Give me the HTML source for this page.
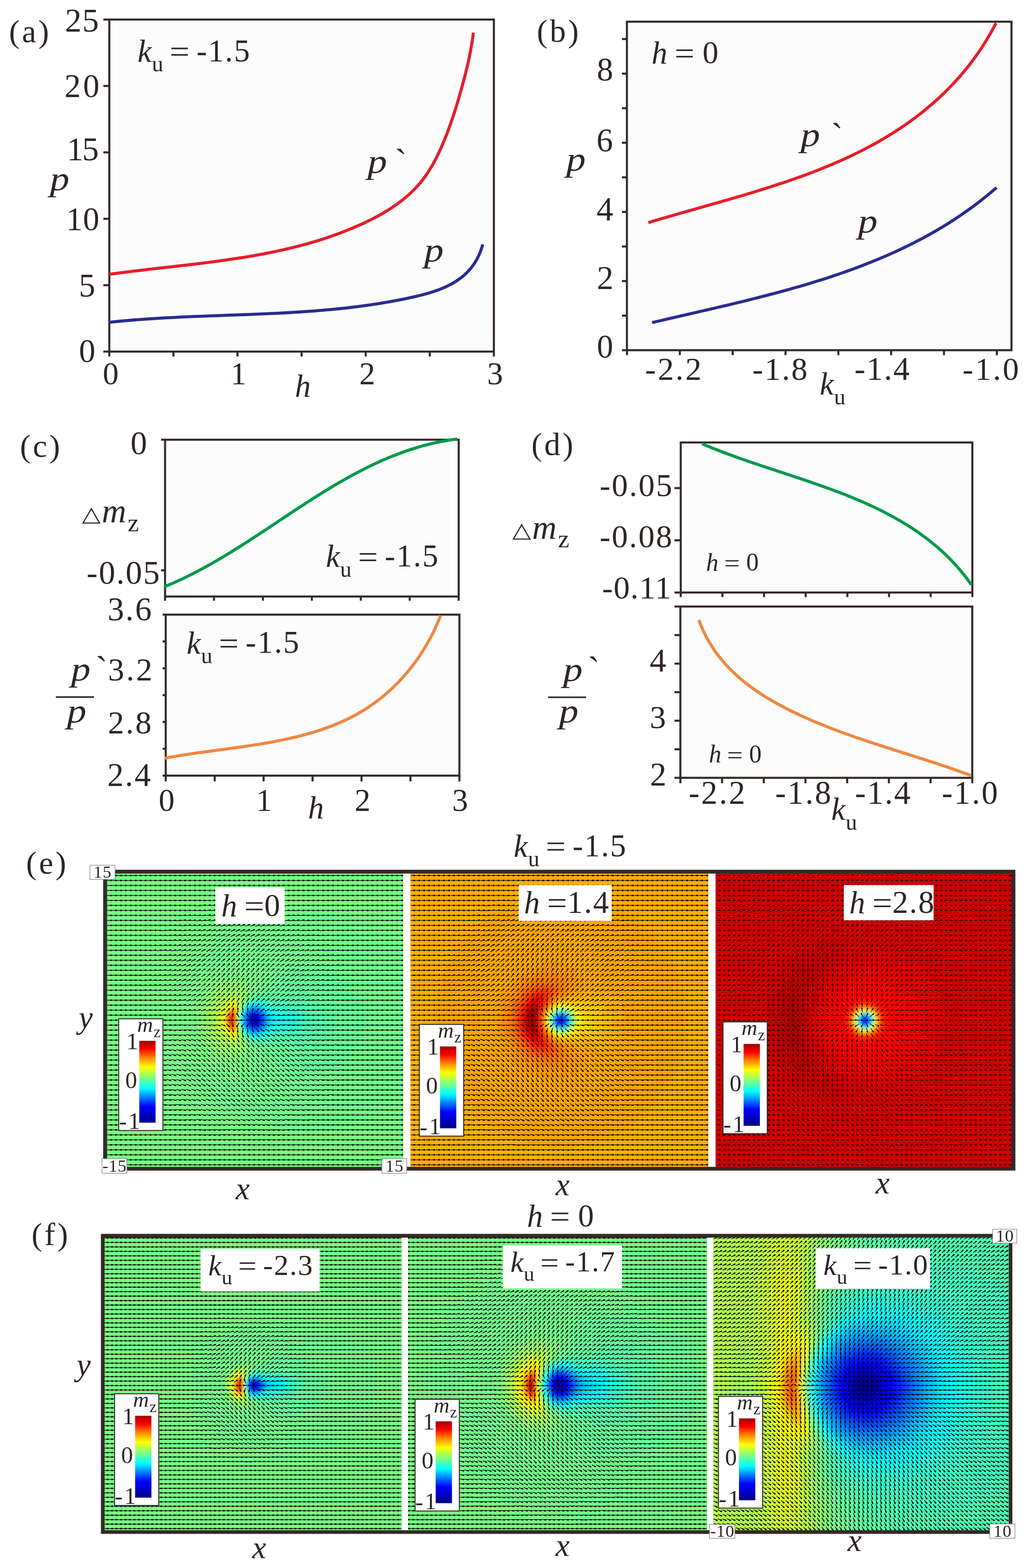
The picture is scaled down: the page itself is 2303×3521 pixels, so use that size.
<!DOCTYPE html>
<html><head><meta charset="utf-8"><title>figure</title>
<style>html,body{margin:0;padding:0;background:#fff;}svg{display:block;}
text{font-family:"Liberation Serif","Times New Roman",serif;fill:#2e2624;}</style></head>
<body><svg xmlns="http://www.w3.org/2000/svg" width="2303" height="3521" viewBox="0 0 2303 3521">
<rect width="2303" height="3521" fill="#fff"/>
<rect x="245.4" y="43.9" width="863.2" height="745.6" fill="#fcfcfc" stroke="#342a28" stroke-width="4.6"/>
<path d="M232 789.5L245.4 789.5" stroke="#342a28" stroke-width="4.6"/>
<path d="M232 640.4L245.4 640.4" stroke="#342a28" stroke-width="4.6"/>
<path d="M232 491.3L245.4 491.3" stroke="#342a28" stroke-width="4.6"/>
<path d="M232 342.1L245.4 342.1" stroke="#342a28" stroke-width="4.6"/>
<path d="M232 193L245.4 193" stroke="#342a28" stroke-width="4.6"/>
<path d="M232 43.9L245.4 43.9" stroke="#342a28" stroke-width="4.6"/>
<path d="M245.4 789.5L245.4 800.5" stroke="#342a28" stroke-width="4.6"/>
<path d="M389.3 789.5L389.3 800.5" stroke="#342a28" stroke-width="4.6"/>
<path d="M533.1 789.5L533.1 800.5" stroke="#342a28" stroke-width="4.6"/>
<path d="M677 789.5L677 800.5" stroke="#342a28" stroke-width="4.6"/>
<path d="M820.9 789.5L820.9 800.5" stroke="#342a28" stroke-width="4.6"/>
<path d="M964.7 789.5L964.7 800.5" stroke="#342a28" stroke-width="4.6"/>
<path d="M1108.6 789.5L1108.6 800.5" stroke="#342a28" stroke-width="4.6"/>
<text x="145.9" y="71.1" font-size="74" letter-spacing="1.9">25</text>
<text x="144.8" y="218.2" font-size="73.1" letter-spacing="5.1">20</text>
<text x="150.1" y="360.2" font-size="74.6" letter-spacing="-3">15</text>
<text x="148.5" y="516.9" font-size="73.5" letter-spacing="1">10</text>
<text x="177.1" y="665.7" font-size="73.6">5</text>
<text x="177.2" y="812.7" font-size="73.5">0</text>
<text x="230.7" y="863.2" font-size="71">0</text>
<text x="517.4" y="862.9" font-size="71">1</text>
<text x="806.5" y="863" font-size="71">2</text>
<text x="1093.5" y="863" font-size="71">3</text>
<path d="M244.8 616.0L258.5 614.2L272.2 612.4L285.9 610.6L299.6 608.9L313.4 607.3L327.2 605.7L341.1 604.0L355.0 602.5L368.9 600.9L382.8 599.3L396.7 597.7L410.6 596.1L424.6 594.5L438.6 592.8L452.5 591.1L466.5 589.4L480.4 587.6L494.4 585.7L508.3 583.7L522.2 581.7L536.1 579.6L550.0 577.4L563.9 575.1L577.7 572.6L591.5 570.1L605.3 567.4L619.0 564.5L632.7 561.6L646.4 558.4L660.0 555.2L673.5 551.7L687.1 548.1L700.5 544.2L713.9 540.2L727.3 536.0L740.5 531.6L753.7 526.9L766.9 522.0L779.9 516.9L792.9 511.5L805.8 505.9L818.7 500.1L831.4 493.9L843.9 487.4L856.2 480.7L868.2 473.5L880.0 466.0L891.4 458.1L902.5 449.8L913.1 441.1L923.3 431.9L933.0 422.2L942.1 412.1L950.6 401.4L958.6 390.2L966.0 378.6L973.0 366.6L979.5 354.3L985.6 341.7L991.4 328.9L996.9 316.0L1002.2 302.9L1007.2 289.7L1011.9 276.4L1016.5 263.0L1020.9 249.6L1025.1 236.2L1029.1 222.7L1033.0 209.2L1036.8 195.7L1040.5 182.3L1044.0 168.8L1047.3 155.3L1050.5 141.8L1053.4 128.3L1056.1 114.7L1058.5 101.0L1060.7 87.3L1062.6 73.4" stroke="#e61e2a" stroke-width="6.8" fill="none"/>
<path d="M244.7 723.8L255.9 722.6L267.1 721.5L278.4 720.4L289.6 719.5L300.9 718.5L312.1 717.6L323.4 716.8L334.6 716.0L345.9 715.3L357.1 714.6L368.4 713.9L379.7 713.3L391.0 712.8L402.3 712.2L413.5 711.7L424.8 711.2L436.1 710.7L447.4 710.3L458.7 709.8L470.0 709.4L481.3 709.0L492.6 708.6L503.9 708.2L515.2 707.7L526.6 707.3L537.9 706.9L549.2 706.5L560.5 706.1L571.8 705.6L583.1 705.2L594.4 704.7L605.7 704.2L617.0 703.6L628.3 703.1L639.6 702.5L650.9 701.9L662.2 701.2L673.5 700.5L684.8 699.7L696.1 698.9L707.4 698.1L718.7 697.2L730.0 696.2L741.3 695.2L752.5 694.1L763.8 693.0L775.1 691.8L786.3 690.5L797.6 689.1L808.8 687.7L820.1 686.2L831.3 684.6L842.6 682.9L853.8 681.1L865.0 679.2L876.2 677.3L887.4 675.2L898.6 673.1L909.8 670.8L921.0 668.4L932.2 665.9L943.3 663.3L954.3 660.4L965.2 657.3L975.9 653.8L986.4 650.1L996.6 645.9L1006.5 641.3L1016.0 636.2L1025.2 630.6L1034.0 624.4L1042.2 617.6L1050.0 610.1L1057.2 602.0L1063.9 593.0L1069.9 583.3L1075.2 572.7L1079.8 561.2L1083.7 548.8" stroke="#2a2c8e" stroke-width="6.8" fill="none"/>
<text x="20.2" y="95" font-size="72" letter-spacing="5">(a)</text>
<text x="662.1" y="891.3" font-size="71" font-style="italic">h</text>
<text transform="translate(112.1 427.2) scale(1.150 1)" font-size="76" font-style="italic">p</text>
<text x="308.7" y="138.9" font-size="71" font-style="italic">k</text>
<text x="340.9" y="160.2" font-size="51">u</text>
<text transform="translate(380.7 140.2) scale(1.120 1)" font-size="71">=</text>
<text x="440.9" y="137.7" font-size="71" letter-spacing="2.5">-1.5</text>
<text transform="translate(825.1 387.8) scale(1.150 1)" font-size="76" font-style="italic">p</text>
<text x="886.4" y="389.6" font-size="80">`</text>
<text transform="translate(952.1 586.8) scale(1.150 1)" font-size="76" font-style="italic">p</text>
<rect x="1407.2" y="48.7" width="863.2" height="737.7" fill="#fcfcfc" stroke="#342a28" stroke-width="4.6"/>
<path d="M1396 786.4L1407.2 786.4" stroke="#342a28" stroke-width="4.6"/>
<path d="M1396 708.8L1407.2 708.8" stroke="#342a28" stroke-width="4.6"/>
<path d="M1396 631.1L1407.2 631.1" stroke="#342a28" stroke-width="4.6"/>
<path d="M1396 553.5L1407.2 553.5" stroke="#342a28" stroke-width="4.6"/>
<path d="M1396 475.9L1407.2 475.9" stroke="#342a28" stroke-width="4.6"/>
<path d="M1396 398.2L1407.2 398.2" stroke="#342a28" stroke-width="4.6"/>
<path d="M1396 320.6L1407.2 320.6" stroke="#342a28" stroke-width="4.6"/>
<path d="M1396 243L1407.2 243" stroke="#342a28" stroke-width="4.6"/>
<path d="M1396 165.4L1407.2 165.4" stroke="#342a28" stroke-width="4.6"/>
<path d="M1396 87.7L1407.2 87.7" stroke="#342a28" stroke-width="4.6"/>
<path d="M1407.4 786.4L1407.4 797.5" stroke="#342a28" stroke-width="4.6"/>
<path d="M1526 786.4L1526 797.5" stroke="#342a28" stroke-width="4.6"/>
<path d="M1644.6 786.4L1644.6 797.5" stroke="#342a28" stroke-width="4.6"/>
<path d="M1763.2 786.4L1763.2 797.5" stroke="#342a28" stroke-width="4.6"/>
<path d="M1881.8 786.4L1881.8 797.5" stroke="#342a28" stroke-width="4.6"/>
<path d="M2000.3 786.4L2000.3 797.5" stroke="#342a28" stroke-width="4.6"/>
<path d="M2118.9 786.4L2118.9 797.5" stroke="#342a28" stroke-width="4.6"/>
<path d="M2237.5 786.4L2237.5 797.5" stroke="#342a28" stroke-width="4.6"/>
<text x="1339.7" y="803" font-size="73.2">0</text>
<text x="1339.8" y="649.3" font-size="74.6">2</text>
<text x="1339.1" y="494.6" font-size="75.1">4</text>
<text x="1339.1" y="340" font-size="73.5">6</text>
<text x="1339.7" y="181.3" font-size="73.2">8</text>
<text x="1448.1" y="853" font-size="72.8" letter-spacing="3.8">-2.2</text>
<text x="1688.8" y="853" font-size="72.4" letter-spacing="3">-1.8</text>
<text x="1917.9" y="853" font-size="73" letter-spacing="2.8">-1.4</text>
<text x="2160.6" y="853" font-size="72.4" letter-spacing="3.9">-1.0</text>
<path d="M1455.3 499.9L1466.2 496.6L1477.2 493.3L1488.2 490.1L1499.3 486.9L1510.4 483.7L1521.5 480.5L1532.7 477.3L1543.9 474.1L1555.1 470.9L1566.4 467.7L1577.7 464.5L1589.0 461.3L1600.3 458.1L1611.6 454.9L1623.0 451.6L1634.3 448.4L1645.7 445.1L1657.1 441.7L1668.5 438.4L1679.8 435.0L1691.2 431.6L1702.5 428.1L1713.9 424.5L1725.2 421.0L1736.5 417.3L1747.8 413.6L1759.1 409.9L1770.3 406.1L1781.5 402.2L1792.7 398.2L1803.8 394.2L1814.9 390.1L1826.0 385.9L1837.0 381.6L1847.9 377.2L1858.8 372.8L1869.7 368.2L1880.5 363.5L1891.2 358.8L1901.9 353.9L1912.5 348.9L1923.0 343.8L1933.5 338.6L1943.9 333.2L1954.2 327.8L1964.4 322.2L1974.6 316.5L1984.6 310.6L1994.6 304.6L2004.5 298.5L2014.3 292.2L2023.9 285.8L2033.5 279.2L2043.0 272.5L2052.3 265.7L2061.6 258.6L2070.7 251.5L2079.7 244.2L2088.6 236.7L2097.3 229.1L2106.0 221.3L2114.5 213.4L2122.8 205.3L2131.1 197.0L2139.1 188.5L2147.1 179.9L2154.9 171.2L2162.5 162.2L2170.0 153.1L2177.3 143.8L2184.5 134.3L2191.5 124.6L2198.4 114.8L2205.0 104.8L2211.5 94.5L2217.8 84.1L2224.0 73.5L2229.9 62.8L2235.7 51.8" stroke="#e61e2a" stroke-width="6.8" fill="none"/>
<path d="M1463.8 724.4L1474.0 722.0L1484.2 719.7L1494.4 717.3L1504.6 714.9L1514.9 712.5L1525.2 710.1L1535.5 707.8L1545.8 705.4L1556.1 703.0L1566.4 700.6L1576.8 698.3L1587.1 695.9L1597.5 693.5L1607.8 691.0L1618.2 688.6L1628.5 686.2L1638.9 683.7L1649.3 681.2L1659.7 678.7L1670.0 676.2L1680.4 673.6L1690.7 671.0L1701.1 668.4L1711.4 665.8L1721.8 663.1L1732.1 660.4L1742.4 657.7L1752.8 654.9L1763.1 652.1L1773.3 649.2L1783.6 646.3L1793.9 643.4L1804.1 640.4L1814.3 637.4L1824.5 634.3L1834.7 631.1L1844.9 627.9L1855.0 624.7L1865.1 621.4L1875.2 618.0L1885.3 614.6L1895.3 611.1L1905.3 607.5L1915.3 603.9L1925.3 600.2L1935.2 596.5L1945.1 592.6L1954.9 588.7L1964.7 584.7L1974.5 580.7L1984.2 576.5L1993.9 572.3L2003.6 568.0L2013.2 563.6L2022.8 559.2L2032.3 554.6L2041.8 550.0L2051.2 545.2L2060.6 540.4L2070.0 535.4L2079.3 530.4L2088.5 525.3L2097.7 520.1L2106.9 514.7L2115.9 509.3L2125.0 503.8L2133.9 498.1L2142.9 492.4L2151.7 486.5L2160.5 480.5L2169.2 474.4L2177.9 468.2L2186.5 461.9L2195.1 455.4L2203.5 448.8L2211.9 442.1L2220.3 435.3L2228.5 428.4L2236.7 421.3" stroke="#2a2c8e" stroke-width="6.8" fill="none"/>
<text x="1205.1" y="94.2" font-size="72" letter-spacing="5">(b)</text>
<text x="1462.4" y="143" font-size="71" font-style="italic">h</text>
<text transform="translate(1514 144.4) scale(1.120 1)" font-size="71">=</text>
<text x="1577" y="141.9" font-size="71" letter-spacing="2.5">0</text>
<text transform="translate(1797.1 327.8) scale(1.150 1)" font-size="76" font-style="italic">p</text>
<text x="1865.4" y="331.6" font-size="80">`</text>
<text transform="translate(1926.1 521.8) scale(1.150 1)" font-size="76" font-style="italic">p</text>
<text transform="translate(1271.1 382.8) scale(1.150 1)" font-size="76" font-style="italic">p</text>
<text x="1840" y="886.3" font-size="71" font-style="italic">k</text>
<text x="1872.2" y="907.6" font-size="51">u</text>
<rect x="370.5" y="987.4" width="659.1" height="352.1" fill="#fcfcfc" stroke="#342a28" stroke-width="4.6"/>
<path d="M361.5 987.4L370.5 987.4" stroke="#342a28" stroke-width="4.6"/>
<path d="M361.5 1280.7L370.5 1280.7" stroke="#342a28" stroke-width="4.6"/>
<path d="M370.5 1339.5L370.5 1348.9" stroke="#342a28" stroke-width="4.6"/>
<path d="M480.3 1339.5L480.3 1348.9" stroke="#342a28" stroke-width="4.6"/>
<path d="M590.2 1339.5L590.2 1348.9" stroke="#342a28" stroke-width="4.6"/>
<path d="M700 1339.5L700 1348.9" stroke="#342a28" stroke-width="4.6"/>
<path d="M809.9 1339.5L809.9 1348.9" stroke="#342a28" stroke-width="4.6"/>
<path d="M919.7 1339.5L919.7 1348.9" stroke="#342a28" stroke-width="4.6"/>
<path d="M1029.6 1339.5L1029.6 1348.9" stroke="#342a28" stroke-width="4.6"/>
<path d="M369.0 1317.6L377.6 1314.0L386.2 1310.4L394.7 1306.6L403.2 1302.7L411.6 1298.7L420.0 1294.7L428.4 1290.5L436.7 1286.3L444.9 1282.0L453.2 1277.6L461.4 1273.1L469.6 1268.6L477.7 1263.9L485.8 1259.3L493.9 1254.5L502.0 1249.7L510.0 1244.9L518.0 1240.0L526.0 1235.0L534.0 1230.0L541.9 1225.0L549.9 1219.9L557.8 1214.8L565.7 1209.7L573.6 1204.5L581.5 1199.4L589.4 1194.2L597.3 1189.0L605.1 1183.7L613.0 1178.5L620.9 1173.3L628.7 1168.0L636.6 1162.8L644.4 1157.6L652.3 1152.3L660.2 1147.1L668.1 1141.9L676.0 1136.8L683.9 1131.6L691.8 1126.5L699.7 1121.4L707.7 1116.4L715.6 1111.3L723.6 1106.4L731.6 1101.4L739.6 1096.5L747.7 1091.7L755.7 1086.9L763.8 1082.2L771.9 1077.6L780.1 1073.0L788.3 1068.5L796.5 1064.0L804.7 1059.7L813.0 1055.4L821.3 1051.2L829.7 1047.0L838.1 1043.0L846.5 1039.1L855.0 1035.2L863.5 1031.5L872.1 1027.9L880.7 1024.4L889.4 1021.0L898.1 1017.7L906.9 1014.5L915.7 1011.4L924.6 1008.5L933.6 1005.7L942.6 1003.0L951.6 1000.5L960.8 998.1L970.0 995.9L979.2 993.8L988.5 991.9L997.9 990.1L1007.4 988.4L1016.9 987.0L1026.5 985.6" stroke="#009b4b" stroke-width="6.8" fill="none"/>
<rect x="372" y="1380.2" width="659.2" height="361.5" fill="#fcfcfc" stroke="#342a28" stroke-width="4.6"/>
<path d="M365 1741.7L372 1741.7" stroke="#342a28" stroke-width="4.6"/>
<path d="M365 1681.5L372 1681.5" stroke="#342a28" stroke-width="4.6"/>
<path d="M365 1621.2L372 1621.2" stroke="#342a28" stroke-width="4.6"/>
<path d="M365 1561L372 1561" stroke="#342a28" stroke-width="4.6"/>
<path d="M365 1500.7L372 1500.7" stroke="#342a28" stroke-width="4.6"/>
<path d="M365 1440.5L372 1440.5" stroke="#342a28" stroke-width="4.6"/>
<path d="M365 1380.2L372 1380.2" stroke="#342a28" stroke-width="4.6"/>
<path d="M372 1741.7L372 1754.6" stroke="#342a28" stroke-width="4.6"/>
<path d="M481.9 1741.7L481.9 1754.6" stroke="#342a28" stroke-width="4.6"/>
<path d="M591.7 1741.7L591.7 1754.6" stroke="#342a28" stroke-width="4.6"/>
<path d="M701.6 1741.7L701.6 1754.6" stroke="#342a28" stroke-width="4.6"/>
<path d="M811.5 1741.7L811.5 1754.6" stroke="#342a28" stroke-width="4.6"/>
<path d="M921.3 1741.7L921.3 1754.6" stroke="#342a28" stroke-width="4.6"/>
<path d="M1031.2 1741.7L1031.2 1754.6" stroke="#342a28" stroke-width="4.6"/>
<path d="M369.7 1702.6L378.4 1700.9L387.3 1699.3L396.2 1697.8L405.1 1696.4L414.2 1694.9L423.3 1693.6L432.4 1692.2L441.6 1690.9L450.8 1689.6L460.1 1688.3L469.4 1687.1L478.7 1685.8L488.1 1684.5L497.5 1683.3L506.9 1682.0L516.4 1680.7L525.8 1679.4L535.3 1678.1L544.8 1676.8L554.2 1675.4L563.7 1674.0L573.2 1672.5L582.6 1671.0L592.1 1669.4L601.5 1667.8L611.0 1666.1L620.3 1664.3L629.7 1662.4L639.1 1660.5L648.4 1658.5L657.6 1656.4L666.8 1654.2L676.0 1651.9L685.2 1649.4L694.2 1646.9L703.3 1644.2L712.2 1641.5L721.1 1638.6L729.9 1635.5L738.7 1632.3L747.4 1629.0L756.0 1625.5L764.5 1621.9L772.9 1618.1L781.3 1614.1L789.5 1610.0L797.7 1605.7L805.7 1601.2L813.7 1596.5L821.5 1591.6L829.2 1586.5L836.8 1581.2L844.3 1575.8L851.7 1570.2L858.9 1564.3L866.1 1558.4L873.0 1552.2L879.9 1545.9L886.6 1539.4L893.2 1532.8L899.7 1526.0L906.0 1519.0L912.2 1511.9L918.2 1504.7L924.1 1497.3L929.8 1489.8L935.3 1482.2L940.8 1474.4L946.0 1466.5L951.1 1458.5L956.0 1450.4L960.8 1442.2L965.3 1433.8L969.8 1425.4L974.0 1416.9L978.0 1408.2L981.9 1399.5L985.6 1390.7L989.1 1381.8" stroke="#f08741" stroke-width="6.8" fill="none"/>
<text x="44.8" y="1026" font-size="72" letter-spacing="5">(c)</text>
<text x="293" y="1020.2" font-size="74.1">0</text>
<text x="194.6" y="1310.8" font-size="73.8" letter-spacing="2.5">-0.05</text>
<text x="241.4" y="1393" font-size="74.1" letter-spacing="3.1">3.6</text>
<text x="242.6" y="1527.5" font-size="72.9" letter-spacing="4.1">3.2</text>
<text x="242.3" y="1647.4" font-size="72.7" letter-spacing="3.5">2.8</text>
<text x="241" y="1765.2" font-size="73.2" letter-spacing="3">2.4</text>
<text x="356.2" y="1821.2" font-size="71">0</text>
<text x="575" y="1820.9" font-size="71">1</text>
<text x="796.1" y="1821" font-size="71">2</text>
<text x="1015.1" y="1821" font-size="71">3</text>
<text x="691.4" y="1838.3" font-size="71" font-style="italic">h</text>
<text x="731.4" y="1273.2" font-size="71" font-style="italic">k</text>
<text x="763.6" y="1294.5" font-size="51">u</text>
<text transform="translate(803.4 1274.5) scale(1.120 1)" font-size="71">=</text>
<text x="863.6" y="1272" font-size="71" letter-spacing="2.5">-1.5</text>
<text x="419.1" y="1467.6" font-size="71" font-style="italic">k</text>
<text x="451.3" y="1488.9" font-size="51">u</text>
<text transform="translate(491.1 1468.9) scale(1.120 1)" font-size="71">=</text>
<text x="551.3" y="1466.4" font-size="71" letter-spacing="2.5">-1.5</text>
<rect x="1528" y="993.6" width="654.6" height="336.9" fill="#fcfcfc" stroke="#342a28" stroke-width="4.6"/>
<path d="M1514 1096L1528 1096" stroke="#342a28" stroke-width="4.6"/>
<path d="M1514 1213.3L1528 1213.3" stroke="#342a28" stroke-width="4.6"/>
<path d="M1514 1330.5L1528 1330.5" stroke="#342a28" stroke-width="4.6"/>
<path d="M1528 1330.5L1528 1340.7" stroke="#342a28" stroke-width="4.6"/>
<path d="M1621.5 1330.5L1621.5 1340.7" stroke="#342a28" stroke-width="4.6"/>
<path d="M1715 1330.5L1715 1340.7" stroke="#342a28" stroke-width="4.6"/>
<path d="M1808.5 1330.5L1808.5 1340.7" stroke="#342a28" stroke-width="4.6"/>
<path d="M1902.1 1330.5L1902.1 1340.7" stroke="#342a28" stroke-width="4.6"/>
<path d="M1995.6 1330.5L1995.6 1340.7" stroke="#342a28" stroke-width="4.6"/>
<path d="M2089.1 1330.5L2089.1 1340.7" stroke="#342a28" stroke-width="4.6"/>
<path d="M2182.6 1330.5L2182.6 1340.7" stroke="#342a28" stroke-width="4.6"/>
<path d="M1576.1 996.5L1583.9 999.8L1591.8 1003.1L1599.7 1006.3L1607.7 1009.5L1615.7 1012.6L1623.8 1015.7L1631.9 1018.8L1640.1 1021.8L1648.2 1024.8L1656.4 1027.7L1664.7 1030.6L1673.0 1033.5L1681.3 1036.4L1689.6 1039.2L1697.9 1042.0L1706.3 1044.9L1714.7 1047.7L1723.1 1050.5L1731.5 1053.2L1739.9 1056.0L1748.3 1058.8L1756.7 1061.6L1765.2 1064.4L1773.6 1067.1L1782.1 1069.9L1790.5 1072.8L1799.0 1075.6L1807.4 1078.4L1815.8 1081.3L1824.2 1084.2L1832.6 1087.1L1841.0 1090.1L1849.4 1093.0L1857.8 1096.1L1866.1 1099.1L1874.4 1102.2L1882.7 1105.3L1891.0 1108.5L1899.2 1111.7L1907.4 1115.0L1915.6 1118.4L1923.7 1121.8L1931.8 1125.2L1939.9 1128.7L1947.9 1132.3L1955.8 1136.0L1963.8 1139.7L1971.6 1143.5L1979.5 1147.4L1987.2 1151.3L1995.0 1155.4L2002.6 1159.5L2010.2 1163.7L2017.8 1168.0L2025.3 1172.4L2032.7 1176.9L2040.0 1181.5L2047.3 1186.1L2054.5 1190.9L2061.7 1195.8L2068.7 1200.9L2075.7 1206.0L2082.6 1211.2L2089.4 1216.6L2096.2 1222.1L2102.8 1227.7L2109.4 1233.4L2115.8 1239.3L2122.2 1245.3L2128.5 1251.4L2134.7 1257.7L2140.8 1264.1L2146.8 1270.6L2152.6 1277.3L2158.4 1284.2L2164.1 1291.2L2169.7 1298.4L2175.1 1305.7L2180.5 1313.2" stroke="#009b4b" stroke-width="6.8" fill="none"/>
<rect x="1527.2" y="1362" width="655.2" height="384.6" fill="#fcfcfc" stroke="#342a28" stroke-width="4.6"/>
<path d="M1514 1746.6L1527.2 1746.6" stroke="#342a28" stroke-width="4.6"/>
<path d="M1514 1682.5L1527.2 1682.5" stroke="#342a28" stroke-width="4.6"/>
<path d="M1514 1618.4L1527.2 1618.4" stroke="#342a28" stroke-width="4.6"/>
<path d="M1514 1554.3L1527.2 1554.3" stroke="#342a28" stroke-width="4.6"/>
<path d="M1514 1490.2L1527.2 1490.2" stroke="#342a28" stroke-width="4.6"/>
<path d="M1514 1426.1L1527.2 1426.1" stroke="#342a28" stroke-width="4.6"/>
<path d="M1514 1362L1527.2 1362" stroke="#342a28" stroke-width="4.6"/>
<path d="M1527.2 1746.6L1527.2 1758.8" stroke="#342a28" stroke-width="4.6"/>
<path d="M1620.8 1746.6L1620.8 1758.8" stroke="#342a28" stroke-width="4.6"/>
<path d="M1714.4 1746.6L1714.4 1758.8" stroke="#342a28" stroke-width="4.6"/>
<path d="M1808 1746.6L1808 1758.8" stroke="#342a28" stroke-width="4.6"/>
<path d="M1901.6 1746.6L1901.6 1758.8" stroke="#342a28" stroke-width="4.6"/>
<path d="M1995.2 1746.6L1995.2 1758.8" stroke="#342a28" stroke-width="4.6"/>
<path d="M2088.8 1746.6L2088.8 1758.8" stroke="#342a28" stroke-width="4.6"/>
<path d="M2182.4 1746.6L2182.4 1758.8" stroke="#342a28" stroke-width="4.6"/>
<path d="M1568.5 1392.2L1572.1 1401.4L1575.8 1410.4L1579.9 1419.2L1584.1 1427.7L1588.6 1436.0L1593.3 1444.1L1598.2 1452.0L1603.3 1459.7L1608.6 1467.2L1614.2 1474.4L1619.9 1481.5L1625.7 1488.4L1631.8 1495.2L1638.0 1501.7L1644.4 1508.1L1651.0 1514.3L1657.7 1520.3L1664.5 1526.2L1671.5 1531.9L1678.6 1537.5L1685.8 1542.9L1693.2 1548.2L1700.7 1553.4L1708.2 1558.4L1715.9 1563.3L1723.7 1568.1L1731.6 1572.8L1739.5 1577.3L1747.5 1581.8L1755.6 1586.1L1763.8 1590.4L1772.0 1594.6L1780.3 1598.6L1788.6 1602.6L1796.9 1606.5L1805.4 1610.4L1813.8 1614.1L1822.3 1617.8L1830.8 1621.5L1839.4 1625.0L1848.0 1628.5L1856.6 1631.9L1865.2 1635.3L1873.9 1638.6L1882.6 1641.9L1891.3 1645.1L1900.1 1648.3L1908.9 1651.4L1917.6 1654.5L1926.4 1657.5L1935.3 1660.5L1944.1 1663.5L1952.9 1666.5L1961.8 1669.4L1970.6 1672.3L1979.5 1675.2L1988.3 1678.0L1997.2 1680.8L2006.0 1683.7L2014.9 1686.5L2023.7 1689.3L2032.5 1692.1L2041.3 1694.9L2050.1 1697.7L2058.9 1700.5L2067.7 1703.3L2076.5 1706.1L2085.2 1708.9L2093.9 1711.7L2102.6 1714.6L2111.2 1717.5L2119.9 1720.3L2128.5 1723.3L2137.0 1726.2L2145.6 1729.2L2154.0 1732.2L2162.5 1735.2L2170.9 1738.3L2179.3 1741.4" stroke="#f08741" stroke-width="6.8" fill="none"/>
<text x="1192.8" y="1022" font-size="72" letter-spacing="5">(d)</text>
<text x="1345.9" y="1114.2" font-size="72.7" letter-spacing="2.9">-0.05</text>
<text x="1345.9" y="1228.9" font-size="72.7" letter-spacing="2.8">-0.08</text>
<text x="1351.4" y="1343.6" font-size="72.9" letter-spacing="1.5">-0.11</text>
<text x="1458.3" y="1507.6" font-size="74.1">4</text>
<text x="1458.5" y="1635.1" font-size="72.6">3</text>
<text x="1459" y="1764" font-size="73.7">2</text>
<text x="1545.8" y="1805" font-size="73.3" letter-spacing="3.6">-2.2</text>
<text x="1740" y="1805" font-size="73" letter-spacing="3.3">-1.8</text>
<text x="1919.1" y="1805" font-size="73.6" letter-spacing="2.7">-1.4</text>
<text x="2113.9" y="1805" font-size="73" letter-spacing="3.4">-1.0</text>
<text x="1866" y="1841.3" font-size="71" font-style="italic">k</text>
<text x="1898.2" y="1862.6" font-size="51">u</text>
<text x="1584.7" y="1282.1" font-size="56" font-style="italic">h</text>
<text transform="translate(1625.4 1283.2) scale(1.120 1)" font-size="56">=</text>
<text x="1675" y="1281.2" font-size="56" letter-spacing="2">0</text>
<text x="1591.2" y="1712.4" font-size="56" font-style="italic">h</text>
<text transform="translate(1631.9 1713.5) scale(1.120 1)" font-size="56">=</text>
<text x="1681.5" y="1711.5" font-size="56" letter-spacing="2">0</text>
<text transform="translate(183.8 1169.9) scale(1.160 1)" font-size="47" font-family="DejaVu Sans">△</text>
<text x="228.4" y="1173.3" font-size="76" font-style="italic">m</text>
<text x="286.4" y="1192.6" font-size="57">z</text>
<text transform="translate(1149.8 1206.4) scale(1.160 1)" font-size="47" font-family="DejaVu Sans">△</text>
<text x="1194.4" y="1209.8" font-size="76" font-style="italic">m</text>
<text x="1252.4" y="1229.1" font-size="57">z</text>
<text transform="translate(159.4 1528.4) scale(1.150 1)" font-size="76" font-style="italic">p</text>
<text x="214.8" y="1529" font-size="80">`</text>
<path d="M125.4 1565.2L211.1 1565.2" stroke="#2e2624" stroke-width="3.4"/>
<text transform="translate(150.2 1621.9) scale(1.150 1)" font-size="76" font-style="italic">p</text>
<text transform="translate(1264 1528.9) scale(1.150 1)" font-size="76" font-style="italic">p</text>
<text x="1319.4" y="1529.5" font-size="80">`</text>
<path d="M1230 1565.7L1315.7 1565.7" stroke="#2e2624" stroke-width="3.4"/>
<text transform="translate(1254.8 1622.4) scale(1.150 1)" font-size="76" font-style="italic">p</text>
<defs><path id="ar0" transform="scale(.5)" d="M1079 4021l-22 2m44-2l-22 2m44-2l-22 2m-133 20l-22 2m44-2l-22 2m44-2l-22 2m45-2l-22 2m44-2l-22 2m44-2l-22 2m44-2l-22 2m44-2l-22 2m44-2l-22 2m44-2l-22 2m44-2l-22 2m45-2l-22 2m44-2l-22 2m-310 21l-22 2m44-3l-22 2m44-2l-22 2m44-2l-22 2m44-2l-22 2m44-2l-22 3m44-3l-22 3m45-3l-22 3m44-3l-22 3m44-3l-22 3m44-3l-22 3m44-3l-22 3m44-3l-22 3m44-3l-22 3m45-3l-22 2m44-2l-22 2m44-2l-22 2m44-2l-22 2m44-1l-22 2m-421 20l-22 2m45-2l-22 2m44-2l-22 2m44-2l-22 2m44-3l-22 3m44-3l-22 3m44-3l-22 3m44-3l-22 3m44-3l-22 4m45-4l-22 4m44-4l-22 4m44-4l-22 4m44-4l-22 4m44-4l-22 4m44-4l-22 4m44-4l-22 3m45-3l-22 3m44-3l-22 3m44-3l-22 3m44-2l-22 2m44-2l-22 2m44-2l-22 2m44-2l-22 2m-487 20l-22 2m44-2l-22 2m45-2l-22 2m44-2l-22 3m44-3l-22 3m44-4l-22 3m44-3l-22 4m44-4l-22 4m44-4l-22 4m44-4l-22 5m44-5l-21 5m44-5l-21 5m43-5l-21 5m43-5l-21 5m43-5l-21 5m43-5l-22 5m44-5l-22 4m44-4l-22 4m45-4l-22 4m44-4l-22 3m44-2l-22 3m44-3l-22 3m44-3l-22 2m44-2l-22 2m45-2l-22 2m-554 21l-22 2m44-2l-22 2m44-3l-22 2m44-2l-22 3m44-3l-22 3m45-3l-22 4m44-4l-22 4m44-5l-22 4m44-4l-21 5m43-5l-21 5m43-5l-21 5m43-5l-21 6m43-6l-21 6m43-6l-21 6m44-6l-21 6m43-6l-21 6m43-6l-21 6m43-6l-21 6m43-6l-21 5m43-5l-21 5m44-5l-21 5m43-5l-22 4m44-3l-22 4m44-4l-22 4m44-4l-22 3m44-3l-22 3m45-3l-22 2m44-1l-22 2m44-2l-22 2m-620 20l-22 2m44-2l-22 2m44-2l-22 2m44-2l-22 3m44-4l-22 3m44-3l-22 4m44-4l-22 4m45-4l-21 5m43-6l-21 5m43-5l-21 6m43-6l-21 6m43-6l-21 7m43-7l-21 7m43-8l-21 7m43-7l-21 7m43-7l-21 7m43-7l-21 7m44-7l-21 7m43-6l-21 7m43-7l-21 7m43-7l-21 6m43-6l-21 6m44-6l-21 5m43-4l-21 5m43-5l-22 4m44-4l-22 4m44-4l-22 3m45-2l-22 3m44-3l-22 2m44-2l-22 2m44-2l-22 2m-664 21l-22 2m44-3l-22 2m44-2l-22 2m44-2l-22 3m44-3l-22 4m44-5l-22 4m44-4l-21 5m43-5l-21 5m43-6l-21 6m44-6l-21 7m43-7l-21 7m43-7l-21 8m43-9l-21 8m43-8l-20 8m42-8l-20 9m42-9l-20 9m42-9l-20 9m42-9l-20 9m42-9l-20 9m43-9l-20 8m42-8l-21 8m43-7l-21 8m43-8l-21 7m43-7l-21 7m44-7l-21 6m43-5l-21 5m43-5l-21 5m43-5l-22 4m45-3l-22 4m44-4l-22 3m44-3l-22 3m44-3l-22 2m44-1l-22 2m-708 20l-22 2m44-2l-22 2m44-2l-22 2m44-3l-22 3m44-3l-22 4m44-4l-22 4m44-5l-21 5m43-5l-21 6m43-6l-21 6m43-7l-21 7m43-7l-21 8m43-8l-20 8m42-9l-20 9m42-9l-20 9m42-9l-20 10m43-10l-20 10m42-10l-20 10m42-10l-20 10m42-10l-20 10m42-10l-20 10m42-10l-20 10m43-10l-20 9m42-9l-20 9m42-8l-20 8m42-8l-21 8m44-8l-21 7m43-6l-21 6m43-6l-21 6m43-6l-21 5m43-4l-22 4m45-4l-22 4m44-4l-22 3m44-2l-22 2m44-2l-22 2m44-2l-22 2m-730 20l-22 2m44-2l-22 2m44-2l-22 3m44-4l-22 4m44-4l-22 4m44-4l-21 5m43-6l-21 6m43-6l-21 7m43-7l-21 7m43-8l-20 8m42-8l-20 9m42-10l-20 9m42-9l-20 10m42-10l-19 11m41-11l-19 11m41-11l-19 11m41-12l-19 11m41-11l-19 11m42-11l-19 11m41-10l-19 11m41-11l-19 11m41-11l-19 11m41-11l-20 10m43-10l-20 9m42-8l-20 9m42-9l-20 8m43-7l-21 7m43-7l-21 7m43-7l-21 6m43-5l-21 5m44-5l-22 4m44-4l-22 4m44-3l-22 3m44-3l-22 2m44-2l-22 2m-753 21l-22 2m45-2l-22 2m44-3l-22 3m44-3l-22 3m44-3l-22 4m44-5l-21 5m43-5l-21 6m43-7l-21 7m43-7l-21 7m43-8l-20 8m42-8l-20 9m42-9l-20 10m42-11l-19 11m41-11l-19 11m41-11l-19 12m41-12l-18 12m40-13l-18 12m40-12l-18 13m40-13l-18 13m40-13l-18 13m40-13l-18 12m41-11l-18 12m40-12l-19 12m41-12l-19 11m41-11l-19 11m42-10l-20 10m42-10l-20 9m42-9l-20 8m43-7l-21 7m43-7l-21 7m43-6l-21 6m44-6l-21 5m43-4l-22 4m44-4l-22 3m44-3l-22 3m44-3l-22 2m44-1l-22 2m-775 20l-22 2m45-2l-22 3m44-4l-22 3m44-3l-22 4m44-4l-22 5m44-6l-21 5m43-5l-21 6m43-7l-21 7m43-7l-20 8m42-9l-20 9m42-9l-20 10m42-10l-19 11m40-12l-19 12m41-12l-18 12m40-12l-18 13m40-14l-18 13m40-13l-17 14m39-14l-17 14m40-14l-17 14m39-14l-17 14m39-14l-17 14m39-14l-18 13m40-12l-18 13m41-13l-18 12m40-12l-19 12m42-11l-19 11m41-11l-20 10m42-10l-20 9m43-8l-20 8m42-8l-21 7m43-6l-21 6m43-6l-21 6m44-5l-21 5m43-5l-22 4m44-4l-22 3m44-2l-22 3m44-3l-22 2m45-2l-22 2m-820 21l-22 2m44-3l-22 2m45-2l-22 3m44-3l-22 3m44-4l-22 4m44-4l-21 5m43-6l-21 6m43-6l-21 7m43-8l-20 8m42-8l-20 9m42-10l-20 10m41-10l-19 11m41-11l-19 12m41-13l-18 12m40-12l-18 13m40-13l-17 14m39-15l-17 14m39-14l-17 14m39-14l-16 15m38-15l-16 15m38-15l-16 15m39-15l-17 14m39-14l-17 14m39-13l-17 14m39-14l-18 13m41-13l-18 13m40-12l-19 12m42-12l-19 11m41-11l-20 10m42-9l-20 9m43-9l-20 8m42-7l-21 7m43-7l-21 6m44-5l-21 5m43-5l-22 4m44-3l-22 4m44-4l-22 3m44-3l-22 2m45-1l-22 2m-820 20l-22 2m44-2l-22 2m44-3l-22 3m45-3l-22 4m44-5l-22 5m44-5l-21 6m43-6l-21 7m43-8l-21 8m43-8l-20 9m41-10l-20 10m42-10l-19 11m41-12l-19 12m41-12l-18 12m40-13l-18 13m40-13l-17 14m39-14l-17 14m39-15l-16 15m38-15l-16 15m38-15l-16 16m38-16l-15 16m37-16l-16 16m38-16l-16 15m38-15l-16 15m39-14l-17 14m39-14l-17 14m40-14l-18 13m40-12l-18 12m40-12l-19 12m42-12l-19 11m41-10l-20 10m43-9l-20 9m42-9l-21 8m43-7l-21 7m44-7l-21 6m43-6l-21 5m43-4l-22 4m44-4l-22 3m44-2l-22 2m45-2l-22 2m-842 20l-22 2m44-2l-22 2m44-2l-22 3m44-3l-22 3m45-4l-22 4m44-4l-21 5m43-6l-21 6m43-6l-21 7m43-8l-21 8m42-8l-20 9m42-10l-20 10m42-10l-19 11m41-12l-18 12m40-12l-18 13m40-14l-17 14m39-14l-16 15m37-15l-16 15m38-16l-15 16m37-16l-15 16m37-16l-14 17m36-17l-14 17m36-17l-14 17m37-17l-15 16m37-16l-15 16m37-15l-16 15m39-15l-16 15m38-15l-17 14m40-13l-18 13m40-13l-18 12m41-11l-19 11m41-11l-20 10m43-9l-20 9m42-9l-21 8m43-7l-21 7m44-7l-21 6m43-5l-21 5m43-5l-22 4m44-3l-22 3m44-3l-22 3m45-3l-22 2m44-2l-22 2m-864 21l-22 2m44-2l-22 2m44-3l-22 3m44-3l-22 3m45-4l-22 4m44-4l-21 5m43-5l-21 6m43-7l-21 7m43-7l-20 8m41-9l-20 9m42-10l-19 10m41-10l-19 11m41-12l-18 12m40-12l-17 13m38-14l-17 14m39-14l-16 15m38-15l-15 16m37-17l-14 17m35-17l-14 17m36-17l-13 18m36-18l-13 18m35-18l-13 18m35-18l-14 17m36-17l-14 17m37-16l-15 16m38-16l-16 15m38-15l-17 14m40-13l-17 13m39-13l-18 12m41-11l-19 11m41-11l-19 10m41-9l-20 9m43-8l-20 8m42-8l-21 7m44-6l-21 6m43-6l-21 5m43-5l-22 4m44-3l-22 3m44-3l-22 3m45-2l-22 2m44-2l-22 2m-864 20l-22 2m44-2l-22 2m44-2l-22 3m44-4l-22 4m45-4l-22 4m44-5l-21 5m43-5l-21 6m43-7l-21 7m43-7l-20 8m41-9l-20 9m42-9l-19 10m41-11l-19 11m41-11l-18 13m40-14l-17 14m38-14l-16 15m38-16l-15 16m37-16l-14 17m35-18l-13 17m35-17l-13 18m35-18l-13 18m35-18l-13 18m35-18l-13 18m36-18l-13 18m35-18l-13 17m36-16l-14 17m36-17l-15 16m38-15l-16 15m39-15l-17 14m39-13l-18 13m41-13l-19 11m41-10l-19 10m41-10l-20 9m43-8l-20 8m42-8l-21 7m43-6l-21 6m44-6l-21 5m43-4l-22 4m44-4l-22 4m44-3l-22 3m45-3l-22 2m44-2l-22 2m-864 21l-22 2m44-3l-22 2m44-2l-22 3m44-3l-22 3m45-4l-22 4m44-4l-21 5m43-6l-21 6m43-6l-21 7m43-8l-20 8m41-8l-20 9m42-10l-20 10m42-10l-19 11m41-12l-18 13m39-14l-17 14m39-14l-16 15m38-16l-15 16m36-16l-14 17m36-17l-13 17m35-18l-13 18m35-18l-13 18m35-18l-13 18m35-18l-13 18m36-18l-13 18m35-17l-13 17m36-17l-14 17m36-17l-15 16m38-15l-16 15m38-15l-17 14m40-13l-18 13m41-12l-19 11m41-11l-19 10m42-9l-20 9m42-9l-20 8m42-7l-21 7m44-7l-21 6m43-5l-21 5m43-5l-22 4m44-3l-22 3m44-3l-22 3m45-3l-22 2m44-1l-22 2m-864 20l-22 2m44-2l-22 2m44-3l-22 3m44-3l-22 3m45-3l-22 4m44-5l-21 5m43-5l-21 6m43-7l-21 7m43-7l-21 8m43-9l-20 9m41-9l-20 10m42-11l-19 11m41-12l-18 13m39-13l-17 14m39-15l-16 15m38-15l-15 16m37-17l-14 17m35-17l-14 17m36-17l-13 18m35-18l-13 18m35-18l-13 18m36-18l-13 18m35-18l-13 18m35-18l-14 17m37-17l-14 17m36-16l-15 16m38-16l-16 15m38-14l-17 14m40-14l-18 13m41-12l-19 11m41-10l-20 10m43-10l-20 9m42-8l-21 8m43-8l-21 7m44-6l-21 6m43-6l-21 5m43-4l-22 4m44-4l-22 3m44-3l-22 3m45-2l-22 2m44-2l-22 2m-864 20l-22 2m44-2l-22 2m44-2l-22 3m44-3l-22 3m45-4l-22 4m44-4l-22 5m44-5l-21 5m43-6l-21 6m43-6l-21 7m43-8l-20 8m42-8l-20 9m41-10l-19 11m41-12l-18 12m40-13l-17 13m38-13l-17 14m39-14l-16 15m38-16l-15 16m37-16l-14 17m36-17l-14 17m36-18l-13 17m35-17l-13 18m35-18l-13 17m35-16l-14 17m37-17l-14 17m36-17l-15 16m38-15l-16 15m38-15l-17 14m40-14l-17 13m39-12l-18 12m41-11l-19 11m41-10l-20 9m43-9l-20 8m42-7l-21 7m43-7l-21 6m44-6l-21 5m43-4l-21 5m43-5l-22 4m44-3l-22 3m44-3l-22 3m45-3l-22 2m44-2l-22 2m-842 21l-22 2m44-3l-22 2m45-2l-22 3m44-3l-22 3m44-3l-22 4m44-5l-21 5m43-5l-21 6m43-7l-21 6m43-6l-21 7m43-8l-20 9m42-9l-20 10m41-11l-19 11m41-12l-18 12m40-12l-17 13m39-14l-17 14m38-14l-16 15m38-15l-15 16m37-17l-14 17m36-17l-13 17m35-17l-13 18m35-18l-13 17m35-17l-14 17m37-16l-15 16m37-16l-16 15m39-15l-17 14m40-13l-17 13m39-13l-18 12m41-11l-19 11m41-10l-20 10m42-10l-20 9m43-8l-21 7m43-7l-21 6m43-5l-21 6m44-6l-21 5m43-4l-22 4m44-4l-22 3m44-3l-22 3m44-3l-22 2m45-1l-22 2m-798 20l-22 2m45-2l-22 2m44-2l-22 3m44-4l-22 3m44-3l-22 4m44-4l-21 5m43-6l-21 5m43-5l-21 6m43-7l-21 7m43-7l-20 9m42-10l-20 10m42-10l-19 11m40-12l-18 12m40-13l-18 13m40-13l-17 14m38-15l-15 16m36-17l-14 17m36-17l-12 18m34-18l-12 19m34-19l-12 18m35-18l-14 17m37-16l-15 16m38-15l-17 14m39-14l-18 13m41-12l-18 12m40-11l-19 11m42-11l-20 10m42-9l-20 9m43-9l-21 8m43-7l-21 6m43-6l-21 5m44-4l-21 5m43-5l-22 4m44-4l-22 3m44-2l-22 3m44-3l-22 2m44-2l-22 2m-752 20l-22 2m44-2l-22 2m44-2l-22 3m44-3l-22 3m44-3l-22 4m44-5l-22 4m44-4l-21 5m43-6l-21 6m43-6l-21 7m43-8l-21 8m43-8l-20 9m42-10l-20 10m42-10l-19 11m40-12l-17 13m38-14l-15 16m35-18l-11 18m32-19l-8 20m29-20l-7 21m30-21l-8 20m32-19l-11 18m35-16l-15 16m38-15l-17 13m40-12l-19 11m42-11l-19 10m41-9l-20 9m42-9l-20 8m43-7l-21 7m43-7l-21 6m43-5l-21 5m43-5l-22 4m45-3l-22 4m44-4l-22 3m44-3l-22 3m44-3l-22 2m44-2l-22 2m-708 21l-22 2m44-2l-22 2m44-2l-22 2m44-2l-22 3m44-4l-22 3m44-3l-22 4m44-4l-22 4m44-5l-21 5m43-5l-21 6m44-6l-21 6m42-7l-21 7m43-8l-20 9m42-10l-19 11m39-13l-15 16m33-18l-7 19m26-20l0 22m21-22l2 22m21-21l0 21m25-20l-6 18m32-16l-13 14m37-13l-18 11m41-10l-20 9m43-8l-20 7m42-6l-21 6m44-6l-21 6m43-6l-21 5m43-4l-21 4m43-4l-22 4m45-4l-22 3m44-2l-22 3m44-3l-22 2m44-2l-22 2m44-2l-22 2m-576 20l-22 2m45-2l-22 2m44-2l-22 3m44-3l-22 3m44-3l-22 3m44-4l-22 4m44-4l-21 5m43-7l-20 7m39-9l-16 13m31-15l-1 16m17-17l12 18m9-17l14 16m10-15l10 15m17-15l0 14m28-12l-12 10m38-8l-18 7m41-6l-20 5m42-5l-21 4m44-3l-21 3m43-3l-22 3m44-3l-22 2m44-2l-22 2m44-2l-22 2m-289 22l-19 0m25 0l13-1m5 1l22 0m0 0l21 0m4 0l17 0m10 0l7-1m25 1l-13 0m38 0l-18 0m-335 23l-22-2m44 2l-22-2m45 2l-22-2m44 2l-22-3m44 3l-22-3m44 4l-22-3m44 3l-22-4m44 5l-21-5m43 6l-20-8m39 11l-15-13m30 14l-1-17m17 18l11-19m10 18l14-16m10 16l10-16m17 15l0-14m28 12l-12-11m38 9l-18-7m41 7l-20-5m42 4l-21-4m44 4l-21-3m43 2l-22-3m44 3l-22-3m44 3l-22-2m44 2l-22-2m45 2l-22-2m-598 24l-22-2m44 2l-22-2m44 3l-22-2m44 2l-22-3m44 3l-22-3m44 3l-22-4m44 5l-22-4m44 4l-21-5m43 5l-21-6m44 7l-21-6m42 6l-21-7m43 8l-20-9m42 10l-19-12m39 14l-15-16m33 18l-7-19m26 20l-1-22m22 22l2-22m21 22l-1-21m27 20l-7-18m32 16l-13-15m37 13l-18-11m41 10l-20-9m43 8l-20-7m42 7l-21-6m44 5l-21-6m43 6l-21-5m43 5l-21-4m43 3l-22-4m45 4l-22-3m44 3l-22-3m44 3l-22-2m44 1l-22-2m44 2l-22-2m-708 25l-22-2m44 2l-22-2m44 2l-22-3m44 3l-22-3m44 4l-22-4m44 4l-22-4m44 4l-21-5m43 6l-21-6m43 6l-21-7m43 8l-20-8m42 8l-20-9m42 10l-20-10m42 11l-19-11m40 11l-17-13m38 15l-15-16m35 17l-12-18m33 19l-8-20m29 20l-7-21m30 21l-8-20m32 19l-11-18m35 17l-15-16m38 14l-17-13m40 12l-19-11m42 11l-19-10m41 9l-20-9m42 9l-20-8m43 7l-21-7m43 7l-21-6m43 5l-21-5m43 5l-22-4m45 4l-22-4m44 3l-22-3m44 3l-22-3m44 3l-22-2m44 2l-22-2m-753 24l-22-2m45 2l-22-2m44 3l-22-3m44 3l-22-3m44 3l-22-4m44 5l-21-5m43 5l-21-5m43 5l-21-6m43 7l-21-8m43 9l-20-9m42 9l-20-10m42 11l-19-11m40 11l-18-12m40 13l-18-13m40 13l-17-14m38 15l-15-16m37 17l-14-17m35 17l-12-18m34 19l-12-19m34 18l-12-18m35 18l-14-17m37 16l-15-16m38 15l-17-14m39 14l-18-13m41 12l-18-12m40 12l-19-11m42 10l-20-10m42 10l-20-9m43 8l-21-8m43 7l-21-6m43 6l-21-6m44 6l-21-5m43 4l-22-4m44 4l-22-3m44 3l-22-3m44 2l-22-2m44 2l-22-2m-797 24l-22-2m44 3l-22-2m45 2l-22-3m44 3l-22-3m44 4l-22-4m44 4l-21-5m43 5l-21-6m43 7l-21-6m43 6l-21-7m43 8l-20-9m42 10l-20-10m41 10l-19-11m41 12l-18-12m40 12l-17-13m39 14l-17-14m38 14l-16-15m38 16l-15-16m37 16l-14-17m36 17l-13-17m35 17l-13-18m35 18l-13-17m35 17l-14-17m37 17l-15-16m37 15l-16-15m39 15l-17-14m39 13l-17-13m40 13l-18-12m41 11l-19-11m41 11l-20-10m42 9l-20-9m43 8l-21-7m43 7l-21-6m43 5l-21-6m44 6l-21-5m43 5l-22-4m44 3l-22-3m44 3l-22-3m44 3l-22-2m45 1l-22-2m-842 25l-22-2m44 2l-22-2m44 2l-22-3m44 4l-22-3m45 3l-22-4m44 4l-22-5m44 6l-21-5m43 5l-21-6m43 7l-21-7m43 7l-20-8m42 9l-20-9m41 9l-19-11m41 12l-18-12m40 13l-17-13m38 13l-17-14m39 15l-16-15m38 15l-15-16m37 16l-14-17m36 18l-14-17m36 17l-13-17m35 17l-13-18m35 18l-13-17m35 17l-14-17m37 16l-14-17m36 17l-15-16m38 16l-16-15m38 14l-17-14m40 14l-17-13m39 12l-18-12m41 11l-19-11m41 11l-20-9m43 8l-20-8m42 8l-21-7m43 6l-21-6m44 6l-21-5m43 4l-21-5m43 5l-22-4m44 4l-22-3m44 2l-22-3m45 3l-22-2m44 2l-22-2m-864 24l-22-2m44 2l-22-2m44 3l-22-3m44 3l-22-3m45 3l-22-4m44 5l-21-5m43 5l-21-6m43 7l-21-7m43 7l-21-8m43 9l-20-9m41 9l-20-10m42 11l-19-11m41 12l-18-13m39 13l-17-14m39 15l-16-15m38 15l-15-16m37 17l-14-17m35 17l-14-17m36 17l-13-18m35 18l-13-18m35 18l-13-18m36 18l-13-18m35 18l-13-18m35 18l-14-17m37 17l-14-17m36 16l-15-16m38 16l-16-15m38 14l-17-14m40 14l-18-13m41 12l-19-11m41 10l-20-10m43 10l-20-9m42 8l-21-8m43 8l-21-7m44 6l-21-6m43 6l-21-5m43 4l-22-4m44 4l-22-3m44 3l-22-3m45 2l-22-2m44 2l-22-2m-864 25l-22-2m44 2l-22-2m44 2l-22-3m44 4l-22-3m45 3l-22-4m44 4l-21-5m43 6l-21-6m43 6l-21-7m43 8l-20-8m41 8l-20-9m42 10l-20-10m42 10l-19-11m41 12l-18-13m39 14l-17-14m39 14l-16-15m38 16l-15-16m36 16l-14-17m36 18l-13-17m35 17l-13-18m35 18l-13-18m35 18l-13-18m35 18l-13-18m36 18l-13-18m35 18l-13-17m36 16l-14-17m36 17l-15-16m38 15l-16-15m38 15l-17-14m40 13l-18-13m41 12l-19-11m41 11l-19-10m42 9l-20-9m42 9l-20-8m42 7l-21-7m44 7l-21-6m43 5l-21-5m43 5l-22-4m44 4l-22-4m44 3l-22-3m45 3l-22-2m44 2l-22-2m-864 24l-22-2m44 2l-22-2m44 3l-22-3m44 3l-22-4m45 4l-22-4m44 5l-21-5m43 5l-21-6m43 7l-21-7m43 7l-20-8m41 9l-20-9m42 9l-19-10m41 11l-19-11m41 11l-18-13m40 14l-17-14m38 15l-16-15m38 15l-15-16m37 17l-14-17m35 17l-14-17m36 17l-13-18m35 18l-13-18m35 18l-13-18m35 18l-13-18m36 18l-13-18m35 18l-13-17m36 17l-14-17m36 16l-15-16m38 16l-16-15m39 14l-17-14m39 13l-18-13m41 13l-19-11m41 10l-19-10m41 10l-20-9m43 8l-20-8m42 8l-21-7m43 6l-21-6m44 6l-21-5m43 4l-22-4m44 4l-22-4m44 4l-22-3m45 2l-22-2m44 2l-22-2m-864 24l-22-2m44 3l-22-2m44 2l-22-3m44 3l-22-3m45 4l-22-4m44 4l-21-5m43 6l-21-6m43 6l-21-7m43 8l-20-8m41 8l-20-9m42 10l-19-10m41 10l-19-11m41 12l-18-12m40 12l-18-13m39 14l-17-14m39 14l-16-15m38 16l-15-16m37 16l-14-17m36 17l-14-17m35 17l-13-18m36 18l-13-18m35 18l-13-18m35 18l-14-17m36 17l-14-17m37 17l-15-16m38 15l-16-15m38 15l-17-14m40 13l-17-13m39 13l-18-12m41 11l-19-11m41 11l-19-10m41 9l-20-9m43 9l-20-8m42 7l-21-7m44 7l-21-6m43 5l-21-5m43 5l-22-4m44 3l-22-3m44 3l-22-3m45 3l-22-2m44 1l-22-2m-864 25l-22-2m44 2l-22-2m44 2l-22-3m44 4l-22-3m45 3l-22-4m44 4l-21-5m43 6l-21-6m43 6l-21-7m43 8l-21-8m42 8l-20-9m42 10l-20-10m42 11l-19-11m41 11l-18-12m40 12l-18-13m40 14l-17-14m39 14l-17-15m38 16l-16-15m38 15l-15-16m37 16l-15-16m37 16l-14-17m36 17l-14-17m36 17l-14-17m37 17l-15-16m37 16l-15-16m37 16l-16-15m39 14l-16-15m38 15l-17-14m40 13l-18-13m40 13l-18-12m41 12l-19-11m41 10l-20-10m43 10l-20-9m42 8l-21-8m43 7l-21-7m44 7l-21-6m43 5l-21-5m43 5l-22-4m44 4l-22-3m44 2l-22-3m45 3l-22-2m44 2l-22-2m-842 24l-22-2m44 3l-22-2m44 2l-22-3m45 3l-22-4m44 5l-22-5m44 5l-21-6m43 7l-21-6m43 6l-21-8m43 9l-20-9m41 9l-20-10m42 11l-19-11m41 11l-19-12m41 13l-18-12m40 12l-18-13m40 13l-17-14m39 15l-17-14m39 14l-16-15m38 15l-16-15m38 15l-16-16m38 16l-15-16m37 16l-16-16m38 16l-16-15m38 15l-16-15m39 15l-17-14m39 13l-17-14m40 14l-18-13m40 13l-18-12m40 11l-19-12m42 12l-19-11m41 10l-20-10m43 10l-20-9m42 8l-21-8m43 8l-21-7m44 6l-21-6m43 6l-21-5m43 4l-22-4m44 4l-22-3m44 3l-22-2m45 1l-22-2m-820 25l-22-2m44 2l-22-2m45 2l-22-3m44 4l-22-3m44 3l-22-4m44 4l-21-5m43 6l-21-6m43 6l-21-7m43 8l-21-8m43 8l-20-9m42 10l-20-10m41 10l-19-11m41 12l-19-12m41 12l-18-12m40 12l-18-13m40 14l-17-14m39 14l-17-14m39 14l-17-14m39 14l-16-15m38 15l-16-15m38 15l-16-15m39 15l-17-14m39 14l-17-14m39 14l-17-14m39 13l-18-13m41 13l-18-12m40 12l-19-12m42 11l-19-11m41 11l-20-10m42 9l-20-9m43 9l-20-8m42 7l-21-7m43 7l-21-6m44 5l-21-5m43 5l-22-4m44 4l-22-4m44 3l-22-3m44 3l-22-2m45 2l-22-2m-798 24l-22-2m45 2l-22-3m44 4l-22-3m44 3l-22-4m44 5l-22-5m44 5l-21-5m43 5l-21-6m43 7l-21-7m43 7l-20-8m42 9l-20-9m42 9l-20-10m42 11l-19-11m40 11l-19-12m41 12l-18-12m40 13l-18-13m40 13l-18-13m40 13l-17-14m39 14l-17-14m40 14l-17-14m39 14l-17-14m39 14l-17-14m39 14l-18-13m40 13l-18-13m41 12l-18-12m40 12l-19-12m42 12l-19-11m41 10l-20-10m42 10l-20-9m43 8l-20-8m42 8l-21-7m43 6l-21-6m43 6l-21-5m44 5l-22-5m44 4l-22-4m44 4l-22-3m44 2l-22-3m44 3l-22-2m-775 24l-22-2m45 3l-22-2m44 2l-22-3m44 3l-22-3m44 4l-22-4m44 4l-21-5m43 5l-21-6m43 7l-21-7m43 7l-21-7m43 8l-20-8m42 8l-20-9m42 10l-20-10m42 10l-19-11m41 11l-19-11m41 11l-19-12m41 13l-18-12m40 12l-18-12m40 12l-18-13m40 13l-18-13m40 13l-18-13m40 13l-18-12m41 12l-18-12m40 11l-19-12m41 12l-19-11m41 11l-19-11m42 11l-20-10m42 9l-20-9m42 9l-20-8m43 7l-21-7m43 7l-21-7m43 6l-21-6m44 6l-21-5m43 5l-22-4m44 3l-22-3m44 3l-22-3m44 3l-22-2m44 1l-22-2m-752 25l-22-2m44 2l-22-2m44 2l-22-3m44 4l-22-4m44 4l-22-4m44 4l-21-5m43 6l-21-6m43 6l-21-6m43 7l-21-7m43 7l-20-8m42 8l-20-9m42 10l-20-9m42 9l-20-10m42 10l-19-11m41 11l-19-11m41 12l-19-11m41 11l-19-11m41 11l-19-11m42 11l-19-11m41 11l-19-11m41 10l-19-11m41 11l-19-11m41 11l-20-10m43 10l-20-9m42 8l-20-9m42 9l-20-8m43 8l-21-7m43 6l-21-7m43 7l-21-6m43 5l-21-5m44 5l-22-4m44 4l-22-4m44 3l-22-3m44 3l-22-2m44 2l-22-2m-730 24l-22-2m44 2l-22-2m44 3l-22-2m44 2l-22-3m44 3l-22-4m44 5l-22-4m44 4l-21-5m43 5l-21-6m43 7l-21-6m43 6l-21-7m43 7l-21-8m43 9l-20-8m42 8l-20-9m42 9l-20-9m42 9l-20-10m43 10l-20-10m42 10l-20-10m42 10l-20-10m42 10l-20-10m42 10l-20-10m42 10l-20-10m43 10l-20-9m42 9l-20-9m42 9l-20-8m42 7l-21-8m44 8l-21-7m43 7l-21-6m43 5l-21-6m43 6l-21-5m43 5l-22-4m45 3l-22-4m44 4l-22-3m44 3l-22-2m44 1l-22-2m44 2l-22-2m-708 25l-22-2m44 2l-22-2m44 2l-22-2m44 2l-22-3m44 4l-22-4m44 4l-22-4m44 4l-21-5m43 5l-21-5m43 6l-21-6m44 6l-21-6m43 6l-21-7m43 8l-21-7m43 7l-21-8m43 8l-20-8m42 8l-20-8m42 8l-20-9m42 9l-20-9m42 9l-20-9m42 9l-20-8m43 8l-20-8m42 8l-21-8m43 8l-21-8m43 7l-21-7m43 7l-21-6m44 6l-21-6m43 5l-21-5m43 5l-21-5m43 5l-22-4m45 4l-22-4m44 3l-22-3m44 3l-22-2m44 2l-22-2m44 2l-22-2m-664 24l-22-2m44 2l-22-2m44 2l-22-2m44 3l-22-3m44 3l-22-3m44 3l-22-4m45 4l-22-4m44 5l-21-5m43 5l-21-5m43 5l-21-6m43 6l-21-6m43 7l-21-7m43 7l-21-7m43 7l-21-7m43 7l-21-7m43 7l-21-7m44 7l-21-7m43 7l-21-7m43 7l-21-7m43 7l-21-7m43 6l-21-6m43 6l-21-6m44 6l-21-5m43 5l-21-5m43 4l-22-4m44 4l-22-4m44 4l-22-3m45 3l-22-3m44 2l-22-2m44 2l-22-2m44 2l-22-2m-620 24l-22-2m44 3l-22-2m44 2l-22-2m44 2l-22-3m44 3l-22-3m45 3l-22-4m44 5l-22-4m44 4l-22-4m44 4l-21-5m43 5l-21-5m43 5l-21-5m43 5l-21-6m43 7l-21-6m43 6l-21-6m44 6l-21-6m43 6l-21-6m43 6l-21-6m43 5l-21-6m43 6l-21-5m43 5l-21-5m44 5l-21-5m43 5l-22-4m44 4l-22-4m44 3l-22-4m44 4l-22-3m44 3l-22-3m45 3l-22-2m44 2l-22-2m44 1l-22-2m-554 25l-22-2m44 2l-22-2m45 2l-22-2m44 2l-22-3m44 4l-22-3m44 3l-22-3m44 3l-22-4m44 4l-22-4m44 4l-22-4m44 4l-22-5m44 5l-21-5m44 5l-21-5m43 5l-21-5m43 5l-21-5m43 5l-21-5m43 5l-22-5m44 5l-22-4m44 4l-22-4m45 4l-22-4m44 4l-22-3m44 3l-22-3m44 2l-22-3m44 3l-22-2m44 2l-22-2m45 2l-22-2m-488 24l-22-2m45 2l-22-2m44 2l-22-2m44 3l-22-2m44 2l-22-3m44 3l-22-3m44 3l-22-3m44 3l-22-3m44 3l-22-4m45 4l-22-4m44 4l-22-4m44 4l-22-4m44 4l-22-4m44 4l-22-4m44 4l-22-4m44 4l-22-3m45 3l-22-3m44 3l-22-3m44 3l-22-3m44 3l-22-2m44 1l-22-2m44 2l-22-2m44 2l-22-2m-420 25l-22-2m44 2l-22-2m44 2l-22-2m44 2l-22-2m44 2l-22-2m44 2l-22-3m44 3l-22-3m45 3l-22-3m44 3l-22-3m44 3l-22-3m44 3l-22-3m44 3l-22-3m44 3l-22-3m44 3l-22-3m45 3l-22-2m44 2l-22-2m44 2l-22-2m44 2l-22-2m44 2l-22-2m-310 24l-22-2m44 2l-22-2m44 2l-22-2m45 2l-22-2m44 2l-22-2m44 2l-22-2m44 2l-22-2m44 2l-22-2m44 2l-22-2m44 2l-22-2m44 2l-22-2m45 2l-22-2m44 2l-22-2m-111 24l-22-2"/>
<clipPath id="cp0"><rect x="240.5" y="1961.6" width="664.2" height="658.6"/></clipPath>
<filter id="bl0" filterUnits="userSpaceOnUse" x="200.5" y="1921.6" width="744.2" height="738.6"><feGaussianBlur stdDeviation="4"/></filter>
<pattern id="pt0" patternUnits="userSpaceOnUse" x="240.6" y="1960.4" width="11.070" height="11.200"><path stroke="#000" stroke-width="1.5" d="M0.04 5.60h11.00"/><path stroke="#000" stroke-width="3.1" stroke-linecap="round" d="M7.73 5.60h2.00"/></pattern>
<path id="ar1" transform="scale(.5)" d="M2377 3998l-21 2m44-2l-21 2m43-2l-21 2m43-2l-21 2m44-2l-21 2m43-2l-21 2m43-2l-21 2m43-2l-21 2m44-2l-21 1m-247 22l-21 2m44-2l-21 2m43-2l-21 2m43-2l-21 2m43-2l-21 2m44-3l-21 2m43-2l-21 2m43-2l-21 2m43-2l-21 2m44-2l-21 2m43-2l-21 2m43-2l-21 2m44-1l-21 2m43-2l-21 2m43-2l-21 2m43-2l-21 2m-357 20l-21 2m43-2l-21 2m43-2l-21 2m44-2l-21 2m43-2l-21 3m43-3l-21 3m43-4l-21 3m44-3l-21 3m43-3l-21 3m43-3l-21 3m43-3l-21 3m44-3l-21 3m43-3l-21 3m43-3l-21 3m44-2l-21 3m43-3l-21 3m43-3l-21 3m43-3l-21 2m44-2l-21 2m43-2l-21 2m43-2l-21 2m-469 21l-21 2m43-3l-21 2m44-2l-21 2m43-2l-21 3m43-3l-21 3m43-3l-21 3m44-3l-20 4m42-5l-20 4m42-4l-20 4m42-4l-20 4m43-4l-20 4m42-4l-20 4m42-4l-20 4m43-4l-20 4m42-4l-20 4m42-4l-20 4m42-4l-20 4m43-3l-20 4m42-4l-21 3m43-3l-21 3m44-3l-21 3m43-3l-21 2m43-2l-21 2m44-1l-21 2m43-2l-21 1m-558 21l-21 1m43-1l-21 2m43-2l-21 2m43-3l-21 3m44-3l-21 3m43-3l-21 3m43-3l-20 4m42-4l-20 4m43-5l-20 5m42-5l-20 5m42-5l-20 5m42-5l-20 6m43-6l-20 6m42-6l-20 6m42-6l-20 6m42-6l-20 6m43-6l-20 6m42-6l-20 5m42-5l-20 5m43-5l-20 5m42-4l-20 5m42-5l-20 4m43-4l-20 4m42-4l-21 3m43-3l-21 3m44-2l-21 2m43-2l-21 2m43-2l-21 2m-603 20l-21 2m44-2l-21 2m43-2l-21 2m43-2l-21 3m43-4l-21 3m44-3l-20 4m42-4l-20 4m42-4l-20 5m42-6l-20 6m42-6l-20 6m43-6l-20 6m42-6l-20 7m42-7l-20 7m42-7l-19 7m42-7l-19 7m41-8l-19 7m41-6l-19 7m41-7l-19 7m42-7l-20 7m42-7l-20 7m42-7l-20 6m43-6l-20 6m42-5l-20 5m43-5l-20 5m42-5l-20 4m42-4l-20 4m43-3l-21 3m43-3l-21 3m43-3l-21 2m43-2l-21 2m-647 21l-21 2m43-2l-21 2m44-3l-21 3m43-3l-21 3m43-3l-20 4m42-5l-20 4m42-4l-20 5m43-5l-20 6m42-7l-20 6m42-6l-20 7m42-7l-19 7m41-7l-19 8m42-9l-19 8m41-8l-19 9m41-9l-19 9m41-9l-19 9m42-9l-19 9m41-9l-19 9m41-9l-19 9m41-9l-19 9m42-8l-19 8m41-8l-19 8m42-8l-19 7m41-7l-20 7m42-6l-20 6m43-6l-20 5m42-5l-20 5m42-4l-20 4m43-4l-20 3m42-3l-21 3m43-3l-21 2m44-1l-21 2m43-2l-21 1m-714 21l-21 2m43-2l-21 2m43-2l-21 3m44-4l-21 3m43-3l-20 4m42-4l-20 5m42-6l-20 5m42-5l-20 6m42-6l-20 7m43-8l-19 8m41-8l-19 8m41-8l-19 9m41-10l-18 10m40-10l-18 10m40-10l-18 10m41-10l-18 11m40-11l-18 11m40-11l-18 11m40-11l-18 11m41-11l-18 10m40-10l-18 10m40-10l-18 10m41-10l-19 9m41-8l-19 9m42-9l-19 8m41-8l-19 7m42-6l-20 7m42-7l-20 6m42-6l-20 5m43-4l-20 4m42-4l-20 4m42-3l-21 3m44-3l-21 2m43-2l-21 2m43-2l-21 1m-759 22l-21 2m44-3l-21 2m43-2l-21 3m43-3l-21 3m43-4l-20 4m43-4l-20 5m42-5l-20 6m42-7l-20 7m42-7l-19 7m41-8l-19 8m41-8l-19 9m41-9l-18 10m40-11l-18 10m41-10l-18 11m40-11l-17 12m39-13l-17 12m39-12l-17 12m39-12l-17 12m40-12l-17 12m39-12l-17 12m39-12l-17 12m40-11l-17 12m39-12l-17 11m39-11l-18 11m41-11l-18 10m40-9l-18 9m41-9l-19 9m41-9l-19 8m42-7l-20 7m42-7l-20 6m43-5l-20 5m42-5l-20 4m42-3l-20 4m43-4l-21 3m43-3l-21 2m43-2l-21 2m-781 21l-21 2m43-2l-21 2m44-2l-21 3m43-4l-21 3m43-3l-20 4m42-5l-20 5m43-5l-20 6m42-7l-20 7m42-7l-19 8m41-9l-19 9m41-9l-18 10m40-10l-18 10m40-11l-18 11m40-11l-17 12m39-12l-17 12m39-13l-16 13m38-13l-16 13m38-13l-16 14m39-14l-16 14m38-14l-16 14m38-14l-16 14m39-14l-16 13m38-13l-16 13m38-13l-16 13m39-12l-17 12m39-12l-17 12m40-12l-18 11m40-10l-18 10m41-10l-19 9m41-8l-19 8m42-8l-19 7m41-6l-20 6m43-6l-20 5m42-4l-20 4m43-4l-20 4m42-4l-21 3m43-2l-21 2m44-2l-21 2m-804 20l-21 2m43-2l-21 2m44-2l-21 3m43-4l-20 4m42-4l-20 5m42-6l-20 6m42-6l-20 7m42-8l-19 8m42-8l-19 9m41-10l-18 10m40-10l-18 11m40-12l-17 12m39-12l-17 12m39-12l-16 13m38-14l-16 14m38-14l-15 14m37-14l-15 14m37-14l-15 15m37-15l-15 15m37-15l-14 15m37-15l-15 15m37-15l-15 15m37-15l-15 14m38-14l-15 14m37-14l-16 13m39-12l-16 13m39-13l-17 12m39-11l-17 11m40-11l-18 10m40-9l-19 9m42-9l-19 8m41-7l-19 7m42-7l-20 6m42-5l-20 5m43-5l-20 4m42-4l-20 3m42-2l-21 3m44-3l-21 2m43-2l-21 2m-848 21l-21 2m43-2l-21 2m43-3l-21 3m44-3l-20 4m42-5l-20 4m42-4l-20 5m42-6l-20 6m42-6l-19 8m41-9l-19 9m41-9l-18 10m40-11l-18 11m40-11l-17 12m39-13l-16 13m38-13l-16 13m38-13l-15 14m37-15l-15 15m37-15l-14 15m36-15l-14 15m36-15l-14 16m37-16l-14 16m36-16l-14 16m36-16l-14 16m37-16l-14 15m36-15l-14 15m37-15l-14 15m36-15l-15 14m38-13l-15 14m37-14l-16 13m39-13l-17 12m39-11l-17 11m40-11l-18 10m41-9l-19 9m41-8l-19 8m42-8l-20 7m42-6l-20 6m42-6l-20 5m43-4l-20 4m42-4l-21 3m44-3l-21 3m43-2l-21 2m-848 20l-21 2m43-2l-21 2m43-3l-21 3m44-3l-20 4m42-5l-20 5m42-5l-20 6m42-7l-19 7m41-7l-19 8m41-9l-18 9m40-9l-18 11m40-12l-17 12m39-12l-16 13m38-14l-16 13m38-13l-15 14m37-14l-15 15m37-16l-14 15m36-15l-14 16m36-16l-13 16m35-16l-13 16m35-16l-13 16m35-16l-13 16m36-16l-13 16m35-16l-13 16m36-16l-13 16m35-16l-14 16m37-16l-14 15m36-14l-15 15m38-15l-15 14m37-14l-16 13m39-12l-17 12m40-12l-17 11m39-10l-18 10m41-10l-19 9m41-8l-19 8m42-7l-20 7m42-7l-20 6m43-5l-20 5m42-5l-20 4m42-3l-21 3m44-3l-21 2m43-2l-21 2m-892 21l-21 2m43-3l-21 2m43-2l-21 3m43-3l-20 4m43-5l-20 5m42-5l-20 6m42-7l-20 7m42-8l-19 8m41-8l-19 9m41-10l-18 10m40-10l-17 11m39-12l-17 12m39-12l-16 13m38-14l-15 14m37-14l-15 15m36-15l-14 15m36-16l-13 16m35-16l-13 16m35-16l-12 17m34-17l-12 17m35-17l-12 17m34-17l-11 17m33-17l-12 17m35-17l-12 17m34-17l-12 17m35-17l-13 16m35-15l-13 16m36-16l-14 15m37-15l-15 14m37-13l-16 14m39-14l-16 13m38-13l-17 12m40-11l-18 11m41-10l-18 10m40-10l-19 9m42-8l-19 7m41-7l-20 6m43-5l-20 5m42-5l-20 4m42-3l-21 3m44-3l-21 3m43-3l-21 2m-892 21l-21 2m43-2l-21 2m43-3l-21 3m43-3l-20 4m43-5l-20 5m42-5l-20 6m42-7l-20 7m42-7l-19 8m41-9l-18 9m40-10l-18 11m40-11l-17 12m39-13l-16 13m37-13l-16 14m38-14l-15 14m37-15l-14 15m36-15l-13 16m35-16l-12 17m34-18l-12 17m34-17l-11 17m33-17l-11 18m33-18l-11 18m33-18l-11 18m34-18l-11 18m33-18l-11 18m34-18l-11 17m33-17l-12 17m35-16l-13 16m36-16l-14 16m36-16l-14 15m37-14l-15 14m38-14l-16 13m38-12l-17 12m40-12l-17 11m40-10l-18 10m40-10l-19 9m42-8l-19 8m41-8l-20 7m43-6l-20 6m42-5l-20 5m42-5l-20 4m43-4l-21 3m43-2l-21 2m43-2l-21 2m-914 20l-21 2m43-2l-21 3m43-3l-21 3m43-4l-20 4m42-4l-20 5m43-6l-20 6m42-7l-19 7m41-7l-19 9m41-10l-18 10m40-10l-18 11m40-12l-17 12m38-12l-16 13m38-14l-15 14m37-14l-15 15m37-16l-14 16m36-16l-13 16m35-16l-12 17m34-17l-11 17m33-18l-11 18m33-18l-11 18m33-18l-10 18m32-18l-10 18m33-18l-10 18m32-18l-11 18m33-18l-11 17m34-16l-11 17m34-17l-12 17m34-17l-13 16m36-15l-14 15m37-15l-15 14m38-14l-16 14m38-13l-16 13m39-13l-17 12m39-11l-18 11m41-11l-18 9m41-8l-19 8m41-7l-20 7m43-7l-20 6m42-5l-20 5m42-5l-20 4m43-3l-21 3m43-3l-21 2m43-2l-21 2m-937 21l-21 1m44-1l-21 2m43-3l-21 3m43-3l-21 3m43-4l-20 4m42-4l-20 5m43-6l-20 6m42-6l-19 8m41-9l-19 9m41-9l-18 10m40-11l-18 11m40-11l-17 12m38-13l-16 13m38-13l-15 14m37-15l-14 15m36-15l-13 16m35-17l-13 16m35-16l-12 17m34-17l-11 17m33-17l-11 18m33-18l-10 18m32-18l-10 18m32-18l-10 18m33-18l-10 18m32-18l-11 18m33-18l-11 17m34-17l-11 17m34-17l-12 17m34-17l-13 16m36-15l-14 16m37-16l-15 15m37-14l-16 14m39-14l-16 13m39-12l-17 12m39-12l-18 11m41-10l-18 10m41-10l-19 8m41-7l-19 7m42-6l-20 6m42-6l-20 5m42-4l-20 4m43-4l-21 3m43-3l-21 2m43-1l-21 2m-937 20l-21 2m44-2l-21 2m43-2l-21 3m43-4l-20 4m42-4l-20 4m42-5l-20 5m43-5l-20 6m42-7l-19 8m41-8l-19 9m41-10l-18 10m40-10l-18 11m40-12l-17 12m38-13l-16 13m38-13l-15 14m37-14l-14 15m36-16l-13 16m35-16l-13 16m35-16l-12 17m34-18l-11 17m33-17l-11 17m33-17l-11 17m33-17l-11 17m33-17l-10 17m33-17l-11 17m33-17l-11 17m34-17l-11 17m33-16l-12 17m35-17l-12 17m34-17l-13 16m36-16l-14 15m37-14l-15 15m37-15l-15 14m38-13l-16 13m39-13l-17 12m39-11l-18 11m41-11l-18 9m41-8l-19 8m41-8l-19 7m42-6l-20 6m42-6l-20 5m42-4l-20 4m43-4l-21 3m43-2l-21 2m43-2l-21 2m-937 21l-21 2m44-3l-21 2m43-2l-21 3m43-3l-20 3m42-4l-20 4m42-4l-20 5m43-6l-20 6m42-6l-19 7m41-8l-19 8m41-8l-19 9m41-10l-18 10m40-10l-17 12m39-13l-16 13m37-13l-16 14m38-15l-15 15m37-15l-14 15m36-16l-13 16m35-16l-12 16m34-16l-12 17m34-17l-11 17m33-17l-11 17m33-17l-11 17m34-17l-11 17m33-17l-11 17m33-17l-11 17m34-17l-11 17m33-17l-12 17m35-17l-13 16m35-15l-13 16m36-16l-14 15m37-15l-15 14m38-13l-16 14m38-14l-17 12m40-11l-17 11m40-11l-18 10m40-9l-19 9m42-9l-19 8m41-7l-19 7m42-7l-20 6m42-5l-20 5m42-5l-20 4m43-3l-21 3m43-3l-21 3m43-3l-21 2m-937 21l-21 1m44-1l-21 2m43-3l-21 3m43-3l-21 3m43-3l-20 4m42-5l-20 5m43-5l-20 6m42-7l-20 7m42-7l-19 8m41-9l-19 9m41-9l-18 10m40-11l-18 11m40-11l-17 12m39-13l-16 13m38-13l-15 14m36-15l-14 15m36-15l-14 15m36-15l-13 16m35-16l-12 16m34-16l-12 16m34-16l-11 16m33-16l-11 16m34-16l-11 16m33-16l-11 16m33-16l-11 16m34-16l-12 16m35-16l-13 16m35-16l-13 16m36-16l-14 15m36-14l-15 15m38-15l-15 14m38-14l-16 13m38-12l-17 12m40-12l-18 11m41-10l-18 10m40-10l-19 9m42-8l-19 8m41-8l-20 7m43-6l-20 6m42-6l-20 5m42-4l-20 4m43-4l-21 3m43-2l-21 2m43-2l-21 2m-914 20l-21 2m43-2l-21 2m43-2l-21 3m43-4l-20 4m43-4l-20 5m42-6l-20 5m42-5l-20 6m42-6l-19 7m41-8l-19 8m41-8l-19 9m41-10l-18 10m40-10l-17 11m39-12l-17 12m39-12l-16 13m38-14l-15 14m37-14l-14 14m35-14l-13 15m35-15l-13 15m35-16l-12 16m34-16l-11 16m33-16l-10 16m32-16l-10 16m33-16l-11 16m33-16l-11 16m34-16l-12 16m35-16l-13 16m36-15l-14 15m36-15l-15 14m38-14l-15 14m37-13l-16 13m39-13l-17 12m40-11l-18 11m40-11l-18 10m41-9l-19 9m41-9l-19 8m42-7l-19 7m41-7l-20 6m43-5l-20 5m42-5l-20 5m42-5l-20 4m43-3l-21 3m43-3l-21 2m43-2l-21 2m-914 21l-21 2m43-2l-21 2m43-3l-21 3m43-3l-21 3m44-3l-20 4m42-5l-20 5m42-5l-20 6m42-7l-20 6m42-6l-19 7m41-8l-19 8m41-8l-19 9m41-9l-18 10m40-11l-18 11m40-11l-17 12m39-13l-16 13m38-13l-15 13m37-13l-14 14m35-15l-12 15m34-15l-11 15m32-15l-9 15m31-15l-9 16m32-17l-9 16m31-16l-10 17m33-17l-11 17m34-16l-12 16m35-16l-14 15m37-15l-15 14m38-13l-16 14m38-14l-16 13m39-12l-17 12m40-12l-18 11m40-10l-18 10m41-10l-19 9m41-9l-19 8m42-7l-20 7m42-7l-20 6m42-5l-20 6m43-6l-20 5m42-4l-20 4m42-4l-20 3m43-3l-21 3m43-2l-21 2m43-2l-21 2m-892 20l-21 2m43-2l-21 2m43-2l-21 3m44-4l-20 3m42-3l-20 4m42-4l-20 5m42-6l-20 5m42-5l-20 6m43-6l-20 7m42-8l-19 8m41-8l-19 9m41-10l-18 9m40-9l-18 10m40-11l-17 11m38-11l-16 12m38-13l-14 13m35-13l-12 14m33-14l-9 14m30-14l-6 15m28-16l-5 16m27-17l-6 18m29-18l-7 19m30-19l-9 18m33-17l-12 17m35-17l-14 15m37-14l-16 14m39-13l-17 12m40-12l-18 11m40-10l-18 10m41-10l-19 10m41-9l-19 9m42-9l-19 8m41-8l-20 7m43-6l-20 6m42-6l-20 5m42-4l-20 5m43-5l-20 4m42-4l-20 3m42-2l-21 3m44-3l-21 2m43-2l-21 2m-848 21l-21 2m43-3l-21 2m44-2l-21 3m43-3l-21 3m43-3l-20 4m42-5l-20 4m43-4l-20 5m42-5l-20 5m42-6l-20 6m42-6l-20 7m42-7l-19 7m41-8l-19 8m41-8l-18 9m40-10l-17 11m38-12l-14 12m34-12l-11 13m31-13l-6 13m27-14l-3 15m24-16l-1 18m23-19l0 20m24-21l-2 21m26-21l-6 20m31-19l-11 18m35-16l-15 15m38-14l-17 13m40-12l-18 11m41-10l-19 10m41-10l-19 9m41-8l-20 8m43-8l-20 7m42-7l-20 6m43-5l-20 6m42-6l-20 5m42-5l-20 4m43-3l-20 4m42-4l-21 3m43-3l-21 3m44-3l-21 2m43-2l-21 2m-781 21l-21 2m43-2l-21 2m43-2l-21 2m44-3l-21 3m43-3l-20 3m42-3l-20 4m42-4l-20 4m42-5l-20 5m43-5l-20 5m42-5l-20 6m42-7l-19 7m40-7l-18 8m39-9l-15 10m35-11l-9 12m28-12l-2 11m21-13l2 15m19-16l6 18m15-19l7 19m17-20l5 21m20-21l-1 22m28-21l-9 20m34-18l-16 15m40-13l-19 11m42-9l-20 9m42-9l-20 7m43-6l-20 6m42-6l-20 6m42-6l-20 5m43-4l-21 5m43-5l-21 4m43-4l-21 4m43-4l-21 3m44-3l-21 3m43-2l-21 2m43-2l-21 2m44-2l-21 2m-670 20l-21 1m43-1l-21 2m43-2l-21 2m44-2l-21 2m43-2l-20 3m42-3l-20 3m42-4l-20 4m42-4l-19 5m40-6l-16 7m35-8l-9 9m26-9l1 8m17-10l10 12m9-12l15 12m7-12l17 13m6-15l16 16m10-17l8 18m22-17l-8 17m35-14l-18 11m42-9l-21 7m43-6l-21 5m44-5l-21 4m43-4l-21 3m43-2l-21 3m43-3l-21 3m44-3l-21 3m43-3l-21 2m43-2l-21 2m43-2l-21 2m44-2l-21 1m-427 23l-17 0m37 0l-12 0m25 0l6 0m12 0l16 0m4 0l20 0m1-1l22 0m1 0l22 1m3-1l15 1m19-1l-9 2m-386 22l-21-2m44 2l-21-2m43 2l-21-2m43 2l-21-2m43 2l-21-3m44 3l-20-3m42 4l-20-3m42 3l-20-3m42 3l-20-4m42 5l-19-5m40 6l-16-7m35 8l-9-9m26 8l1-8m17 10l10-12m9 12l15-12m7 12l17-13m5 14l16-15m10 17l9-17m22 16l-8-16m35 13l-18-10m42 8l-21-6m43 5l-21-4m44 4l-21-3m43 2l-21-3m43 3l-21-2m43 2l-21-2m44 2l-21-2m43 2l-21-2m-670 24l-21-1m43 1l-21-2m44 2l-21-2m43 3l-21-2m43 2l-21-3m43 3l-20-3m43 3l-20-4m42 4l-20-4m42 5l-20-5m42 5l-20-5m43 5l-20-6m42 7l-19-6m41 6l-19-7m40 8l-17-9m38 10l-15-11m34 11l-9-12m28 12l-2-11m22 13l2-15m19 16l7-18m14 19l8-19m15 20l6-21m20 21l0-22m27 21l-10-20m36 18l-17-14m40 12l-19-10m42 8l-20-8m42 8l-20-6m43 5l-20-6m42 6l-21-5m43 5l-21-4m44 3l-21-4m43 4l-21-3m43 3l-21-3m43 3l-21-2m44 1l-21-2m43 2l-21-2m43 2l-21-2m-803 25l-21-2m43 2l-21-2m43 2l-21-3m44 3l-21-3m43 4l-20-3m42 3l-20-4m42 4l-20-5m43 5l-20-5m42 6l-20-6m42 6l-20-7m42 7l-19-7m41 8l-19-8m41 8l-18-9m40 10l-18-10m40 10l-16-11m37 12l-14-12m34 13l-10-13m30 12l-5-13m26 14l-2-14m23 16l-1-18m23 19l0-20m23 20l-2-21m27 21l-6-21m31 20l-11-18m35 16l-15-15m38 14l-17-12m40 11l-19-10m42 9l-19-9m41 9l-20-8m43 7l-20-7m42 7l-20-6m42 6l-20-6m43 5l-20-5m42 5l-20-4m42 4l-20-4m43 3l-21-3m43 3l-21-3m43 3l-21-2m44 2l-21-2m43 2l-21-2m-870 24l-21-2m43 2l-21-2m43 2l-21-3m43 4l-21-3m44 3l-20-4m42 4l-20-4m42 5l-20-5m42 5l-20-6m42 6l-20-7m42 8l-19-7m42 7l-19-8m41 9l-19-9m41 9l-18-10m40 11l-18-11m40 11l-17-11m38 11l-16-12m38 13l-14-13m35 13l-11-14m32 14l-8-14m29 14l-6-15m27 16l-5-16m28 17l-5-18m28 19l-7-19m30 18l-9-18m33 18l-12-17m36 16l-14-15m37 14l-16-13m38 12l-17-12m40 12l-18-11m41 10l-19-10m41 10l-19-9m42 8l-19-8m41 8l-20-7m42 6l-20-6m43 6l-20-6m42 6l-20-5m43 4l-20-4m42 4l-20-4m42 4l-21-3m44 2l-21-2m43 2l-21-2m43 2l-21-2m-892 25l-21-2m43 2l-21-2m43 2l-21-3m43 3l-20-4m43 5l-20-4m42 4l-20-5m42 6l-20-6m42 6l-20-7m42 7l-19-8m41 9l-19-9m41 9l-18-10m40 11l-18-11m40 11l-17-11m39 12l-17-12m39 12l-16-13m38 13l-15-14m37 15l-14-14m35 14l-12-15m34 15l-11-15m32 15l-9-15m31 15l-8-16m30 17l-9-16m32 16l-10-17m33 17l-11-17m34 17l-13-16m36 15l-14-15m37 15l-15-14m38 13l-16-13m39 13l-17-12m39 11l-17-11m40 11l-18-11m40 10l-19-10m42 10l-19-9m41 8l-19-8m42 8l-20-7m42 7l-20-6m42 5l-20-5m43 5l-20-4m42 3l-20-4m42 4l-21-3m44 3l-21-2m43 2l-21-2m-915 24l-21-2m44 2l-21-2m43 2l-21-3m43 4l-21-3m43 3l-20-4m42 4l-20-5m43 6l-20-6m42 6l-20-7m42 8l-19-8m41 8l-19-9m41 10l-18-10m40 10l-18-11m40 12l-17-12m39 12l-16-13m38 14l-16-13m38 13l-15-14m37 14l-14-15m35 16l-13-15m35 15l-12-15m34 15l-11-16m33 16l-11-16m33 16l-10-16m32 16l-10-16m33 16l-11-16m33 16l-11-16m34 16l-12-16m35 16l-13-15m36 14l-14-15m36 15l-15-14m38 14l-16-13m39 12l-17-13m39 13l-17-12m40 11l-18-11m40 11l-18-10m41 9l-19-9m41 9l-19-8m42 7l-20-7m42 7l-20-6m43 5l-20-5m42 5l-20-4m42 4l-20-3m43 2l-21-3m43 3l-21-2m43 2l-21-2m-937 24l-21-2m44 2l-21-2m43 3l-21-3m43 3l-20-4m42 5l-20-4m42 4l-20-5m43 6l-20-6m42 6l-19-7m41 8l-19-8m41 8l-19-9m41 10l-18-10m40 10l-17-11m39 12l-17-13m39 13l-16-13m37 13l-15-14m37 15l-14-15m36 15l-14-15m36 15l-13-16m35 16l-12-16m34 17l-12-16m34 16l-11-16m33 16l-11-16m34 16l-11-16m33 16l-11-16m33 16l-11-16m34 15l-12-16m35 16l-13-16m35 16l-13-15m36 15l-14-15m37 15l-15-14m37 13l-16-13m39 13l-16-13m39 12l-17-12m39 12l-18-10m41 9l-19-9m41 9l-19-8m42 7l-19-7m41 7l-20-6m43 5l-20-5m42 5l-20-5m42 4l-20-4m43 4l-21-3m43 3l-21-2m43 1l-21-2m-937 25l-21-2m44 2l-21-2m43 2l-21-3m43 4l-20-4m42 4l-20-5m42 6l-20-6m43 6l-20-7m42 8l-19-8m41 8l-19-9m41 10l-18-10m40 10l-18-11m40 12l-17-12m38 12l-16-13m38 14l-15-14m37 14l-14-15m36 16l-14-15m36 15l-13-16m35 16l-12-16m34 16l-12-17m34 17l-11-17m33 17l-11-17m33 17l-11-17m34 17l-11-17m33 17l-11-17m33 17l-11-17m34 17l-12-17m34 17l-12-16m35 16l-13-16m36 16l-14-15m36 14l-14-15m37 15l-15-14m38 13l-16-13m38 13l-17-12m40 11l-18-11m41 11l-18-10m40 9l-19-9m42 9l-19-8m41 7l-20-7m43 7l-20-6m42 5l-20-5m42 5l-20-4m43 3l-21-3m43 3l-21-2m43 2l-21-2m-937 24l-21-2m44 2l-21-2m43 3l-21-3m43 3l-20-4m42 5l-20-5m42 5l-20-6m43 7l-20-7m42 7l-19-8m41 9l-19-9m41 9l-18-10m40 11l-18-11m39 11l-17-12m39 13l-16-13m38 13l-15-14m37 15l-14-15m36 15l-13-16m35 16l-13-16m35 17l-12-17m34 17l-11-17m33 17l-11-17m33 17l-11-17m33 17l-10-17m32 17l-10-17m33 17l-11-17m33 17l-11-17m34 17l-11-17m33 17l-12-17m35 16l-12-16m34 16l-13-16m36 16l-14-15m37 14l-15-14m38 14l-16-13m38 12l-17-12m40 12l-17-11m40 10l-18-10m40 10l-19-9m42 8l-19-8m41 8l-20-7m43 6l-20-6m42 6l-20-5m42 4l-20-4m43 4l-21-3m43 2l-21-2m43 2l-21-2m-937 24l-21-2m44 3l-21-2m43 2l-21-3m43 3l-20-4m42 5l-20-5m42 5l-20-6m43 7l-20-7m42 8l-19-8m41 8l-19-9m41 10l-18-10m40 10l-17-11m38 12l-17-12m39 12l-16-13m38 14l-15-14m37 14l-14-15m36 16l-13-16m35 16l-12-17m34 17l-12-17m34 17l-11-17m33 17l-11-18m33 18l-10-18m32 18l-10-18m32 18l-10-18m33 18l-10-18m32 18l-11-18m34 18l-11-17m33 17l-12-17m35 17l-12-17m34 17l-13-16m36 15l-14-15m37 15l-15-15m38 14l-16-13m38 13l-17-12m40 11l-17-11m40 11l-18-10m40 9l-19-9m42 9l-19-8m41 7l-20-7m43 7l-20-6m42 5l-20-5m42 5l-20-4m43 3l-21-3m43 3l-21-2m43 1l-21-2m-937 25l-21-1m44 1l-21-2m43 2l-21-3m43 4l-21-3m43 3l-20-4m42 5l-20-5m43 5l-20-7m42 8l-19-8m41 8l-19-9m41 10l-18-10m40 11l-17-11m38 11l-17-12m39 13l-16-13m38 13l-15-14m37 15l-14-15m36 15l-13-16m35 16l-13-17m35 18l-12-17m34 17l-11-17m33 17l-11-18m33 18l-10-18m32 18l-10-18m32 18l-10-18m33 18l-10-18m32 18l-11-18m34 18l-11-17m33 17l-12-17m35 16l-12-17m34 17l-13-16m36 16l-14-15m37 14l-15-14m38 14l-16-13m38 12l-17-12m40 12l-17-11m40 10l-18-10m40 10l-19-9m42 8l-19-8m41 7l-20-7m43 7l-20-6m42 5l-20-5m42 5l-20-4m43 3l-21-3m43 3l-21-2m43 2l-21-2m-914 24l-21-2m43 3l-21-2m43 2l-21-3m43 3l-20-4m42 5l-20-5m43 5l-20-6m42 7l-19-7m41 8l-19-9m41 9l-18-10m40 11l-18-11m40 11l-17-12m38 13l-16-13m38 13l-16-14m38 15l-15-15m37 15l-14-15m36 15l-13-16m35 17l-12-17m34 17l-12-17m34 17l-11-17m33 17l-11-18m33 18l-11-18m33 18l-11-18m34 18l-11-18m33 18l-11-17m34 17l-11-17m33 17l-12-17m35 17l-13-16m36 15l-14-16m36 16l-15-15m38 14l-15-14m38 14l-16-13m38 12l-17-12m40 12l-17-11m40 10l-18-10m40 10l-19-9m42 8l-19-8m41 8l-20-6m43 5l-20-5m42 5l-20-4m42 3l-20-3m43 3l-21-3m43 2l-21-2m43 2l-21-1m-914 24l-21-2m43 2l-21-2m43 2l-21-3m43 4l-20-4m43 4l-20-5m42 6l-20-6m42 6l-20-7m42 8l-19-8m41 8l-19-9m41 10l-18-10m40 11l-17-12m39 12l-17-13m39 14l-16-13m37 13l-15-14m37 14l-14-15m36 16l-14-16m36 16l-13-16m35 16l-12-17m34 17l-12-17m34 17l-12-17m35 17l-11-17m33 17l-11-17m33 17l-12-17m35 17l-12-17m34 17l-12-17m35 17l-13-16m35 16l-14-16m37 15l-14-15m37 15l-15-14m37 14l-16-14m39 13l-16-13m39 13l-17-12m39 11l-18-11m41 11l-18-10m40 9l-19-8m42 7l-19-7m41 7l-20-6m43 5l-20-5m42 5l-20-4m42 3l-21-3m44 3l-21-2m43 2l-21-2m-892 24l-21-1m43 1l-21-2m43 2l-21-3m43 4l-21-3m44 3l-20-4m42 5l-20-5m42 5l-20-6m42 7l-19-7m41 7l-19-9m41 10l-18-10m40 11l-18-11m40 11l-17-12m39 13l-16-13m38 13l-16-14m38 14l-15-14m37 15l-14-15m36 15l-14-15m36 15l-13-16m35 16l-13-16m35 16l-13-16m35 16l-13-16m35 16l-13-17m36 17l-13-16m35 16l-13-16m36 16l-13-16m35 16l-14-16m37 16l-14-15m36 14l-15-14m38 14l-15-14m37 14l-16-13m39 12l-17-12m40 12l-18-11m40 10l-18-10m41 10l-19-9m41 8l-19-8m42 7l-20-7m42 7l-20-6m43 5l-20-4m42 4l-20-4m42 4l-21-3m44 2l-21-2m43 2l-21-2m-870 24l-21-2m43 3l-21-2m43 2l-21-3m44 3l-20-4m42 5l-20-5m42 5l-20-6m42 7l-20-7m42 7l-19-8m41 9l-19-9m41 10l-18-10m40 10l-18-11m40 12l-17-12m39 12l-16-13m38 13l-16-14m38 15l-15-14m37 14l-15-15m37 15l-14-15m36 15l-14-15m36 15l-14-16m37 16l-14-16m36 16l-13-16m35 16l-14-16m37 16l-14-15m36 15l-14-15m37 15l-14-15m36 15l-15-14m38 13l-16-14m38 14l-16-13m39 13l-17-12m39 11l-17-11m40 11l-18-10m41 9l-19-9m41 9l-19-8m42 7l-20-7m42 7l-20-6m42 5l-20-5m43 5l-20-4m42 3l-21-3m44 3l-21-2m43 2l-21-2m-826 24l-21-2m43 2l-21-2m44 3l-21-3m43 3l-20-4m42 4l-20-5m42 6l-20-6m42 6l-20-7m42 8l-19-8m41 8l-19-9m41 10l-18-10m40 10l-18-11m40 12l-17-12m39 12l-17-13m39 14l-16-13m39 13l-16-14m38 14l-15-14m37 14l-15-15m37 15l-15-15m37 15l-14-15m36 15l-14-15m37 15l-15-15m37 15l-15-15m38 15l-15-14m37 14l-15-14m37 14l-16-13m39 12l-16-13m39 13l-17-12m39 12l-17-11m40 10l-18-10m40 10l-19-9m42 8l-19-8m41 8l-19-7m42 6l-20-6m42 6l-20-5m43 4l-20-4m42 4l-20-3m42 2l-21-3m44 3l-21-2m43 2l-21-2m-826 24l-21-2m43 2l-21-2m44 3l-21-3m43 3l-21-3m43 3l-20-4m42 5l-20-5m42 5l-20-6m43 7l-20-7m42 7l-19-8m41 9l-19-9m41 9l-18-10m40 11l-18-11m40 11l-17-11m39 11l-17-12m39 13l-17-13m39 13l-16-13m38 13l-16-13m38 13l-16-14m39 14l-16-14m38 14l-16-14m38 14l-16-14m39 14l-16-13m38 13l-16-13m38 13l-16-13m39 12l-17-12m39 12l-17-12m40 12l-18-11m41 10l-18-10m40 10l-19-9m42 8l-19-8m41 8l-19-7m41 6l-20-6m43 6l-20-5m42 5l-20-4m43 3l-20-4m42 4l-21-3m43 3l-21-2m44 1l-21-2m-782 25l-21-2m44 2l-21-2m43 2l-21-3m43 4l-21-3m43 3l-20-4m43 4l-20-5m42 6l-20-6m42 6l-20-7m42 8l-19-8m41 8l-19-8m41 8l-19-9m41 10l-18-10m40 10l-18-11m41 11l-18-11m40 12l-17-12m39 12l-17-12m39 12l-17-12m39 12l-17-12m39 12l-17-12m40 12l-17-12m39 12l-17-12m40 12l-17-12m39 11l-17-11m39 11l-18-11m41 11l-18-10m40 10l-18-9m41 8l-19-9m41 9l-19-8m42 7l-20-7m42 7l-20-6m43 5l-20-5m42 5l-20-4m42 4l-20-4m43 3l-21-3m43 3l-21-2m43 2l-21-2m-736 24l-21-2m43 2l-21-2m43 3l-21-3m44 3l-21-3m43 3l-20-4m42 5l-20-5m42 5l-20-6m42 6l-20-6m42 7l-20-7m43 7l-19-8m41 8l-19-8m41 9l-19-9m41 9l-18-10m40 10l-18-10m40 10l-18-10m41 11l-18-11m40 11l-18-11m40 11l-18-11m40 11l-18-11m41 10l-18-10m40 10l-18-10m40 10l-18-10m41 10l-19-9m41 9l-19-9m42 8l-19-8m41 8l-19-7m42 6l-20-7m42 7l-20-6m42 6l-20-5m43 4l-20-4m42 4l-20-4m42 4l-21-3m44 2l-21-2m43 2l-21-2m43 2l-21-1m-714 23l-21-2m43 3l-21-2m44 2l-21-3m43 3l-21-3m43 4l-20-4m42 4l-20-4m42 4l-20-5m43 5l-20-6m42 7l-20-6m42 6l-20-7m42 7l-19-8m41 9l-19-8m42 8l-19-8m41 8l-19-9m41 9l-19-9m41 9l-19-9m41 9l-19-9m42 9l-19-9m41 9l-19-9m41 9l-19-9m42 9l-19-8m41 7l-19-8m42 8l-19-7m41 7l-20-7m42 7l-20-6m43 5l-20-5m42 5l-20-5m42 5l-20-4m43 3l-21-3m43 3l-21-3m43 3l-21-2m44 2l-21-2m43 1l-21-1m-670 24l-21-2m44 2l-21-2m43 2l-21-2m43 2l-21-3m43 4l-21-3m44 3l-20-4m42 4l-20-5m42 6l-20-5m42 5l-20-6m42 6l-20-6m43 6l-20-7m42 7l-20-7m42 8l-20-7m42 7l-19-7m42 7l-19-7m41 7l-19-7m41 7l-19-7m41 7l-19-7m42 6l-20-7m42 7l-20-7m42 7l-20-6m43 6l-20-6m42 6l-20-5m43 4l-20-5m42 5l-20-4m42 4l-20-4m43 4l-21-3m43 2l-21-3m43 3l-21-2m43 2l-21-2m-602 24l-21-2m43 2l-21-2m43 3l-21-2m43 2l-21-3m44 3l-21-3m43 3l-20-4m42 4l-20-4m42 5l-20-4m43 4l-20-5m42 5l-20-5m42 5l-20-5m42 5l-20-6m43 6l-20-6m42 6l-20-6m42 6l-20-6m42 6l-20-6m43 6l-20-6m42 6l-20-6m42 6l-20-5m43 5l-20-5m42 5l-20-5m42 4l-20-4m43 4l-20-4m42 4l-21-3m43 3l-21-3m44 3l-21-2m43 1l-21-2m43 2l-21-2m-536 25l-21-2m43 2l-21-2m44 2l-21-2m43 2l-21-3m43 3l-21-3m43 3l-21-3m44 4l-20-4m42 4l-20-4m42 4l-20-4m42 4l-20-4m43 4l-20-4m42 4l-20-5m42 5l-20-5m43 5l-20-4m42 4l-20-4m42 4l-20-4m42 4l-20-4m43 4l-20-4m42 4l-21-3m43 2l-21-3m44 3l-21-3m43 3l-21-2m43 2l-21-2m44 2l-21-2m43 2l-21-1m-469 23l-21-2m43 2l-21-2m43 2l-21-2m44 2l-21-2m43 3l-21-3m43 3l-21-3m43 3l-21-3m44 3l-21-3m43 3l-21-3m43 3l-21-3m43 3l-21-3m44 3l-21-3m43 3l-21-3m43 3l-21-3m44 3l-21-3m43 3l-21-3m43 2l-21-3m43 3l-21-2m44 2l-21-2m43 2l-21-2m43 2l-21-2m-380 24l-21-2m44 2l-21-2m43 3l-21-2m43 2l-21-2m43 2l-21-2m44 2l-21-2m43 2l-21-2m43 2l-21-2m43 2l-21-2m44 2l-21-2m43 2l-21-2m43 2l-21-2m44 2l-21-2m43 2l-21-2m43 2l-21-2m43 1l-21-2m-224 25l-21-2m44 2l-21-2m43 2l-21-2m43 2l-21-2m44 2l-21-2m43 2l-21-2m43 2l-21-2m43 2l-21-2m44 2l-21-1"/>
<clipPath id="cp1"><rect x="921.7" y="1961.6" width="668.2" height="658.6"/></clipPath>
<filter id="bl1" filterUnits="userSpaceOnUse" x="881.7" y="1921.6" width="748.2" height="738.6"><feGaussianBlur stdDeviation="4"/></filter>
<pattern id="pt1" patternUnits="userSpaceOnUse" x="921.7" y="1960.4" width="11.140" height="11.200"><path stroke="#000" stroke-width="1.5" d="M0.54 5.60h10.06"/><path stroke="#000" stroke-width="3.1" stroke-linecap="round" d="M7.30 5.60h2.00"/></pattern>
<path id="ar2" transform="scale(.5)" d="M3411 3932l-12 1m34-1l-12 1m35-2l-12 1m34-1l-12 1m34-1l-12 1m34-1l-12 1m34-1l-11 1m33-1l-11 2m33-2l-11 2m34-2l-11 2m33-2l-11 2m33-2l-11 2m33-2l-11 2m33-2l-11 2m33-2l-11 2m33-2l-11 2m33-2l-11 2m34-2l-11 2m33-2l-11 2m33-2l-11 2m33-2l-11 2m33-2l-11 2m33-2l-11 2m33-2l-11 2m34-2l-12 1m34-1l-12 1m34-1l-12 1m34-1l-12 1m34 0l-12 1m34-1l-12 1m-652 21l-12 1m34-1l-12 1m34-1l-12 1m35-1l-12 1m34-1l-12 1m34-1l-11 2m33-2l-11 2m33-3l-11 2m33-2l-11 2m33-2l-11 2m33-2l-11 2m34-2l-11 2m33-2l-11 2m33-2l-11 2m33-2l-11 2m33-2l-11 2m33-2l-11 2m33-2l-11 2m34-2l-11 2m33-2l-11 2m33-2l-11 2m33-2l-11 2m33-2l-11 2m33-2l-11 2m33-2l-11 2m34-1l-11 2m33-2l-11 2m33-2l-11 1m33-1l-12 1m34-1l-12 1m34-1l-12 1m34-1l-12 1m35-1l-12 1m-741 21l-12 1m34-1l-12 1m34-1l-12 1m34-1l-12 1m34-1l-12 1m35-1l-11 2m33-2l-11 2m33-2l-11 2m33-2l-11 2m33-2l-11 2m33-2l-11 2m33-2l-11 2m33-3l-11 3m34-3l-11 3m33-3l-11 3m33-3l-11 3m33-3l-11 3m33-3l-11 3m33-3l-11 3m33-3l-11 3m34-3l-11 3m33-3l-11 3m33-3l-11 3m33-3l-11 3m33-2l-11 3m33-3l-11 2m33-2l-11 2m34-2l-11 2m33-2l-11 2m33-2l-11 2m33-2l-11 2m33-2l-11 1m33-1l-12 1m34-1l-12 1m35-1l-12 1m34-1l-12 1m-785 22l-12 1m34-1l-12 1m34-1l-12 1m34-1l-12 1m34-2l-11 2m33-2l-11 2m34-2l-11 2m33-2l-11 2m33-2l-11 2m33-2l-11 2m33-2l-11 3m33-3l-11 3m33-3l-11 3m33-3l-11 3m33-3l-11 3m34-3l-11 3m33-4l-11 3m33-3l-11 4m33-4l-11 4m33-4l-11 4m33-4l-11 4m33-4l-11 3m34-3l-11 3m33-2l-11 3m33-3l-11 3m33-3l-11 3m33-3l-11 3m33-3l-11 3m34-3l-11 3m33-3l-11 2m33-2l-11 2m33-2l-11 2m33-2l-11 2m33-2l-11 2m33-2l-12 1m35 0l-12 1m34-1l-12 1m34-1l-12 1m-829 21l-12 1m34-1l-12 1m34-1l-12 1m34-1l-12 1m34-1l-11 2m33-2l-11 2m33-2l-11 2m33-3l-11 2m34-2l-11 2m33-2l-11 3m33-3l-11 3m33-3l-11 3m33-3l-11 3m33-3l-11 4m33-4l-11 4m33-4l-11 4m34-4l-11 4m33-4l-11 4m33-4l-11 4m33-4l-11 4m33-4l-11 4m33-4l-11 4m33-4l-11 4m33-4l-11 4m34-4l-11 4m33-4l-11 4m33-4l-11 4m33-4l-11 3m33-3l-11 3m33-3l-11 3m34-3l-11 3m33-3l-11 3m33-3l-11 2m33-1l-11 2m33-2l-11 2m33-2l-11 2m34-2l-11 1m33-1l-12 1m34-1l-12 1m34-1l-12 1m34-1l-12 1m-896 22l-12 1m35-2l-12 1m34-1l-12 1m34-1l-12 1m34-1l-11 2m33-2l-11 2m33-2l-11 2m33-2l-11 2m33-2l-11 3m34-3l-11 3m33-4l-11 3m33-3l-11 3m33-3l-11 4m33-4l-11 4m33-4l-11 4m33-4l-11 4m33-4l-11 5m33-5l-11 5m33-5l-11 5m34-5l-11 5m33-5l-11 5m33-5l-11 5m33-5l-11 5m33-5l-11 5m33-5l-11 5m34-5l-11 5m33-5l-11 4m33-4l-11 4m33-4l-11 4m33-4l-11 4m33-4l-11 4m34-4l-11 3m33-3l-11 3m33-2l-11 3m33-3l-11 2m33-2l-11 2m33-2l-11 2m34-2l-11 2m33-2l-11 2m33-2l-12 1m34-1l-12 1m34 0l-12 1m34-1l-12 1m-940 21l-12 1m34-1l-12 1m35-1l-12 1m34-1l-11 1m33-1l-11 2m33-3l-11 2m33-2l-11 2m33-2l-11 2m33-2l-11 3m33-3l-11 3m33-3l-11 3m34-3l-11 4m33-5l-11 4m33-4l-11 4m33-4l-11 5m33-5l-11 5m33-5l-10 5m32-5l-10 5m32-5l-10 5m32-5l-10 5m32-5l-10 6m33-6l-10 6m32-6l-10 6m32-6l-10 6m32-6l-10 6m32-6l-10 5m32-5l-10 5m33-5l-10 5m32-5l-11 5m33-5l-11 5m33-5l-11 4m33-4l-11 4m33-4l-11 4m34-3l-11 4m33-4l-11 3m33-3l-11 3m33-3l-11 3m33-3l-11 2m34-2l-11 2m33-1l-11 2m33-2l-11 2m33-2l-12 1m34-1l-12 1m34-1l-12 1m-962 21l-12 1m34-1l-12 1m34-1l-12 1m35-1l-12 1m34-1l-11 2m33-2l-11 2m33-2l-11 2m33-2l-11 3m33-4l-11 3m33-3l-11 3m33-3l-11 4m33-4l-11 4m33-4l-11 4m34-4l-11 5m33-6l-11 5m33-5l-10 5m32-5l-10 5m32-5l-10 6m32-6l-10 6m32-6l-10 6m32-6l-10 6m32-6l-10 6m32-6l-10 6m32-6l-10 6m33-6l-10 6m32-6l-10 6m32-6l-10 6m32-6l-10 6m32-6l-10 6m33-6l-10 6m32-6l-10 5m32-5l-10 5m32-5l-11 5m33-4l-11 4m34-4l-11 4m33-4l-11 4m33-4l-11 3m33-3l-11 3m33-3l-11 3m34-2l-11 2m33-2l-11 2m33-2l-11 2m33-2l-11 2m33-2l-12 1m34-1l-12 1m34-1l-12 1m-984 22l-12 1m34-1l-12 1m34-1l-12 1m35-2l-11 2m33-2l-11 2m33-2l-11 2m33-2l-11 3m33-3l-11 3m33-3l-11 3m33-4l-11 4m33-4l-11 4m33-4l-11 4m33-4l-11 5m33-5l-10 5m32-6l-10 6m32-6l-10 6m33-6l-10 6m32-6l-10 6m32-6l-9 7m31-7l-9 7m31-7l-9 7m31-7l-9 7m31-7l-9 7m31-7l-9 7m31-7l-9 7m31-7l-9 7m32-7l-9 7m31-7l-9 7m31-7l-10 7m32-7l-10 6m33-6l-10 6m32-6l-10 6m32-5l-10 5m32-5l-10 5m32-5l-11 5m34-5l-11 4m33-4l-11 4m33-4l-11 3m33-2l-11 3m34-3l-11 3m33-3l-11 2m33-2l-11 2m33-2l-11 2m33-2l-11 2m33-1l-12 1m34-1l-12 1m35-1l-12 1m-1007 21l-12 1m34-1l-12 1m34-1l-11 2m34-2l-11 2m33-2l-11 2m33-3l-11 3m33-3l-11 3m33-3l-11 3m33-3l-11 4m33-4l-11 4m33-5l-11 5m33-5l-10 5m32-5l-10 5m32-5l-10 6m32-7l-10 6m32-6l-10 7m32-7l-9 7m31-7l-9 7m31-7l-9 7m31-7l-9 8m31-8l-9 8m32-8l-8 8m30-8l-8 8m30-8l-8 8m30-8l-8 8m30-8l-8 8m30-8l-9 8m32-8l-9 8m31-8l-9 7m31-7l-9 7m31-7l-9 7m32-7l-10 6m32-5l-10 6m32-6l-10 6m32-6l-10 5m33-5l-11 5m33-5l-11 4m33-3l-11 4m33-4l-11 3m33-3l-11 3m34-3l-11 3m33-3l-11 2m33-1l-11 2m33-2l-11 2m33-2l-12 1m34-1l-12 1m35-1l-12 1m34-1l-12 1m-1029 21l-12 1m34-1l-11 1m33-1l-11 2m34-2l-11 2m33-2l-11 2m33-2l-11 3m33-4l-11 3m33-3l-11 4m33-4l-11 4m33-4l-11 5m33-6l-10 5m32-5l-10 6m32-6l-10 6m32-6l-10 6m32-6l-9 7m31-8l-9 7m31-7l-9 8m31-8l-8 8m30-8l-8 8m30-8l-8 8m30-8l-8 9m30-9l-8 9m30-9l-8 9m30-9l-8 9m31-9l-8 9m30-9l-8 9m30-9l-8 8m30-8l-8 8m30-8l-8 8m31-8l-9 8m31-8l-9 7m31-7l-9 7m32-6l-9 7m31-7l-10 6m32-6l-10 6m32-6l-10 5m33-4l-11 5m33-5l-11 4m33-4l-11 4m33-4l-11 3m34-3l-11 3m33-2l-11 3m33-3l-11 2m33-2l-11 2m33-2l-11 2m33-2l-12 1m35-1l-12 1m34 0l-12 1m-1029 21l-12 1m34-1l-11 2m33-3l-11 2m33-2l-11 2m34-2l-11 3m33-3l-11 3m33-3l-11 4m33-5l-11 4m33-4l-11 5m33-5l-10 5m32-5l-10 6m32-7l-10 6m32-6l-10 7m32-7l-9 7m31-7l-9 8m31-9l-8 8m30-8l-8 8m30-8l-8 9m30-9l-7 9m29-9l-7 9m29-9l-7 9m29-9l-7 9m29-9l-7 9m29-9l-7 9m29-9l-7 9m29-9l-7 9m30-9l-7 9m29-9l-7 9m29-9l-8 9m30-9l-8 8m31-8l-8 8m30-7l-9 8m31-8l-9 7m32-7l-9 7m31-7l-10 6m32-6l-10 6m33-5l-10 5m32-5l-11 5m33-5l-11 4m33-4l-11 4m34-3l-11 3m33-3l-11 3m33-3l-11 3m33-3l-11 2m33-2l-11 2m33-1l-12 2m35-2l-12 1m34-1l-12 1m34-1l-12 1m-1051 21l-11 2m33-2l-11 2m33-2l-11 2m33-2l-11 3m34-4l-11 3m33-3l-11 3m33-3l-11 4m33-4l-11 4m33-5l-10 5m32-5l-10 6m32-6l-10 6m32-7l-9 7m31-7l-9 7m31-7l-9 8m30-8l-8 8m30-8l-8 9m30-10l-7 9m29-9l-7 9m29-9l-7 9m29-9l-6 10m28-10l-6 10m28-10l-6 10m28-10l-6 10m28-10l-6 10m29-10l-6 10m28-10l-6 10m28-10l-6 10m28-10l-6 9m29-9l-7 9m29-9l-7 9m29-9l-8 9m31-8l-8 8m30-8l-8 8m30-8l-9 7m32-7l-9 7m31-6l-10 6m32-6l-10 6m33-6l-10 5m32-5l-11 5m33-4l-11 4m34-4l-11 4m33-4l-11 3m33-3l-11 3m33-2l-11 2m33-2l-11 2m33-2l-11 2m34-2l-12 1m34-1l-12 1m34-1l-12 1m-1051 21l-11 2m33-2l-11 2m33-2l-11 2m33-2l-11 3m34-3l-11 3m33-4l-11 4m33-4l-11 4m33-4l-11 5m33-5l-10 5m32-6l-10 6m32-6l-10 7m31-7l-9 7m31-8l-9 8m31-8l-8 8m30-8l-8 9m30-9l-7 9m29-10l-7 9m29-9l-6 10m28-10l-6 10m28-10l-5 10m27-10l-5 10m27-10l-5 10m27-10l-5 10m27-10l-5 10m27-10l-5 10m27-10l-5 10m28-10l-5 10m27-10l-5 10m27-10l-6 10m29-10l-6 10m28-9l-7 9m29-9l-7 9m30-9l-8 9m30-9l-8 8m31-8l-9 8m31-7l-9 7m31-7l-10 6m33-6l-10 6m32-5l-11 5m33-5l-11 5m33-5l-11 4m34-4l-11 3m33-2l-11 3m33-3l-11 3m33-3l-11 2m33-2l-11 2m34-2l-12 1m34 0l-12 1m34-1l-12 1m34-1l-12 1m-1073 21l-11 2m33-2l-11 2m33-3l-11 3m33-3l-11 3m33-3l-11 3m34-3l-11 4m33-5l-11 5m33-5l-10 5m32-5l-10 6m31-7l-10 6m32-6l-9 7m31-7l-9 8m31-9l-8 8m30-8l-8 9m30-9l-7 9m29-9l-6 10m27-10l-6 10m28-10l-5 10m27-10l-5 10m27-11l-4 10m26-10l-4 10m26-10l-4 10m26-10l-4 10m26-10l-3 10m26-10l-4 10m26-10l-4 10m26-10l-4 10m26-10l-4 10m27-10l-5 10m27-9l-6 10m29-10l-6 10m28-10l-7 10m30-10l-7 9m29-9l-8 9m30-8l-9 8m32-8l-9 7m31-7l-10 7m33-6l-10 6m32-6l-10 6m32-6l-11 5m33-5l-11 4m34-3l-11 4m33-4l-11 3m33-3l-11 3m33-3l-11 2m33-1l-11 2m34-2l-12 2m34-2l-12 1m34-1l-12 1m34-1l-12 1m-1073 21l-11 2m33-2l-11 2m33-2l-11 3m33-4l-11 3m33-3l-11 4m33-4l-11 4m34-4l-11 5m32-6l-10 5m32-5l-10 6m32-6l-9 7m31-8l-9 7m31-7l-8 8m30-8l-8 9m30-10l-7 9m28-9l-6 10m28-10l-6 10m28-10l-5 10m27-10l-4 10m26-10l-4 10m26-10l-3 10m25-10l-3 10m25-10l-3 10m25-10l-2 11m24-11l-2 11m24-11l-3 11m25-11l-3 11m26-11l-3 11m25-11l-4 11m26-11l-4 11m27-11l-5 11m27-11l-5 10m28-10l-6 10m28-10l-7 10m30-10l-8 9m30-8l-8 9m31-9l-9 8m31-8l-9 7m32-6l-10 7m32-7l-10 6m32-6l-11 5m33-4l-11 5m34-5l-11 4m33-4l-11 3m33-2l-11 3m33-3l-11 2m33-2l-11 2m34-2l-12 2m34-2l-12 1m34-1l-12 1m34 0l-12 1m-1073 20l-11 2m33-2l-11 2m33-2l-11 3m33-3l-11 3m33-4l-11 4m33-4l-11 4m33-4l-10 5m32-5l-10 6m32-7l-10 6m32-6l-9 7m31-7l-9 8m31-9l-8 8m30-8l-7 9m28-9l-6 10m28-11l-6 10m28-10l-5 10m27-10l-4 10m25-10l-3 10m25-10l-3 10m25-10l-2 10m24-10l-2 10m24-10l-2 10m24-10l-2 11m24-11l-2 11m25-11l-2 11m24-11l-2 11m24-11l-2 11m25-11l-3 11m25-11l-3 11m25-11l-4 11m27-11l-5 11m28-11l-6 11m28-11l-6 10m29-9l-7 10m29-10l-8 9m31-9l-9 8m31-7l-9 8m31-8l-10 7m33-7l-10 6m32-5l-11 6m33-6l-11 5m34-5l-11 4m33-3l-11 4m33-4l-11 3m33-3l-11 3m33-3l-11 2m34-1l-12 2m34-2l-12 1m34-1l-12 1m34-1l-12 1m-1073 21l-11 2m33-2l-11 2m33-3l-11 3m33-3l-11 3m33-3l-11 4m33-4l-11 5m33-6l-10 5m32-5l-10 6m32-7l-9 7m31-7l-9 7m31-7l-8 8m30-9l-8 9m29-9l-7 9m29-9l-6 10m28-10l-5 10m27-10l-4 10m25-10l-3 10m25-10l-2 10m24-10l-2 10m24-10l-1 10m23-10l-1 10m23-10l-1 10m23-11l-1 11m23-11l-1 11m23-11l-1 11m23-11l-1 11m24-11l-1 12m23-12l-2 12m25-12l-2 12m24-12l-3 12m26-12l-4 12m26-12l-5 11m28-11l-6 11m28-10l-7 10m30-10l-8 10m31-10l-8 9m30-8l-9 8m31-8l-10 7m33-6l-10 7m32-7l-11 6m33-6l-11 5m34-4l-11 4m33-4l-11 4m33-4l-11 3m33-3l-11 3m33-2l-11 2m34-2l-12 2m34-2l-12 2m34-2l-12 1m34-1l-12 1m-1073 21l-11 2m33-2l-11 2m33-2l-11 3m33-4l-11 3m33-3l-11 4m33-4l-11 5m33-5l-10 5m32-6l-10 6m32-6l-9 7m31-8l-9 8m31-8l-8 8m30-8l-7 9m28-10l-6 9m28-9l-5 10m27-10l-4 10m25-10l-3 10m25-10l-2 10m24-10l-2 10m24-10l-1 10m23-10l-1 10m23-10l-1 10m23-10l0 11m22-11l0 11m22-11l0 11m22-12l0 12m22-12l-1 12m23-12l-1 12m24-12l-1 12m23-12l-2 12m25-12l-3 12m25-12l-3 12m26-12l-4 12m27-11l-5 11m27-11l-7 11m30-11l-7 10m29-9l-8 9m31-9l-9 8m31-8l-10 8m33-7l-10 7m32-7l-11 6m33-5l-11 5m34-5l-11 4m33-4l-11 4m33-3l-11 3m33-3l-11 3m33-3l-12 2m35-2l-12 2m34-2l-12 2m34-1l-12 1m34-1l-12 1m-1073 21l-11 2m33-3l-11 2m33-2l-11 3m33-3l-11 3m33-3l-11 4m33-5l-11 5m33-5l-10 5m32-5l-10 6m32-7l-9 7m31-7l-9 8m31-9l-8 8m29-8l-7 9m29-9l-6 10m28-10l-5 10m26-10l-4 10m26-10l-3 10m25-10l-2 10m23-10l-1 10m23-10l-1 10m23-10l-1 10m23-11l0 10m22-10l0 11m23-11l0 11m22-11l0 12m22-12l0 12m22-13l0 12m22-12l-1 12m24-12l-1 13m23-13l-1 13m24-13l-2 13m24-13l-3 13m26-13l-4 12m26-11l-5 12m28-12l-6 11m29-11l-7 11m29-10l-8 10m31-10l-9 9m31-8l-10 8m33-8l-10 7m32-6l-11 6m33-6l-11 5m34-5l-11 5m33-4l-11 4m33-4l-11 3m33-3l-12 3m34-3l-12 2m35-1l-12 2m34-2l-12 2m34-2l-12 1m34-1l-12 1m-1073 21l-11 2m33-2l-11 2m33-2l-11 3m33-4l-11 3m33-3l-11 4m33-4l-11 5m33-6l-10 5m32-5l-10 6m32-6l-9 7m31-8l-9 8m31-8l-8 8m29-9l-7 9m29-9l-6 10m27-10l-5 10m27-10l-3 10m25-10l-2 10m23-10l-2 10m24-10l-1 10m23-10l-1 10m23-10l0 10m22-10l0 11m22-12l0 11m23-11l0 12m22-12l0 12m22-12l0 12m22-12l0 13m22-13l0 13m23-14l-1 13m23-13l-1 13m23-13l-2 13m25-13l-3 13m26-12l-4 13m26-13l-5 12m28-12l-6 12m29-11l-7 11m29-11l-8 10m31-9l-9 9m32-9l-10 8m32-8l-10 7m32-6l-11 6m34-6l-11 5m33-4l-11 5m33-5l-11 4m33-4l-12 3m34-2l-12 3m34-3l-12 2m35-2l-12 2m34-2l-12 2m34-2l-12 1m34 0l-12 1m-1073 20l-11 2m33-2l-11 2m33-2l-11 3m33-3l-11 3m33-4l-11 4m33-4l-11 5m33-5l-10 5m32-6l-10 6m32-6l-9 7m31-7l-9 8m31-9l-8 8m29-8l-7 9m29-9l-6 9m27-9l-4 10m26-10l-3 10m25-10l-2 9m23-9l-2 9m24-9l-1 9m23-9l-1 10m23-11l0 10m22-10l0 11m22-11l0 11m22-12l0 12m23-12l0 12m22-12l0 13m22-13l0 13m22-13l0 13m22-13l-1 13m24-13l-1 13m23-13l-2 13m25-13l-3 13m26-13l-4 13m26-13l-5 13m28-13l-6 12m29-11l-7 11m30-11l-9 10m31-9l-9 9m32-9l-10 8m32-7l-11 7m33-7l-11 6m34-5l-11 5m33-5l-11 4m33-3l-12 4m34-4l-12 3m34-3l-12 3m35-3l-12 2m34-1l-12 2m34-2l-12 1m34-1l-12 1m34-1l-12 1m-1073 21l-11 2m33-2l-11 2m33-3l-11 3m33-3l-11 3m33-3l-11 4m33-4l-11 4m33-5l-10 5m32-5l-10 6m32-6l-10 7m32-8l-9 7m31-7l-8 8m29-9l-7 9m29-9l-6 9m27-9l-4 9m26-9l-3 9m25-9l-2 9m23-9l-1 9m23-9l-1 9m23-9l0 10m22-10l0 11m22-12l0 11m22-11l0 12m22-12l1 12m21-13l1 13m21-13l1 13m22-13l0 13m22-13l0 14m22-14l0 14m23-14l-1 14m23-14l-2 14m25-14l-3 14m26-14l-4 13m26-13l-5 13m28-12l-7 12m30-12l-8 11m31-10l-9 10m31-10l-10 9m33-8l-11 8m33-8l-11 7m34-6l-11 6m33-6l-12 5m34-4l-12 4m34-4l-12 4m34-4l-12 3m34-2l-12 2m35-2l-12 2m34-2l-12 2m34-2l-12 1m34-1l-12 1m34-1l-12 1m-1073 21l-11 2m33-2l-11 2m33-2l-11 2m33-2l-11 3m34-3l-11 3m33-4l-11 4m33-4l-11 5m33-5l-10 5m31-6l-10 6m32-6l-9 7m31-8l-8 8m29-8l-7 8m29-8l-6 9m27-9l-5 9m27-9l-3 9m25-9l-2 9m23-9l-1 9m23-10l-1 9m23-9l0 10m22-10l0 11m22-12l1 11m21-11l1 12m21-12l2 13m20-13l2 13m20-13l2 13m20-14l1 14m22-14l1 14m21-14l0 14m23-14l-1 14m23-14l-2 14m25-14l-3 14m26-14l-4 14m27-13l-6 13m29-13l-7 12m29-11l-8 11m31-11l-10 10m33-9l-10 9m32-9l-11 8m33-7l-11 7m34-7l-12 6m34-5l-12 5m34-5l-12 4m34-3l-12 3m34-3l-12 3m34-3l-12 2m35-2l-12 2m34-2l-12 2m34-1l-12 1m34-1l-12 1m-1051 21l-11 1m33-1l-11 2m33-2l-11 2m33-3l-11 3m34-3l-11 3m33-3l-11 4m33-4l-11 4m33-5l-11 5m33-5l-10 6m31-7l-9 6m31-6l-9 7m31-7l-8 8m29-9l-6 8m28-8l-5 9m26-9l-4 9m26-9l-2 9m23-9l-1 9m23-9l0 10m22-11l1 10m20-10l1 11m21-11l2 12m20-12l3 12m19-13l4 12m18-12l4 13m18-13l4 13m18-13l3 14m20-14l2 14m21-15l1 14m21-14l0 14m23-14l-1 14m24-14l-3 14m26-13l-5 14m28-14l-6 13m29-12l-8 12m31-12l-9 11m31-10l-10 10m33-10l-11 8m33-7l-12 7m35-6l-12 6m34-6l-12 5m34-5l-12 4m34-3l-12 4m34-4l-12 3m34-3l-12 2m35-1l-12 2m34-2l-12 2m34-2l-12 1m34-1l-12 1m34-1l-12 1m-1051 21l-12 1m34-1l-11 1m33-1l-11 2m34-2l-11 2m33-2l-11 3m33-3l-11 3m33-4l-11 4m33-4l-11 4m33-4l-10 5m32-6l-10 6m31-6l-9 6m31-7l-8 7m30-7l-7 8m28-8l-5 8m26-8l-4 8m26-8l-2 9m23-10l-1 9m23-9l0 10m21-10l2 10m20-10l3 11m18-12l4 11m18-11l5 11m16-11l6 12m16-12l6 12m17-12l6 12m16-12l6 13m17-14l5 14m18-14l3 14m20-14l1 15m22-16l-1 15m24-14l-3 15m26-15l-5 14m29-13l-8 13m31-13l-9 11m31-10l-10 10m33-9l-11 9m33-9l-12 7m35-6l-12 6m34-6l-12 5m34-4l-12 4m34-4l-12 4m34-4l-12 3m34-2l-12 2m34-2l-12 2m35-2l-12 2m34-2l-12 1m34-1l-12 1m34 0l-12 1m-1029 21l-12 1m34-1l-12 1m34-1l-12 1m35-1l-11 2m33-3l-11 2m33-2l-11 2m33-2l-11 3m33-3l-11 3m33-4l-11 4m33-4l-10 5m32-5l-10 5m31-6l-9 6m31-6l-8 6m29-6l-6 7m28-7l-5 8m26-9l-3 8m24-8l-1 9m22-9l1 10m20-11l4 10m17-10l6 10m16-10l7 10m14-10l8 10m14-10l9 10m13-10l9 10m13-10l9 11m14-11l9 11m13-12l8 12m15-13l6 14m17-14l4 16m20-17l1 17m23-17l-4 17m28-16l-7 15m31-14l-9 12m31-11l-11 10m34-9l-12 9m35-8l-12 7m34-7l-13 6m35-5l-13 5m35-5l-13 4m35-3l-13 4m35-4l-13 3m35-3l-13 2m35-2l-12 2m35-1l-12 2m34-2l-12 1m34-1l-12 1m34-1l-12 1m-963 21l-12 1m35-1l-12 1m34-1l-12 1m34-1l-11 2m33-2l-11 2m33-2l-11 2m33-3l-11 3m33-3l-11 3m33-3l-10 4m32-4l-10 4m31-5l-9 5m31-5l-7 6m28-7l-6 7m27-7l-4 8m25-9l0 9m20-9l3 9m18-9l6 9m15-8l8 8m13-8l10 8m12-8l10 8m12-8l11 8m11-8l11 8m11-8l12 8m10-9l11 9m11-9l11 10m12-12l11 13m12-15l9 17m16-19l3 21m23-21l-5 21m30-18l-11 16m34-14l-13 12m35-10l-13 8m36-8l-13 7m35-6l-13 5m35-4l-14 4m36-4l-14 4m36-4l-13 3m35-2l-13 2m35-2l-13 2m36-2l-13 2m35-2l-13 1m35-1l-12 1m34-1l-12 1m-852 22l-12 1m34-1l-12 1m34-1l-11 1m33-2l-11 1m33-1l-11 2m33-2l-11 2m33-2l-10 2m32-2l-9 3m30-4l-9 3m31-3l-7 5m28-6l-5 7m24-8l1 9m18-9l7 8m14-7l9 6m13-5l11 5m10-5l12 5m10-5l12 4m10-4l13 4m9-4l13 4m9-4l13 5m9-5l14 5m8-6l14 6m7-7l16 9m6-12l17 14m9-16l9 18m21-18l-7 18m34-16l-17 14m40-11l-17 8m38-6l-15 5m36-5l-14 4m36-3l-14 3m37-3l-14 2m36-2l-14 2m36-2l-14 2m36-1l-13 1m35-1l-13 1m-587 21l-9 0m31 0l-9 0m31 0l-9 1m23-3l8 5m13-3l10 1m11-1l11 0m11 0l12 0m10 0l12 0m10 0l13 0m9 0l13 0m9 0l14 0m8 0l14 0m8 0l15 0m6 0l16 0m4 0l19 1m2-1l22 1m5-1l12 1m21-1l-8 2m36-2l-21 1m43-1l-20 1m40-1l-17 0m39 0l-15 0m37 0l-15 0m37 1l-14 0m36 0l-14 0m36 0l-14 0m-696 22l-12-1m34 2l-11-1m33 1l-11-1m33 1l-11-2m33 2l-11-2m33 2l-10-2m32 2l-10-2m32 2l-9-3m30 4l-8-4m29 5l-6-6m25 8l1-9m18 7l7-7m14 7l10-5m12 4l11-4m10 4l12-4m10 4l12-4m10 4l13-4m9 4l13-4m9 4l14-4m8 4l14-4m8 5l15-5m6 6l17-8m4 10l18-12m9 14l10-16m20 16l-7-17m35 15l-18-12m40 10l-18-7m39 5l-16-4m37 4l-15-3m38 2l-14-3m36 3l-14-2m36 2l-14-2m36 2l-14-1m36 1l-13-1m35 0l-13-1m-830 24l-12-1m35 1l-12-1m34 1l-12-1m34 1l-11-2m33 2l-11-2m33 2l-11-2m33 3l-11-3m33 3l-11-3m33 3l-10-4m32 4l-10-4m31 5l-9-5m31 5l-8-5m29 6l-6-6m27 6l-4-8m25 9l0-9m20 9l4-9m17 9l7-9m14 8l9-8m12 8l10-7m12 7l11-7m11 7l11-7m11 7l12-7m10 7l12-8m10 9l12-8m10 8l12-10m10 12l12-12m11 14l10-17m15 19l4-21m23 21l-5-21m31 19l-12-17m35 14l-13-11m35 9l-13-8m35 8l-13-6m35 5l-14-5m36 4l-14-4m36 4l-14-3m36 3l-13-3m35 3l-13-2m36 1l-13-2m35 2l-13-2m35 2l-13-1m35 1l-12-1m34 1l-12-1m-963 23l-12-1m34 1l-12-1m34 1l-12-1m35 2l-11-2m33 2l-11-2m33 2l-11-2m33 2l-11-3m33 3l-11-3m33 4l-11-4m33 4l-10-4m32 4l-10-5m31 6l-9-6m31 6l-8-6m29 6l-6-7m28 8l-5-7m26 7l-3-8m24 8l-1-9m22 10l2-10m19 10l4-10m17 10l6-10m15 10l7-10m15 10l8-10m14 10l9-10m13 10l9-10m13 10l9-10m13 10l9-11m14 12l8-12m15 13l7-14m16 15l4-16m20 17l1-18m23 18l-4-17m29 15l-8-15m31 14l-10-12m33 11l-11-10m33 9l-12-8m35 7l-13-7m35 7l-13-6m35 5l-13-5m35 5l-13-4m35 3l-13-3m35 3l-13-3m35 3l-13-2m36 2l-12-2m34 2l-12-2m34 1l-12-1m34 1l-12-1m34 1l-12-1m-1007 24l-12-1m34 1l-12-1m34 1l-11-2m34 2l-11-2m33 2l-11-2m33 3l-11-3m33 3l-11-3m33 3l-11-4m33 5l-10-5m32 5l-10-5m31 5l-9-6m31 7l-8-7m30 7l-7-7m28 7l-6-8m27 8l-4-8m26 8l-3-8m24 9l-1-9m23 9l0-10m21 10l2-10m19 11l3-11m19 11l5-11m16 11l6-11m16 11l6-11m16 11l7-12m15 12l7-12m16 13l6-13m16 13l5-13m18 13l4-14m19 15l2-15m22 15l-1-15m24 15l-3-15m27 14l-6-14m29 14l-8-13m31 12l-9-11m31 10l-11-10m34 9l-11-8m33 8l-12-7m35 6l-12-6m34 6l-13-5m35 4l-13-4m35 4l-12-4m34 4l-12-3m34 2l-12-2m34 2l-12-2m35 2l-12-2m34 2l-12-1m34 1l-12-1m34 1l-12-1m-1029 23l-12-1m34 1l-11-2m33 3l-11-2m33 2l-11-2m34 2l-11-3m33 3l-11-3m33 4l-11-4m33 4l-11-5m33 5l-10-5m31 6l-10-6m32 6l-9-7m31 7l-8-8m29 9l-6-8m28 8l-5-8m26 8l-4-9m26 9l-2-9m23 9l-1-9m23 9l0-10m22 11l1-10m20 10l2-11m20 11l3-12m19 13l3-12m19 12l4-12m18 12l4-13m18 13l4-13m18 13l3-13m20 14l3-14m19 14l1-14m22 14l0-14m23 14l-1-15m24 15l-3-14m26 13l-5-14m28 14l-7-13m30 13l-8-12m31 11l-9-11m32 10l-10-9m32 9l-11-8m33 7l-12-7m35 7l-12-6m34 5l-12-5m34 5l-12-4m34 3l-12-3m34 3l-12-3m34 3l-12-2m35 2l-12-2m34 1l-12-2m34 2l-12-1m34 1l-12-1m34 1l-12-1m-1051 24l-11-2m33 2l-11-2m33 2l-11-2m33 2l-11-3m34 4l-11-3m33 3l-11-4m33 4l-11-5m33 6l-10-5m31 5l-10-6m32 6l-9-7m31 8l-8-8m30 8l-7-8m28 8l-6-9m27 9l-5-9m27 9l-3-9m25 9l-2-9m23 10l-1-9m23 9l-1-9m23 9l0-10m22 10l1-11m21 12l1-11m21 11l1-12m21 12l2-13m20 13l2-13m20 14l2-13m20 13l1-14m22 14l1-14m21 14l0-14m23 14l-1-14m23 14l-2-14m25 14l-3-14m26 14l-4-14m27 14l-6-13m29 12l-7-12m29 12l-9-11m32 10l-10-10m33 9l-11-9m33 9l-11-7m33 6l-12-6m35 6l-12-5m34 4l-12-5m34 5l-12-4m34 4l-12-3m34 2l-12-3m34 3l-12-2m35 2l-12-2m34 2l-12-1m34 1l-12-1m34 0l-12-1m-1051 24l-11-2m33 2l-11-2m33 3l-11-3m33 3l-11-3m33 3l-11-4m33 5l-11-4m33 4l-10-5m32 5l-10-6m32 7l-10-6m32 6l-9-7m31 7l-8-8m29 9l-7-9m29 9l-6-9m27 9l-4-9m26 9l-3-9m25 9l-2-9m23 9l-1-9m23 9l-1-9m23 9l0-10m22 11l0-11m22 11l0-11m22 11l0-12m22 13l1-12m21 12l1-13m21 13l1-13m22 13l0-13m22 13l0-14m22 14l0-14m23 14l-1-14m23 14l-2-14m25 14l-3-14m26 14l-4-13m26 13l-5-13m28 12l-7-12m30 12l-8-11m31 10l-9-10m31 10l-10-9m33 8l-11-8m33 8l-11-7m34 6l-11-6m33 6l-12-5m34 4l-12-4m34 4l-12-4m34 4l-12-3m34 3l-12-2m35 1l-12-2m34 2l-12-2m34 2l-12-1m34 1l-12-1m34 1l-12-1m-1073 24l-11-2m33 2l-11-2m33 2l-11-3m33 3l-11-3m33 4l-11-4m33 4l-11-4m33 4l-10-5m32 6l-10-6m32 6l-9-7m31 8l-9-8m31 8l-8-8m29 8l-7-9m29 10l-6-9m27 9l-4-10m26 10l-3-10m25 10l-2-9m23 8l-2-9m24 10l-1-9m23 9l-1-10m23 10l0-10m22 10l0-11m22 12l0-11m22 11l0-12m23 12l0-12m22 12l0-13m22 13l0-13m22 13l0-13m22 14l-1-13m24 13l-1-13m23 13l-2-14m25 13l-3-13m26 13l-4-13m26 13l-5-13m28 13l-6-12m29 11l-8-11m31 11l-9-10m31 9l-10-9m33 9l-10-8m32 7l-11-7m33 7l-11-6m34 5l-11-5m33 5l-11-4m33 4l-12-4m34 3l-12-3m34 3l-12-3m35 3l-12-2m34 2l-12-2m34 2l-12-1m34 0l-12-1m34 1l-12-1m-1073 24l-11-2m33 2l-11-2m33 3l-11-3m33 3l-11-3m33 3l-11-4m33 5l-11-5m33 5l-10-5m32 5l-10-6m32 7l-9-7m31 7l-9-8m31 8l-8-8m29 9l-7-9m29 9l-6-10m27 10l-4-10m26 10l-3-10m25 10l-2-10m23 10l-2-10m24 10l-1-10m23 10l-1-10m23 10l0-10m22 10l0-11m22 12l0-11m22 11l0-12m23 12l0-12m22 12l0-12m22 13l0-13m22 13l0-13m23 13l-1-13m23 13l-1-13m23 13l-2-13m25 13l-3-13m26 13l-4-13m26 12l-5-12m28 12l-6-12m29 12l-7-11m29 10l-8-10m31 10l-9-9m32 8l-10-8m32 8l-10-7m32 6l-11-6m34 6l-11-5m33 4l-11-4m33 4l-11-4m33 4l-12-3m34 3l-12-3m34 2l-12-2m35 2l-12-2m34 2l-12-1m34 1l-12-1m34 1l-12-1m-1073 24l-11-2m33 2l-11-2m33 2l-11-3m33 3l-11-3m33 4l-11-4m33 4l-11-5m33 5l-10-5m32 6l-10-6m32 6l-9-7m31 7l-9-8m31 9l-8-8m29 8l-7-9m29 9l-6-10m28 11l-5-10m26 10l-4-10m26 10l-3-10m25 10l-2-10m23 9l-1-10m23 11l-1-10m23 10l-1-10m23 10l0-10m22 10l0-11m23 11l0-11m22 11l0-12m22 13l0-12m22 12l0-12m22 12l-1-13m24 13l-1-13m23 13l-1-13m24 13l-2-13m24 13l-3-13m26 13l-4-12m26 12l-5-12m28 11l-6-11m29 11l-7-11m29 10l-8-10m31 10l-9-9m31 9l-10-8m33 7l-10-7m32 7l-11-6m33 5l-11-5m34 5l-11-5m33 5l-11-4m33 3l-11-3m33 3l-12-3m34 3l-12-2m35 2l-12-2m34 1l-12-2m34 2l-12-1m34 1l-12-1m-1073 24l-11-2m33 2l-11-2m33 2l-11-3m33 4l-11-3m33 3l-11-4m33 4l-11-5m33 6l-10-5m32 5l-10-6m32 6l-9-7m31 8l-9-8m31 8l-8-8m30 8l-7-9m28 10l-6-10m28 10l-5-10m26 10l-4-10m26 10l-3-10m25 10l-2-10m24 10l-2-10m24 10l-1-10m22 10l-1-10m23 10l-1-10m24 10l0-11m22 11l0-11m22 12l0-11m22 11l0-12m22 12l-1-12m23 12l-1-12m24 12l-1-12m23 12l-2-12m25 12l-2-12m24 12l-3-12m26 12l-4-12m27 12l-5-11m27 10l-6-11m29 11l-7-10m29 10l-8-9m31 8l-9-9m31 9l-10-8m33 7l-10-7m32 7l-11-6m33 6l-11-5m34 4l-11-4m33 4l-11-4m33 4l-11-3m33 2l-11-3m33 3l-12-2m35 2l-12-2m34 2l-12-2m34 2l-12-1m34 1l-12-1m-1073 23l-11-2m33 3l-11-2m33 2l-11-3m33 3l-11-3m33 3l-11-4m33 5l-11-5m33 5l-10-5m32 5l-10-6m32 7l-9-7m31 7l-9-7m31 7l-8-8m30 9l-7-9m28 9l-7-9m29 9l-6-10m28 10l-5-10m26 11l-4-10m26 10l-3-10m25 10l-2-10m24 9l-2-10m24 10l-1-10m23 11l-1-10m23 10l-1-10m23 10l-1-11m23 11l-1-11m23 11l-1-11m23 11l-1-12m24 12l-1-12m23 12l-2-12m24 12l-2-12m25 12l-3-12m26 12l-4-12m26 12l-5-11m28 11l-6-11m28 11l-7-10m30 9l-8-10m30 10l-8-9m31 8l-9-8m31 8l-10-7m33 7l-10-7m32 6l-11-6m33 6l-11-5m34 5l-11-4m33 3l-11-4m33 4l-11-3m33 3l-11-3m33 3l-11-2m34 1l-12-2m34 2l-12-2m34 2l-12-1m34 1l-12-1m-1073 24l-11-2m33 2l-11-2m33 2l-11-3m33 3l-11-3m33 4l-11-4m33 4l-11-4m33 4l-10-5m32 6l-10-6m32 6l-10-6m32 6l-9-7m31 8l-9-8m31 8l-8-8m30 8l-7-9m28 10l-6-10m28 10l-5-10m27 10l-5-10m27 10l-4-10m25 10l-3-10m25 10l-3-10m25 10l-2-10m24 10l-2-10m24 10l-1-10m23 10l-1-11m23 11l-1-11m24 11l-1-11m23 11l-2-11m24 11l-2-11m24 12l-3-11m26 11l-3-11m25 10l-4-11m27 11l-5-11m27 11l-5-11m28 11l-6-10m29 10l-7-10m29 9l-8-9m31 9l-9-9m31 9l-9-8m31 7l-10-7m33 7l-10-6m32 6l-11-6m33 5l-11-5m34 5l-11-4m33 4l-11-4m33 3l-11-3m33 3l-11-3m33 3l-11-2m34 2l-12-2m34 2l-12-1m34 0l-12-1m34 1l-12-1m-1073 24l-11-2m33 2l-11-2m33 3l-11-3m33 3l-11-3m33 3l-11-4m33 4l-11-4m34 5l-11-5m32 5l-10-6m32 6l-10-6m32 7l-9-7m31 7l-9-8m31 8l-8-8m30 9l-8-9m30 9l-7-9m28 9l-6-10m28 10l-5-10m27 10l-5-10m27 10l-4-10m26 10l-3-10m25 10l-3-10m25 10l-3-10m25 10l-2-10m24 10l-2-11m24 12l-2-11m24 11l-2-11m24 11l-3-11m26 11l-3-11m25 11l-3-11m25 11l-4-11m27 11l-5-11m27 10l-5-11m28 11l-6-10m28 10l-7-10m30 10l-7-9m29 9l-8-9m31 8l-9-8m31 8l-9-7m31 7l-10-7m33 6l-10-6m32 6l-11-5m33 5l-11-5m34 4l-11-4m33 4l-11-3m33 3l-11-3m33 2l-11-2m33 2l-11-2m34 2l-12-2m34 2l-12-1m34 1l-12-1m34 1l-12-1m-1073 23l-11-2m33 3l-11-2m33 2l-11-3m33 3l-11-3m33 3l-11-3m34 4l-11-4m33 4l-11-5m33 5l-10-5m32 6l-10-6m31 6l-10-6m32 6l-9-7m31 7l-9-8m31 9l-8-8m30 8l-7-9m29 9l-7-9m29 9l-6-10m27 11l-6-10m28 10l-5-10m27 10l-4-10m26 10l-4-10m26 10l-4-10m26 10l-3-10m25 10l-3-10m25 10l-3-10m25 10l-3-10m26 10l-4-11m26 11l-4-11m26 11l-4-10m27 10l-5-10m27 10l-5-10m28 10l-6-10m28 9l-7-10m30 10l-7-9m29 9l-8-9m30 9l-9-8m32 7l-9-8m31 8l-10-7m33 7l-10-6m32 5l-10-6m32 6l-11-5m33 5l-11-4m34 3l-11-4m33 4l-11-3m33 3l-11-3m33 3l-11-2m33 2l-11-2m34 1l-12-2m34 2l-12-1m34 1l-12-1m34 1l-12-1m-1073 24l-11-2m33 2l-11-2m33 2l-11-2m33 2l-11-3m34 4l-11-3m33 3l-11-4m33 4l-11-4m33 4l-11-5m33 6l-10-5m32 5l-10-6m32 6l-9-7m30 8l-9-7m31 7l-9-8m31 8l-8-8m30 8l-7-9m29 10l-7-9m29 9l-6-10m28 10l-6-10m28 10l-5-10m27 10l-5-10m27 10l-5-10m27 10l-5-10m27 10l-4-10m26 10l-4-10m26 10l-4-10m26 10l-5-10m27 10l-5-10m28 10l-5-10m27 10l-6-10m29 10l-6-10m28 10l-7-9m29 9l-7-9m30 8l-8-9m30 9l-8-8m31 8l-9-8m31 8l-9-7m31 6l-10-6m33 6l-10-6m32 6l-10-5m32 4l-11-5m33 5l-11-4m34 4l-11-4m33 4l-11-3m33 2l-11-3m33 3l-11-2m33 2l-11-2m34 2l-12-2m34 2l-12-1m34 1l-12-1m34 0l-12-1m-1073 24l-11-2m33 2l-11-2m33 2l-11-2m33 3l-11-3m34 3l-11-3m33 3l-11-3m33 3l-11-4m33 5l-11-4m33 4l-10-5m32 5l-10-6m32 6l-10-6m32 7l-9-7m31 7l-9-7m31 7l-9-8m30 9l-8-8m30 8l-8-9m30 9l-7-9m29 9l-7-9m29 9l-6-10m28 10l-6-10m28 10l-6-10m28 10l-6-10m28 10l-5-10m27 10l-5-10m28 10l-6-10m28 10l-6-10m28 10l-6-10m28 10l-6-10m29 10l-7-9m29 9l-7-9m29 9l-7-9m30 9l-8-8m30 7l-8-8m30 8l-9-8m32 8l-9-7m31 7l-10-6m32 5l-10-6m33 6l-10-5m32 5l-11-5m33 5l-11-4m34 3l-11-4m33 4l-11-3m33 3l-11-3m33 3l-11-2m33 1l-11-2m33 2l-11-2m34 2l-12-1m34 1l-12-1m34 1l-12-1m-1051 24l-12-1m34 1l-11-2m33 2l-11-2m33 2l-11-2m34 2l-11-3m33 3l-11-3m33 4l-11-4m33 4l-11-4m33 4l-11-5m33 5l-10-5m32 6l-10-6m32 6l-10-6m32 6l-9-7m31 7l-9-7m31 8l-9-8m31 8l-8-8m30 8l-8-8m30 8l-8-9m30 9l-7-9m29 9l-7-9m29 9l-7-9m29 9l-7-9m29 9l-7-9m29 9l-6-9m28 9l-7-9m29 9l-7-9m29 9l-7-9m30 9l-7-9m29 9l-7-9m29 9l-8-9m31 9l-8-8m30 8l-9-8m31 8l-9-7m32 6l-9-7m31 7l-10-6m32 6l-10-6m33 6l-10-5m32 4l-11-5m33 5l-11-4m33 4l-11-4m34 3l-11-3m33 3l-11-3m33 3l-11-3m33 3l-11-2m33 2l-11-2m33 2l-12-2m35 1l-12-1m34 1l-12-1m34 1l-12-1m-1051 24l-12-1m34 1l-11-2m33 2l-11-2m34 2l-11-2m33 2l-11-2m33 3l-11-3m33 3l-11-3m33 3l-11-4m33 4l-11-4m33 5l-11-5m33 5l-10-5m32 5l-10-6m32 6l-10-6m32 6l-10-7m32 8l-9-7m31 7l-9-7m31 7l-9-8m31 8l-8-8m30 8l-8-8m30 8l-8-8m30 9l-8-9m30 9l-8-9m30 9l-7-9m29 9l-7-9m29 9l-7-9m30 9l-8-9m30 8l-8-9m30 9l-8-8m30 8l-8-8m31 8l-8-8m30 8l-9-8m31 8l-9-7m32 7l-9-7m31 6l-10-6m32 6l-10-6m32 6l-10-5m33 5l-11-5m33 4l-11-4m33 4l-11-4m33 4l-11-4m34 4l-11-3m33 3l-11-3m33 2l-11-2m33 2l-11-2m33 2l-11-2m33 2l-12-1m35 1l-12-1m34 1l-12-1m-1029 23l-12-1m34 1l-12-1m34 1l-11-2m34 3l-11-2m33 2l-11-2m33 2l-11-3m33 3l-11-3m33 3l-11-3m33 3l-11-4m33 5l-11-4m33 4l-11-5m33 5l-10-5m32 5l-10-6m32 7l-10-6m32 6l-10-6m32 6l-9-7m31 7l-9-7m31 7l-9-7m31 7l-9-8m31 8l-9-8m31 9l-8-8m31 8l-8-8m30 8l-8-8m30 8l-8-8m30 8l-8-8m30 8l-8-8m30 8l-8-8m31 7l-9-8m31 8l-9-7m31 7l-9-7m31 7l-9-7m32 7l-10-7m32 7l-10-6m32 5l-10-6m32 6l-10-5m33 5l-11-5m33 5l-11-4m33 4l-11-4m33 3l-11-4m33 4l-11-3m34 3l-11-3m33 3l-11-2m33 2l-11-2m33 1l-11-2m33 2l-12-1m34 1l-12-1m35 1l-12-1m34 1l-12-1m-1029 24l-12-1m34 1l-12-1m34 1l-12-1m35 1l-11-2m33 2l-11-2m33 2l-11-2m33 2l-11-3m33 3l-11-3m33 4l-11-3m33 3l-11-4m33 4l-11-4m33 4l-11-5m33 5l-11-5m33 6l-10-5m32 5l-10-6m32 6l-10-6m33 6l-10-6m32 6l-10-7m32 7l-9-7m31 8l-9-7m31 7l-9-7m31 7l-9-7m31 7l-9-7m31 7l-9-7m31 7l-9-7m31 7l-9-7m32 7l-9-7m31 6l-9-7m31 7l-9-7m31 7l-10-6m33 6l-10-6m32 6l-10-6m32 6l-10-5m32 5l-10-5m32 4l-11-5m34 5l-11-4m33 4l-11-4m33 4l-11-4m33 4l-11-3m33 2l-11-3m34 3l-11-2m33 2l-11-2m33 2l-11-2m33 2l-11-2m33 2l-12-1m34 1l-12-1m35 0l-12-1m-1007 24l-12-1m34 1l-12-1m34 1l-12-1m35 1l-11-1m33 1l-11-2m33 2l-11-2m33 3l-11-2m33 2l-11-3m33 3l-11-3m33 3l-11-3m33 3l-11-4m33 4l-11-4m33 5l-11-4m34 4l-11-5m33 5l-10-5m32 5l-10-5m32 5l-10-6m32 6l-10-6m32 6l-10-6m32 7l-10-6m32 6l-10-6m32 6l-10-6m32 6l-10-7m32 7l-10-7m33 7l-10-7m32 7l-10-6m32 6l-10-6m32 5l-10-6m32 6l-10-6m33 6l-10-6m32 6l-10-5m32 5l-10-5m32 5l-11-5m33 5l-11-4m34 3l-11-4m33 4l-11-4m33 4l-11-3m33 3l-11-3m33 3l-11-3m34 3l-11-2m33 1l-11-2m33 2l-11-2m33 2l-11-2m33 2l-12-1m34 1l-12-1m34 1l-12-1m-962 23l-12-1m34 1l-12-1m35 1l-12-1m34 2l-11-1m33 1l-11-2m33 2l-11-2m33 2l-11-2m33 2l-11-3m33 3l-11-3m33 3l-11-3m33 4l-11-3m34 3l-11-4m33 4l-11-4m33 4l-11-4m33 4l-11-5m33 5l-11-5m33 5l-10-5m32 5l-10-5m32 6l-10-5m32 5l-10-6m32 6l-10-6m33 6l-10-6m32 6l-10-6m32 6l-10-6m32 6l-10-6m32 6l-10-6m32 6l-10-5m32 4l-10-5m33 5l-10-5m32 5l-11-5m33 5l-11-4m33 4l-11-4m33 4l-11-4m34 4l-11-4m33 3l-11-3m33 3l-11-3m33 3l-11-3m33 3l-11-2m34 2l-11-2m33 2l-11-2m33 2l-11-2m33 1l-12-1m34 1l-12-1m34 1l-12-1m34 1l-12-1m-940 24l-12-1m35 1l-12-1m34 1l-12-1m34 1l-11-1m33 1l-11-2m33 2l-11-2m33 2l-11-2m33 2l-11-2m33 3l-11-3m34 3l-11-3m33 3l-11-3m33 3l-11-4m33 4l-11-4m33 4l-11-4m33 4l-11-4m33 4l-11-4m33 5l-11-5m33 5l-11-5m33 5l-11-5m34 5l-10-5m32 5l-10-5m32 5l-10-5m32 5l-10-5m32 5l-11-5m33 5l-11-5m33 5l-11-5m34 4l-11-5m33 5l-11-4m33 4l-11-4m33 4l-11-4m33 4l-11-4m34 4l-11-3m33 3l-11-3m33 3l-11-3m33 2l-11-3m33 3l-11-2m33 2l-11-2m34 2l-11-2m33 2l-11-2m33 2l-12-1m34 1l-12-1m34 1l-12-1m34 1l-12-1m-895 23l-12-1m34 1l-12-1m34 1l-12-1m34 1l-12-1m34 1l-11-2m33 3l-11-2m33 2l-11-2m33 2l-11-2m34 2l-11-3m33 3l-11-3m33 3l-11-3m33 3l-11-3m33 3l-11-3m33 3l-11-4m33 4l-11-4m33 5l-11-4m33 4l-11-4m34 4l-11-4m33 4l-11-4m33 4l-11-4m33 4l-11-4m33 4l-11-4m33 4l-11-4m33 4l-11-4m34 4l-11-4m33 4l-11-4m33 3l-11-4m33 4l-11-4m33 4l-11-3m33 3l-11-3m34 3l-11-3m33 3l-11-3m33 3l-11-2m33 2l-11-2m33 2l-11-2m33 1l-11-2m34 2l-11-2m33 2l-12-1m34 1l-12-1m34 1l-12-1m34 1l-12-1m-851 23l-12-1m34 2l-12-1m34 1l-12-1m34 1l-12-1m34 1l-11-2m33 2l-11-2m34 2l-11-2m33 2l-11-2m33 2l-11-2m33 2l-11-3m33 3l-11-3m33 3l-11-3m33 4l-11-3m33 3l-11-3m33 3l-11-3m34 3l-11-3m33 3l-11-4m33 4l-11-4m33 4l-11-4m33 4l-11-4m33 4l-11-4m33 4l-11-4m34 4l-11-4m33 4l-11-3m33 3l-11-3m33 3l-11-3m33 2l-11-3m33 3l-11-3m34 3l-11-3m33 3l-11-2m33 2l-11-2m33 2l-11-2m33 2l-11-2m33 2l-11-2m33 2l-11-1m34 1l-12-1m34 1l-12-1m34 0l-12-1m34 1l-12-1m-807 24l-12-1m34 1l-12-1m34 1l-12-1m34 1l-12-1m34 1l-11-1m34 1l-11-2m33 2l-11-2m33 2l-11-2m33 2l-11-2m33 3l-11-2m33 2l-11-2m33 2l-11-3m33 3l-11-3m34 3l-11-3m33 3l-11-3m33 3l-11-3m33 3l-11-3m33 3l-11-3m33 3l-11-3m33 3l-11-3m33 3l-11-3m34 3l-11-3m33 3l-11-3m33 3l-11-3m33 3l-11-3m33 3l-11-2m33 2l-11-2m34 1l-11-2m33 2l-11-2m33 2l-11-2m33 2l-11-2m33 2l-11-2m33 2l-12-1m34 1l-12-1m35 1l-12-1m34 1l-12-1m-741 23l-12-1m34 1l-12-1m34 1l-12-1m34 1l-12-1m35 1l-12-1m34 2l-11-1m33 1l-11-2m33 2l-11-2m33 2l-11-2m33 2l-11-2m33 2l-11-2m33 2l-11-2m34 2l-11-2m33 2l-11-2m33 2l-11-2m33 2l-11-3m33 3l-11-3m33 3l-11-3m33 3l-11-3m34 3l-11-2m33 2l-11-2m33 2l-11-2m33 2l-11-2m33 2l-11-2m33 2l-11-2m33 2l-11-2m34 2l-11-2m33 2l-11-2m33 2l-11-2m33 1l-12-1m34 1l-12-1m34 1l-12-1m34 1l-12-1m35 1l-12-1m-675 24l-12-1m34 1l-12-1m35 1l-12-1m34 1l-12-1m34 1l-12-1m34 1l-12-1m34 1l-11-2m33 2l-11-2m33 2l-11-2m34 2l-11-2m33 2l-11-2m33 2l-11-2m33 2l-11-2m33 2l-11-2m33 2l-11-2m33 2l-11-2m33 2l-11-2m34 2l-11-2m33 2l-11-2m33 2l-11-2m33 2l-11-2m33 2l-11-2m33 2l-11-2m33 2l-11-2m34 2l-11-1m33 1l-12-1m34 1l-12-1m34 1l-12-1m34 1l-12-1m34 1l-12-1m35 1l-12-1"/>
<clipPath id="cp2"><rect x="1606.4" y="1961.6" width="664" height="658.6"/></clipPath>
<filter id="bl2" filterUnits="userSpaceOnUse" x="1566.4" y="1921.6" width="744" height="738.6"><feGaussianBlur stdDeviation="4"/></filter>
<pattern id="pt2" patternUnits="userSpaceOnUse" x="1608.7" y="1960.4" width="11.070" height="11.200"><path stroke="#000" stroke-width="1.3" d="M2.64 5.60h5.79"/><path stroke="#000" stroke-width="2.7" stroke-linecap="round" d="M5.56 5.60h1.74"/></pattern>
<path id="ar3" transform="scale(.5)" d="M1110 5880l-20 1m40-1l-20 1m-101 19l-20 1m40-1l-20 2m40-2l-20 2m40-2l-20 2m41-2l-20 2m40-2l-20 2m40-2l-20 2m40-2l-20 2m40-2l-20 2m40-2l-20 2m40-2l-20 2m-221 19l-20 1m40-2l-20 2m40-2l-20 2m40-2l-20 2m40-2l-20 3m40-3l-20 3m41-3l-20 3m40-3l-20 3m40-3l-20 3m40-3l-20 3m40-3l-20 3m40-3l-20 3m40-3l-20 2m40-2l-20 2m40-2l-20 2m-281 19l-20 2m40-3l-20 2m40-2l-20 2m40-2l-20 3m40-3l-20 3m40-4l-20 4m40-4l-20 4m40-4l-20 4m40-4l-20 4m41-4l-20 4m40-4l-20 4m40-4l-20 4m40-3l-20 4m40-4l-20 3m40-3l-20 3m40-3l-20 2m40-2l-20 2m40-1l-20 2m-341 18l-20 2m40-3l-20 2m40-2l-20 3m40-3l-20 3m40-4l-20 4m40-4l-19 4m39-4l-19 5m39-5l-19 5m39-5l-19 6m39-6l-19 6m39-6l-19 6m39-6l-19 6m40-6l-19 5m39-5l-19 5m39-5l-20 4m40-3l-20 4m40-4l-20 3m40-3l-20 3m40-3l-20 2m40-1l-20 2m-381 18l-20 2m40-3l-20 2m40-2l-20 3m40-3l-20 4m40-5l-20 4m40-4l-19 5m39-5l-19 6m39-7l-19 6m39-6l-19 7m39-7l-19 7m39-7l-19 7m39-7l-19 7m39-7l-19 7m39-7l-19 7m39-7l-19 6m40-5l-19 6m39-6l-19 5m39-5l-20 4m40-3l-20 3m40-3l-20 3m40-3l-20 2m40-1l-20 2m-421 18l-20 2m40-3l-20 2m40-2l-20 3m40-3l-20 4m40-5l-19 5m39-5l-19 5m39-6l-19 6m39-6l-19 7m39-7l-18 8m38-9l-18 9m38-9l-18 9m38-9l-18 9m38-9l-18 9m38-9l-18 9m38-9l-18 9m38-8l-18 8m38-8l-19 7m40-7l-19 6m39-5l-19 5m39-5l-20 4m40-3l-20 3m40-3l-20 3m40-2l-20 2m41-2l-20 1m-462 19l-20 1m40-1l-20 2m40-3l-20 3m40-3l-20 4m40-5l-19 4m39-4l-19 6m39-7l-19 7m39-7l-18 8m37-9l-18 9m38-9l-17 10m37-11l-17 10m37-10l-17 11m37-11l-17 11m37-11l-17 11m37-11l-17 11m38-10l-17 10m37-10l-18 9m38-9l-18 9m38-8l-19 7m40-7l-19 6m39-5l-19 5m39-4l-20 4m40-4l-20 3m40-3l-20 2m41-1l-20 2m-462 18l-20 2m40-2l-20 2m40-3l-20 3m40-3l-20 4m40-5l-19 5m39-6l-19 6m38-6l-18 8m38-9l-18 9m38-9l-17 10m37-11l-17 11m37-11l-16 12m35-13l-16 13m36-13l-15 13m35-13l-15 13m36-13l-16 12m36-11l-16 12m36-12l-17 11m38-10l-17 10m37-10l-18 9m39-8l-19 7m39-6l-19 6m39-6l-19 5m39-4l-20 4m40-4l-20 3m41-2l-20 2m40-2l-20 2m-482 18l-20 2m40-3l-20 3m40-3l-20 4m40-5l-19 5m39-5l-19 6m38-7l-19 7m39-8l-18 9m38-9l-17 10m37-11l-16 11m35-11l-16 13m36-14l-15 13m35-13l-14 14m34-14l-14 14m34-14l-14 14m34-14l-14 14m34-14l-15 13m36-12l-16 12m36-12l-17 11m38-10l-17 10m37-9l-18 8m39-8l-19 7m39-6l-19 6m39-5l-20 4m40-4l-20 3m41-2l-20 2m40-2l-20 2m-502 18l-20 1m40-1l-20 2m40-3l-20 3m40-3l-20 4m40-5l-19 5m39-5l-19 6m38-7l-18 8m38-9l-18 9m38-10l-17 11m36-11l-16 12m36-13l-15 14m34-14l-14 15m34-16l-13 15m33-15l-12 16m32-16l-12 16m32-16l-13 15m34-14l-14 14m34-14l-15 13m36-12l-16 12m37-11l-17 10m37-10l-18 9m39-8l-19 7m39-6l-19 6m39-5l-19 5m39-5l-20 4m40-3l-20 3m41-3l-20 2m-502 18l-20 1m40-1l-20 2m40-2l-20 3m40-4l-20 4m40-5l-19 5m39-5l-19 7m38-8l-18 8m38-9l-17 10m37-11l-16 11m35-12l-15 13m34-13l-14 15m34-16l-12 16m31-16l-11 16m31-16l-11 17m31-17l-11 17m32-17l-12 16m32-16l-13 16m34-15l-14 14m35-13l-16 13m37-13l-17 11m37-10l-18 9m39-8l-18 8m38-7l-19 6m39-5l-19 5m39-5l-20 4m40-3l-20 3m41-3l-20 2m-502 18l-20 1m40-1l-20 2m40-2l-20 3m40-4l-20 4m40-4l-19 5m39-6l-19 6m38-7l-18 8m38-9l-18 10m38-11l-16 11m35-12l-15 13m34-13l-13 15m33-16l-12 16m31-16l-12 16m32-16l-11 17m31-17l-11 17m32-17l-12 16m32-16l-12 16m33-15l-14 15m35-14l-15 13m35-12l-17 11m38-11l-18 9m39-8l-19 8m39-7l-19 6m39-5l-19 5m39-5l-20 4m40-3l-20 3m41-3l-20 2m-482 18l-20 2m40-2l-20 3m40-4l-20 3m40-3l-19 5m39-6l-19 6m38-7l-19 7m39-7l-18 9m38-10l-17 11m36-12l-15 13m35-14l-14 14m33-14l-13 15m33-16l-12 16m32-16l-12 16m32-16l-12 16m32-16l-13 16m34-15l-13 15m33-15l-14 14m35-13l-16 12m37-11l-17 11m37-10l-18 9m39-8l-19 7m39-7l-19 5m39-4l-20 4m40-3l-20 3m41-3l-20 2m40-2l-20 2m-482 18l-20 2m40-2l-20 2m40-2l-20 3m40-4l-20 4m40-4l-19 5m39-6l-19 6m38-7l-18 8m38-9l-17 10m37-10l-16 11m35-12l-15 13m35-14l-14 14m33-14l-13 15m33-16l-12 16m32-16l-12 16m32-15l-13 15m34-15l-15 14m36-13l-16 12m36-11l-17 11m38-10l-18 9m38-8l-19 7m40-7l-19 6m39-5l-19 5m39-5l-20 4m40-3l-20 3m41-3l-20 2m-442 19l-20 2m40-3l-20 2m40-2l-20 3m40-4l-20 4m40-4l-19 5m39-6l-19 6m39-6l-19 7m38-8l-18 9m38-10l-17 10m36-11l-15 13m33-15l-10 16m28-17l-6 19m26-19l-7 18m30-16l-12 15m34-14l-15 12m36-11l-17 10m37-9l-18 8m38-7l-19 7m40-6l-19 6m39-6l-19 4m39-3l-20 3m40-3l-20 3m40-3l-20 2m41-1l-20 1m-402 19l-20 1m40-2l-20 2m40-2l-20 2m40-2l-20 3m40-4l-20 4m40-4l-19 5m39-6l-19 6m37-8l-16 11m30-14l-4 16m19-17l7 19m15-18l4 17m21-16l-7 14m32-11l-15 8m36-6l-18 6m38-6l-19 4m40-3l-19 4m39-4l-19 3m39-3l-20 2m40-2l-20 2m-197 19l12 1m5-1l20 0m2 0l15 0m16 0l-6 0m30 0l-15 0m-223 21l-20-1m40 1l-20-2m40 3l-20-2m40 2l-20-3m40 3l-20-4m40 5l-19-5m39 6l-19-6m37 8l-16-11m30 13l-4-16m19 18l7-19m14 18l5-17m21 15l-7-14m32 11l-15-8m36 7l-18-5m39 5l-19-4m39 3l-19-4m39 4l-19-3m39 3l-20-2m40 1l-20-2m-381 22l-20-2m40 3l-20-2m40 2l-20-3m40 3l-20-4m40 5l-19-5m39 6l-19-6m39 6l-19-7m38 8l-18-9m38 10l-17-10m36 11l-15-13m33 15l-10-16m28 17l-6-19m26 19l-7-18m30 16l-12-15m34 14l-15-12m36 10l-17-10m37 10l-18-8m38 7l-19-7m40 6l-19-5m39 5l-19-4m39 3l-20-3m40 3l-20-3m40 3l-20-2m-441 21l-20-2m40 3l-20-2m40 2l-20-3m40 4l-20-4m40 4l-19-5m39 6l-19-6m38 7l-18-8m38 9l-17-10m37 10l-17-11m36 12l-15-13m35 14l-14-14m33 14l-13-15m33 16l-12-16m32 16l-12-16m32 15l-13-15m34 14l-15-14m36 14l-16-12m36 11l-17-11m38 10l-18-9m38 8l-19-7m40 7l-19-6m39 5l-19-5m39 4l-20-4m40 4l-20-3m41 3l-20-2m-462 22l-20-2m40 2l-20-3m40 3l-20-3m40 4l-19-5m39 6l-19-6m38 6l-19-7m39 8l-18-9m38 10l-17-11m36 12l-15-13m35 14l-14-14m33 14l-13-15m33 16l-12-16m32 16l-12-16m32 16l-12-16m32 16l-13-16m34 15l-13-15m33 15l-14-14m35 13l-16-12m37 11l-17-11m37 10l-18-9m39 8l-19-7m39 6l-19-5m39 5l-20-4m40 3l-20-3m41 3l-20-2m40 2l-20-2m-502 22l-20-1m40 1l-20-2m40 2l-20-3m40 4l-20-4m40 4l-19-5m39 6l-19-6m38 7l-18-8m38 9l-18-10m38 11l-16-11m35 12l-15-13m34 13l-13-15m33 16l-12-16m31 16l-12-16m32 16l-11-17m31 17l-11-17m32 17l-12-16m32 16l-12-16m33 15l-14-15m35 14l-15-13m35 12l-17-11m38 10l-18-9m39 9l-19-7m39 6l-19-6m39 5l-19-5m39 5l-20-4m40 3l-20-3m41 3l-20-2m-502 22l-20-1m40 1l-20-2m40 2l-20-3m40 4l-20-4m40 4l-19-5m39 6l-19-7m38 8l-18-8m38 9l-17-10m37 11l-16-11m35 11l-15-13m34 14l-14-15m34 16l-12-16m31 16l-11-16m31 16l-11-17m31 17l-11-17m32 17l-12-16m32 16l-13-16m34 15l-14-14m35 13l-16-13m37 12l-17-11m37 11l-18-9m39 8l-18-8m38 7l-19-6m39 5l-19-5m39 5l-20-4m40 3l-20-3m41 3l-20-2m-502 22l-20-1m40 1l-20-2m40 2l-20-3m40 4l-20-4m40 4l-19-5m39 6l-19-6m38 7l-18-8m38 9l-18-9m38 9l-17-11m36 12l-16-12m36 13l-15-14m34 14l-14-15m34 16l-13-15m33 15l-12-16m32 16l-12-16m32 16l-13-15m34 14l-14-14m34 14l-15-13m36 12l-16-12m37 11l-17-11m37 10l-18-9m39 9l-19-7m39 6l-19-6m39 5l-19-5m39 5l-20-4m40 3l-20-3m41 3l-20-2m-482 22l-20-2m40 2l-20-3m40 4l-20-4m40 4l-19-5m39 6l-19-6m38 7l-19-7m39 7l-18-9m38 10l-17-10m37 11l-16-11m35 11l-16-13m36 14l-15-13m35 13l-14-14m34 14l-14-14m34 14l-14-14m34 14l-14-14m34 14l-15-13m36 12l-16-12m36 12l-17-11m38 10l-17-10m37 9l-18-8m39 8l-19-7m39 6l-19-6m39 5l-20-4m40 4l-20-3m41 2l-20-2m40 2l-20-2m-482 22l-20-2m40 2l-20-2m40 3l-20-3m40 3l-20-4m40 5l-19-5m39 5l-19-6m38 7l-18-8m38 9l-18-9m38 9l-17-10m37 11l-17-11m37 11l-16-12m35 12l-16-13m36 14l-15-13m35 13l-15-13m36 12l-16-12m36 12l-16-12m36 12l-17-11m38 10l-17-10m37 9l-18-9m39 9l-19-7m39 6l-19-6m39 6l-19-5m39 4l-20-4m40 4l-20-3m41 2l-20-2m40 2l-20-2m-482 22l-20-1m40 1l-20-2m40 3l-20-3m40 3l-20-4m40 4l-19-4m39 5l-19-6m39 7l-19-7m39 7l-18-8m37 9l-18-9m38 9l-17-10m37 10l-17-10m37 11l-17-11m37 11l-17-11m37 11l-17-11m37 11l-17-11m38 10l-17-10m37 10l-18-9m38 9l-18-9m38 8l-19-7m40 6l-19-6m39 6l-19-5m39 4l-20-4m40 4l-20-3m40 2l-20-2m41 2l-20-2m-442 22l-20-2m40 2l-20-2m40 3l-20-3m40 3l-20-4m40 5l-19-5m39 5l-19-6m39 7l-19-6m39 6l-19-7m39 7l-18-8m38 9l-18-9m38 9l-18-9m38 9l-18-9m38 9l-18-9m38 9l-18-9m38 9l-18-9m38 8l-18-8m38 8l-19-7m40 6l-19-6m39 6l-19-5m39 4l-20-4m40 4l-20-3m40 3l-20-3m40 2l-20-2m41 2l-20-1m-422 21l-20-2m40 3l-20-2m40 2l-20-3m40 3l-20-4m40 5l-20-4m40 4l-19-5m39 5l-19-6m39 7l-19-6m39 6l-19-7m39 7l-19-7m39 7l-19-8m39 8l-19-7m39 7l-19-7m39 7l-19-7m39 7l-19-6m40 5l-19-6m39 6l-19-5m39 4l-20-4m40 4l-20-3m40 3l-20-3m40 2l-20-2m40 2l-20-2m-381 22l-20-2m40 3l-20-2m40 2l-20-3m40 3l-20-3m40 3l-20-4m40 5l-19-5m39 5l-19-5m39 5l-19-5m39 5l-19-6m39 6l-19-6m39 6l-19-6m39 6l-19-6m40 6l-19-5m39 5l-19-5m39 5l-20-4m40 3l-20-4m40 4l-20-3m40 3l-20-3m40 3l-20-2m40 1l-20-2m-341 22l-20-2m40 3l-20-2m40 2l-20-2m40 2l-20-3m40 3l-20-3m40 3l-20-4m40 5l-20-4m40 4l-20-4m40 4l-20-4m41 4l-20-4m40 4l-20-4m40 4l-20-4m40 3l-20-4m40 4l-20-3m40 3l-20-3m40 3l-20-2m40 2l-20-2m40 1l-20-2m-301 22l-20-1m40 2l-20-2m40 2l-20-2m40 2l-20-2m40 2l-20-3m40 3l-20-3m41 3l-20-3m40 3l-20-3m40 3l-20-3m40 3l-20-3m40 3l-20-3m40 3l-20-3m40 3l-20-2m40 2l-20-2m40 1l-20-2m-221 22l-20-1m40 2l-20-2m40 2l-20-2m40 2l-20-2m41 2l-20-2m40 2l-20-2m40 2l-20-2m40 2l-20-2m40 2l-20-2m40 2l-20-2m40 2l-20-2m-80 22l-20-1m40 1l-20-1"/>
<clipPath id="cp3"><rect x="234.9" y="2779.1" width="666.3" height="657"/></clipPath>
<filter id="bl3" filterUnits="userSpaceOnUse" x="194.9" y="2739.1" width="746.3" height="737"><feGaussianBlur stdDeviation="3.6"/></filter>
<pattern id="pt3" patternUnits="userSpaceOnUse" x="233.7" y="2774.9" width="10.037" height="10.040"><path stroke="#000" stroke-width="1.5" d="M0.02 5.02h10.00"/><path stroke="#000" stroke-width="3.1" stroke-linecap="round" d="M6.72 5.02h2.00"/></pattern>
<path id="ar4" transform="scale(.5)" d="M2350 5599l-20 1m40-1l-20 2m40-2l-20 2m41-2l-20 2m40-2l-20 2m41-2l-20 2m40-2l-20 2m40-2l-20 2m41-2l-20 2m40-2l-20 2m41-2l-20 2m40-2l-20 1m-286 19l-20 1m40-1l-20 2m41-2l-20 2m40-2l-20 2m41-2l-20 2m40-2l-20 2m40-2l-20 2m41-2l-20 2m40-2l-20 2m41-2l-20 2m40-2l-20 2m40-2l-20 2m41-2l-20 2m40-2l-20 2m41-2l-20 2m40-2l-20 2m40-2l-20 2m41-2l-20 2m40-2l-20 1m-388 19l-20 2m41-2l-20 2m40-2l-20 2m40-2l-20 2m41-2l-20 2m40-2l-20 2m41-2l-20 2m40-2l-20 3m40-3l-20 3m41-3l-20 3m40-3l-20 3m41-3l-20 3m40-3l-20 3m40-3l-20 3m41-3l-20 3m40-3l-20 3m41-3l-20 2m40-2l-20 2m40-2l-20 2m41-2l-20 2m40-2l-20 2m41-2l-20 2m40-2l-20 2m40-2l-20 1m-490 19l-20 2m41-2l-20 2m40-2l-20 2m41-2l-20 2m40-2l-20 2m40-2l-20 3m41-3l-20 3m40-3l-20 3m40-3l-20 3m41-3l-20 3m40-3l-20 3m41-4l-20 3m40-3l-20 3m40-3l-20 3m41-3l-20 3m40-3l-20 3m41-2l-20 3m40-3l-20 3m40-3l-20 3m41-3l-20 3m40-3l-20 3m41-3l-20 3m40-3l-20 2m41-2l-20 2m40-2l-20 2m40-2l-20 2m41-2l-20 2m-551 19l-20 1m40-2l-20 2m40-2l-20 2m41-2l-20 2m40-2l-20 2m41-2l-20 3m40-3l-20 3m40-3l-20 3m41-3l-20 3m40-4l-20 4m40-4l-20 4m41-4l-20 4m40-4l-20 4m41-4l-20 4m40-4l-20 4m40-4l-20 4m41-4l-20 4m40-4l-20 4m41-4l-20 4m40-4l-20 4m40-4l-20 4m41-4l-20 4m40-3l-20 3m41-3l-20 3m40-3l-20 3m41-3l-20 3m40-3l-20 2m40-2l-20 2m41-2l-20 2m40-2l-20 2m41-1l-20 2m-613 18l-20 2m41-3l-20 2m40-2l-20 2m40-2l-20 2m41-2l-20 3m40-3l-20 3m40-3l-20 3m41-3l-20 4m40-5l-20 4m41-4l-20 4m40-4l-20 4m40-4l-19 5m40-5l-19 5m39-5l-19 5m39-5l-19 5m40-5l-19 5m39-5l-19 5m40-5l-19 5m39-5l-19 5m39-5l-19 5m40-5l-19 5m39-5l-19 5m40-5l-19 4m39-4l-20 4m41-4l-20 4m40-3l-20 4m40-4l-20 3m41-3l-20 3m40-3l-20 3m41-3l-20 2m40-2l-20 2m41-2l-20 2m40-1l-20 2m-653 18l-20 2m40-2l-20 2m41-3l-20 2m40-2l-20 2m40-2l-20 3m41-3l-20 3m40-3l-20 4m40-5l-20 4m41-4l-20 4m40-4l-19 5m39-5l-19 5m40-5l-19 5m39-5l-19 6m40-6l-19 6m39-7l-19 6m39-6l-19 6m40-6l-19 6m39-6l-19 6m40-6l-19 6m39-6l-19 6m39-6l-19 6m40-5l-19 6m39-6l-19 6m40-6l-19 5m39-5l-19 5m40-5l-19 5m39-5l-20 4m40-4l-20 4m41-3l-20 4m40-4l-20 3m41-3l-20 3m40-3l-20 3m41-3l-20 2m40-2l-20 2m40-1l-20 2m41-2l-20 1m-715 19l-20 2m41-2l-20 2m40-3l-20 2m41-2l-20 3m40-3l-20 3m40-3l-20 3m41-3l-20 4m40-5l-20 4m40-4l-19 5m40-5l-19 5m39-5l-19 5m39-5l-19 6m40-7l-19 6m39-6l-19 7m39-7l-19 7m40-7l-19 7m39-7l-19 7m40-7l-19 7m39-7l-19 7m39-7l-19 7m40-7l-19 7m39-7l-19 7m40-7l-19 7m39-7l-19 7m39-7l-19 6m40-5l-19 6m39-6l-19 6m40-6l-19 5m39-5l-19 5m40-5l-20 4m40-3l-20 4m41-4l-20 4m40-4l-20 3m41-3l-20 3m40-3l-20 2m40-2l-20 2m41-1l-20 2m40-2l-20 1m-755 19l-20 2m40-2l-20 2m41-3l-20 2m40-2l-20 3m40-3l-20 3m41-3l-20 4m40-4l-20 4m41-5l-19 4m39-4l-19 5m39-5l-19 5m40-5l-19 6m39-7l-19 6m39-6l-19 7m40-7l-19 7m39-7l-19 8m39-8l-18 8m39-8l-18 8m38-9l-18 8m38-8l-18 8m39-8l-18 8m38-8l-18 8m39-8l-18 8m38-7l-18 8m38-8l-18 8m39-8l-18 8m38-8l-19 7m40-7l-19 7m39-7l-19 7m40-6l-19 6m39-6l-19 6m40-6l-19 5m39-5l-19 5m40-5l-20 4m40-3l-20 4m40-4l-20 3m41-3l-20 3m40-3l-20 2m41-1l-20 2m40-2l-20 2m41-2l-20 1m-796 19l-20 2m40-2l-20 2m40-2l-20 2m41-3l-20 3m40-3l-20 3m40-3l-20 4m41-4l-20 4m40-5l-19 5m39-5l-19 5m40-5l-19 6m39-6l-19 6m39-7l-19 7m40-7l-19 7m39-7l-18 8m38-8l-18 8m39-9l-18 9m38-9l-18 9m38-9l-18 9m39-9l-18 9m38-9l-18 9m38-9l-18 10m39-10l-18 9m38-9l-18 9m39-9l-18 9m38-9l-18 9m39-9l-18 9m38-9l-18 8m39-7l-18 8m38-8l-19 8m40-8l-19 7m39-7l-19 7m40-6l-19 6m39-6l-19 5m39-5l-19 5m40-4l-20 4m40-4l-20 4m41-4l-20 3m40-3l-20 3m41-3l-20 2m40-1l-20 2m41-2l-20 2m-817 18l-20 2m41-2l-20 2m40-2l-20 2m40-3l-20 3m41-3l-20 3m40-3l-20 4m40-4l-20 4m41-5l-19 5m39-5l-19 5m39-5l-19 6m40-7l-19 7m39-7l-19 7m39-7l-18 8m39-8l-18 8m38-9l-18 9m38-9l-18 9m38-9l-18 10m39-10l-17 10m37-10l-17 10m37-10l-17 10m38-11l-17 11m37-11l-17 11m37-11l-17 11m38-10l-17 10m37-10l-17 10m38-10l-17 10m37-10l-17 10m38-10l-18 9m38-9l-18 9m39-8l-18 8m38-8l-18 8m39-8l-19 7m39-7l-19 7m40-6l-19 6m39-6l-19 6m40-6l-19 5m39-4l-20 4m41-4l-20 4m40-4l-20 3m41-3l-20 3m40-2l-20 2m41-2l-20 2m40-2l-20 2m-857 18l-20 1m40-1l-20 2m41-2l-20 2m40-2l-20 3m40-4l-20 3m41-3l-20 4m40-4l-20 4m40-5l-19 5m40-5l-19 5m39-5l-19 6m39-7l-19 7m39-7l-19 7m40-7l-18 8m38-8l-18 9m38-10l-18 9m39-9l-17 10m37-10l-17 10m37-10l-17 11m37-12l-17 11m38-11l-17 11m37-11l-16 11m36-11l-16 12m37-12l-16 12m36-12l-16 12m37-12l-16 12m36-12l-16 11m37-11l-17 11m37-11l-17 11m38-10l-17 10m37-10l-17 10m38-10l-18 9m38-9l-18 9m39-8l-18 8m38-8l-18 8m39-8l-19 7m39-6l-19 6m40-6l-19 6m39-6l-19 5m40-4l-20 4m40-4l-20 4m41-4l-20 3m40-3l-20 3m41-2l-20 2m40-2l-20 2m40-2l-20 2m-877 18l-20 2m40-2l-20 2m41-2l-20 2m40-3l-20 3m40-3l-20 3m41-3l-20 4m40-4l-19 5m39-6l-19 5m40-5l-19 6m39-6l-19 7m39-8l-19 7m39-7l-18 8m39-9l-18 9m38-9l-18 9m38-9l-17 10m37-10l-17 11m37-12l-17 11m38-11l-16 12m36-12l-16 12m36-12l-16 12m37-12l-16 12m36-12l-16 13m36-13l-16 13m37-13l-16 13m36-13l-16 13m37-13l-16 12m36-12l-16 12m37-12l-16 12m36-12l-16 11m37-11l-17 11m37-10l-17 10m38-10l-17 10m38-10l-18 9m38-8l-18 8m39-8l-18 8m38-8l-19 7m40-6l-19 6m39-6l-19 6m40-6l-19 5m39-4l-20 4m41-4l-20 4m40-4l-20 3m41-2l-20 3m40-3l-20 2m40-2l-20 2m41-2l-20 1m-919 19l-20 1m41-1l-20 2m40-2l-20 2m41-2l-20 3m40-4l-20 3m40-3l-20 4m41-4l-19 4m39-5l-19 5m39-5l-19 6m39-6l-19 7m40-8l-19 7m39-7l-18 8m38-8l-18 9m38-10l-18 10m39-10l-17 10m37-10l-17 11m37-12l-16 11m36-11l-16 12m36-12l-16 12m37-12l-15 13m35-14l-15 13m35-13l-15 13m36-13l-15 13m35-13l-15 13m35-13l-15 13m36-13l-15 13m35-13l-15 13m36-12l-15 13m35-13l-16 13m37-13l-16 12m37-12l-16 12m36-12l-17 11m38-10l-17 11m37-11l-17 10m38-10l-18 9m38-8l-18 8m39-8l-18 8m39-7l-19 7m39-7l-19 6m40-6l-19 5m39-4l-19 5m40-5l-20 4m40-4l-20 3m40-2l-20 3m41-3l-20 2m40-2l-20 2m41-2l-20 2m-919 18l-20 2m41-2l-20 2m40-2l-20 2m40-2l-20 3m41-4l-20 4m40-4l-20 4m40-4l-19 5m40-6l-19 6m39-6l-19 6m39-7l-19 7m40-7l-18 8m38-8l-18 9m38-10l-18 10m38-10l-17 10m37-10l-17 11m38-12l-16 12m36-12l-16 12m36-12l-15 13m35-14l-15 13m35-13l-15 14m36-14l-14 14m34-14l-14 14m34-14l-14 14m35-14l-14 14m34-14l-14 14m35-14l-14 14m34-14l-14 14m35-14l-15 14m35-14l-15 13m36-12l-15 13m35-13l-16 12m37-12l-16 12m36-12l-17 11m38-10l-17 11m38-11l-17 10m37-9l-18 9m39-9l-18 8m38-8l-19 7m40-6l-19 7m40-7l-19 6m39-5l-19 5m40-5l-19 4m39-4l-20 4m40-4l-20 3m41-2l-20 3m40-3l-20 2m41-2l-20 2m40-2l-20 1m-959 19l-20 1m40-1l-20 2m41-2l-20 2m40-2l-20 3m40-3l-20 3m41-4l-20 4m40-4l-19 5m39-5l-19 5m40-6l-19 6m39-6l-19 7m39-8l-18 8m38-8l-18 9m39-10l-18 9m38-9l-17 10m37-10l-17 11m37-12l-16 12m36-12l-16 12m36-12l-15 13m36-14l-15 13m35-13l-15 14m35-14l-14 14m34-14l-14 14m35-14l-14 15m34-15l-13 15m33-15l-13 15m34-15l-13 15m33-15l-14 15m35-15l-14 15m34-15l-14 14m35-14l-14 14m34-14l-15 14m36-13l-15 13m36-13l-16 12m36-12l-16 12m37-11l-17 11m38-11l-17 10m37-10l-18 10m39-9l-18 9m38-9l-18 8m39-7l-19 7m39-7l-19 6m40-6l-19 6m40-5l-19 5m39-5l-20 4m40-4l-20 3m41-2l-20 3m40-3l-20 2m41-2l-20 2m40-2l-20 2m-959 18l-20 2m40-2l-20 2m41-2l-20 2m40-2l-20 3m40-3l-20 3m41-4l-20 4m40-4l-19 5m39-6l-19 6m40-6l-19 6m39-6l-19 7m39-8l-18 8m38-8l-18 9m39-10l-17 10m37-10l-17 11m37-11l-16 11m36-12l-16 12m36-12l-15 13m35-13l-15 13m35-14l-14 14m35-14l-14 14m34-14l-14 15m34-15l-13 15m33-15l-13 15m34-16l-13 15m33-15l-13 16m33-16l-13 16m34-15l-13 15m33-15l-13 15m34-15l-13 15m33-15l-14 14m35-14l-14 14m35-14l-15 14m35-13l-15 13m36-13l-16 12m37-12l-16 12m36-11l-17 11m38-11l-17 10m38-9l-18 9m38-9l-18 8m39-8l-18 8m38-7l-19 7m40-7l-19 6m39-5l-19 5m40-5l-20 4m40-4l-20 4m41-3l-20 3m40-3l-20 3m41-3l-20 2m40-2l-20 2m-959 19l-20 2m40-3l-20 2m41-2l-20 3m40-3l-20 3m40-4l-20 4m41-4l-20 4m40-4l-19 5m39-6l-19 6m40-6l-19 7m39-7l-19 8m39-9l-18 8m38-8l-18 9m38-10l-17 10m38-10l-17 11m37-12l-16 12m36-12l-16 12m36-12l-15 13m35-14l-15 14m35-14l-14 14m34-14l-13 15m33-15l-13 15m34-16l-12 16m32-16l-12 16m32-16l-12 16m32-16l-12 16m33-16l-12 16m32-16l-12 16m33-16l-12 16m33-15l-13 16m33-16l-13 15m34-15l-14 15m35-15l-14 14m34-13l-15 13m36-13l-15 13m36-13l-16 12m36-11l-17 11m38-11l-17 10m38-9l-18 10m38-10l-18 9m39-9l-18 8m38-7l-19 7m40-7l-19 6m39-5l-19 5m40-5l-19 5m39-5l-20 4m41-3l-20 3m40-3l-20 3m41-3l-20 2m40-2l-20 2m41-1l-20 1m-980 19l-20 2m40-3l-20 2m41-2l-20 3m40-3l-20 3m40-4l-20 4m41-4l-19 5m39-5l-19 5m39-6l-19 6m40-6l-19 7m39-7l-18 8m38-9l-18 9m38-9l-18 10m38-11l-17 10m37-10l-17 11m38-12l-16 12m36-12l-15 13m35-13l-15 13m35-14l-14 14m34-14l-13 15m33-15l-13 15m33-15l-12 16m32-17l-12 16m33-16l-12 16m32-16l-11 16m31-16l-11 16m32-16l-11 16m31-16l-12 16m33-16l-12 16m32-16l-12 16m33-15l-13 16m34-16l-13 15m33-15l-14 14m35-13l-14 14m35-14l-15 13m35-13l-16 12m37-11l-16 11m37-11l-17 11m37-11l-17 10m38-9l-18 9m39-9l-18 8m38-7l-19 7m40-7l-19 6m39-5l-19 6m40-6l-19 5m39-5l-20 4m41-3l-20 3m40-3l-20 3m41-3l-20 2m40-2l-20 2m41-1l-20 1m-1000 19l-20 1m40-1l-20 2m40-3l-20 2m41-2l-20 3m40-3l-20 3m40-3l-20 4m41-5l-19 5m39-5l-19 5m39-6l-19 6m40-6l-19 7m39-7l-18 8m38-9l-18 9m38-9l-18 10m38-11l-17 10m37-10l-16 11m37-12l-16 12m36-12l-15 13m35-13l-14 14m34-15l-14 15m34-15l-13 15m33-15l-13 16m33-16l-12 16m32-17l-12 16m33-16l-11 16m31-16l-11 17m31-17l-11 17m32-17l-11 17m31-17l-11 16m32-16l-12 16m32-16l-12 16m33-15l-12 16m32-16l-13 15m34-15l-13 15m34-15l-14 14m35-13l-15 13m35-13l-16 12m37-11l-16 12m37-12l-17 11m37-11l-17 10m38-9l-18 9m39-9l-18 8m38-7l-19 7m40-7l-19 7m39-6l-19 6m40-6l-19 5m39-5l-20 4m41-3l-20 4m40-4l-20 3m41-3l-20 2m40-1l-20 2m41-2l-20 2m-1000 18l-20 1m40-1l-20 2m40-3l-20 2m41-2l-20 3m40-3l-20 3m40-3l-20 4m41-5l-19 5m39-5l-19 5m39-6l-19 6m40-6l-19 7m39-7l-18 8m38-9l-18 9m38-9l-18 10m38-11l-17 10m37-10l-16 11m36-12l-16 12m37-12l-15 13m35-13l-14 14m34-15l-14 15m34-15l-13 15m33-15l-13 16m33-16l-12 16m32-17l-12 16m33-16l-11 16m31-16l-11 16m31-16l-11 17m32-17l-11 17m31-17l-11 16m32-16l-12 16m32-15l-12 16m33-16l-12 16m32-16l-13 15m34-15l-13 15m34-15l-14 14m35-13l-15 13m35-13l-15 13m36-12l-16 12m37-12l-17 11m37-10l-17 10m38-10l-18 9m39-9l-18 8m38-7l-19 7m40-7l-19 7m39-6l-19 6m40-6l-19 5m39-5l-20 4m41-3l-20 4m40-4l-20 3m41-3l-20 2m40-1l-20 2m41-2l-20 2m-1000 18l-20 1m40-1l-20 2m40-2l-20 2m41-3l-20 3m40-3l-20 3m40-3l-20 4m41-5l-19 5m39-5l-19 5m39-5l-19 6m40-7l-19 7m39-7l-18 8m38-9l-18 9m38-9l-18 9m38-10l-17 10m37-10l-17 11m37-11l-16 12m37-13l-15 13m35-13l-14 14m34-15l-14 14m34-14l-13 15m33-15l-13 15m33-15l-12 16m32-16l-12 16m33-16l-12 16m32-17l-12 16m32-16l-11 16m32-16l-12 16m32-15l-12 16m33-16l-12 16m32-16l-12 16m33-16l-13 16m34-16l-13 15m33-15l-14 15m35-14l-14 14m35-14l-15 13m35-13l-16 13m37-12l-16 12m37-12l-17 11m38-10l-17 10m37-10l-18 9m39-8l-18 8m38-8l-19 7m40-7l-19 6m39-5l-19 6m40-6l-19 5m39-4l-20 4m41-4l-20 4m40-4l-20 3m41-3l-20 2m40-1l-20 2m41-2l-20 2m-1000 18l-20 1m40-1l-20 2m40-2l-20 2m41-3l-20 3m40-3l-20 3m40-3l-20 4m41-5l-19 4m39-4l-19 5m39-5l-19 6m40-7l-19 7m39-7l-19 8m39-8l-18 8m38-9l-18 9m38-9l-17 10m38-11l-17 11m37-11l-16 12m36-13l-15 13m35-13l-15 14m35-14l-14 14m34-15l-14 15m34-15l-13 15m33-15l-13 15m34-15l-12 16m32-16l-12 16m32-16l-12 16m32-16l-12 16m33-16l-12 16m32-16l-12 16m33-16l-12 16m32-16l-13 16m34-16l-13 15m34-15l-13 15m33-14l-14 14m35-14l-14 14m35-14l-15 13m35-12l-16 12m37-12l-16 11m37-11l-17 11m38-10l-18 10m38-10l-18 9m39-8l-18 8m38-8l-19 7m40-6l-19 6m39-6l-19 5m40-5l-19 5m39-4l-20 4m41-4l-20 3m40-3l-20 3m41-2l-20 2m40-2l-20 2m41-2l-20 2m-980 18l-20 2m40-2l-20 2m41-2l-20 3m40-4l-20 3m40-3l-20 4m41-4l-20 4m40-5l-19 5m39-5l-19 6m40-6l-19 6m39-7l-19 7m39-7l-18 8m38-9l-18 9m39-9l-17 10m37-11l-17 11m37-11l-16 12m36-12l-16 12m36-13l-15 13m35-13l-15 14m35-14l-14 14m34-15l-14 15m35-15l-13 15m33-15l-13 15m33-15l-12 16m32-16l-12 16m33-16l-12 16m32-16l-12 16m33-16l-12 16m32-16l-13 16m34-16l-13 15m33-15l-13 15m34-14l-14 14m35-14l-14 14m34-14l-15 13m36-12l-16 13m37-13l-16 12m36-12l-17 11m38-10l-17 10m38-10l-18 9m38-8l-18 8m39-8l-19 7m39-7l-19 7m40-6l-19 6m39-6l-19 5m40-4l-19 5m39-5l-20 4m41-4l-20 3m40-3l-20 3m41-2l-20 2m40-2l-20 2m41-2l-20 1m-980 19l-20 2m40-2l-20 2m41-2l-20 2m40-3l-20 3m40-3l-20 3m41-3l-20 4m40-4l-19 5m39-6l-19 5m40-5l-19 6m39-6l-19 7m39-8l-19 7m40-7l-18 8m38-9l-18 9m38-9l-17 10m37-11l-17 11m37-11l-16 12m36-12l-16 12m36-13l-15 13m36-13l-15 14m35-14l-14 14m34-14l-13 15m33-16l-13 15m33-15l-12 16m32-16l-12 16m33-16l-12 16m32-16l-12 16m33-16l-12 16m32-16l-13 15m34-15l-13 15m34-14l-14 14m34-14l-14 14m35-14l-15 13m36-12l-16 13m36-13l-16 12m37-12l-17 11m38-10l-17 10m37-10l-18 10m39-9l-18 9m38-9l-18 8m39-8l-19 7m39-6l-19 6m40-6l-19 5m39-5l-19 5m40-4l-20 4m40-4l-20 4m41-4l-20 3m40-2l-20 3m41-3l-20 2m40-2l-20 2m-959 18l-20 1m40-1l-20 2m41-2l-20 2m40-2l-20 3m40-4l-20 3m41-3l-20 4m40-4l-20 4m41-4l-19 5m39-6l-19 5m39-5l-19 6m39-6l-19 7m40-8l-19 8m39-8l-18 8m38-9l-18 9m38-9l-17 10m37-10l-17 11m38-12l-16 11m36-11l-16 12m36-12l-15 13m35-14l-15 14m35-14l-14 14m34-15l-13 15m33-15l-12 16m32-16l-11 16m31-16l-11 17m32-17l-11 17m31-17l-12 16m33-16l-13 16m34-15l-13 15m34-15l-14 14m35-14l-15 13m35-12l-16 12m37-12l-16 12m37-12l-17 11m37-10l-17 10m38-10l-18 9m38-8l-18 9m39-9l-18 8m39-8l-19 7m39-6l-19 6m40-6l-19 6m39-6l-19 5m40-4l-19 4m39-4l-20 4m40-4l-20 3m41-2l-20 3m40-3l-20 2m41-2l-20 2m40-2l-20 2m-939 18l-20 2m41-2l-20 2m40-2l-20 2m41-2l-20 3m40-4l-20 3m40-3l-20 4m41-4l-20 4m40-4l-19 5m39-6l-19 5m40-5l-19 6m39-6l-19 7m39-8l-19 7m39-7l-18 8m39-8l-18 9m38-10l-18 10m38-10l-17 10m37-10l-17 11m37-12l-16 12m36-12l-15 13m35-14l-14 14m34-15l-12 15m31-15l-11 17m31-18l-9 17m29-17l-9 18m30-18l-9 18m30-17l-10 17m31-17l-12 16m33-15l-13 15m34-15l-15 13m36-12l-16 12m37-12l-16 11m36-10l-17 11m38-11l-17 10m37-9l-18 9m39-9l-18 8m39-8l-18 8m38-7l-19 7m40-7l-19 6m39-6l-19 5m40-4l-19 5m39-5l-19 4m40-4l-20 4m40-4l-20 3m40-2l-20 3m41-3l-20 2m40-2l-20 2m41-2l-20 2m-898 18l-20 2m40-2l-20 2m41-2l-20 2m40-2l-20 3m40-3l-20 3m41-4l-20 3m40-3l-20 4m40-4l-20 4m41-4l-19 5m39-6l-19 6m39-6l-19 6m40-6l-19 7m39-8l-19 7m39-7l-18 8m38-8l-18 9m39-10l-17 10m37-10l-17 11m36-12l-15 12m35-13l-14 14m33-15l-11 16m30-17l-8 18m27-18l-6 19m26-20l-5 19m26-18l-5 19m26-19l-7 18m29-17l-10 17m31-16l-12 15m34-14l-15 13m36-13l-16 11m37-10l-17 10m38-9l-18 9m38-9l-18 8m39-8l-18 8m38-7l-19 7m40-7l-19 6m39-6l-19 6m40-5l-19 5m39-5l-19 5m40-5l-20 4m40-4l-20 4m41-3l-20 3m40-3l-20 3m41-3l-20 2m40-2l-20 2m40-2l-20 2m-857 18l-20 1m41-1l-20 2m40-2l-20 2m40-2l-20 2m41-2l-20 3m40-3l-20 3m40-3l-20 3m41-4l-20 4m40-4l-20 4m41-4l-19 5m39-5l-19 5m39-6l-19 6m39-6l-19 6m40-6l-19 7m39-8l-18 8m38-9l-18 9m38-9l-16 11m35-13l-13 14m31-15l-9 17m27-18l-4 18m23-19l-1 20m20-20l1 20m20-20l0 20m22-19l-3 19m25-18l-7 17m30-16l-11 14m33-13l-14 12m35-11l-16 10m37-9l-17 8m38-7l-18 7m38-7l-19 7m40-7l-19 6m39-6l-19 5m40-4l-19 5m39-5l-19 4m40-4l-19 4m39-4l-20 4m41-3l-20 3m40-3l-20 3m41-3l-20 2m40-2l-20 2m41-2l-20 2m40-2l-20 2m-776 19l-20 2m41-3l-20 2m40-2l-20 2m41-2l-20 2m40-2l-20 3m40-3l-20 3m41-3l-20 3m40-4l-20 4m40-4l-20 4m41-4l-19 4m39-4l-19 5m39-6l-19 6m39-6l-18 7m38-8l-17 9m36-11l-14 13m31-15l-6 16m22-17l1 18m17-18l6 19m13-19l8 18m13-18l7 18m16-17l3 17m20-16l-3 15m27-14l-9 12m32-10l-14 9m35-8l-17 7m38-7l-18 6m39-5l-19 5m40-5l-19 5m39-5l-19 4m40-4l-19 4m39-3l-19 3m40-3l-19 3m39-3l-20 3m40-3l-20 2m41-2l-20 2m40-2l-20 2m41-2l-20 2m40-1l-20 1m-633 19l-20 1m41-1l-20 2m40-3l-20 2m41-2l-20 2m40-2l-20 2m40-2l-20 3m41-3l-20 3m40-4l-19 4m39-5l-19 6m38-7l-16 10m30-12l-4 12m18-13l9 15m9-14l15 13m5-12l16 11m5-11l15 11m7-11l10 11m15-11l1 11m25-10l-9 8m32-6l-14 5m35-5l-17 4m38-3l-18 3m39-3l-19 3m40-3l-19 2m39-2l-19 2m40-2l-19 2m39-1l-19 2m40-2l-20 2m-313 19l-8-1m16 1l18-1m1 1l20 0m1 0l20 0m1 0l18 0m4 0l14 0m11 0l6-1m22 1l-9 0m32 0l-14 0m35 0l-17 0m-369 20l-20-2m41 2l-20-2m40 2l-20-2m41 3l-20-2m40 2l-20-2m40 2l-20-3m41 3l-20-3m40 4l-19-4m39 5l-19-6m38 8l-15-10m29 11l-4-12m19 13l8-16m9 15l15-13m5 12l16-12m5 12l14-12m9 12l9-12m16 12l1-11m24 10l-9-8m32 6l-14-6m35 6l-17-4m38 3l-18-3m39 3l-19-3m40 3l-19-2m39 2l-19-2m40 2l-19-2m39 1l-19-2m40 2l-20-2m40 2l-20-1m-633 21l-20-2m41 3l-20-2m40 2l-20-2m41 2l-20-2m40 2l-20-3m40 3l-20-3m41 3l-20-3m40 3l-20-4m40 5l-20-4m41 4l-19-5m39 5l-19-5m39 6l-19-6m39 6l-18-7m38 8l-17-10m36 12l-14-13m31 15l-7-16m24 17l1-18m16 18l6-19m14 19l8-18m13 18l7-18m15 17l3-17m20 16l-3-15m27 14l-10-12m33 10l-14-10m35 9l-17-7m38 7l-18-6m39 5l-19-5m40 5l-19-5m39 5l-19-4m40 4l-19-4m39 3l-19-3m40 3l-19-3m39 3l-20-3m40 3l-20-2m41 2l-20-2m40 2l-20-2m41 1l-20-2m40 2l-20-1m-796 21l-20-1m41 2l-20-2m40 2l-20-2m40 2l-20-2m41 2l-20-3m40 3l-20-3m40 3l-20-3m41 4l-20-4m40 4l-20-4m40 4l-19-5m40 5l-19-5m39 6l-19-6m39 6l-19-7m40 7l-19-7m39 8l-18-8m38 8l-17-10m37 11l-16-11m35 13l-13-14m31 15l-9-17m27 18l-5-18m24 19l-1-20m20 20l0-20m21 19l0-20m22 20l-3-19m25 18l-7-17m30 16l-11-14m33 13l-14-12m35 11l-16-10m37 9l-17-8m38 7l-18-7m38 7l-18-7m39 7l-19-6m39 5l-19-6m40 6l-19-5m39 5l-19-5m40 5l-19-4m39 3l-20-4m41 4l-20-3m40 3l-20-3m41 3l-20-2m40 2l-20-2m41 2l-20-2m40 1l-20-2m-857 23l-20-2m40 2l-20-2m41 2l-20-2m40 2l-20-3m40 3l-20-3m41 3l-20-3m40 4l-20-4m40 4l-20-4m41 4l-19-5m39 6l-19-6m39 6l-19-6m40 6l-19-7m39 8l-19-8m39 8l-18-8m38 8l-18-9m38 10l-17-10m38 10l-17-11m36 12l-15-12m35 13l-14-14m33 15l-11-16m30 17l-8-18m27 18l-6-19m26 19l-5-19m26 19l-6-19m27 19l-7-18m29 17l-10-17m31 16l-13-15m35 14l-15-13m36 12l-16-11m37 11l-17-10m38 9l-18-9m38 9l-18-8m39 8l-18-8m38 7l-19-7m40 7l-19-6m39 6l-19-6m40 5l-19-5m39 5l-19-5m40 5l-20-4m40 4l-20-4m41 3l-20-3m40 3l-20-3m41 3l-20-2m40 2l-20-2m40 2l-20-2m41 1l-20-1m-919 22l-20-2m41 2l-20-2m40 2l-20-2m41 2l-20-3m40 3l-20-3m40 4l-20-4m41 4l-20-4m40 4l-19-5m39 5l-19-5m40 6l-19-6m39 6l-19-7m39 8l-19-7m39 7l-18-8m39 8l-18-9m38 10l-18-10m38 10l-17-10m37 10l-17-11m37 12l-16-12m36 12l-15-13m35 14l-14-14m34 15l-12-15m31 15l-11-16m31 16l-10-17m30 18l-9-18m30 18l-9-18m30 17l-10-17m31 17l-12-16m33 15l-13-15m34 15l-15-13m36 12l-16-12m37 12l-16-11m36 10l-17-11m38 11l-17-10m37 9l-18-9m39 9l-18-8m39 8l-18-8m38 7l-19-7m40 7l-19-6m39 6l-19-6m40 5l-19-5m39 5l-19-4m40 4l-20-4m40 4l-20-3m40 2l-20-3m41 3l-20-2m40 2l-20-2m41 2l-20-2m-939 22l-20-1m40 1l-20-2m41 2l-20-2m40 2l-20-3m40 3l-20-3m41 4l-20-4m40 4l-20-4m41 4l-19-5m39 6l-19-5m39 5l-19-6m39 6l-19-7m40 8l-18-8m38 8l-18-8m38 9l-18-9m38 9l-17-10m37 10l-17-11m38 12l-16-11m36 11l-16-12m36 12l-15-13m35 14l-15-14m35 14l-14-14m34 14l-13-15m33 16l-12-16m32 16l-11-16m31 16l-11-17m32 17l-11-16m31 16l-12-16m33 16l-13-16m34 15l-13-15m34 15l-14-14m34 14l-15-13m36 12l-16-12m37 12l-16-12m37 11l-17-11m37 11l-17-10m38 10l-18-10m38 9l-18-9m39 9l-18-8m39 7l-19-7m39 7l-19-6m40 6l-19-6m39 5l-19-5m40 5l-19-4m39 4l-20-4m40 4l-20-3m41 2l-20-3m40 3l-20-2m41 2l-20-2m40 2l-20-2m-959 22l-20-2m40 2l-20-2m41 2l-20-2m40 2l-20-3m40 4l-20-3m41 3l-20-4m40 4l-19-5m39 6l-19-5m40 5l-19-6m39 6l-19-7m39 8l-19-7m39 7l-18-8m39 9l-18-9m38 9l-17-10m37 10l-17-11m37 12l-16-12m36 12l-16-12m36 13l-15-13m36 13l-15-14m35 14l-14-14m34 14l-13-15m33 16l-13-15m33 15l-12-16m32 16l-12-16m33 16l-12-16m32 16l-12-16m33 16l-12-16m32 16l-13-15m34 14l-13-15m34 15l-14-14m34 14l-14-14m35 14l-15-13m36 12l-15-13m35 13l-16-12m37 12l-17-11m38 10l-17-10m37 10l-18-10m39 9l-18-9m38 9l-18-8m39 7l-19-7m39 7l-19-6m40 6l-19-6m39 5l-19-5m40 5l-20-4m40 4l-20-4m41 4l-20-3m40 2l-20-3m41 3l-20-2m40 2l-20-2m-959 22l-20-2m40 2l-20-2m41 2l-20-3m40 4l-20-3m40 3l-20-4m41 4l-20-4m40 5l-19-5m39 5l-19-6m40 6l-19-6m39 7l-19-7m39 7l-18-8m38 8l-18-9m39 10l-17-10m37 10l-17-11m37 12l-16-12m36 12l-16-12m36 13l-15-13m35 13l-15-14m35 14l-14-14m34 14l-14-15m35 16l-13-15m33 15l-13-15m33 15l-12-16m32 16l-12-16m33 16l-12-16m32 16l-12-16m33 16l-12-16m32 16l-13-16m34 16l-13-15m33 15l-13-15m34 14l-14-14m35 14l-14-14m34 14l-15-13m36 12l-15-13m36 13l-16-12m36 12l-17-11m38 10l-17-10m38 10l-18-9m38 8l-18-8m39 8l-19-7m39 6l-19-7m40 7l-19-6m39 6l-19-5m40 4l-19-5m39 5l-20-4m41 4l-20-3m40 2l-20-3m41 3l-20-2m40 2l-20-2m41 2l-20-1m-1000 21l-20-1m40 1l-20-2m40 2l-20-2m41 2l-20-3m40 4l-20-3m40 3l-20-4m41 4l-19-4m39 5l-19-5m39 5l-19-6m40 7l-19-7m39 7l-19-8m39 8l-18-8m38 9l-18-9m38 9l-17-10m38 11l-17-11m37 11l-16-12m36 13l-15-13m35 13l-15-14m35 14l-14-14m34 15l-14-15m34 15l-13-15m33 15l-13-15m34 15l-12-16m32 16l-12-16m32 16l-12-16m32 16l-12-16m33 16l-12-16m32 16l-12-16m33 16l-12-16m32 16l-13-16m34 16l-13-15m34 15l-13-15m33 14l-14-14m35 14l-14-14m35 14l-15-13m35 12l-16-12m37 12l-16-11m37 10l-17-11m38 11l-18-10m38 9l-18-9m39 9l-18-8m38 8l-19-7m40 6l-19-6m39 6l-19-5m40 5l-19-5m39 4l-20-4m41 4l-20-3m40 3l-20-3m41 2l-20-2m40 2l-20-2m41 2l-20-2m-1000 22l-20-1m40 1l-20-2m40 2l-20-2m41 3l-20-3m40 3l-20-3m40 3l-20-4m41 5l-19-5m39 5l-19-5m39 5l-19-6m40 7l-19-7m39 7l-18-8m38 9l-18-9m38 9l-18-9m38 9l-17-10m37 11l-16-11m36 11l-16-12m37 13l-15-13m35 13l-14-14m34 14l-14-14m34 15l-13-15m33 15l-13-15m33 15l-12-16m32 16l-12-16m33 16l-12-16m32 16l-12-16m32 16l-11-16m32 16l-11-16m31 16l-12-16m33 16l-12-16m32 16l-12-16m33 16l-13-16m34 16l-13-15m33 15l-14-15m35 14l-14-14m35 14l-15-13m35 13l-15-13m36 12l-16-12m37 12l-17-11m38 10l-17-10m37 10l-18-9m39 8l-18-8m38 8l-19-7m40 6l-19-6m39 6l-19-6m40 6l-19-5m39 4l-20-4m41 4l-20-4m40 4l-20-3m41 2l-20-2m40 2l-20-2m41 2l-20-2m-1000 22l-20-1m40 1l-20-2m40 2l-20-2m41 3l-20-3m40 3l-20-3m40 3l-20-4m41 5l-19-5m39 5l-19-5m39 5l-19-6m40 7l-19-7m39 7l-18-8m38 9l-18-9m38 9l-18-10m38 11l-17-10m37 10l-16-11m36 11l-16-12m37 13l-15-13m35 13l-14-14m34 15l-14-15m34 15l-13-15m33 15l-13-16m33 16l-12-16m32 16l-12-16m33 17l-11-16m31 16l-11-16m31 16l-11-17m32 17l-11-17m31 17l-11-16m32 15l-12-16m32 16l-12-16m33 16l-12-16m32 16l-13-15m34 15l-13-15m34 14l-14-14m35 14l-15-13m35 13l-15-13m36 12l-16-12m37 12l-17-11m37 10l-17-10m38 10l-18-9m39 8l-18-8m38 8l-19-7m40 7l-19-7m39 6l-19-6m40 6l-19-5m39 4l-20-4m41 4l-20-4m40 4l-20-3m41 3l-20-2m40 1l-20-2m41 2l-20-2m-1000 22l-20-1m40 1l-20-2m40 3l-20-2m41 2l-20-3m40 3l-20-3m40 3l-20-4m41 5l-19-5m39 5l-19-5m39 5l-19-6m40 7l-19-7m39 7l-18-8m38 9l-18-9m38 9l-18-10m38 11l-17-10m37 10l-17-11m38 11l-16-12m36 13l-15-13m35 13l-14-14m34 15l-14-15m34 15l-13-15m33 15l-13-16m33 16l-12-16m32 17l-12-16m33 16l-11-16m31 16l-11-17m31 17l-11-17m32 17l-11-17m31 17l-11-16m32 16l-12-16m32 15l-12-16m33 16l-12-16m32 16l-13-15m34 15l-13-15m34 14l-14-14m35 14l-15-13m35 13l-16-12m37 11l-16-12m37 12l-17-11m37 10l-17-10m38 10l-18-9m39 9l-18-8m38 7l-19-7m40 7l-19-7m39 6l-19-6m40 6l-19-5m39 4l-20-4m41 4l-20-4m40 4l-20-3m41 3l-20-2m40 1l-20-2m41 2l-20-2m-980 22l-20-2m40 3l-20-2m41 2l-20-3m40 3l-20-3m40 3l-20-4m41 5l-19-5m39 5l-19-5m39 6l-19-6m40 6l-19-7m39 7l-18-8m38 9l-18-9m38 9l-18-10m38 11l-17-10m37 10l-17-11m38 11l-16-12m36 13l-15-13m35 13l-15-13m35 14l-14-14m34 14l-13-15m33 15l-13-15m33 15l-12-16m32 17l-12-16m33 16l-12-16m32 16l-11-16m31 16l-11-16m32 16l-11-16m31 16l-12-16m33 16l-12-16m32 15l-12-16m33 16l-13-16m34 16l-13-15m33 15l-14-14m35 13l-15-14m36 14l-15-13m35 13l-16-12m37 11l-16-11m37 11l-17-11m37 10l-17-10m38 10l-18-9m39 9l-18-8m38 7l-19-7m40 7l-19-6m39 5l-19-6m40 6l-19-5m39 5l-20-4m41 3l-20-3m40 3l-20-3m41 3l-20-2m40 1l-20-2m41 2l-20-1m-980 21l-20-2m40 3l-20-2m41 2l-20-3m40 3l-20-3m40 3l-20-4m41 5l-20-4m40 4l-19-5m39 5l-19-6m40 7l-19-7m39 7l-19-8m39 9l-18-8m38 8l-18-9m38 10l-17-10m38 10l-17-11m37 11l-16-12m36 13l-16-12m36 12l-15-13m35 13l-15-14m35 15l-14-14m34 14l-13-15m33 15l-13-15m34 15l-12-16m32 17l-12-16m32 16l-12-16m33 16l-12-16m32 16l-12-16m32 16l-12-16m33 15l-12-16m33 16l-13-15m33 15l-13-15m34 15l-14-15m35 15l-14-14m34 13l-15-13m36 13l-15-13m36 13l-16-12m36 11l-17-11m38 11l-17-10m38 9l-18-10m38 10l-18-9m39 9l-18-8m38 7l-19-7m40 7l-19-6m39 5l-19-5m40 5l-19-5m39 5l-20-4m41 3l-20-3m40 3l-20-3m41 3l-20-2m40 1l-20-2m41 2l-20-1m-980 21l-20-2m40 3l-20-2m41 2l-20-2m40 2l-20-3m40 3l-20-3m41 4l-20-4m40 4l-19-5m39 5l-19-6m40 7l-19-6m39 6l-19-7m39 8l-18-8m38 8l-18-9m39 10l-17-10m37 10l-17-11m37 11l-16-11m36 12l-16-12m36 12l-15-13m35 13l-15-13m35 14l-14-14m35 14l-14-14m34 14l-14-15m34 15l-13-15m33 15l-13-15m34 15l-13-15m33 15l-13-16m33 16l-13-15m34 15l-13-15m33 15l-13-15m34 15l-13-15m34 15l-14-14m34 14l-14-14m35 13l-15-13m35 13l-15-13m36 13l-16-12m37 11l-16-12m36 12l-17-11m38 11l-17-10m38 9l-18-9m38 9l-18-8m39 7l-19-8m39 8l-19-7m40 7l-19-6m39 5l-19-5m40 5l-20-4m40 3l-20-4m41 4l-20-3m40 3l-20-3m41 3l-20-2m40 1l-20-2m-959 22l-20-1m40 2l-20-2m41 2l-20-2m40 2l-20-3m40 3l-20-3m41 4l-20-4m40 4l-19-5m39 5l-19-5m40 6l-19-6m39 6l-19-7m39 8l-18-8m38 8l-18-8m39 8l-18-9m38 10l-17-10m37 10l-17-11m37 12l-16-12m36 12l-16-12m36 12l-15-13m36 13l-15-13m35 14l-15-14m35 14l-14-14m34 14l-14-14m35 14l-14-15m34 15l-13-15m33 15l-13-15m34 15l-13-15m33 15l-14-15m35 15l-14-14m34 14l-14-14m35 14l-14-14m34 13l-15-13m36 13l-15-13m36 13l-16-12m36 12l-16-12m37 11l-17-11m38 11l-17-10m37 10l-18-10m39 9l-18-9m38 9l-18-8m39 7l-19-7m39 7l-19-6m40 5l-19-6m40 6l-19-5m39 5l-20-4m40 3l-20-3m41 3l-20-3m40 3l-20-2m41 2l-20-2m40 1l-20-2m-939 23l-20-2m41 2l-20-2m40 2l-20-2m40 2l-20-3m41 4l-20-4m40 4l-20-4m41 4l-19-5m39 6l-19-6m39 6l-19-6m39 6l-19-7m40 8l-18-8m38 8l-18-9m38 10l-18-10m38 10l-17-10m37 10l-17-11m38 12l-16-12m36 12l-16-12m36 12l-15-13m35 13l-15-13m35 14l-15-13m36 13l-15-14m35 14l-14-14m34 14l-14-14m35 14l-14-14m34 14l-14-14m35 14l-14-14m34 14l-14-14m35 14l-15-14m35 13l-15-13m36 13l-15-13m35 13l-16-12m37 12l-16-12m36 11l-17-11m38 11l-17-11m38 11l-17-10m37 9l-18-9m39 9l-18-8m38 8l-19-7m40 6l-19-7m40 7l-19-6m39 5l-19-5m40 5l-19-4m39 4l-20-4m40 3l-20-3m41 3l-20-3m40 3l-20-2m41 2l-20-2m40 1l-20-1m-939 22l-20-1m41 1l-20-2m40 2l-20-2m41 2l-20-3m40 3l-20-3m40 4l-20-4m41 4l-20-4m40 4l-19-5m39 6l-19-6m39 6l-19-7m40 8l-19-7m39 7l-18-8m38 8l-18-9m38 10l-18-10m39 10l-17-10m37 10l-17-11m37 12l-16-11m36 11l-16-12m36 12l-16-12m37 12l-15-13m35 13l-15-13m35 14l-15-13m36 13l-15-13m35 13l-15-13m35 13l-15-13m36 13l-15-13m35 12l-15-13m36 13l-15-13m35 13l-16-13m37 13l-16-12m37 12l-16-12m36 11l-17-11m38 11l-17-10m37 10l-17-10m38 9l-18-9m38 9l-18-8m39 8l-18-8m39 7l-19-7m39 7l-19-6m40 6l-19-5m39 4l-19-5m40 5l-20-4m40 4l-20-3m40 2l-20-3m41 3l-20-2m40 2l-20-2m41 2l-20-2m-898 22l-20-2m40 2l-20-2m41 2l-20-2m40 2l-20-3m40 4l-20-3m41 3l-20-4m40 4l-19-5m39 6l-19-5m40 5l-19-6m39 6l-19-7m39 8l-19-7m39 7l-18-8m39 8l-18-9m38 10l-18-9m38 9l-17-10m37 10l-17-11m38 12l-17-11m37 11l-16-12m36 12l-16-12m36 12l-16-12m37 12l-16-12m36 12l-16-13m36 13l-16-13m37 13l-16-13m36 13l-16-12m37 12l-16-12m36 12l-16-12m37 12l-16-12m36 12l-17-11m38 10l-17-11m37 11l-17-10m38 10l-17-10m38 9l-18-9m38 9l-18-8m39 8l-18-8m38 7l-19-7m40 7l-19-6m39 6l-19-6m40 5l-19-5m39 5l-20-4m41 4l-20-4m40 3l-20-3m41 3l-20-3m40 3l-20-2m40 2l-20-2m-857 22l-20-2m41 2l-20-2m40 2l-20-3m40 4l-20-3m41 3l-20-4m40 4l-20-4m40 4l-19-5m40 6l-19-5m39 5l-19-6m39 6l-19-7m40 8l-19-7m39 7l-18-8m38 8l-18-9m38 10l-18-9m39 9l-17-10m37 10l-17-10m37 10l-17-11m37 12l-17-11m38 11l-17-11m37 11l-16-11m36 11l-16-12m37 12l-16-12m36 12l-16-12m37 12l-16-11m36 11l-16-11m37 11l-17-11m37 10l-17-11m38 11l-17-10m37 10l-17-10m38 10l-18-9m38 8l-18-9m39 9l-18-8m38 8l-19-8m40 7l-19-7m39 7l-19-6m40 6l-19-6m39 6l-19-5m40 4l-20-4m40 4l-20-4m41 4l-20-3m40 2l-20-3m41 3l-20-2m40 2l-20-2m40 2l-20-2m-857 22l-20-1m41 1l-20-2m40 2l-20-2m40 2l-20-3m41 4l-20-3m40 3l-20-4m40 4l-20-4m41 4l-19-5m39 6l-19-5m39 5l-19-6m40 6l-19-7m39 8l-19-7m39 7l-18-8m39 8l-18-8m38 8l-18-9m38 10l-18-9m38 9l-18-10m39 10l-17-10m37 10l-17-10m37 10l-17-10m38 10l-17-10m37 10l-17-11m38 11l-17-11m37 11l-17-10m37 10l-17-10m38 10l-17-10m37 10l-17-10m38 10l-18-9m38 9l-18-9m39 8l-18-8m38 8l-18-8m39 8l-19-7m39 6l-19-7m40 7l-19-6m39 6l-19-6m40 6l-19-5m39 4l-20-4m41 4l-20-4m40 4l-20-3m41 3l-20-3m40 2l-20-2m41 2l-20-2m40 2l-20-2m-816 22l-20-2m40 2l-20-2m40 2l-20-2m41 3l-20-3m40 3l-20-3m40 3l-20-4m41 4l-20-4m40 5l-19-5m39 5l-19-5m40 5l-19-6m39 6l-19-6m39 7l-19-7m40 7l-19-7m39 7l-18-8m38 8l-18-8m39 8l-18-9m38 10l-18-9m38 9l-18-9m39 9l-18-9m38 9l-18-9m38 9l-18-9m39 9l-18-9m38 9l-18-9m39 9l-18-9m38 9l-18-9m39 9l-18-9m38 8l-18-8m39 8l-18-8m38 8l-19-7m40 7l-19-7m39 6l-19-6m40 6l-19-6m39 6l-19-5m40 5l-19-5m39 4l-20-4m40 4l-20-4m41 4l-20-3m40 3l-20-3m41 2l-20-2m40 2l-20-2m41 2l-20-2m-776 22l-20-2m40 2l-20-2m41 2l-20-2m40 3l-20-3m40 3l-20-3m41 3l-20-4m40 4l-20-4m41 5l-19-4m39 4l-19-5m39 5l-19-5m40 5l-19-6m39 6l-19-6m39 7l-19-7m40 7l-19-7m39 7l-19-7m39 7l-18-8m39 8l-18-8m38 8l-18-8m38 8l-18-8m39 8l-18-8m38 8l-18-8m39 8l-18-8m38 8l-18-8m38 8l-18-8m39 8l-19-8m39 8l-19-7m40 7l-19-7m39 7l-19-6m40 5l-19-6m39 6l-19-6m40 6l-19-5m39 5l-19-5m40 4l-20-4m40 4l-20-4m40 4l-20-3m41 3l-20-3m40 2l-20-2m41 2l-20-2m40 2l-20-2m41 2l-20-1m-756 21l-20-2m41 2l-20-2m40 2l-20-2m41 3l-20-3m40 3l-20-3m40 3l-20-3m41 3l-20-4m40 4l-20-4m40 5l-19-5m40 5l-19-5m39 5l-19-5m39 5l-19-6m40 6l-19-6m39 7l-19-6m39 6l-19-7m40 7l-19-7m39 7l-19-7m40 7l-19-7m39 7l-19-7m39 7l-19-7m40 7l-19-7m39 7l-19-7m40 7l-19-7m39 7l-19-7m39 6l-19-6m40 6l-19-6m39 6l-19-6m40 6l-19-5m39 5l-19-5m40 5l-20-4m40 3l-20-4m41 4l-20-4m40 4l-20-3m41 3l-20-3m40 3l-20-2m40 1l-20-2m41 2l-20-2m40 2l-20-1m-714 21l-20-2m40 2l-20-2m41 3l-20-2m40 2l-20-2m40 2l-20-3m41 3l-20-3m40 3l-20-4m40 4l-20-4m41 5l-20-4m40 4l-19-5m39 5l-19-5m40 5l-19-5m39 5l-19-5m40 5l-19-6m39 6l-19-6m39 6l-19-6m40 6l-19-6m39 7l-19-6m40 5l-19-6m39 6l-19-6m39 6l-19-6m40 6l-19-6m39 6l-19-6m40 6l-19-5m39 5l-19-5m40 5l-19-5m39 5l-20-4m40 3l-20-4m41 4l-20-4m40 4l-20-3m41 3l-20-3m40 3l-20-3m41 3l-20-2m40 1l-20-2m40 2l-20-2m41 2l-20-1m-674 21l-20-1m41 1l-20-2m40 3l-20-2m40 2l-20-2m41 2l-20-3m40 3l-20-3m40 3l-20-3m41 3l-20-4m40 4l-20-4m41 5l-20-4m40 4l-20-4m40 4l-19-5m40 5l-19-5m39 5l-19-5m39 5l-19-5m40 5l-19-5m39 5l-19-5m40 5l-19-5m39 5l-19-5m39 5l-19-5m40 5l-19-5m39 5l-19-5m40 5l-20-4m40 4l-20-4m41 3l-20-4m40 4l-20-4m40 4l-20-3m41 3l-20-3m40 3l-20-3m41 3l-20-2m40 2l-20-2m41 1l-20-2m40 2l-20-2m-612 22l-20-1m40 1l-20-2m40 3l-20-2m41 2l-20-2m40 2l-20-2m41 2l-20-3m40 3l-20-3m40 3l-20-3m41 3l-20-3m40 3l-20-4m40 4l-20-4m41 5l-20-4m40 4l-20-4m41 4l-20-4m40 4l-20-4m40 4l-20-4m41 4l-20-4m40 4l-20-4m41 4l-20-4m40 4l-20-4m40 4l-20-4m41 3l-20-4m40 4l-20-3m41 3l-20-3m40 3l-20-3m41 3l-20-3m40 3l-20-2m40 2l-20-2m41 2l-20-2m40 1l-20-2m41 2l-20-1m-552 21l-20-1m41 2l-20-2m40 2l-20-2m41 2l-20-2m40 2l-20-2m40 2l-20-2m41 2l-20-3m40 3l-20-3m40 3l-20-3m41 3l-20-3m40 3l-20-3m41 3l-20-3m40 3l-20-3m40 3l-20-3m41 3l-20-3m40 3l-20-3m41 3l-20-3m40 3l-20-3m40 3l-20-3m41 3l-20-3m40 3l-20-3m41 3l-20-3m40 3l-20-2m41 2l-20-2m40 2l-20-2m40 2l-20-2m41 1l-20-2m-470 23l-20-1m41 1l-20-2m40 2l-20-2m40 2l-20-2m41 2l-20-2m40 2l-20-2m41 2l-20-2m40 2l-20-3m40 3l-20-3m41 3l-20-3m40 3l-20-3m41 3l-20-3m40 3l-20-3m40 3l-20-3m41 3l-20-3m40 3l-20-3m41 3l-20-2m40 2l-20-2m40 2l-20-2m41 2l-20-2m40 2l-20-2m41 2l-20-2m40 2l-20-2m-388 22l-20-1m40 1l-20-2m41 2l-20-2m40 2l-20-2m41 2l-20-2m40 2l-20-2m40 2l-20-2m41 2l-20-2m40 2l-20-2m41 2l-20-2m40 2l-20-2m40 2l-20-2m41 2l-20-2m40 2l-20-2m41 2l-20-2m40 2l-20-2m40 2l-20-2m41 2l-20-2m40 2l-20-1m-265 21l-20-1m40 1l-20-2m40 2l-20-2m41 2l-20-2m40 2l-20-2m41 2l-20-2m40 2l-20-2m40 2l-20-2m41 2l-20-2m40 2l-20-2m41 2l-20-1m40 1l-20-1"/>
<clipPath id="cp4"><rect x="916" y="2779.1" width="670.8" height="657"/></clipPath>
<filter id="bl4" filterUnits="userSpaceOnUse" x="876" y="2739.1" width="750.8" height="737"><feGaussianBlur stdDeviation="3.6"/></filter>
<pattern id="pt4" patternUnits="userSpaceOnUse" x="919.9" y="2774.9" width="10.200" height="10.040"><path stroke="#000" stroke-width="1.5" d="M0.10 5.02h10.00"/><path stroke="#000" stroke-width="3.1" stroke-linecap="round" d="M6.80 5.02h2.00"/></pattern>
<path id="ar5" transform="scale(.5)" d="M3221 5556l-18 8m38-8l-18 8m38-8l-18 8m38-8l-18 8m38-8l-18 8m38-9l-18 9m38-9l-18 9m38-9l-18 9m38-9l-18 9m38-9l-18 9m39-9l-17 10m37-10l-17 10m37-10l-17 10m37-10l-17 10m36-11l-17 11m37-11l-16 11m36-11l-16 11m36-11l-16 12m36-12l-16 12m36-13l-15 13m35-13l-15 13m35-13l-14 14m34-14l-14 14m34-15l-13 15m32-15l-13 15m33-15l-12 16m32-16l-12 16m32-16l-12 16m32-17l-11 17m31-17l-11 17m31-17l-10 17m29-17l-10 17m30-17l-10 17m30-17l-10 18m30-18l-9 18m30-18l-9 18m29-18l-9 18m29-18l-10 18m30-18l-10 17m30-17l-10 17m30-17l-10 17m31-17l-11 17m31-17l-11 17m31-16l-11 16m31-16l-12 16m33-16l-12 16m32-16l-13 16m33-16l-13 15m33-15l-13 15m34-15l-14 15m34-14l-14 14m34-14l-14 14m34-14l-14 14m35-14l-15 13m35-13l-15 13m35-13l-15 13m35-12l-16 12m36-12l-16 12m37-12l-16 12m36-12l-16 12m36-12l-16 11m36-11l-17 11m37-11l-17 11m38-10l-17 10m37-10l-17 10m37-10l-17 10m-1288 11l-18 8m38-8l-18 8m38-8l-18 8m38-8l-18 8m38-8l-18 9m38-10l-18 9m38-9l-18 9m38-9l-18 9m38-9l-18 9m38-9l-17 10m37-10l-17 10m37-10l-17 10m37-10l-17 10m37-10l-17 11m37-12l-17 11m37-11l-16 11m36-11l-16 12m36-12l-16 12m36-12l-15 13m35-14l-15 13m35-13l-15 14m35-14l-14 14m34-14l-14 15m33-16l-13 15m33-15l-13 16m33-16l-12 16m32-16l-12 16m32-16l-11 17m31-18l-11 17m30-17l-10 17m30-17l-10 17m30-17l-10 18m30-18l-9 18m29-18l-9 18m29-18l-9 18m29-18l-9 18m29-18l-9 18m30-18l-9 18m29-18l-9 18m29-18l-10 17m30-17l-10 17m30-17l-10 17m31-17l-11 17m31-16l-11 17m31-17l-12 16m33-16l-12 16m32-16l-12 16m32-16l-13 15m33-15l-13 15m34-14l-13 15m33-15l-14 14m34-14l-14 14m34-14l-14 14m35-14l-15 13m35-13l-15 13m35-13l-15 13m35-12l-16 12m36-12l-16 12m37-12l-16 12m36-12l-16 12m36-12l-16 11m36-11l-17 11m37-10l-17 11m38-11l-17 10m37-10l-17 10m37-10l-17 10m-1288 11l-18 8m38-8l-18 8m38-8l-18 8m38-8l-18 8m38-8l-18 9m38-9l-18 9m38-10l-18 9m38-9l-18 9m38-9l-17 10m37-10l-17 10m37-10l-17 10m37-10l-17 10m37-10l-17 11m37-11l-17 11m37-12l-16 11m36-11l-16 12m36-12l-16 12m36-12l-15 12m35-13l-15 13m35-13l-15 13m35-13l-14 14m34-14l-14 15m33-16l-13 15m33-15l-13 15m33-15l-12 16m32-16l-12 16m32-16l-11 17m30-18l-11 17m31-17l-10 17m30-17l-10 18m30-18l-9 18m29-18l-9 18m29-18l-9 18m29-18l-9 18m29-18l-8 18m28-18l-8 18m28-18l-8 18m28-18l-9 18m29-18l-9 18m30-18l-9 18m29-18l-10 18m30-18l-10 17m31-17l-10 17m30-16l-11 17m31-17l-11 16m31-16l-12 16m33-16l-12 16m32-16l-13 16m33-16l-13 15m34-14l-13 15m33-15l-14 15m34-15l-14 14m34-14l-14 14m35-14l-15 14m35-14l-15 13m35-12l-15 13m35-13l-16 13m36-13l-16 12m37-12l-16 12m36-12l-16 12m36-12l-16 11m36-10l-17 11m37-11l-17 11m38-11l-17 10m37-10l-17 10m37-10l-17 10m-1288 11l-18 8m38-8l-18 8m38-8l-18 8m38-8l-18 9m38-9l-18 9m38-9l-18 9m38-10l-18 9m38-9l-18 10m38-10l-17 10m37-10l-17 10m37-10l-17 10m37-10l-17 10m37-10l-17 11m37-11l-17 11m37-12l-16 11m36-11l-16 12m36-12l-16 12m36-12l-15 13m35-14l-15 13m35-13l-14 14m34-14l-14 14m33-14l-13 15m33-16l-13 15m33-15l-12 16m32-16l-12 16m32-16l-11 17m30-17l-11 17m31-18l-10 17m30-17l-10 18m30-18l-9 18m29-18l-9 18m29-18l-8 18m28-18l-8 18m28-18l-8 18m28-18l-8 18m28-18l-8 18m28-18l-8 18m28-18l-8 18m28-18l-8 18m28-18l-9 18m30-18l-9 18m29-18l-10 17m30-17l-10 17m31-16l-11 17m31-17l-11 17m31-17l-11 16m32-16l-12 16m32-16l-12 16m32-16l-13 15m33-14l-13 15m34-15l-14 15m34-15l-14 14m34-14l-14 14m35-14l-15 14m35-14l-15 13m35-12l-15 13m35-13l-16 13m36-13l-16 12m37-12l-16 12m36-12l-16 12m36-12l-16 11m36-10l-17 11m37-11l-17 11m38-11l-17 10m37-10l-17 10m37-10l-17 10m-1288 11l-18 8m38-8l-18 8m38-8l-18 8m38-8l-18 9m38-9l-18 9m38-9l-18 9m38-10l-18 9m38-9l-17 10m37-10l-17 10m37-10l-17 10m37-10l-17 10m37-10l-17 11m37-11l-17 11m37-12l-16 11m36-11l-16 12m36-12l-16 12m36-12l-15 13m35-13l-15 13m35-14l-14 14m34-14l-14 14m33-14l-13 15m33-15l-13 15m33-16l-12 16m32-16l-12 16m32-16l-11 17m30-17l-11 17m31-18l-10 17m30-17l-9 18m29-18l-9 18m29-18l-8 18m27-18l-8 18m28-18l-8 18m28-18l-7 19m27-19l-7 19m27-19l-7 19m27-19l-7 19m28-19l-7 19m27-19l-8 18m28-18l-8 18m28-18l-8 18m29-18l-9 18m29-18l-9 18m29-18l-10 17m31-16l-10 17m30-17l-11 17m31-17l-11 16m32-16l-12 16m32-16l-12 16m32-16l-13 15m33-14l-13 15m34-15l-13 15m33-15l-14 14m34-14l-14 14m35-14l-15 14m35-13l-15 13m35-13l-15 13m35-13l-16 13m36-13l-16 12m37-12l-16 12m36-12l-16 11m36-10l-17 11m37-11l-17 11m37-11l-17 11m38-11l-17 10m37-10l-17 10m37-10l-17 10m-1288 11l-18 8m38-8l-18 8m38-8l-18 8m38-8l-18 9m38-9l-18 9m38-9l-18 9m38-10l-18 10m38-10l-17 10m37-10l-17 10m37-10l-17 10m37-10l-17 11m37-11l-17 11m37-11l-16 11m36-12l-16 12m36-12l-16 12m36-12l-16 12m36-12l-15 13m35-13l-15 13m35-14l-14 14m33-14l-14 14m34-14l-13 15m33-16l-13 15m33-15l-12 16m32-16l-11 16m30-16l-11 17m31-17l-10 17m30-18l-10 18m30-18l-9 18m28-18l-8 18m28-18l-8 18m28-18l-8 19m28-19l-7 19m27-19l-7 19m27-19l-7 19m27-19l-7 19m27-19l-7 19m27-19l-7 19m27-19l-7 19m28-19l-7 19m27-19l-8 18m28-18l-8 18m29-18l-9 18m29-18l-9 18m29-17l-10 17m31-17l-10 17m30-17l-11 17m31-17l-12 16m33-16l-12 16m32-16l-12 16m32-15l-13 15m34-15l-13 15m33-15l-14 14m34-14l-14 14m35-14l-15 14m35-13l-15 13m35-13l-15 13m35-13l-16 13m36-13l-16 12m37-12l-16 12m36-12l-16 11m36-10l-17 11m37-11l-17 11m37-11l-17 10m38-10l-17 10m37-10l-17 10m37-10l-18 10m-1287 11l-18 8m38-8l-18 8m38-8l-18 8m38-8l-18 9m38-9l-18 9m38-9l-18 9m38-10l-17 10m37-10l-17 10m37-10l-17 10m37-10l-17 10m37-10l-17 11m37-11l-17 11m37-11l-16 11m36-12l-16 12m36-12l-16 12m36-12l-15 13m35-13l-15 13m35-14l-14 14m33-14l-14 14m34-14l-13 15m33-15l-13 15m33-16l-12 16m32-16l-12 16m31-16l-11 17m31-17l-10 17m30-17l-10 17m30-18l-9 18m28-18l-9 18m29-18l-8 18m28-18l-8 18m28-18l-7 19m27-19l-7 19m27-19l-6 19m26-19l-6 19m26-19l-6 19m26-19l-6 19m26-19l-6 19m26-19l-6 19m26-19l-7 19m28-19l-7 19m27-19l-8 18m29-18l-8 18m28-18l-9 18m29-17l-10 17m31-17l-10 17m30-17l-11 17m31-17l-11 16m32-16l-12 16m32-16l-12 16m32-15l-13 15m34-15l-13 15m33-15l-14 14m34-14l-14 14m34-14l-15 14m36-13l-15 13m35-13l-15 13m35-13l-16 12m36-12l-16 12m37-12l-16 12m36-11l-16 11m36-11l-17 11m37-11l-17 11m37-11l-17 10m38-10l-17 10m37-10l-17 10m37-9l-18 9m-1287 11l-18 8m38-8l-18 8m38-8l-18 9m38-9l-18 9m38-9l-18 9m38-9l-18 9m38-10l-17 10m37-10l-17 10m37-10l-17 10m37-10l-17 11m37-11l-17 11m37-11l-16 11m36-11l-16 12m36-13l-16 12m36-12l-15 12m35-12l-15 13m35-13l-15 13m34-14l-14 14m34-14l-14 14m34-14l-13 15m33-15l-13 15m33-16l-12 16m31-16l-11 16m31-16l-11 17m31-17l-10 17m30-17l-10 18m30-19l-9 18m28-18l-8 18m28-18l-8 18m28-18l-7 19m27-19l-7 19m27-19l-6 19m26-19l-6 19m26-19l-6 19m26-19l-6 19m26-19l-6 19m26-19l-6 19m26-19l-6 19m26-19l-6 19m27-19l-7 19m27-19l-7 18m27-18l-8 18m29-18l-9 18m29-17l-9 18m30-18l-10 17m30-17l-11 17m31-17l-11 17m32-17l-12 16m32-15l-12 16m32-16l-13 15m34-15l-13 15m33-15l-14 14m34-14l-14 14m34-13l-15 14m36-14l-15 13m35-13l-15 13m35-13l-16 12m36-12l-16 12m37-11l-16 12m36-12l-16 11m36-11l-17 11m37-11l-17 11m37-11l-17 10m38-10l-17 10m37-9l-17 10m37-10l-18 9m-1287 11l-18 8m38-8l-18 8m38-8l-18 9m38-9l-18 9m38-9l-18 9m38-9l-18 10m38-10l-17 10m37-11l-17 10m37-10l-17 11m37-11l-17 11m37-11l-17 11m37-11l-16 11m36-11l-16 12m36-13l-16 12m36-12l-15 13m35-13l-15 13m34-13l-14 14m34-15l-14 14m34-14l-13 15m33-15l-13 15m33-15l-12 16m32-17l-12 16m31-16l-11 16m31-16l-11 17m31-17l-10 17m30-17l-9 18m29-19l-9 18m28-18l-8 18m28-18l-8 18m28-18l-7 19m27-19l-7 19m27-19l-6 19m26-19l-6 19m26-19l-6 19m26-19l-6 19m26-19l-6 19m26-19l-6 19m26-19l-6 19m26-19l-6 19m26-19l-6 19m27-19l-7 19m27-19l-8 18m29-18l-8 18m28-17l-9 18m29-18l-10 17m31-17l-10 17m30-17l-11 17m32-17l-12 16m32-15l-12 16m32-16l-13 15m34-15l-13 15m33-15l-14 14m34-14l-14 14m34-13l-15 14m36-14l-15 13m35-13l-15 13m35-13l-16 12m37-12l-16 12m36-11l-16 12m36-12l-16 11m36-11l-17 11m37-11l-17 11m38-11l-17 10m37-9l-17 10m37-10l-18 10m38-10l-18 9m-1287 12l-18 8m38-9l-18 8m38-8l-18 9m38-9l-18 9m38-9l-18 9m38-9l-17 10m37-10l-17 10m37-11l-17 10m37-10l-17 11m37-11l-17 11m37-11l-16 11m36-11l-16 12m36-12l-16 12m36-13l-16 12m36-12l-15 13m35-13l-15 13m34-13l-14 14m34-15l-14 14m34-14l-13 15m33-15l-13 15m33-15l-12 16m32-17l-12 16m31-16l-11 17m31-17l-11 17m31-17l-10 17m30-17l-9 18m29-18l-9 18m28-19l-8 18m28-18l-8 18m28-18l-7 19m27-19l-7 19m27-19l-6 19m26-19l-6 19m26-19l-6 19m26-19l-6 19m26-19l-6 19m26-19l-6 19m26-19l-6 19m26-19l-6 19m26-19l-6 19m27-19l-7 19m27-19l-7 19m27-19l-8 18m29-17l-9 18m29-18l-9 18m30-18l-10 17m30-17l-11 17m31-17l-11 16m32-15l-12 16m32-16l-13 15m34-15l-13 15m33-15l-14 15m34-15l-14 14m35-13l-15 14m35-14l-15 13m35-13l-15 13m35-13l-16 12m37-11l-16 12m36-12l-16 12m36-12l-17 11m37-11l-17 11m37-11l-17 10m38-9l-17 10m37-10l-17 10m37-10l-18 9m38-9l-18 9m-1287 12l-18 8m38-9l-18 8m38-8l-18 9m38-9l-18 9m38-9l-18 9m38-9l-17 10m37-10l-17 10m37-11l-17 10m37-10l-17 11m37-11l-17 11m37-11l-16 11m36-11l-16 12m36-12l-16 12m36-13l-15 13m35-13l-15 13m34-13l-15 13m35-13l-14 14m34-15l-14 14m34-14l-13 15m33-15l-13 15m33-15l-12 16m32-17l-12 16m31-16l-11 17m31-17l-11 17m31-17l-10 17m30-17l-9 18m29-18l-9 18m28-18l-8 18m28-19l-8 18m28-18l-7 19m27-19l-7 19m27-19l-7 19m27-19l-6 19m26-19l-6 19m26-19l-6 19m26-19l-6 19m26-19l-6 19m26-19l-6 19m26-19l-6 19m26-19l-6 19m27-19l-7 19m27-19l-7 19m27-19l-8 18m29-17l-8 18m28-18l-9 18m30-18l-10 17m30-17l-11 17m31-17l-11 16m32-15l-12 16m32-16l-13 15m34-15l-13 15m33-15l-14 14m34-13l-14 14m35-14l-15 14m35-14l-15 13m35-13l-15 13m35-13l-16 12m37-11l-16 12m36-12l-16 11m36-11l-17 11m37-11l-17 11m37-11l-17 10m38-9l-17 10m37-10l-17 10m37-10l-18 9m38-9l-18 9m-1287 12l-18 8m38-8l-18 8m38-9l-18 9m38-9l-18 9m38-9l-18 9m38-9l-17 10m37-10l-17 10m37-11l-17 11m37-11l-17 11m37-11l-16 11m36-11l-16 12m36-12l-16 12m36-12l-16 12m36-13l-15 13m35-13l-15 13m34-13l-14 13m34-13l-14 14m34-15l-14 14m34-14l-13 15m33-15l-13 15m33-15l-12 16m31-16l-12 16m32-17l-11 17m31-17l-11 17m31-17l-10 17m30-17l-10 18m30-18l-9 18m28-18l-9 18m29-18l-8 18m28-19l-8 18m28-18l-7 19m27-19l-7 19m27-19l-7 19m27-19l-6 19m26-19l-6 19m26-19l-6 19m26-19l-6 19m26-19l-6 19m26-19l-6 19m26-19l-6 19m27-19l-7 19m27-19l-7 19m27-18l-8 18m29-18l-8 18m28-18l-9 18m29-18l-10 17m31-17l-11 17m31-17l-11 16m32-15l-12 16m32-16l-13 15m34-15l-13 15m33-15l-14 14m34-13l-14 14m35-14l-15 13m35-13l-15 13m35-13l-15 13m35-12l-16 12m37-12l-16 12m36-12l-16 11m36-11l-17 11m37-11l-17 10m37-9l-17 10m38-10l-17 10m37-10l-18 9m38-9l-18 9m38-9l-18 9m-1287 12l-18 8m38-8l-18 8m38-9l-18 9m38-9l-18 9m38-9l-18 9m38-9l-17 10m37-10l-17 10m37-11l-17 11m37-11l-17 11m37-11l-16 11m36-11l-16 12m36-12l-16 12m36-12l-16 12m36-13l-15 13m34-13l-15 13m35-13l-14 14m34-14l-14 14m34-14l-13 15m33-16l-13 15m33-15l-12 15m32-15l-12 16m31-16l-12 16m32-17l-11 17m31-17l-11 17m31-17l-10 17m30-17l-10 17m30-17l-9 18m29-18l-9 18m28-18l-8 18m28-18l-8 18m28-18l-8 18m28-18l-7 19m27-20l-7 19m27-19l-7 19m27-19l-6 19m26-19l-6 19m26-19l-6 19m26-19l-6 19m26-19l-6 19m26-19l-7 19m28-19l-7 19m27-18l-7 18m27-18l-8 18m29-18l-8 18m28-18l-9 18m29-18l-10 17m31-17l-10 17m30-16l-11 16m32-16l-12 16m32-16l-13 15m34-15l-13 15m33-14l-14 14m34-14l-14 14m35-14l-15 13m35-13l-15 13m35-12l-16 12m36-12l-16 12m37-12l-16 12m36-12l-17 11m37-11l-17 11m37-10l-17 10m38-10l-17 10m37-10l-17 10m37-10l-18 9m38-9l-18 9m38-9l-18 9m-1287 12l-18 8m38-8l-18 8m38-8l-18 9m38-10l-18 9m38-9l-18 9m38-9l-17 10m37-10l-17 10m37-10l-17 11m37-12l-17 11m37-11l-16 11m36-11l-16 12m36-12l-16 12m36-12l-15 12m35-13l-15 13m34-13l-15 13m35-13l-14 14m34-14l-14 14m34-14l-13 15m33-16l-13 15m33-15l-12 15m32-15l-12 16m31-16l-12 16m32-16l-11 17m31-18l-11 17m31-17l-10 17m30-17l-10 17m30-17l-9 18m29-18l-9 18m29-18l-9 18m29-18l-8 18m27-18l-8 18m28-18l-8 18m28-18l-7 18m27-18l-7 19m27-19l-7 19m27-19l-7 19m27-19l-7 19m27-19l-7 19m27-19l-7 19m28-19l-7 19m27-19l-7 18m27-18l-8 18m28-18l-8 18m29-18l-9 18m29-18l-9 18m29-18l-10 17m31-17l-10 17m30-16l-11 16m32-16l-12 16m32-16l-13 15m34-15l-13 15m33-14l-14 14m34-14l-14 14m35-14l-15 13m35-13l-15 13m35-12l-16 12m36-12l-16 12m37-12l-16 11m36-11l-17 11m37-10l-17 11m37-11l-17 10m38-10l-17 10m37-10l-18 9m38-9l-18 9m38-8l-18 9m38-9l-18 8m-1287 12l-18 8m38-8l-18 8m38-8l-18 9m38-10l-18 9m38-9l-18 9m38-9l-17 10m37-10l-17 10m37-10l-17 11m37-12l-17 11m37-11l-16 11m36-11l-16 12m36-12l-16 12m36-12l-15 13m35-14l-15 13m34-13l-15 13m35-13l-14 14m34-14l-14 14m34-14l-13 15m33-16l-13 15m33-15l-12 16m32-16l-12 16m31-16l-12 16m32-16l-11 17m31-18l-11 17m31-17l-10 17m30-17l-10 17m30-17l-10 17m30-17l-9 18m29-18l-9 18m29-18l-9 18m29-18l-9 18m29-18l-8 18m28-18l-8 18m28-18l-8 18m27-18l-8 18m28-18l-7 18m28-18l-7 18m27-18l-7 18m27-18l-7 18m27-18l-7 18m27-18l-8 18m28-18l-8 18m29-18l-8 18m28-18l-9 18m29-18l-9 17m30-17l-10 17m30-16l-11 17m31-17l-11 16m32-16l-12 16m32-16l-13 15m34-14l-13 15m33-15l-14 14m34-14l-14 14m35-14l-15 13m35-12l-15 13m35-13l-16 12m37-12l-16 12m36-12l-16 11m36-10l-17 11m37-11l-17 10m37-10l-17 10m38-10l-18 10m38-10l-18 9m38-8l-18 9m38-9l-18 8m38-8l-18 8m-1287 12l-18 8m38-8l-18 8m38-8l-18 9m38-9l-18 9m38-10l-18 9m38-9l-17 10m37-10l-17 10m37-10l-17 11m37-12l-17 11m37-11l-16 11m36-11l-16 12m36-12l-16 12m36-12l-15 13m35-13l-15 13m34-14l-15 13m35-13l-14 14m34-14l-14 14m34-14l-13 15m33-16l-13 15m33-15l-12 16m32-16l-12 16m31-16l-12 16m32-16l-11 17m31-17l-11 17m31-18l-10 17m30-17l-10 17m30-17l-10 17m30-17l-10 17m30-17l-9 18m29-18l-9 18m29-18l-9 18m29-18l-9 18m29-18l-9 18m29-18l-8 18m28-18l-8 18m28-18l-8 18m28-18l-8 18m28-18l-8 18m28-18l-8 18m28-18l-8 18m28-18l-8 18m29-18l-8 18m28-18l-9 18m29-18l-9 18m29-18l-10 17m31-16l-10 17m30-17l-11 17m31-17l-11 16m32-16l-12 16m32-16l-13 15m34-14l-13 15m33-15l-14 14m34-14l-15 13m36-12l-15 13m35-13l-16 12m36-12l-16 12m37-12l-16 11m36-10l-17 11m37-11l-17 10m37-10l-17 10m38-10l-17 10m37-10l-18 9m38-8l-18 9m38-9l-18 9m38-9l-18 8m38-8l-18 8m-1287 12l-18 8m38-8l-18 8m38-8l-18 8m38-8l-18 9m38-10l-18 9m38-9l-17 10m37-10l-17 10m37-10l-17 11m37-11l-17 11m37-12l-16 11m36-11l-16 12m36-12l-16 12m36-12l-15 13m34-13l-15 13m35-14l-14 13m34-13l-14 14m34-14l-13 14m33-14l-13 15m33-16l-13 15m33-15l-12 16m32-16l-12 16m31-16l-11 16m31-16l-11 17m31-17l-11 17m31-17l-11 17m31-17l-10 17m30-18l-10 17m30-17l-10 17m30-17l-10 17m30-17l-10 17m30-17l-9 17m29-17l-9 18m29-18l-9 18m29-18l-9 18m29-18l-9 18m29-18l-9 18m29-18l-9 18m29-18l-8 18m28-18l-8 18m28-18l-9 18m30-18l-9 18m29-18l-9 18m29-18l-9 17m29-17l-10 17m31-16l-10 17m30-17l-11 17m31-17l-11 16m32-16l-12 16m32-16l-12 16m32-15l-13 15m34-15l-14 14m34-14l-14 14m35-14l-15 13m35-12l-15 13m35-13l-16 12m36-12l-16 12m37-12l-16 11m36-10l-17 11m37-11l-17 10m37-10l-17 10m38-10l-18 9m38-8l-18 9m38-9l-18 9m38-9l-18 8m38-8l-18 8m38-8l-18 8m-1287 12l-18 8m38-8l-18 8m38-8l-18 8m38-8l-18 9m38-9l-18 9m38-10l-17 10m37-10l-17 10m37-10l-17 10m37-10l-17 11m37-12l-16 11m36-11l-16 12m36-12l-16 12m36-12l-15 13m34-13l-15 13m35-14l-14 14m34-14l-14 14m34-14l-13 14m33-14l-13 15m33-16l-12 15m32-15l-12 16m31-16l-12 16m32-16l-11 16m31-16l-11 17m31-17l-11 17m31-17l-11 17m31-17l-10 17m30-17l-10 17m30-17l-10 17m30-17l-10 17m30-17l-10 17m30-17l-10 17m30-17l-10 17m30-17l-10 17m30-17l-9 17m29-17l-9 17m29-17l-9 17m29-18l-9 17m30-17l-9 17m29-17l-9 17m29-17l-9 17m29-16l-9 17m29-17l-10 17m30-17l-10 17m31-17l-10 17m30-17l-11 17m31-17l-11 16m31-16l-11 16m32-16l-12 16m32-15l-13 15m34-15l-13 15m33-15l-14 14m34-14l-14 14m35-13l-15 13m35-13l-15 12m35-12l-16 12m37-12l-16 11m36-10l-17 11m37-11l-17 10m37-10l-17 10m37-10l-17 10m38-9l-18 9m38-9l-18 9m38-9l-18 8m38-8l-18 8m38-8l-18 8m38-8l-19 7m-1286 14l-19 7m39-8l-18 8m38-8l-18 8m38-8l-18 9m38-9l-18 9m38-9l-18 9m38-10l-17 10m37-10l-17 10m37-10l-17 11m37-11l-16 11m36-12l-16 12m36-12l-16 12m36-12l-15 13m34-13l-15 13m35-14l-14 14m34-14l-14 14m34-14l-13 15m33-15l-13 15m33-16l-12 16m31-16l-12 16m32-16l-11 16m31-16l-11 17m31-17l-11 17m31-17l-11 17m31-17l-10 17m30-17l-10 17m30-17l-10 17m30-17l-10 17m30-17l-10 17m30-17l-10 17m30-17l-10 17m30-17l-10 17m30-17l-10 17m31-17l-10 17m30-17l-10 17m30-17l-10 17m30-17l-10 17m30-17l-10 17m30-17l-10 17m30-17l-10 17m30-17l-10 17m30-17l-10 17m31-17l-11 17m31-17l-11 16m31-16l-11 16m31-16l-12 16m33-16l-12 16m32-15l-12 15m32-15l-13 15m34-15l-13 14m33-14l-14 14m34-13l-15 13m36-13l-15 13m35-13l-16 12m36-12l-16 12m37-11l-17 11m37-11l-17 11m37-11l-17 10m37-10l-17 10m38-9l-18 9m38-9l-18 9m38-9l-18 8m38-8l-18 8m38-8l-18 8m38-7l-19 7m40-7l-19 7m-1287 13l-19 7m39-7l-18 8m38-9l-18 8m38-8l-18 8m38-8l-18 9m38-9l-18 9m38-10l-17 10m37-10l-17 10m37-10l-17 11m37-11l-17 11m37-11l-16 12m36-13l-16 12m36-12l-15 13m34-13l-15 13m35-14l-14 14m34-14l-14 14m34-14l-13 15m33-15l-13 15m32-16l-12 16m32-16l-12 16m32-16l-11 16m31-16l-11 17m31-17l-10 17m30-17l-10 17m30-17l-10 17m30-17l-10 17m30-17l-10 17m30-17l-10 17m30-17l-10 17m30-17l-10 17m30-17l-10 17m30-17l-10 17m31-17l-10 17m30-17l-10 17m30-17l-10 16m30-16l-10 16m30-16l-10 16m30-16l-10 16m30-16l-10 16m30-16l-11 16m32-16l-11 16m31-16l-11 16m31-16l-11 16m31-16l-11 16m31-16l-12 16m33-15l-12 15m32-15l-12 15m32-15l-13 15m34-15l-13 15m33-15l-14 14m34-13l-14 14m35-14l-15 13m35-13l-15 12m35-12l-16 12m36-11l-16 11m37-11l-17 11m37-11l-17 10m37-10l-17 10m37-9l-18 9m39-9l-18 9m38-9l-18 8m38-8l-18 8m38-8l-18 8m38-7l-19 7m39-7l-19 7m40-7l-19 7m-1287 13l-19 7m39-7l-19 7m39-7l-18 8m38-9l-18 8m38-8l-18 9m38-9l-18 9m38-9l-18 9m38-10l-17 10m37-10l-17 10m37-10l-17 11m37-11l-16 12m36-13l-16 12m36-12l-15 13m34-13l-15 13m35-13l-14 14m34-15l-14 14m34-14l-13 15m33-15l-12 15m31-16l-12 16m32-16l-11 16m31-16l-11 17m31-17l-10 17m30-17l-10 17m30-17l-10 18m30-18l-9 18m29-18l-9 18m29-18l-9 18m29-18l-9 17m29-17l-9 17m29-17l-10 17m30-17l-10 17m30-17l-10 17m31-17l-10 16m30-16l-10 16m30-16l-11 16m31-16l-11 16m31-16l-11 16m31-16l-11 16m32-15l-11 16m31-16l-11 16m31-16l-11 16m31-16l-12 16m32-16l-12 15m32-15l-12 15m33-15l-12 15m32-15l-13 15m33-15l-13 15m33-15l-13 14m34-14l-14 14m34-13l-14 14m34-14l-15 13m36-13l-15 13m35-13l-16 12m36-11l-16 11m37-11l-17 11m37-11l-17 10m37-9l-17 10m37-10l-18 9m39-9l-18 9m38-9l-18 8m38-8l-18 8m38-7l-18 8m38-8l-19 7m39-7l-19 7m40-7l-19 7m39-7l-19 6m-1287 14l-19 7m39-7l-19 7m39-7l-19 7m39-7l-18 8m38-9l-18 8m38-8l-18 9m38-9l-18 9m38-9l-17 10m37-11l-17 10m37-10l-17 11m37-11l-16 11m36-11l-16 12m36-13l-15 13m34-13l-15 13m35-13l-14 14m34-15l-13 14m33-14l-13 15m32-15l-12 16m32-17l-11 16m31-16l-11 17m31-17l-10 17m29-17l-10 17m30-17l-9 18m29-19l-9 18m29-18l-8 18m28-18l-8 18m28-17l-8 18m28-18l-8 18m29-18l-9 17m29-17l-9 17m29-17l-9 17m29-17l-10 17m31-17l-10 16m30-15l-10 16m30-16l-11 16m31-16l-11 15m31-15l-11 15m32-15l-11 15m31-15l-12 15m32-15l-12 15m32-15l-12 15m32-15l-12 15m33-15l-12 15m32-15l-13 15m33-15l-13 14m33-14l-13 14m33-14l-14 14m35-13l-14 14m34-14l-14 13m34-13l-15 13m36-13l-15 13m35-13l-16 12m36-11l-16 12m36-12l-17 11m38-11l-17 10m37-9l-17 10m37-10l-18 9m38-9l-18 9m39-9l-18 8m38-8l-18 8m38-7l-18 8m38-8l-19 7m39-7l-19 7m39-7l-19 7m40-7l-19 6m39-6l-19 6m-1287 14l-19 6m39-6l-19 7m39-7l-19 7m39-7l-18 7m38-7l-18 8m38-9l-18 8m38-8l-18 9m38-9l-18 9m38-9l-17 10m37-11l-17 11m37-11l-17 11m37-11l-16 12m36-13l-15 12m34-12l-15 13m35-13l-14 14m34-15l-13 15m33-15l-12 15m31-15l-12 16m32-17l-11 17m31-17l-10 17m29-17l-9 18m29-18l-9 18m29-19l-8 18m28-18l-7 19m26-19l-7 19m27-19l-7 19m27-19l-7 18m28-17l-7 18m27-18l-7 18m27-18l-8 17m29-17l-8 17m28-17l-9 17m29-17l-10 16m31-15l-10 16m30-16l-11 15m31-15l-11 15m32-15l-11 15m31-15l-12 15m32-15l-12 14m32-14l-12 14m32-14l-13 14m34-14l-13 14m33-13l-13 14m33-14l-13 14m33-14l-14 14m35-14l-14 14m34-14l-14 13m34-13l-15 13m35-13l-15 13m36-13l-15 12m35-11l-16 12m36-12l-16 12m36-12l-16 11m37-11l-17 10m37-9l-17 10m37-10l-18 9m38-9l-18 9m39-9l-18 8m38-7l-18 8m38-8l-18 8m38-8l-19 7m39-7l-19 7m39-7l-19 6m40-6l-19 6m39-5l-19 6m39-6l-19 6m-1286 14l-19 6m39-7l-19 6m39-6l-19 7m39-7l-19 7m39-7l-18 8m38-8l-18 8m38-9l-18 8m37-8l-18 9m38-9l-17 10m37-10l-17 10m37-11l-17 11m37-11l-16 12m36-13l-16 12m35-12l-15 13m35-13l-14 14m34-15l-13 15m32-15l-12 15m32-15l-11 16m30-17l-10 17m30-17l-9 17m29-17l-8 18m27-19l-7 19m27-19l-6 19m26-19l-6 19m26-19l-5 19m25-19l-5 19m25-19l-5 19m25-19l-5 18m25-17l-6 18m26-18l-6 18m27-18l-7 17m27-17l-8 17m29-16l-9 16m29-16l-10 16m31-16l-10 15m30-15l-11 15m32-15l-12 14m32-13l-12 14m32-14l-12 14m33-14l-13 14m33-14l-13 13m33-13l-13 13m33-13l-14 13m34-13l-14 13m35-13l-14 13m34-13l-15 13m35-13l-15 13m35-12l-15 12m36-12l-15 12m35-12l-16 12m36-12l-16 11m36-11l-16 11m37-11l-17 10m37-9l-17 10m37-10l-17 9m37-9l-18 9m38-8l-18 8m39-8l-18 8m38-8l-18 7m38-7l-19 7m39-7l-19 7m39-7l-19 6m39-5l-19 6m40-6l-19 6m39-6l-19 5m39-5l-19 5m-1286 15l-19 6m39-6l-19 6m39-6l-19 6m39-7l-19 7m39-7l-19 7m39-7l-18 8m38-8l-18 8m38-9l-18 9m37-9l-18 9m38-9l-17 10m37-11l-17 11m37-11l-16 11m36-11l-16 12m35-13l-15 13m35-13l-14 14m34-15l-13 15m32-15l-12 16m32-17l-11 17m30-17l-9 17m28-17l-8 18m28-19l-7 19m27-19l-6 19m25-19l-5 19m25-19l-4 20m24-20l-4 19m24-19l-3 19m23-19l-3 19m23-19l-4 19m24-18l-4 18m25-18l-5 18m25-18l-5 17m26-17l-7 17m27-16l-8 16m29-16l-9 16m30-16l-10 15m30-14l-11 14m32-14l-12 14m32-14l-12 13m32-13l-13 13m34-13l-13 13m33-13l-14 13m34-13l-14 12m34-11l-14 12m35-12l-15 12m35-12l-15 12m35-12l-15 12m35-12l-15 12m36-12l-16 11m36-11l-16 11m36-11l-16 11m36-11l-17 10m38-9l-17 10m37-10l-17 10m37-10l-18 9m38-9l-18 9m38-8l-18 8m39-8l-18 8m38-8l-18 7m38-7l-19 7m39-7l-19 6m39-5l-19 6m39-6l-19 6m40-6l-19 6m39-6l-19 5m39-5l-19 5m39-5l-19 5m-1286 15l-19 5m39-5l-19 5m39-5l-19 6m39-6l-19 6m39-6l-19 7m39-8l-19 7m39-7l-18 8m38-8l-18 8m38-9l-18 9m38-9l-18 9m37-9l-17 10m37-11l-17 11m37-11l-16 12m36-13l-15 13m34-13l-14 14m34-15l-13 15m32-15l-11 16m30-17l-10 17m30-17l-8 18m27-18l-7 18m26-19l-5 19m25-19l-4 20m23-20l-3 20m23-20l-2 20m22-20l-1 20m21-20l-1 19m21-19l-1 19m21-19l-1 19m21-18l-2 18m23-18l-3 18m23-18l-4 17m25-17l-5 17m26-16l-6 16m27-16l-8 16m28-16l-9 15m30-14l-10 14m31-14l-11 13m31-13l-12 13m33-12l-13 12m33-12l-14 12m34-12l-14 12m34-12l-14 12m35-12l-15 11m35-11l-15 11m35-11l-15 11m35-11l-16 11m37-11l-16 11m36-10l-16 10m36-10l-17 10m37-10l-17 10m38-10l-17 10m37-10l-17 9m37-9l-18 9m38-8l-18 8m38-8l-18 8m39-8l-18 7m38-7l-19 7m39-7l-19 7m39-6l-19 6m39-6l-19 6m39-6l-19 6m39-6l-19 5m40-5l-19 5m39-5l-19 5m39-4l-19 5m39-5l-19 4m-1286 16l-19 5m39-6l-19 5m39-5l-19 5m39-5l-19 6m39-6l-19 6m39-6l-19 6m39-7l-19 7m39-7l-19 7m39-7l-18 8m38-9l-18 9m38-9l-17 10m36-10l-17 11m37-12l-16 12m36-12l-15 13m34-14l-14 14m34-15l-13 15m32-15l-11 16m30-17l-9 17m28-17l-7 18m26-18l-5 19m24-20l-3 19m23-19l-2 20m21-20l0 20m20-20l0 20m19-20l1 19m19-19l1 19m19-18l1 19m20-19l1 18m19-18l0 18m21-18l-1 18m21-18l-2 17m23-16l-3 17m24-17l-5 16m26-16l-7 15m28-14l-8 15m29-15l-10 14m30-13l-11 13m32-13l-12 12m33-12l-13 11m33-11l-14 11m34-10l-14 11m35-11l-15 10m35-10l-15 10m35-10l-16 10m36-10l-16 10m37-10l-16 10m36-10l-17 10m37-10l-17 9m37-9l-17 9m38-9l-17 9m37-8l-18 9m38-9l-18 8m38-8l-18 8m38-8l-18 8m39-8l-18 7m38-6l-19 7m39-7l-19 6m39-6l-19 6m39-6l-19 6m39-6l-19 5m39-5l-19 5m40-4l-19 5m39-5l-19 4m39-4l-19 4m39-4l-19 4m39-4l-20 4m-1285 16l-20 4m40-4l-19 4m39-4l-19 5m39-6l-19 5m39-5l-19 5m39-5l-19 6m39-6l-19 6m39-6l-19 7m39-8l-19 7m39-7l-18 8m38-8l-18 9m38-10l-17 10m36-11l-17 11m37-11l-16 12m35-13l-14 14m34-15l-13 15m32-15l-11 16m29-17l-8 17m27-17l-6 18m25-18l-3 19m22-20l-1 20m20-20l1 20m19-20l2 20m17-20l3 19m17-18l4 19m16-19l4 18m16-18l4 18m16-18l3 18m18-18l3 17m18-17l1 17m19-16l0 17m21-17l-2 16m23-16l-3 16m24-16l-5 15m26-14l-7 14m28-14l-9 13m30-12l-11 12m32-12l-12 11m33-10l-13 11m33-11l-14 10m35-10l-15 10m35-10l-15 9m35-9l-16 9m36-9l-16 9m37-8l-16 9m36-9l-17 9m37-9l-17 9m37-9l-17 8m38-8l-18 8m38-8l-18 8m38-8l-18 8m38-8l-18 7m38-7l-18 7m39-6l-19 7m39-7l-19 6m39-6l-19 6m39-6l-19 6m39-6l-19 5m39-5l-19 5m39-4l-19 5m39-5l-19 4m40-4l-19 4m39-4l-20 4m40-4l-20 4m40-4l-20 4m40-4l-20 3m-1285 17l-20 3m40-3l-20 4m40-4l-20 4m40-4l-19 4m39-4l-19 5m39-5l-19 5m39-6l-19 5m39-5l-19 6m39-6l-19 7m39-8l-19 7m39-7l-18 8m38-8l-18 9m37-10l-17 10m37-11l-16 12m35-13l-15 13m35-13l-13 15m31-16l-10 16m29-17l-7 17m26-17l-4 18m22-19l-1 19m20-19l1 20m18-20l3 20m16-20l5 19m15-18l6 18m14-18l7 18m13-18l7 17m13-16l7 17m13-17l6 17m15-17l5 16m15-16l4 16m17-16l2 16m19-16l0 16m21-16l-2 15m24-14l-4 14m25-14l-7 14m28-13l-9 13m30-13l-11 11m32-10l-12 10m33-10l-13 9m33-8l-14 9m35-9l-15 8m35-8l-16 8m36-8l-16 8m37-8l-16 8m36-8l-17 8m37-8l-17 7m37-7l-17 7m38-7l-18 7m38-6l-18 7m38-7l-18 7m38-7l-18 7m38-7l-19 6m39-6l-19 6m40-6l-19 6m39-6l-19 5m39-5l-19 5m39-4l-19 5m39-5l-19 4m39-4l-19 4m39-4l-19 4m40-4l-20 4m40-4l-20 4m40-4l-20 3m40-3l-20 3m40-2l-20 3m40-3l-20 3m-1285 17l-20 3m40-3l-20 3m40-4l-20 3m40-3l-20 4m40-4l-20 4m40-4l-20 4m40-4l-19 5m39-5l-19 5m39-6l-19 6m39-6l-19 6m39-6l-19 7m39-8l-18 8m38-8l-18 9m37-10l-17 11m37-12l-15 12m34-13l-13 14m31-15l-10 16m29-16l-6 17m24-18l-3 18m21-19l1 19m18-19l4 19m14-18l7 19m13-19l8 18m11-17l9 17m11-17l10 16m10-16l10 16m10-15l9 15m12-15l9 15m11-15l8 15m13-15l6 15m15-15l5 15m16-15l2 14m20-14l0 14m21-14l-3 14m25-13l-6 13m27-13l-8 12m29-11l-10 10m31-9l-12 9m33-9l-13 8m33-8l-14 8m35-7l-15 7m35-7l-16 7m37-7l-16 7m36-7l-17 6m37-6l-17 6m37-6l-18 6m39-6l-18 6m38-6l-18 6m38-6l-18 6m38-6l-18 6m38-6l-19 5m39-4l-19 5m40-5l-19 5m39-5l-19 5m39-5l-19 4m39-4l-19 4m39-4l-19 4m39-4l-19 4m39-4l-20 3m41-3l-20 3m40-2l-20 3m40-3l-20 3m40-3l-20 3m40-3l-20 3m40-3l-20 2m40-2l-20 2m-1285 18l-20 2m40-2l-20 2m40-2l-20 3m40-3l-20 3m40-3l-20 3m40-3l-20 3m40-4l-20 4m40-4l-20 4m40-4l-19 4m39-4l-19 5m39-6l-19 6m39-6l-19 7m39-8l-18 8m38-8l-17 9m36-10l-16 11m35-12l-14 13m32-15l-10 15m28-15l-6 17m24-18l-1 18m19-18l4 19m14-19l8 18m11-17l10 17m9-17l12 16m8-15l13 15m7-15l13 14m7-13l13 13m7-13l12 13m8-13l11 13m10-13l10 12m11-12l9 13m12-13l7 13m14-13l5 13m17-13l2 13m19-13l-2 12m24-12l-5 12m27-11l-8 10m29-9l-10 9m31-9l-12 8m33-7l-14 7m34-7l-15 6m36-6l-15 6m35-6l-16 5m37-4l-17 5m37-5l-17 5m37-5l-18 5m39-5l-18 5m38-5l-18 5m38-5l-18 5m38-5l-19 5m39-5l-19 4m39-4l-19 4m40-4l-19 4m39-4l-19 4m39-4l-19 4m39-4l-19 4m39-3l-19 3m39-3l-20 3m40-3l-20 3m40-3l-20 3m41-3l-20 3m40-3l-20 2m40-2l-20 2m40-2l-20 2m40-2l-20 2m40-2l-20 2m40-2l-20 2m-1285 18l-20 2m40-2l-20 2m40-2l-20 2m40-2l-20 2m40-2l-20 2m40-2l-20 2m40-2l-20 3m40-3l-20 3m40-3l-20 3m41-4l-20 4m40-4l-19 4m39-4l-19 5m38-6l-19 6m39-6l-18 7m38-8l-17 9m36-10l-15 12m33-14l-12 14m29-15l-6 17m23-18l1 18m16-18l8 18m10-17l12 16m7-15l14 14m5-13l15 12m5-11l15 11m5-11l15 11m5-11l15 10m6-10l15 10m5-9l14 10m7-10l13 10m8-11l11 10m10-10l9 10m12-10l7 10m15-10l4 11m18-11l0 11m22-11l-5 10m27-9l-8 8m29-7l-10 7m31-7l-12 6m33-5l-14 5m34-5l-15 5m36-5l-16 4m36-4l-16 4m37-4l-17 4m37-4l-17 4m37-3l-18 4m39-4l-18 3m38-3l-18 3m38-3l-19 3m39-3l-19 3m39-3l-19 3m40-3l-19 3m39-3l-19 3m39-3l-19 3m39-3l-19 3m39-3l-20 2m40-2l-20 2m40-2l-20 2m40-2l-20 2m41-2l-20 2m40-2l-20 2m40-2l-20 2m40-2l-20 2m40-1l-20 2m40-2l-20 1m-1145 19l-20 1m40-1l-20 2m41-2l-20 2m40-3l-20 2m40-2l-20 2m40-2l-20 3m40-3l-20 3m40-3l-20 4m40-5l-19 5m38-6l-19 6m39-7l-17 8m35-9l-14 12m31-15l-7 16m21-16l5 17m11-16l13 14m5-12l17 11m3-10l18 9m2-9l18 8m2-7l18 7m2-7l17 6m4-6l17 6m3-6l16 6m4-6l15 6m6-6l14 6m7-6l13 6m8-6l11 6m10-6l9 7m13-8l6 8m16-8l1 8m22-7l-5 7m27-6l-8 6m29-6l-11 4m32-3l-12 4m33-4l-14 3m35-3l-15 3m35-3l-16 2m36-2l-16 2m37-2l-17 2m37-2l-17 2m37-2l-18 2m39-2l-18 2m38-2l-19 2m39-2l-19 2m39-2l-19 2m39-2l-19 2m40-2l-19 2m39-1l-19 2m39-2l-19 2m39-2l-20 2m40-2l-20 1m-783 19l-19 2m39-3l-19 3m38-4l-18 4m36-7l-13 11m19-11l15 10m3-7l19 5m1-4l20 3m0-3l20 3m0-3l19 2m1-2l19 2m2-1l18 2m2-2l18 2m3-2l17 2m3-2l16 2m5-2l15 2m5-2l14 2m7-2l13 2m8-3l11 2m11-2l8 3m14-4l3 5m22-4l-6 3m27-2l-9 2m30-2l-11 1m32-1l-13 1m34-1l-14 1m35-1l-15 1m35-1l-16 1m37-1l-16 1m36-1l-17 1m37-1l-18 1m-603 20l-20-2m40 3l-20-2m40 2l-19-3m38 4l-19-4m39 5l-17-7m34 11l-10-14m19 14l12-14m5 11l18-8m1 6l19-6m1 6l19-4m1 3l19-4m1 4l19-3m2 3l18-3m2 3l18-3m3 3l17-3m3 3l16-3m5 3l15-3m5 3l14-3m7 3l12-3m9 3l10-3m12 4l8-4m15 4l2-6m21 6l-5-4m27 3l-9-3m30 3l-11-2m32 1l-13-2m34 2l-14-1m35 1l-15-1m35 1l-16-1m37 1l-16-1m36 1l-17-1m37 1l-18-1m-764 21l-20-2m40 2l-20-2m40 3l-20-2m40 2l-20-2m41 2l-20-2m40 2l-20-3m40 3l-20-3m40 3l-20-4m40 5l-19-4m39 4l-19-5m38 6l-18-7m38 8l-17-9m35 11l-13-12m29 14l-6-16m21 17l4-18m13 16l12-15m6 14l15-13m4 12l17-11m3 10l17-9m3 9l17-8m3 7l17-8m4 8l17-7m3 7l16-7m5 7l15-7m5 7l14-7m7 7l13-7m8 7l11-7m10 8l9-8m13 8l5-9m17 9l1-9m22 9l-5-8m27 7l-8-6m29 5l-11-5m32 5l-12-4m33 3l-14-4m35 4l-15-3m35 3l-16-3m36 3l-16-3m37 3l-17-3m37 3l-17-2m37 2l-18-2m39 2l-18-2m38 2l-19-2m39 2l-19-2m39 2l-19-2m39 2l-19-2m40 2l-19-2m39 2l-19-2m39 2l-19-2m39 2l-20-2m40 1l-20-2m40 2l-20-2m40 2l-20-2m40 2l-20-1m-1124 22l-20-2m40 2l-20-2m40 2l-20-2m40 2l-20-2m40 2l-20-2m40 2l-20-3m40 3l-20-3m40 3l-20-3m40 3l-20-4m40 5l-20-4m40 4l-19-5m39 5l-19-5m39 6l-19-6m39 7l-18-8m38 9l-17-10m36 11l-15-12m33 13l-11-15m28 16l-6-17m23 18l1-18m16 18l7-18m11 17l11-17m8 16l13-15m7 14l14-13m5 13l15-12m6 11l15-11m5 11l15-11m5 11l14-10m7 10l13-10m7 10l12-10m9 10l11-10m10 10l9-11m12 11l6-11m16 11l3-11m19 11l-1-11m23 11l-5-10m27 9l-8-9m29 8l-10-8m31 8l-12-6m33 5l-14-6m34 6l-15-5m36 5l-16-5m36 5l-16-4m37 4l-17-4m37 4l-17-4m37 4l-18-4m39 4l-18-4m38 4l-18-4m38 3l-19-4m39 4l-19-4m39 4l-19-3m40 3l-19-3m39 3l-19-3m39 3l-19-3m39 3l-19-3m39 3l-20-3m40 3l-20-3m40 3l-20-2m40 2l-20-2m40 2l-20-2m41 2l-20-2m40 2l-20-2m40 2l-20-2m40 2l-20-2m40 1l-20-2m40 2l-20-1m40 1l-20-1m-1285 22l-20-2m40 2l-20-3m40 3l-20-3m40 3l-20-3m40 3l-20-3m40 4l-20-4m40 4l-20-4m40 4l-19-4m39 4l-19-5m39 5l-19-5m39 6l-19-6m39 6l-19-7m39 8l-18-8m38 9l-17-10m36 11l-16-12m35 13l-14-14m32 15l-10-16m28 16l-6-17m24 18l-1-18m19 18l3-19m15 19l7-19m12 19l9-18m10 17l11-16m9 15l12-15m8 15l12-14m8 14l12-14m8 13l12-13m9 13l11-13m9 13l10-13m11 13l8-13m13 13l6-13m15 13l4-13m18 13l1-13m21 13l-2-13m23 13l-5-12m27 11l-8-11m29 10l-10-9m31 9l-12-8m33 7l-13-7m33 7l-15-7m36 7l-15-6m35 6l-16-6m37 6l-17-6m37 5l-17-5m37 5l-17-5m38 5l-18-5m38 5l-18-5m38 5l-18-5m38 5l-19-5m39 5l-19-5m39 5l-19-5m40 5l-19-4m39 4l-19-4m39 4l-19-4m39 4l-19-4m39 4l-19-4m39 3l-20-3m40 3l-20-3m40 3l-20-3m41 3l-20-3m40 3l-20-3m40 3l-20-2m40 2l-20-2m40 2l-20-2m40 2l-20-2m40 2l-20-2m-1285 22l-20-3m40 3l-20-3m40 4l-20-3m40 3l-20-4m40 4l-20-4m40 4l-19-4m39 4l-19-5m39 5l-19-5m39 6l-19-6m39 6l-19-6m39 6l-19-7m39 8l-18-8m38 9l-17-9m36 9l-16-11m36 12l-15-13m34 14l-13-14m31 15l-10-16m29 16l-7-17m25 18l-3-18m21 18l0-19m19 20l3-20m16 19l6-19m13 19l8-18m12 18l9-17m10 16l9-17m11 17l9-16m12 16l9-16m11 16l8-15m13 14l7-15m13 15l6-15m15 15l4-15m18 15l2-15m19 15l-1-14m22 14l-3-14m25 13l-6-13m27 13l-8-12m29 11l-10-11m31 11l-12-9m33 8l-13-9m33 9l-14-8m35 8l-15-8m35 7l-16-7m37 7l-16-7m36 7l-17-7m37 7l-17-7m37 7l-17-7m38 7l-18-6m38 6l-18-6m38 6l-18-6m38 6l-18-6m38 6l-19-6m39 6l-19-5m40 4l-19-5m39 5l-19-5m39 5l-19-5m39 5l-19-4m39 4l-19-4m39 4l-19-4m39 4l-19-4m39 4l-20-3m41 2l-20-3m40 3l-20-3m40 3l-20-3m40 3l-20-3m40 3l-20-3m40 3l-20-2m-1285 23l-20-4m40 4l-20-4m40 4l-20-4m40 4l-19-4m39 4l-19-5m39 6l-19-5m39 5l-19-6m39 6l-19-6m39 6l-19-7m39 8l-18-7m38 7l-18-8m38 9l-18-9m37 9l-17-10m37 11l-16-12m35 13l-15-13m35 13l-13-15m31 16l-10-16m29 17l-7-17m26 17l-5-18m24 18l-2-19m20 20l1-20m18 20l3-20m17 20l4-19m15 18l5-19m15 19l6-18m14 18l6-18m14 18l6-17m14 16l5-17m16 17l4-17m17 17l3-16m18 16l2-16m19 16l0-16m21 16l-2-15m23 14l-5-15m26 15l-7-14m28 13l-9-13m30 13l-11-12m32 11l-12-11m33 11l-13-10m33 10l-14-9m35 8l-15-9m35 9l-15-8m35 8l-16-8m37 8l-16-8m36 8l-17-8m37 8l-17-8m37 8l-17-8m38 8l-18-7m38 7l-18-7m38 6l-18-7m38 7l-18-7m38 7l-18-7m38 7l-19-6m40 6l-19-6m39 6l-19-6m39 6l-19-5m39 4l-19-5m39 5l-19-5m39 5l-19-4m39 4l-19-4m40 4l-19-4m39 4l-20-4m40 4l-20-3m40 3l-20-3m40 2l-20-3m40 3l-20-3m-1285 24l-20-4m40 4l-19-4m39 4l-19-5m39 6l-19-5m39 5l-19-6m39 6l-19-6m39 6l-19-6m39 6l-19-7m39 8l-18-8m38 8l-18-8m38 9l-18-9m37 9l-17-10m37 11l-16-11m36 11l-15-12m34 13l-14-14m34 14l-13-15m32 16l-11-16m30 17l-8-17m26 17l-6-18m25 18l-4-19m24 20l-2-20m21 20l0-20m19 20l1-20m19 20l2-19m17 19l3-19m17 18l3-19m17 19l3-18m18 18l3-18m17 18l2-18m19 18l1-17m20 16l0-17m21 17l-2-16m22 16l-4-16m26 16l-6-15m27 14l-8-14m29 14l-9-13m29 12l-11-12m32 12l-12-11m33 10l-13-11m33 11l-14-10m34 10l-15-10m36 10l-15-10m35 10l-16-9m36 9l-16-9m37 9l-16-9m36 8l-17-9m37 9l-17-9m37 9l-17-9m38 9l-17-8m37 8l-18-8m38 8l-18-8m38 8l-18-8m38 8l-18-7m38 6l-18-7m39 7l-19-7m39 7l-19-6m39 6l-19-6m39 6l-19-5m39 5l-19-5m39 4l-19-5m39 5l-19-5m40 5l-19-4m39 4l-19-4m39 4l-20-4m40 4l-20-4m40 4l-20-3m-1285 23l-19-5m39 6l-19-5m39 5l-19-5m39 5l-19-6m39 6l-19-6m39 6l-19-7m39 8l-19-7m39 7l-18-8m38 8l-18-8m38 9l-18-9m37 9l-17-10m37 10l-17-11m37 12l-16-12m36 12l-15-13m34 14l-14-14m34 15l-13-15m32 15l-11-16m30 17l-9-17m28 17l-7-18m26 18l-5-19m25 20l-4-19m23 19l-2-20m21 20l-1-20m21 20l0-20m20 20l0-19m20 19l1-19m19 18l1-19m19 19l0-18m20 18l0-18m21 18l-1-18m22 18l-2-17m22 16l-4-17m25 17l-5-16m26 16l-7-15m28 14l-9-15m30 15l-10-14m31 14l-11-13m31 12l-12-12m33 12l-13-12m33 12l-14-11m34 11l-14-11m35 10l-15-11m35 11l-15-11m35 11l-15-10m35 10l-16-10m37 10l-16-10m36 10l-16-10m36 10l-17-10m37 10l-17-9m38 9l-17-9m37 9l-17-9m37 8l-18-9m38 9l-18-8m38 8l-18-8m38 8l-18-7m39 7l-19-7m39 6l-19-6m39 6l-19-6m39 6l-19-6m39 6l-19-5m39 5l-19-5m40 5l-19-5m39 4l-19-5m39 5l-19-4m39 4l-19-4m39 4l-20-4m-1285 25l-19-5m39 5l-19-6m39 6l-19-6m39 6l-19-6m39 7l-19-7m39 7l-19-7m39 7l-18-8m38 8l-18-8m38 9l-18-9m37 9l-18-9m38 9l-17-10m37 11l-17-11m37 11l-16-12m36 13l-15-13m34 13l-14-14m34 15l-13-15m32 15l-11-16m30 17l-10-17m30 17l-8-17m27 17l-7-18m26 19l-6-19m26 19l-4-19m23 19l-3-20m23 20l-2-20m22 20l-2-20m22 20l-2-19m22 19l-2-19m22 18l-2-19m22 19l-3-18m24 18l-3-18m24 18l-4-17m24 17l-5-17m26 16l-7-16m28 16l-8-16m28 16l-9-15m30 14l-11-14m32 14l-11-13m31 13l-12-13m32 12l-13-12m34 12l-13-12m33 12l-14-12m34 12l-14-12m35 12l-15-12m35 12l-15-11m35 11l-15-11m35 11l-16-11m37 11l-16-11m36 11l-16-11m36 10l-16-10m36 10l-17-10m37 10l-17-10m38 10l-17-9m37 9l-18-9m38 8l-18-9m38 9l-18-8m39 8l-18-8m38 8l-18-7m38 7l-19-7m39 6l-19-6m39 6l-19-6m39 6l-19-6m39 6l-19-5m40 5l-19-5m39 5l-19-5m39 4l-19-5m39 5l-19-4m-1286 25l-19-6m39 6l-19-6m39 6l-19-6m39 7l-19-7m39 7l-19-7m39 7l-18-8m38 8l-18-8m38 9l-18-9m37 9l-18-9m38 9l-17-10m37 11l-17-11m37 11l-16-11m36 11l-16-12m35 13l-15-13m35 13l-14-14m34 15l-13-15m32 15l-12-16m32 16l-11-16m30 17l-9-17m29 17l-8-18m27 18l-7-18m27 19l-6-19m25 19l-5-19m25 19l-5-19m25 19l-4-19m24 19l-4-19m24 19l-4-19m24 19l-4-19m24 18l-4-18m25 18l-5-18m25 18l-6-17m27 17l-7-17m28 16l-8-16m28 16l-9-16m30 16l-10-15m30 14l-11-14m32 14l-12-14m32 14l-12-14m32 14l-13-13m34 13l-13-13m33 13l-13-13m33 13l-14-13m34 13l-14-13m35 12l-14-12m34 12l-15-12m35 12l-15-12m35 12l-15-12m36 12l-16-12m36 12l-16-11m36 11l-16-11m36 11l-16-11m36 10l-17-10m38 10l-17-10m37 10l-17-9m37 9l-18-9m38 8l-18-8m39 8l-18-8m38 8l-18-7m38 7l-19-7m39 7l-19-7m39 6l-19-6m39 6l-19-6m40 6l-19-6m39 6l-19-5m39 5l-19-5m39 5l-19-5m-1286 25l-19-6m39 7l-19-6m39 6l-19-7m39 7l-19-7m39 7l-18-8m38 8l-18-8m37 9l-18-9m38 9l-18-9m38 9l-17-10m37 10l-17-10m37 11l-17-11m37 11l-16-12m36 13l-16-12m35 12l-15-13m35 13l-14-14m34 15l-13-15m32 15l-12-15m32 15l-11-16m31 17l-10-17m29 17l-9-17m29 17l-8-18m27 19l-8-18m28 18l-7-19m27 19l-6-19m26 19l-6-19m26 19l-6-19m26 19l-6-19m26 18l-6-18m26 18l-6-18m27 18l-7-18m27 18l-7-17m28 17l-8-17m28 16l-9-16m30 16l-10-16m30 16l-10-15m30 15l-11-15m32 15l-12-14m32 13l-12-14m32 14l-12-14m32 14l-13-14m34 14l-13-14m33 14l-13-14m33 14l-14-13m34 13l-14-13m35 13l-14-13m34 13l-14-13m34 13l-15-13m35 13l-15-12m36 11l-15-12m35 12l-16-12m36 12l-16-11m36 11l-16-11m37 11l-17-11m37 10l-17-10m37 10l-17-9m37 9l-18-9m38 9l-18-8m39 7l-18-8m38 8l-18-8m38 8l-19-7m39 7l-19-7m39 7l-19-6m39 5l-19-6m40 6l-19-6m39 6l-19-6m39 6l-19-5m-1287 26l-19-6m39 6l-19-7m39 7l-19-7m39 7l-18-8m38 8l-18-8m38 9l-18-8m38 8l-18-9m38 9l-18-9m38 9l-17-10m37 11l-17-11m37 11l-16-11m36 11l-16-12m36 13l-15-13m34 13l-15-13m35 13l-14-14m34 15l-13-15m33 15l-13-15m32 15l-12-16m32 17l-11-16m31 16l-10-17m29 17l-9-17m29 17l-9-18m29 18l-8-18m28 19l-8-18m28 18l-7-18m27 18l-7-18m27 18l-7-18m27 17l-7-18m27 18l-8-18m28 18l-8-17m29 17l-9-17m29 17l-9-17m29 16l-10-16m31 16l-10-16m30 16l-11-15m31 15l-11-15m32 15l-11-15m31 15l-12-15m32 15l-12-15m32 15l-12-15m32 15l-12-14m33 14l-13-14m33 14l-13-14m33 13l-13-14m33 14l-13-14m33 14l-14-14m35 14l-14-13m34 13l-14-13m34 13l-15-13m35 13l-15-13m36 12l-16-12m36 12l-16-12m36 12l-16-11m37 11l-17-11m37 10l-17-10m37 10l-17-9m37 9l-18-9m39 9l-18-8m38 7l-18-8m38 8l-18-8m38 8l-19-7m39 7l-19-7m39 7l-19-7m39 7l-19-6m40 5l-19-6m39 6l-19-6m-1287 27l-19-7m39 7l-19-7m39 7l-18-7m38 7l-18-8m38 9l-18-8m38 8l-18-9m38 9l-18-9m38 9l-17-10m37 11l-17-10m37 10l-17-11m37 11l-16-11m36 11l-16-12m36 13l-15-13m34 13l-15-13m35 13l-14-14m34 15l-13-14m33 14l-13-15m32 15l-12-16m32 17l-11-16m31 16l-11-17m31 17l-10-17m30 17l-10-17m29 17l-9-18m29 18l-9-18m29 18l-9-18m29 18l-9-18m29 18l-9-18m29 18l-9-18m30 18l-9-17m29 17l-9-17m29 17l-9-17m29 17l-10-17m31 17l-10-16m30 15l-10-16m30 16l-11-16m31 16l-11-16m31 16l-11-15m32 15l-11-15m31 15l-11-15m31 15l-12-15m32 15l-12-15m32 15l-12-15m33 15l-12-15m32 15l-13-15m33 15l-13-15m33 15l-13-14m33 14l-13-14m34 13l-14-14m34 14l-14-14m34 14l-15-13m36 13l-15-13m35 13l-16-12m36 11l-16-12m36 12l-16-11m37 11l-17-10m37 9l-17-10m37 10l-17-9m37 9l-18-9m39 9l-18-9m38 9l-18-8m38 7l-18-8m38 8l-19-7m39 7l-19-7m39 7l-19-7m40 7l-19-6m39 6l-19-6m-1287 26l-19-7m39 7l-19-7m39 7l-18-8m38 9l-18-8m38 8l-18-9m38 9l-18-9m38 9l-18-10m38 11l-17-10m37 10l-17-11m37 11l-17-11m37 11l-16-12m36 13l-16-12m36 12l-15-13m34 13l-15-13m35 13l-14-14m34 15l-14-14m34 14l-13-15m33 15l-12-15m31 15l-12-16m32 17l-11-16m31 16l-11-17m31 17l-10-17m30 17l-10-17m30 17l-10-17m30 17l-10-18m30 18l-9-18m29 18l-9-17m29 17l-9-17m29 17l-9-17m29 17l-10-17m30 17l-10-17m30 17l-10-17m31 17l-10-16m30 16l-10-16m30 16l-10-16m30 16l-11-16m31 16l-11-16m31 16l-11-16m31 16l-11-16m32 15l-11-16m31 16l-11-16m31 16l-11-16m31 16l-12-16m32 16l-12-15m33 15l-12-15m32 15l-13-15m33 15l-13-15m33 15l-13-14m34 14l-14-14m34 13l-14-14m34 14l-15-13m36 13l-15-13m35 13l-16-12m36 11l-16-12m37 12l-17-11m37 11l-17-10m37 10l-17-10m37 9l-18-9m39 9l-18-9m38 9l-18-9m38 9l-18-8m38 7l-18-8m38 8l-18-7m38 7l-19-7m39 7l-19-7m40 7l-19-6m-1287 26l-19-7m39 7l-18-8m38 9l-18-8m38 8l-18-8m38 8l-18-9m38 9l-18-9m38 10l-17-10m37 10l-17-10m37 10l-17-11m37 11l-17-11m37 11l-16-12m36 13l-16-12m36 12l-15-13m34 13l-15-13m35 13l-14-14m34 15l-14-14m34 14l-13-15m33 15l-13-15m33 15l-12-16m31 17l-12-16m32 16l-11-16m31 16l-11-17m31 17l-11-17m31 17l-10-17m30 17l-10-17m30 17l-10-17m30 17l-10-17m30 17l-10-17m30 17l-10-17m30 17l-10-17m30 17l-10-17m30 17l-10-17m31 17l-10-17m30 17l-10-17m30 17l-10-17m30 17l-10-17m30 17l-10-17m30 17l-10-16m30 16l-10-16m30 16l-10-16m30 16l-11-16m32 16l-11-16m31 16l-11-16m31 16l-11-16m31 16l-12-16m33 15l-12-16m32 16l-12-15m32 15l-13-15m33 15l-13-15m34 15l-14-14m34 13l-14-14m34 14l-15-13m36 13l-15-13m35 13l-16-12m36 11l-16-11m37 11l-17-11m37 11l-17-10m37 10l-17-10m37 9l-18-9m39 9l-18-9m38 9l-18-8m38 8l-18-8m38 8l-18-8m38 7l-18-7m38 7l-19-7m40 7l-19-7m-1287 27l-19-7m39 8l-18-8m38 8l-18-8m38 8l-18-9m38 9l-18-9m38 9l-18-9m38 10l-17-10m37 10l-17-10m37 10l-17-11m37 11l-16-11m36 12l-16-12m36 12l-16-12m36 12l-15-13m34 13l-15-13m35 14l-14-14m34 14l-14-14m34 14l-13-15m33 15l-13-15m33 15l-12-15m31 16l-12-16m32 16l-12-16m32 16l-11-17m31 17l-11-17m31 17l-11-17m31 17l-10-17m30 17l-10-17m30 17l-10-17m30 17l-10-17m30 17l-10-17m30 17l-10-17m30 17l-10-17m30 17l-10-17m30 17l-10-17m31 17l-10-17m30 17l-10-17m30 17l-10-17m30 17l-10-17m30 17l-10-17m30 17l-10-17m30 17l-10-17m30 17l-10-17m30 17l-10-17m31 17l-10-17m30 17l-11-17m31 17l-11-16m31 16l-11-16m32 16l-12-16m32 15l-12-15m32 15l-13-15m34 15l-13-15m33 15l-14-14m34 13l-15-13m36 13l-15-13m35 13l-16-12m36 12l-16-12m37 11l-16-11m36 11l-17-11m37 11l-17-10m37 10l-17-10m38 9l-18-9m38 9l-18-9m38 9l-18-8m38 8l-18-8m38 8l-18-8m38 7l-18-7m39 7l-19-7m-1287 28l-18-8m38 8l-18-8m38 8l-18-8m38 8l-18-9m38 9l-18-9m38 10l-17-10m37 10l-17-10m37 10l-17-10m37 10l-17-11m37 11l-16-11m36 12l-16-12m36 12l-16-12m36 12l-15-13m34 13l-15-13m35 14l-14-14m34 14l-14-14m34 14l-13-14m33 14l-13-15m33 15l-13-15m33 16l-12-16m31 16l-12-16m32 16l-11-16m31 16l-11-17m31 17l-11-17m31 17l-11-17m31 17l-10-17m30 17l-10-17m30 17l-10-17m30 17l-10-17m30 17l-10-17m30 17l-10-17m30 17l-10-17m30 17l-9-17m29 17l-9-17m29 17l-9-17m29 18l-9-17m29 17l-9-17m29 17l-9-17m30 17l-9-17m29 17l-9-17m29 16l-9-17m29 17l-9-17m29 17l-10-17m30 17l-10-17m31 17l-10-17m30 17l-11-16m31 16l-11-16m32 16l-12-16m32 15l-12-15m32 15l-13-15m34 15l-14-14m34 14l-14-14m35 13l-15-13m35 13l-15-13m35 13l-16-12m37 12l-16-11m36 10l-17-11m37 11l-17-10m37 10l-17-10m37 10l-17-10m38 9l-18-9m38 9l-18-9m38 9l-18-8m38 8l-18-8m38 8l-18-8m38 7l-18-7m-1287 28l-18-8m38 8l-18-8m38 8l-18-8m38 8l-18-9m38 10l-18-9m38 9l-17-10m37 10l-17-10m37 10l-17-11m37 11l-17-11m37 12l-16-11m36 11l-16-12m36 12l-16-12m36 12l-15-13m34 13l-15-13m35 14l-14-13m34 13l-14-14m34 14l-14-14m34 14l-13-15m33 16l-13-15m33 15l-12-16m32 16l-12-16m31 16l-11-16m31 16l-11-17m31 17l-11-17m31 17l-11-17m31 17l-10-17m30 17l-10-17m30 18l-10-17m30 17l-10-17m30 17l-9-17m29 17l-9-18m29 18l-9-18m29 18l-9-18m29 18l-9-18m29 18l-9-18m29 18l-8-18m28 18l-8-18m28 18l-8-18m28 18l-8-18m28 18l-8-18m28 18l-9-18m30 18l-9-18m29 18l-9-17m29 17l-10-17m31 16l-10-17m30 17l-10-17m30 17l-11-16m32 16l-12-16m32 16l-12-16m32 15l-13-15m34 15l-14-15m34 15l-14-14m35 14l-15-13m35 12l-15-13m35 13l-16-12m36 12l-16-12m37 11l-16-11m36 11l-17-11m37 11l-17-10m37 10l-17-10m38 10l-18-9m38 8l-18-9m38 9l-18-9m38 9l-18-8m38 8l-18-8m38 8l-18-8m-1287 28l-18-8m38 8l-18-8m38 8l-18-9m38 9l-18-9m38 10l-18-9m38 9l-17-10m37 10l-17-10m37 10l-17-11m37 11l-17-11m37 12l-16-11m36 11l-16-12m36 12l-16-12m36 12l-15-13m35 13l-15-13m34 14l-15-13m35 13l-14-14m34 14l-14-14m34 14l-13-15m33 16l-13-15m33 15l-12-16m32 16l-12-16m31 16l-12-16m32 16l-11-17m31 17l-11-17m31 17l-10-17m30 18l-10-17m30 17l-10-17m30 17l-10-17m30 17l-9-18m29 18l-9-18m29 18l-9-18m29 18l-9-18m29 18l-8-18m28 18l-8-18m28 18l-8-18m28 18l-8-18m28 18l-8-18m28 18l-8-18m28 18l-8-18m28 18l-8-18m28 18l-8-18m28 18l-8-18m29 18l-9-18m29 18l-9-18m29 18l-10-17m31 16l-10-17m30 17l-11-17m31 17l-11-16m32 16l-12-16m32 16l-13-15m34 14l-13-15m33 15l-14-14m34 14l-15-14m36 13l-15-13m35 13l-15-12m35 12l-16-12m37 12l-16-11m36 10l-17-11m37 11l-17-11m37 11l-17-10m37 10l-17-10m38 10l-18-9m38 8l-18-9m38 9l-18-9m38 9l-18-8m38 8l-18-8m-1287 28l-18-8m38 8l-18-8m38 8l-18-9m38 10l-18-9m38 9l-18-9m38 9l-17-10m37 10l-17-10m37 10l-17-11m37 12l-17-11m37 11l-16-11m36 11l-16-12m36 12l-16-12m36 12l-15-13m35 13l-15-13m34 14l-15-13m35 13l-14-14m34 14l-14-14m34 14l-13-15m33 16l-13-15m33 15l-12-16m32 16l-12-16m31 16l-12-16m32 16l-11-17m31 17l-11-17m31 18l-10-17m30 17l-10-17m30 17l-10-17m30 17l-9-18m29 18l-9-18m29 18l-9-18m29 18l-8-18m28 18l-8-18m27 18l-8-18m28 18l-8-18m28 18l-7-18m27 18l-7-18m27 18l-7-18m27 18l-7-18m28 18l-7-18m27 18l-7-18m27 18l-8-18m28 18l-8-18m29 18l-8-18m28 18l-9-18m29 18l-9-18m30 18l-10-17m30 16l-11-17m31 17l-11-16m32 16l-12-16m32 16l-13-15m34 14l-13-15m33 15l-14-14m34 14l-14-14m35 14l-15-13m35 12l-15-13m35 13l-16-12m37 12l-16-12m36 12l-16-11m36 10l-17-11m37 11l-17-10m37 10l-17-10m38 10l-17-10m37 10l-18-9m38 8l-18-9m38 9l-18-8m38 8l-18-8m-1287 28l-18-8m38 8l-18-8m38 8l-18-9m38 10l-18-9m38 9l-18-9m38 9l-17-10m37 10l-17-10m37 10l-17-11m37 12l-17-11m37 11l-16-11m36 11l-16-12m36 12l-16-12m36 12l-15-12m35 13l-15-13m34 13l-15-13m35 13l-14-14m34 14l-14-14m34 14l-13-15m33 16l-13-15m33 15l-12-15m32 15l-12-16m31 16l-12-16m32 16l-11-17m31 18l-11-17m31 17l-10-17m30 17l-10-17m30 17l-9-18m29 18l-9-18m29 18l-9-18m28 18l-8-18m28 18l-8-18m28 18l-8-18m28 18l-7-18m27 18l-7-19m27 19l-7-19m27 19l-7-19m27 19l-7-19m27 19l-7-19m27 19l-7-19m28 19l-7-19m27 19l-7-19m27 19l-8-18m28 18l-8-18m29 18l-9-18m29 18l-9-18m29 18l-10-17m31 17l-10-17m30 16l-11-16m32 16l-12-16m32 16l-13-15m34 15l-13-15m33 14l-14-14m34 14l-14-14m35 14l-15-13m35 13l-15-13m35 12l-16-12m36 12l-16-12m37 12l-16-11m36 11l-17-11m37 10l-17-11m37 11l-17-10m38 10l-17-10m37 10l-18-9m38 9l-18-9m38 8l-18-9m38 9l-18-8m-1287 28l-18-8m38 8l-18-8m38 9l-18-9m38 9l-18-9m38 9l-18-9m38 9l-17-10m37 10l-17-10m37 10l-17-11m37 12l-17-11m37 11l-16-11m36 11l-16-12m36 12l-16-12m36 12l-16-12m36 13l-15-13m35 13l-15-13m34 13l-14-14m34 14l-14-14m34 14l-13-14m33 15l-13-15m33 15l-13-15m33 15l-12-16m31 16l-12-16m32 17l-11-17m31 17l-11-17m31 17l-10-17m30 17l-10-17m30 17l-9-18m29 18l-9-18m28 18l-8-18m28 18l-8-18m28 18l-8-18m28 18l-7-19m27 20l-7-19m27 19l-7-19m27 19l-6-19m26 19l-6-19m26 19l-6-19m26 19l-6-19m26 19l-6-19m26 19l-6-19m27 19l-7-19m27 18l-7-18m27 18l-8-18m29 18l-8-18m28 18l-9-18m29 18l-10-17m31 17l-10-17m30 16l-11-16m32 16l-12-16m32 16l-13-15m34 15l-13-15m33 14l-14-14m34 14l-14-14m35 14l-15-13m35 13l-15-13m35 12l-16-12m36 12l-16-12m37 12l-16-12m36 12l-16-11m36 11l-17-11m37 10l-17-10m38 10l-17-10m37 10l-17-10m37 10l-18-9m38 9l-18-9m38 8l-18-9m-1287 29l-18-8m38 8l-18-8m38 9l-18-9m38 9l-18-9m38 9l-18-9m38 9l-17-10m37 10l-17-10m37 11l-17-11m37 11l-17-11m37 11l-16-11m36 11l-16-12m36 12l-16-12m36 12l-16-12m36 13l-15-13m35 13l-15-13m34 13l-14-13m34 13l-14-14m34 14l-14-14m34 15l-13-15m33 15l-13-15m33 15l-12-16m31 16l-12-16m32 17l-11-17m31 17l-11-17m31 17l-10-17m30 17l-10-18m30 18l-9-18m28 18l-9-18m29 18l-8-18m28 18l-8-18m28 19l-7-19m27 19l-7-19m27 19l-7-19m27 19l-6-19m26 19l-6-19m26 19l-6-19m26 19l-6-19m26 19l-6-19m26 19l-6-19m26 19l-6-19m27 19l-7-19m27 19l-7-19m27 18l-8-18m29 18l-8-18m28 18l-9-18m30 18l-10-17m30 17l-11-17m31 16l-11-16m32 16l-12-16m32 16l-13-15m34 15l-13-15m33 15l-14-14m34 13l-14-14m35 14l-15-14m35 14l-15-13m35 13l-15-13m35 12l-16-12m37 12l-16-12m36 12l-16-11m36 11l-17-11m37 11l-17-11m37 10l-17-10m38 10l-17-10m37 10l-18-9m38 9l-18-9m38 9l-18-9m-1287 28l-18-8m38 9l-18-8m38 8l-18-9m38 9l-18-9m38 9l-18-9m38 9l-17-10m37 10l-17-10m37 11l-17-10m37 10l-17-11m37 11l-17-11m37 11l-16-11m36 11l-16-12m36 12l-16-12m36 13l-15-12m35 12l-15-13m34 13l-15-13m35 13l-14-14m34 15l-14-14m34 14l-13-15m33 15l-13-15m33 15l-12-16m32 16l-12-16m31 17l-11-17m31 17l-11-17m31 17l-10-17m30 17l-9-18m29 18l-9-18m28 18l-8-18m28 19l-8-18m28 18l-7-19m27 19l-7-19m27 19l-7-19m27 19l-6-19m26 19l-6-19m26 19l-6-19m26 19l-6-19m26 19l-6-19m26 19l-6-19m26 19l-6-19m26 19l-6-19m27 19l-7-19m27 19l-7-19m27 19l-8-18m29 17l-9-18m29 18l-9-18m30 18l-10-17m30 17l-11-17m31 17l-11-16m32 15l-12-16m32 16l-13-15m34 15l-13-15m33 15l-14-14m34 13l-14-14m35 14l-15-14m35 14l-15-13m35 13l-15-13m35 12l-16-12m37 12l-16-12m36 12l-16-11m36 11l-17-11m37 11l-17-11m37 11l-17-10m38 9l-17-10m37 10l-17-10m37 10l-18-9m38 9l-18-9m-1287 28l-18-8m38 9l-18-8m38 8l-18-9m38 9l-18-9m38 9l-18-9m38 9l-17-10m37 10l-17-10m37 11l-17-10m37 10l-17-11m37 11l-17-11m37 11l-16-11m36 11l-16-12m36 12l-16-12m36 13l-16-12m36 12l-15-13m35 13l-15-13m34 13l-14-14m34 15l-14-14m34 14l-13-15m33 15l-13-15m33 15l-12-16m32 16l-12-16m31 17l-11-17m31 17l-11-17m31 17l-10-17m30 17l-9-18m29 18l-9-18m28 19l-8-18m28 18l-8-18m28 18l-7-19m27 19l-7-19m27 19l-6-19m26 19l-6-19m26 19l-6-19m26 19l-6-19m26 19l-6-19m26 19l-6-19m26 19l-6-19m26 19l-6-19m26 19l-6-19m27 19l-7-19m27 19l-7-18m27 18l-8-18m29 17l-9-18m29 18l-10-17m31 17l-10-17m30 17l-11-17m32 17l-11-16m31 15l-12-16m32 16l-13-15m34 15l-13-15m33 15l-14-15m34 14l-14-14m35 14l-15-14m35 14l-15-13m35 13l-15-13m35 13l-16-12m37 11l-16-12m36 12l-16-12m36 12l-17-11m37 11l-17-11m37 11l-17-10m38 9l-17-10m37 10l-17-10m37 10l-18-9m38 9l-18-9m-1287 29l-18-8m38 8l-18-8m38 8l-18-9m38 9l-18-9m38 9l-18-9m38 9l-18-10m38 10l-17-10m37 11l-17-10m37 10l-17-10m37 10l-17-11m37 11l-17-11m37 11l-16-11m36 11l-16-12m36 13l-16-12m36 12l-15-13m35 13l-15-13m35 13l-14-13m33 14l-14-14m34 14l-14-14m34 14l-13-15m33 15l-12-16m32 17l-12-16m31 16l-11-16m31 16l-11-17m31 17l-10-17m30 17l-9-18m29 18l-9-18m28 19l-8-18m28 18l-8-18m28 18l-7-19m27 19l-7-19m27 19l-6-19m26 19l-6-19m26 19l-6-19m26 19l-6-19m26 19l-6-19m26 19l-6-19m26 19l-6-19m26 19l-6-19m26 19l-6-19m27 19l-7-19m27 19l-8-18m29 18l-8-18m28 17l-9-18m29 18l-10-17m31 17l-10-17m30 17l-11-17m32 17l-12-16m32 15l-12-16m32 16l-13-15m34 15l-13-15m33 15l-14-14m34 14l-14-14m34 13l-15-14m36 14l-15-13m35 13l-15-13m35 13l-16-12m37 12l-16-12m36 11l-16-12m36 12l-16-11m36 11l-17-11m37 11l-17-11m38 11l-17-10m37 9l-17-10m37 10l-17-10m37 10l-18-9m-1287 29l-18-8m38 8l-18-8m38 8l-18-9m38 9l-18-9m38 9l-18-9m38 9l-18-9m38 9l-17-10m37 11l-17-10m37 10l-17-10m37 10l-17-11m37 11l-17-11m37 11l-16-11m36 11l-16-12m36 13l-16-12m36 12l-16-12m36 12l-15-13m35 13l-15-13m34 13l-14-14m34 15l-14-14m34 14l-13-15m33 15l-13-15m33 16l-12-16m32 16l-11-16m30 16l-11-17m31 17l-10-17m30 17l-10-18m30 19l-9-18m28 18l-8-18m28 18l-8-18m28 18l-7-19m27 19l-7-19m27 19l-7-19m27 19l-6-19m26 19l-6-19m26 19l-6-19m26 19l-6-19m26 19l-6-19m26 19l-6-19m26 19l-6-19m27 19l-7-19m27 19l-8-18m28 18l-8-18m29 18l-9-18m29 17l-9-18m30 18l-10-17m30 17l-11-17m31 17l-11-16m32 16l-12-16m32 15l-12-16m32 16l-13-15m34 15l-13-15m33 15l-14-14m34 14l-14-14m34 13l-15-14m36 14l-15-13m35 13l-15-13m35 13l-16-12m36 12l-16-12m37 11l-16-12m36 12l-16-11m36 11l-17-11m37 11l-17-11m37 11l-17-10m38 10l-17-10m37 9l-17-10m37 10l-18-9m-1287 29l-18-8m38 8l-18-8m38 8l-18-8m38 8l-18-9m38 9l-18-9m38 9l-18-9m38 9l-17-10m37 11l-17-10m37 10l-17-10m37 10l-17-10m37 10l-17-11m37 11l-17-11m37 11l-16-11m36 12l-16-12m36 12l-16-12m36 12l-15-13m35 13l-15-13m35 13l-14-14m33 15l-14-14m34 14l-13-15m33 15l-13-15m33 16l-12-16m32 16l-12-16m31 16l-11-17m31 17l-11-17m31 17l-10-17m30 18l-9-18m29 18l-9-18m28 18l-8-18m28 18l-8-18m28 18l-7-19m27 19l-7-19m27 19l-7-19m27 19l-6-19m26 19l-6-19m26 19l-6-19m26 19l-6-19m26 19l-7-19m28 19l-7-19m27 19l-7-18m27 18l-8-18m29 18l-9-18m29 18l-9-18m29 17l-10-17m31 17l-10-17m30 17l-11-17m31 17l-11-16m32 16l-12-16m32 15l-12-16m32 16l-13-15m34 15l-13-15m33 15l-14-14m34 14l-14-14m34 14l-15-14m36 13l-15-13m35 13l-15-13m35 13l-16-12m36 12l-16-12m37 12l-16-12m36 11l-16-11m36 11l-17-11m37 11l-17-11m37 11l-17-10m38 10l-17-10m37 10l-17-10m37 9l-18-9m-1287 29l-18-8m38 8l-18-8m38 8l-18-8m38 8l-18-9m38 9l-18-9m38 9l-18-9m38 10l-18-9m38 9l-17-10m37 10l-17-10m37 10l-17-10m37 10l-17-11m37 11l-17-11m37 11l-17-11m37 11l-16-11m36 12l-16-12m36 12l-16-12m36 12l-15-13m35 13l-15-13m35 14l-14-14m33 14l-14-14m34 14l-13-15m33 15l-13-15m33 16l-12-16m32 16l-11-16m30 16l-11-17m31 17l-10-17m30 18l-10-18m30 18l-9-18m29 18l-9-18m28 18l-8-18m28 18l-8-18m28 18l-7-19m27 19l-7-19m27 19l-7-19m27 19l-7-19m27 19l-7-19m27 19l-7-19m28 19l-7-19m27 19l-8-18m28 18l-8-18m28 18l-8-18m29 18l-9-18m29 18l-9-18m29 17l-10-17m31 17l-11-17m31 17l-11-17m31 17l-12-16m33 16l-12-16m32 16l-13-16m33 15l-13-15m34 15l-13-15m33 15l-14-14m34 14l-14-14m35 14l-15-14m35 13l-15-13m35 13l-15-13m35 13l-16-13m36 13l-16-12m37 12l-16-12m36 11l-16-11m36 11l-17-11m37 11l-17-11m37 11l-17-10m38 10l-17-10m37 10l-17-10m37 10l-17-10m-1288 29l-18-8m38 8l-18-8m38 8l-18-8m38 8l-18-9m38 9l-18-9m38 9l-18-9m38 10l-18-9m38 9l-17-10m37 10l-17-10m37 10l-17-10m37 10l-17-10m37 10l-17-11m37 11l-17-11m37 11l-16-11m36 12l-16-12m36 12l-16-12m36 12l-15-12m35 12l-15-13m35 14l-15-13m35 13l-14-14m33 14l-14-15m34 15l-13-15m33 16l-12-16m32 16l-12-16m32 16l-11-17m30 17l-11-17m31 17l-10-17m30 18l-10-18m30 18l-9-18m29 18l-9-18m29 18l-8-18m27 18l-8-18m28 18l-8-18m28 18l-8-19m28 19l-7-19m28 19l-7-19m27 19l-8-18m28 18l-8-18m28 18l-8-18m28 18l-8-18m29 18l-9-18m29 18l-9-18m29 18l-10-17m31 16l-10-17m30 17l-11-17m31 17l-11-16m32 16l-12-16m32 16l-12-16m32 16l-13-15m33 14l-13-15m34 15l-13-15m33 15l-14-14m34 14l-14-14m35 14l-15-14m35 13l-15-13m35 13l-15-13m35 13l-16-13m36 13l-16-12m37 12l-16-12m36 12l-16-11m36 10l-17-11m37 11l-17-11m37 11l-17-11m38 11l-17-10m37 10l-17-10m37 10l-17-10m-1288 29l-18-8m38 8l-18-8m38 8l-18-8m38 8l-18-9m38 9l-18-9m38 9l-18-9m38 10l-18-9m38 9l-18-9m38 9l-17-10m37 10l-17-10m37 10l-17-10m37 10l-17-10m37 10l-17-11m37 11l-17-11m37 12l-16-11m36 11l-16-12m36 12l-16-12m36 12l-15-13m35 14l-15-13m35 13l-14-14m34 14l-14-14m33 14l-13-15m33 16l-13-15m33 15l-12-16m32 16l-12-16m32 16l-11-17m30 17l-11-17m31 18l-10-17m30 17l-10-18m30 18l-9-18m29 18l-9-18m29 18l-9-18m29 18l-8-18m28 18l-8-18m28 18l-8-18m28 18l-8-18m28 18l-8-18m28 18l-8-18m28 18l-9-18m30 18l-9-18m29 18l-9-18m29 18l-10-17m30 16l-10-17m31 17l-11-17m31 17l-11-17m31 17l-12-16m33 16l-12-16m32 16l-12-16m32 16l-13-15m34 14l-13-15m33 15l-14-15m34 15l-14-14m34 14l-14-14m35 14l-15-14m35 14l-15-13m35 12l-15-13m35 13l-16-13m36 13l-16-12m37 12l-16-12m36 12l-16-12m36 12l-16-11m36 10l-17-11m37 11l-17-11m38 11l-17-10m37 10l-17-10m37 10l-17-10m-1288 29l-18-8m38 8l-18-8m38 8l-18-8m38 8l-18-8m38 8l-18-9m38 9l-18-9m38 10l-18-9m38 9l-18-9m38 9l-18-10m38 10l-17-10m37 10l-17-10m37 10l-17-10m37 10l-17-10m37 10l-17-11m37 12l-16-11m36 11l-16-12m36 12l-16-12m36 12l-16-12m36 12l-15-13m35 14l-15-13m35 13l-14-14m34 14l-14-14m33 14l-13-15m33 16l-13-15m33 15l-12-16m32 16l-12-16m32 16l-11-17m31 17l-11-17m30 18l-10-17m30 17l-10-17m30 17l-9-18m29 18l-9-18m29 18l-9-18m29 18l-9-18m29 18l-9-18m29 18l-9-18m29 18l-9-18m29 18l-9-18m30 18l-9-18m29 18l-9-18m29 18l-10-17m30 17l-10-17m31 16l-10-17m30 17l-11-17m31 17l-11-16m31 16l-12-16m33 16l-12-16m32 16l-13-15m33 15l-13-15m34 14l-13-15m33 15l-14-15m34 15l-14-14m34 14l-14-14m35 14l-15-13m35 13l-15-13m35 12l-15-13m35 13l-16-12m36 12l-16-12m37 12l-16-12m36 12l-16-12m36 12l-16-11m36 10l-17-11m37 11l-17-11m38 11l-17-10m37 10l-17-10m37 10l-17-10"/>
<clipPath id="cp5"><rect x="1601.6" y="2779.1" width="662.5" height="657"/></clipPath>
<filter id="bl5" filterUnits="userSpaceOnUse" x="1561.6" y="2739.1" width="742.5" height="737"><feGaussianBlur stdDeviation="6"/></filter>
<pattern id="pt5" patternUnits="userSpaceOnUse" x="1601" y="2774.9" width="10.040" height="10.040"><path stroke="#000" stroke-width="1.5" d="M0.05 5.02h9.95"/><path stroke="#000" stroke-width="3.1" stroke-linecap="round" d="M6.69 5.02h2.00"/></pattern></defs>
<rect x="231.5" y="1953.1" width="2047.7" height="675.5" fill="#342a28"/>
<rect x="226.5" y="2770.7" width="2045.9" height="673.7" fill="#342a28"/>
<rect x="904.7" y="1961.6" width="17" height="658.6" fill="#fff"/>
<rect x="1589.9" y="1961.6" width="16.5" height="658.6" fill="#fff"/>
<rect x="901.2" y="2779.1" width="14.8" height="657" fill="#fff"/>
<rect x="1586.8" y="2779.1" width="14.8" height="657" fill="#fff"/>
<rect x="240.5" y="1961.6" width="664.2" height="658.6" fill="#7aff85"/>
<g clip-path="url(#cp0)"><g filter="url(#bl0)" fill="none">
<path stroke="#000080" stroke-width="6.1" d="M565 2288.8h6.1"/>
<path stroke="#00008c" stroke-width="6.1" d="M570.5 2288.8h6.1m-11.6 5.5h11.6"/>
<path stroke="#000099" stroke-width="6.1" d="M565 2283.3h6.1"/>
<path stroke="#0000a6" stroke-width="6.1" d="M570.5 2283.3h6.1m-17.1 5.5h6.1"/>
<path stroke="#0000b2" stroke-width="6.1" d="M576 2288.8h6.1m-22.6 5.5h6.1m10.4 0h6.1m-17.1 5.5h11.6"/>
<path stroke="#0000bf" stroke-width="6.1" d="M559.5 2283.3h6.1m10.4 0h6.1"/>
<path stroke="#0000cc" stroke-width="6.1" d="M565 2277.8h6.1m-11.6 22h6.1"/>
<path stroke="#0000d9" stroke-width="6.1" d="M570.5 2277.8h6.1m-.6 22h6.1"/>
<path stroke="#0000e6" stroke-width="6.1" d="M581.5 2288.8h6.1m-22.6 16.5h11.6"/>
<path stroke="#0000f2" stroke-width="6.1" d="M559.5 2277.8h6.1m10.4 0h6.1m-28.1 11h6.1m-6.1 5.5h6.1m21.4 0h6.1"/>
<path stroke="#0000ff" stroke-width="6.1" d="M581.5 2283.3h6.1"/>
<path stroke="#000dff" stroke-width="6.1" d="M554 2283.3h6.1m21.4 16.5h6.1m-28.1 5.5h6.1m10.4 0h6.1"/>
<path stroke="#001aff" stroke-width="6.1" d="M565 2272.3h11.6m-22.6 27.5h6.1"/>
<path stroke="#0026ff" stroke-width="6.1" d="M581.5 2277.8h6.1"/>
<path stroke="#0033ff" stroke-width="6.1" d="M559.5 2272.3h6.1m10.4 0h6.1m-28.1 5.5h6.1m26.9 11h6.1m-6.1 5.5h6.1m-11.6 11h6.1m-22.6 5.5h11.6"/>
<path stroke="#0040ff" stroke-width="6.1" d="M587 2283.3h6.1m-39.1 22h6.1"/>
<path stroke="#004dff" stroke-width="6.1" d="M548.5 2288.8h6.1m32.4 11h6.1m-33.6 11h6.1m10.4 0h6.1"/>
<path stroke="#0059ff" stroke-width="6.1" d="M581.5 2272.3h6.1m-39.1 22h6.1"/>
<path stroke="#0066ff" stroke-width="6.1" d="M565 2266.8h11.6m-22.6 5.5h6.1m26.9 5.5h6.1m-44.6 5.5h6.1m-6.1 16.5h6.1"/>
<path stroke="#0073ff" stroke-width="6.1" d="M576 2266.8h6.1m10.4 22h6.1m-6.1 5.5h6.1m-11.6 11h6.1m-11.6 5.5h6.1"/>
<path stroke="#0080ff" stroke-width="6.1" d="M559.5 2266.8h6.1m-17.1 11h6.1m37.9 5.5h6.1m-44.6 27.5h6.1m4.9 5.5h11.6"/>
<path stroke="#008cff" stroke-width="6.1" d="M587 2272.3h6.1m-.6 27.5h6.1m-50.1 5.5h6.1m21.4 11h6.1"/>
<path stroke="#0099ff" stroke-width="6.1" d="M581.5 2266.8h6.1m4.9 11h6.1m-11.6 33h6.1m-33.6 5.5h6.1"/>
<path stroke="#00a6ff" stroke-width="6.1" d="M565 2261.3h11.6m-22.6 5.5h6.1m32.4 38.5h6.1m-17.1 11h6.1"/>
<path stroke="#00b2ff" stroke-width="6.1" d="M576 2261.3h6.1m4.9 5.5h6.1m-44.6 5.5h6.1m37.9 0h6.1m-.6 11h6.1m-61.1 5.5h6.1m48.9 0h6.1m-6.1 5.5h6.1"/>
<path stroke="#00bfff" stroke-width="6.1" d="M559.5 2261.3h6.1m-22.6 22h6.1m-6.1 11h6.1m48.9 5.5h6.1m-55.6 11h6.1m37.9 0h6.1m-44.6 5.5h6.1m4.9 5.5h11.6"/>
<path stroke="#00ccff" stroke-width="6.1" d="M581.5 2261.3h6.1m10.4 16.5h6.1m-61.1 22h6.1m48.9 5.5h6.1m-17.1 11h6.1m-17.1 5.5h6.1"/>
<path stroke="#00d9ff" stroke-width="6.1" d="M592.5 2266.8h6.1m-55.6 11h6.1m54.4 5.5h6.1m-6.1 5.5h6.1m-6.1 5.5h6.1m-50.1 27.5h6.1m15.9 0h6.1"/>
<path stroke="#00e5ff" stroke-width="6.1" d="M570.5 2255.8h6.1m-22.6 5.5h6.1m26.9 0h6.1m-44.6 5.5h6.1m43.4 5.5h6.1m-.6 5.5h6.1m-6.1 22h6.1m-66.6 5.5h6.1m48.9 5.5h6.1m-11.6 5.5h6.1"/>
<path stroke="#00f2ff" stroke-width="6.1" d="M565 2255.8h6.1m4.9 0h6.1m26.9 27.5h6.1m-6.1 5.5h6.1m-6.1 5.5h6.1m-11.6 11h6.1m-61.1 11h6.1m-.6 5.5h6.1m26.9 0h6.1"/>
<path stroke="#00ffff" stroke-width="6.1" d="M559.5 2255.8h6.1m15.9 0h6.1m4.9 5.5h6.1m-.6 5.5h6.1m-61.1 5.5h6.1m54.4 0h6.1m-.6 5.5h6.1m-.6 5.5h6.1m-6.1 5.5h6.1m-6.1 5.5h6.1m-11.6 5.5h6.1m-6.1 5.5h6.1m-11.6 5.5h6.1m-11.6 5.5h6.1m-39.1 11h17.1"/>
<path stroke="#0dfff2" stroke-width="6.1" d="M587 2255.8h6.1m10.4 11h6.1m-.6 5.5h6.1m-.6 5.5h6.1m-.6 5.5h11.6m-11.6 5.5h22.6m-22.6 5.5h17.1m-22.6 5.5h17.1m-17.1 5.5h6.1m-77.6 5.5h6.1m43.4 11h6.1m-39.1 5.5h6.1m15.9 0h6.1"/>
<path stroke="#1affe5" stroke-width="6.1" d="M570.5 2250.3h11.6m-28.1 5.5h6.1m-11.6 5.5h6.1m43.4 0h6.1m4.9 5.5h6.1m-.6 5.5h6.1m-.6 5.5h28.1m-17.1 5.5h22.6m-116.1 5.5h6.1m98.4 0h17.1m-121.6 5.5h6.1m92.9 0h22.6m-28.1 5.5h22.6m-33.6 5.5h22.6m-33.6 5.5h11.6m-17.1 5.5h6.1m-11.6 5.5h6.1m-17.1 5.5h6.1"/>
<path stroke="#26ffd9" stroke-width="6.1" d="M565 2250.3h6.1m10.4 0h6.1m4.9 5.5h6.1m4.9 5.5h6.1m-66.6 5.5h6.1m65.4 0h11.6m-6.1 5.5h33.6m-6.1 5.5h11.6m-121.6 5.5h6.1m109.4 0h11.6m-6.1 5.5h11.6m-11.6 5.5h11.6m-132.6 5.5h6.1m109.4 0h11.6m-22.6 5.5h17.1m-39.1 5.5h28.1m-39.1 5.5h11.6m-72.1 5.5h6.1m48.9 0h6.1m-55.6 5.5h6.1m32.4 0h6.1m-28.1 5.5h6.1"/>
<path stroke="#33ffcc" stroke-width="6.1" d="M559.5 2250.3h6.1m21.4 0h6.1m4.9 5.5h11.6m-.6 5.5h17.1m-.6 5.5h33.6m-6.1 5.5h17.1m-132.6 5.5h6.1m114.9 0h17.1m-11.6 5.5h11.6m-6.1 5.5h11.6m-11.6 5.5h11.6m-17.1 5.5h11.6m-17.1 5.5h17.1m-28.1 5.5h17.1m-121.6 5.5h6.1m70.9 0h33.6m-44.6 5.5h11.6m-22.6 5.5h6.1m-39.1 5.5h6.1m4.9 0h11.6"/>
<path stroke="#40ffbf" stroke-width="6.1" d="M570.5 2244.8h17.1m4.9 5.5h11.6m-55.6 5.5h6.1m54.4 0h39.1m-22.6 5.5h44.6m-11.6 5.5h17.1m-6.1 5.5h17.1m-11.6 5.5h11.6m-11.6 5.5h17.1m-11.6 5.5h11.6m-11.6 5.5h11.6m-17.1 5.5h17.1m-154.6 5.5h6.1m131.4 0h11.6m-22.6 5.5h17.1m-28.1 5.5h22.6m-55.6 5.5h44.6m-61.1 5.5h17.1m-61.1 5.5h6.1m21.4 0h11.6"/>
<path stroke="#4dffb2" stroke-width="6.1" d="M565 2244.8h6.1m15.9 0h17.1m-50.1 5.5h6.1m43.4 0h66.6m-22.6 5.5h33.6m-138.1 5.5h6.1m120.4 0h22.6m-17.1 5.5h22.6m-11.6 5.5h17.1m-17.1 5.5h17.1m-11.6 5.5h11.6m-11.6 5.5h11.6m-11.6 5.5h11.6m-11.6 5.5h11.6m-17.1 5.5h17.1m-22.6 5.5h22.6m-28.1 5.5h22.6m-33.6 5.5h28.1m-143.6 5.5h6.1m65.4 0h61.1m-83.1 5.5h66.6m-94.1 5.5h28.1"/>
<path stroke="#4dffb2" stroke-width="11.6" d="M702.5 2286.1h11.6m-11.6 11h11.6"/>
<path stroke="#59ffa6" stroke-width="6.1" d="M631 2233.8h66.6m-127.1 5.5h132.6m-143.6 5.5h6.1m37.9 0h99.6m-33.6 5.5h33.6m-22.6 5.5h22.6m-11.6 5.5h11.6m-6.1 5.5h6.1m-165.6 5.5h6.1m-6.1 38.5h6.1m153.4 5.5h6.1m-160.1 5.5h6.1m142.4 0h11.6m-22.6 5.5h22.6m-149.1 5.5h6.1m103.9 0h39.1m-143.6 5.5h11.6m26.9 0h105.1m-127.1 5.5h127.1m-66.6 5.5h55.6"/>
<path stroke="#59ffa6" stroke-width="11.6" d="M702.5 2242.1h11.6m-11.6 11h22.6m-22.6 11h33.6m-33.6 11h44.6m-33.6 11h33.6m-33.6 11h33.6m-44.6 11h44.6m-44.6 11h33.6m-33.6 11h22.6m-22.6 11h11.6"/>
<path stroke="#66ff99" stroke-width="6.1" d="M620 2195.3h83.1m-88.6 5.5h88.6m-88.6 5.5h88.6m-94.1 5.5h94.1m-99.6 5.5h99.6m-105.1 5.5h105.1m-116.1 5.5h116.1m-132.6 5.5h61.1m65.4 0h6.1m-143.6 5.5h11.6m-17.1 5.5h6.1m-11.6 5.5h6.1m10.4 93.5h11.6m-.6 5.5h61.1m54.4 0h11.6m-110.6 5.5h110.6m-105.1 5.5h105.1m-99.6 5.5h99.6m-94.1 5.5h94.1m-88.6 5.5h88.6m-88.6 5.5h88.6m-83.1 5.5h83.1"/>
<path stroke="#66ff99" stroke-width="11.6" d="M636.5 2176.1h99.6m-110.6 11h132.6m-55.6 11h66.6m-66.6 11h88.6m-88.6 11h88.6m-88.6 11h99.6m-88.6 11h99.6m-88.6 11h88.6m-77.6 11h77.6m-66.6 11h77.6m-77.6 11h77.6m-77.6 11h77.6m-77.6 11h77.6m-88.6 11h77.6m-88.6 11h88.6m-99.6 11h99.6m-110.6 11h99.6m-99.6 11h88.6m-88.6 11h77.6m-77.6 11h66.6m-143.6 11h132.6m-121.6 11h88.6"/>
<path stroke="#73ff8c" stroke-width="6.1" d="M570.5 2195.3h50.1m-50.1 5.5h44.6m-44.6 5.5h44.6m-39.1 5.5h33.6m-39.1 5.5h33.6m-33.6 5.5h28.1m-33.6 5.5h22.6m-28.1 5.5h11.6m-28.1 22h6.1m-11.6 11h6.1m-.6 60.5h6.1m-.6 5.5h6.1m-.6 5.5h6.1m-.6 5.5h6.1m-.6 5.5h11.6m-6.1 5.5h22.6m-22.6 5.5h28.1m-28.1 5.5h33.6m-33.6 5.5h39.1m-39.1 5.5h44.6m-44.6 5.5h44.6m-44.6 5.5h50.1"/>
<path stroke="#73ff8c" stroke-width="11.6" d="M636.5 2044.1h88.6m-143.6 11h187.6m-209.6 11h242.6m-264.6 11h286.6m-308.6 11h330.6m-352.6 11h374.6m-385.6 11h396.6m-407.6 11h418.6m-429.6 11h440.6m-451.6 11h462.6m-473.6 11h484.6m-484.6 11h484.6m-495.6 11h44.6m76.4 0h88.6m98.4 0h198.6m-506.6 11h22.6m109.4 0h66.6m131.4 0h176.6m-165.6 11h165.6m-143.6 11h143.6m-143.6 11h143.6m-132.6 11h132.6m-121.6 11h121.6m-121.6 11h121.6m-121.6 11h121.6m-110.6 11h110.6m-110.6 11h110.6m-110.6 11h110.6m-110.6 11h110.6m-121.6 11h121.6m-121.6 11h121.6m-121.6 11h121.6m-132.6 11h132.6m-143.6 11h143.6m-154.6 11h154.6m-165.6 11h165.6m-506.6 11h22.6m109.4 0h66.6m131.4 0h176.6m-506.6 11h55.6m65.4 0h88.6m87.4 0h209.6m-495.6 11h484.6m-473.6 11h473.6m-473.6 11h462.6m-451.6 11h440.6m-429.6 11h418.6m-407.6 11h396.6m-374.6 11h352.6m-341.6 11h330.6m-308.6 11h286.6m-264.6 11h242.6m-209.6 11h176.6m-121.6 11h66.6"/>
<path stroke="#8cff73" stroke-width="6.1" d="M515.5 2200.8h6.1m-28.1 5.5h50.1m-55.6 5.5h61.1m-72.1 5.5h77.6m-83.1 5.5h28.1m37.9 0h17.1m-88.6 5.5h22.6m54.4 0h11.6m-88.6 5.5h17.1m65.4 0h6.1m-94.1 5.5h17.1m70.9 0h6.1m-94.1 5.5h11.6m-11.6 5.5h11.6m70.9 0h6.1m-88.6 5.5h6.1m-6.1 5.5h6.1m70.9 0h6.1m-83.1 5.5h6.1m-6.1 49.5h6.1m-6.1 5.5h6.1m-6.1 5.5h11.6m-11.6 5.5h11.6m70.9 0h6.1m-88.6 5.5h17.1m-17.1 5.5h22.6m65.4 0h6.1m-88.6 5.5h22.6m59.9 0h6.1m-83.1 5.5h22.6m48.9 0h11.6m-77.6 5.5h33.6m15.9 0h28.1m-72.1 5.5h66.6m-61.1 5.5h55.6m-44.6 5.5h39.1"/>
<path stroke="#8cff73" stroke-width="11.6" d="M449.5 2253.1h11.6m-11.6 11h11.6m-11.6 11h11.6m-11.6 11h11.6m-11.6 11h11.6m-11.6 11h11.6m-11.6 11h11.6m-11.6 11h11.6"/>
<path stroke="#99ff66" stroke-width="6.1" d="M499 2222.8h39.1m-50.1 5.5h55.6m-61.1 5.5h28.1m26.9 0h11.6m-72.1 5.5h22.6m43.4 0h6.1m-77.6 5.5h22.6m48.9 0h6.1m-77.6 5.5h17.1m-22.6 5.5h17.1m-17.1 5.5h11.6m-11.6 5.5h11.6m-17.1 5.5h11.6m-11.6 5.5h11.6m-11.6 5.5h11.6m59.9 0h6.1m-77.6 5.5h11.6m59.9 0h6.1m-77.6 5.5h11.6m59.9 0h6.1m-77.6 5.5h11.6m-11.6 5.5h11.6m-11.6 5.5h17.1m-11.6 5.5h11.6m-11.6 5.5h11.6m59.9 0h6.1m-72.1 5.5h11.6m-11.6 5.5h17.1m-11.6 5.5h17.1m48.9 0h6.1m-66.6 5.5h22.6m37.9 0h6.1m-61.1 5.5h28.1m21.4 0h11.6m-55.6 5.5h50.1m-33.6 5.5h17.1"/>
<path stroke="#a6ff59" stroke-width="6.1" d="M510 2233.8h28.1m-39.1 5.5h17.1m21.4 0h6.1m-50.1 5.5h11.6m32.4 0h6.1m-55.6 5.5h11.6m37.9 0h6.1m-61.1 5.5h11.6m43.4 0h6.1m-66.6 5.5h11.6m-11.6 5.5h11.6m-17.1 5.5h11.6m-11.6 5.5h11.6m48.9 0h6.1m-66.6 5.5h11.6m-11.6 5.5h11.6m-11.6 5.5h11.6m-11.6 5.5h11.6m48.9 0h6.1m-66.6 5.5h11.6m-6.1 5.5h11.6m-11.6 5.5h11.6m-11.6 5.5h17.1m-11.6 5.5h11.6m43.4 0h6.1m-55.6 5.5h11.6m37.9 0h6.1m-50.1 5.5h17.1m26.9 0h6.1m-39.1 5.5h17.1m10.4 0h11.6m-28.1 5.5h22.6"/>
<path stroke="#b3ff4c" stroke-width="6.1" d="M515.5 2239.3h22.6m-33.6 5.5h11.6m-17.1 5.5h6.1m-11.6 5.5h6.1m-11.6 5.5h11.6m-11.6 5.5h6.1m-11.6 5.5h11.6m-11.6 5.5h6.1m-6.1 5.5h6.1m-6.1 5.5h6.1m-6.1 5.5h6.1m-6.1 5.5h6.1m-6.1 5.5h11.6m37.9 0h6.1m-50.1 5.5h6.1m-6.1 5.5h6.1m-.6 5.5h6.1m-6.1 5.5h11.6m-6.1 5.5h11.6m-.6 5.5h11.6m10.4 0h6.1m-17.1 5.5h11.6"/>
<path stroke="#bfff40" stroke-width="6.1" d="M515.5 2244.8h22.6m-33.6 5.5h11.6m-17.1 5.5h6.1m-6.1 5.5h6.1m-11.6 5.5h6.1m-6.1 5.5h6.1m32.4 0h6.1m-50.1 5.5h6.1m-6.1 5.5h6.1m-6.1 5.5h6.1m-6.1 5.5h6.1m-6.1 5.5h6.1m-.6 11h6.1m32.4 0h6.1m-44.6 5.5h6.1m-.6 5.5h6.1m-.6 5.5h6.1m-.6 5.5h6.1m15.9 0h6.1m-17.1 5.5h11.6"/>
<path stroke="#ccff33" stroke-width="6.1" d="M515.5 2250.3h6.1m10.4 0h6.1m-33.6 5.5h6.1m21.4 0h6.1m-39.1 11h6.1m26.9 0h6.1m-44.6 11h6.1m-6.1 5.5h6.1m-6.1 11h6.1m-6.1 5.5h6.1m-6.1 5.5h6.1m-.6 11h6.1m26.9 0h6.1m-33.6 5.5h6.1m-.6 5.5h6.1m15.9 0h6.1m-22.6 5.5h17.1"/>
<path stroke="#d9ff26" stroke-width="6.1" d="M521 2250.3h11.6m-22.6 5.5h6.1m-11.6 5.5h6.1m21.4 0h6.1m-39.1 11h6.1m-11.6 16.5h6.1m-.6 22h6.1m26.9 11h6.1"/>
<path stroke="#e5ff1a" stroke-width="6.1" d="M515.5 2255.8h6.1m-17.1 11h6.1m-11.6 11h6.1m-6.1 27.5h6.1m-.6 11h6.1m-.6 5.5h6.1m-.6 5.5h6.1m4.9 0h6.1"/>
<path stroke="#f2ff0d" stroke-width="6.1" d="M526.5 2255.8h6.1m-22.6 5.5h6.1m-17.1 22h6.1m-6.1 5.5h6.1m-6.1 5.5h6.1m-6.1 5.5h6.1m15.9 27.5h6.1"/>
<path stroke="#ffff00" stroke-width="6.1" d="M521 2255.8h6.1m-22.6 16.5h6.1m-6.1 38.5h6.1m4.9 11h6.1"/>
<path stroke="#fff200" stroke-width="6.1" d="M504.5 2305.3h6.1m-.6 11h6.1m10.4 5.5h6.1"/>
<path stroke="#ffe500" stroke-width="6.1" d="M515.5 2261.3h6.1m4.9 0h6.1m-22.6 5.5h6.1m-11.6 11h6.1m10.4 44h6.1"/>
<path stroke="#ffd900" stroke-width="6.1" d="M521 2261.3h6.1m-22.6 38.5h6.1m15.9 16.5h6.1"/>
<path stroke="#ffcc00" stroke-width="6.1" d="M526.5 2266.8h6.1m-28.1 16.5h6.1m-6.1 5.5h6.1m-6.1 5.5h6.1m-.6 16.5h6.1m-.6 5.5h6.1"/>
<path stroke="#ffbf00" stroke-width="6.1" d="M510 2272.3h6.1m10.4 38.5h6.1"/>
<path stroke="#ffb300" stroke-width="6.1" d="M515.5 2266.8h6.1m4.9 5.5h6.1m-11.6 44h6.1"/>
<path stroke="#ffa600" stroke-width="6.1" d="M526.5 2277.8h6.1m-6.1 5.5h6.1m-6.1 5.5h6.1m-6.1 5.5h6.1m-6.1 5.5h6.1m-6.1 5.5h6.1"/>
<path stroke="#ff9900" stroke-width="6.1" d="M521 2266.8h6.1m-17.1 38.5h6.1"/>
<path stroke="#ff8000" stroke-width="6.1" d="M510 2277.8h6.1m-.6 33h6.1"/>
<path stroke="#ff6600" stroke-width="6.1" d="M515.5 2272.3h6.1m-11.6 27.5h6.1m4.9 11h6.1"/>
<path stroke="#ff5900" stroke-width="6.1" d="M510 2283.3h6.1"/>
<path stroke="#ff4c00" stroke-width="6.1" d="M521 2272.3h6.1"/>
<path stroke="#ff4000" stroke-width="6.1" d="M510 2288.8h6.1m-6.1 5.5h6.1"/>
<path stroke="#ff2600" stroke-width="6.1" d="M515.5 2305.3h11.6"/>
<path stroke="#ff0d00" stroke-width="6.1" d="M515.5 2277.8h11.6"/>
<path stroke="#f20000" stroke-width="6.1" d="M521 2299.8h6.1"/>
<path stroke="#e50000" stroke-width="6.1" d="M521 2283.3h6.1"/>
<path stroke="#d90000" stroke-width="6.1" d="M515.5 2299.8h6.1"/>
<path stroke="#cc0000" stroke-width="6.1" d="M515.5 2283.3h6.1m-.6 5.5h6.1m-6.1 5.5h6.1"/>
<path stroke="#b30000" stroke-width="6.1" d="M515.5 2294.3h6.1"/>
<path stroke="#a60000" stroke-width="6.1" d="M515.5 2288.8h6.1"/>
</g>
<path fill="url(#pt0)" d="M239.5 1960.6h666.2v11h-666.2zM239.5 1971.6h666.2v11.2h-666.2zM239.5 1982.8h666.2v11.2h-666.2zM239.5 1994h666.2v11.2h-666.2zM239.5 2005.2h288.9v11.2h-288.9zM561.6 2005.2h344.1v11.2h-344.1zM239.5 2016.4h233.5v11.2h-233.5zM616.9 2016.4h288.8v11.2h-288.8zM239.5 2027.6h200.3v11.2h-200.3zM650.2 2027.6h255.5v11.2h-255.5zM239.5 2038.8h178.2v11.2h-178.2zM672.3 2038.8h233.4v11.2h-233.4zM239.5 2050h167.1v11.2h-167.1zM683.4 2050h222.3v11.2h-222.3zM239.5 2061.2h145v11.2h-145zM705.5 2061.2h200.2v11.2h-200.2zM239.5 2072.4h133.9v11.2h-133.9zM716.6 2072.4h189.1v11.2h-189.1zM239.5 2083.6h122.8v11.2h-122.8zM727.6 2083.6h178.1v11.2h-178.1zM239.5 2094.8h111.8v11.2h-111.8zM738.7 2094.8h167v11.2h-167zM239.5 2106h111.8v11.2h-111.8zM738.7 2106h167v11.2h-167zM239.5 2117.2h100.7v11.2h-100.7zM749.8 2117.2h155.9v11.2h-155.9zM239.5 2128.4h100.7v11.2h-100.7zM760.9 2128.4h144.8v11.2h-144.8zM239.5 2139.6h89.6v11.2h-89.6zM760.9 2139.6h144.8v11.2h-144.8zM239.5 2150.8h89.6v11.2h-89.6zM760.9 2150.8h144.8v11.2h-144.8zM239.5 2162h78.6v11.2h-78.6zM771.9 2162h133.8v11.2h-133.8zM239.5 2173.2h78.6v11.2h-78.6zM771.9 2173.2h133.8v11.2h-133.8zM239.5 2184.4h78.6v11.2h-78.6zM771.9 2184.4h133.8v11.2h-133.8zM239.5 2195.6h78.6v11.2h-78.6zM771.9 2195.6h133.8v11.2h-133.8zM239.5 2206.8h78.6v11.2h-78.6zM771.9 2206.8h133.8v11.2h-133.8zM239.5 2218h78.6v11.2h-78.6zM771.9 2218h133.8v11.2h-133.8zM239.5 2229.2h89.6v11.2h-89.6zM760.9 2229.2h144.8v11.2h-144.8zM239.5 2240.4h100.7v11.2h-100.7zM749.8 2240.4h155.9v11.2h-155.9zM239.5 2251.6h111.8v11.2h-111.8zM738.7 2251.6h167v11.2h-167zM239.5 2262.8h122.8v11.2h-122.8zM727.6 2262.8h178.1v11.2h-178.1zM239.5 2274h178.2v11.2h-178.2zM672.3 2274h233.4v11.2h-233.4zM239.5 2285.2h266.7v11.2h-266.7zM594.8 2285.2h310.9v11.2h-310.9zM239.5 2296.4h167.1v11.2h-167.1zM683.4 2296.4h222.3v11.2h-222.3zM239.5 2307.6h122.8v11.2h-122.8zM727.6 2307.6h178.1v11.2h-178.1zM239.5 2318.8h111.8v11.2h-111.8zM738.7 2318.8h167v11.2h-167zM239.5 2330h100.7v11.2h-100.7zM749.8 2330h155.9v11.2h-155.9zM239.5 2341.2h89.6v11.2h-89.6zM760.9 2341.2h144.8v11.2h-144.8zM239.5 2352.4h78.6v11.2h-78.6zM771.9 2352.4h133.8v11.2h-133.8zM239.5 2363.6h78.6v11.2h-78.6zM771.9 2363.6h133.8v11.2h-133.8zM239.5 2374.8h78.6v11.2h-78.6zM771.9 2374.8h133.8v11.2h-133.8zM239.5 2386h78.6v11.2h-78.6zM771.9 2386h133.8v11.2h-133.8zM239.5 2397.2h78.6v11.2h-78.6zM771.9 2397.2h133.8v11.2h-133.8zM239.5 2408.4h78.6v11.2h-78.6zM771.9 2408.4h133.8v11.2h-133.8zM239.5 2419.6h89.6v11.2h-89.6zM760.9 2419.6h144.8v11.2h-144.8zM239.5 2430.8h89.6v11.2h-89.6zM760.9 2430.8h144.8v11.2h-144.8zM239.5 2442h100.7v11.2h-100.7zM749.8 2442h155.9v11.2h-155.9zM239.5 2453.2h100.7v11.2h-100.7zM749.8 2453.2h155.9v11.2h-155.9zM239.5 2464.4h111.8v11.2h-111.8zM738.7 2464.4h167v11.2h-167zM239.5 2475.6h111.8v11.2h-111.8zM738.7 2475.6h167v11.2h-167zM239.5 2486.8h122.8v11.2h-122.8zM727.6 2486.8h178.1v11.2h-178.1zM239.5 2498h133.9v11.2h-133.9zM716.6 2498h189.1v11.2h-189.1zM239.5 2509.2h145v11.2h-145zM705.5 2509.2h200.2v11.2h-200.2zM239.5 2520.4h167.1v11.2h-167.1zM683.4 2520.4h222.3v11.2h-222.3zM239.5 2531.6h178.2v11.2h-178.2zM672.3 2531.6h233.4v11.2h-233.4zM239.5 2542.8h200.3v11.2h-200.3zM650.2 2542.8h255.5v11.2h-255.5zM239.5 2554h233.5v11.2h-233.5zM616.9 2554h288.8v11.2h-288.8zM239.5 2565.2h300v11.2h-300zM550.5 2565.2h355.2v11.2h-355.2zM239.5 2576.4h666.2v11.2h-666.2zM239.5 2587.6h666.2v11.2h-666.2zM239.5 2598.8h666.2v11.2h-666.2zM239.5 2610h666.2v11.2h-666.2z"/>
<use href="#ar0" stroke="#000" stroke-width="3" fill="none"/>
<use href="#ar0" stroke="#000" fill="none" stroke-width="6.2" stroke-linecap="round" stroke-dasharray="4 199" stroke-dashoffset="-2.6"/>
</g>
<rect x="921.7" y="1961.6" width="668.2" height="658.6" fill="#ffb000"/>
<g clip-path="url(#cp1)"><g filter="url(#bl1)" fill="none">
<path stroke="#00008c" stroke-width="6.1" d="M1257.2 2288.8h6.1m-6.1 5.5h6.1"/>
<path stroke="#000099" stroke-width="6.1" d="M1251.7 2288.8h6.1"/>
<path stroke="#0000a6" stroke-width="6.1" d="M1251.7 2294.3h6.1"/>
<path stroke="#0000bf" stroke-width="6.1" d="M1262.7 2288.8h6.1m-6.1 5.5h6.1"/>
<path stroke="#0000d9" stroke-width="6.1" d="M1257.2 2283.3h6.1m-6.1 16.5h6.1"/>
<path stroke="#0000e6" stroke-width="6.1" d="M1251.7 2283.3h6.1"/>
<path stroke="#0000f2" stroke-width="6.1" d="M1251.7 2299.8h6.1"/>
<path stroke="#0000ff" stroke-width="6.1" d="M1246.2 2288.8h6.1m-6.1 5.5h6.1"/>
<path stroke="#000dff" stroke-width="6.1" d="M1262.7 2283.3h6.1m-6.1 16.5h6.1"/>
<path stroke="#0033ff" stroke-width="6.1" d="M1268.2 2288.8h6.1m-6.1 5.5h6.1"/>
<path stroke="#0040ff" stroke-width="6.1" d="M1246.2 2283.3h6.1m-6.1 16.5h6.1"/>
<path stroke="#0066ff" stroke-width="6.1" d="M1257.2 2277.8h6.1m4.9 5.5h6.1m-6.1 16.5h6.1m-17.1 5.5h6.1"/>
<path stroke="#0073ff" stroke-width="6.1" d="M1251.7 2277.8h6.1m-6.1 27.5h6.1"/>
<path stroke="#0080ff" stroke-width="6.1" d="M1262.7 2277.8h6.1"/>
<path stroke="#008cff" stroke-width="6.1" d="M1240.7 2288.8h6.1m-6.1 5.5h6.1m15.9 11h6.1"/>
<path stroke="#00b2ff" stroke-width="6.1" d="M1246.2 2277.8h6.1m21.4 11h6.1m-6.1 5.5h6.1m-33.6 11h6.1"/>
<path stroke="#00bfff" stroke-width="6.1" d="M1240.7 2283.3h6.1m-6.1 16.5h6.1"/>
<path stroke="#00ccff" stroke-width="6.1" d="M1268.2 2277.8h6.1m-6.1 27.5h6.1"/>
<path stroke="#00d9ff" stroke-width="6.1" d="M1273.7 2283.3h6.1m-6.1 16.5h6.1"/>
<path stroke="#00f2ff" stroke-width="6.1" d="M1257.2 2272.3h6.1"/>
<path stroke="#00ffff" stroke-width="6.1" d="M1251.7 2272.3h6.1m-.6 38.5h6.1"/>
<path stroke="#0dfff2" stroke-width="6.1" d="M1262.7 2272.3h6.1m-17.1 38.5h6.1m4.9 0h6.1"/>
<path stroke="#1affe5" stroke-width="6.1" d="M1240.7 2277.8h6.1m-6.1 27.5h6.1"/>
<path stroke="#26ffd9" stroke-width="6.1" d="M1273.7 2277.8h6.1m-44.6 11h6.1m37.9 0h6.1m-50.1 5.5h6.1m37.9 0h6.1m-11.6 11h6.1"/>
<path stroke="#33ffcc" stroke-width="6.1" d="M1246.2 2272.3h6.1m-6.1 38.5h6.1"/>
<path stroke="#40ffbf" stroke-width="6.1" d="M1268.2 2272.3h6.1m-6.1 38.5h6.1"/>
<path stroke="#4dffb2" stroke-width="6.1" d="M1235.2 2283.3h6.1m37.9 0h6.1m-50.1 16.5h6.1m37.9 0h6.1"/>
<path stroke="#80ff80" stroke-width="6.1" d="M1251.7 2266.8h17.1m-28.1 5.5h6.1m26.9 0h6.1m-.6 5.5h6.1m-6.1 27.5h6.1m-44.6 5.5h6.1m26.9 0h6.1m-22.6 5.5h6.1"/>
<path stroke="#8cff73" stroke-width="6.1" d="M1235.2 2277.8h6.1m43.4 11h6.1m-6.1 5.5h6.1m-55.6 11h6.1m10.4 11h6.1m4.9 0h6.1"/>
<path stroke="#99ff66" stroke-width="6.1" d="M1284.7 2283.3h6.1m-6.1 16.5h6.1"/>
<path stroke="#a6ff59" stroke-width="6.1" d="M1246.2 2266.8h6.1m15.9 0h6.1m-28.1 49.5h6.1m15.9 0h6.1"/>
<path stroke="#b3ff4c" stroke-width="6.1" d="M1279.2 2272.3h6.1m-55.6 16.5h6.1m-6.1 5.5h6.1m43.4 16.5h6.1"/>
<path stroke="#bfff40" stroke-width="6.1" d="M1273.7 2266.8h6.1m4.9 11h6.1m-6.1 27.5h6.1"/>
<path stroke="#ccff33" stroke-width="6.1" d="M1235.2 2272.3h6.1m-11.6 11h6.1m54.4 5.5h6.1m-6.1 5.5h6.1m-66.6 5.5h6.1m-.6 11h6.1m32.4 5.5h6.1"/>
<path stroke="#d9ff26" stroke-width="6.1" d="M1257.2 2261.3h6.1m-22.6 5.5h6.1m43.4 16.5h6.1m-6.1 16.5h6.1m-55.6 16.5h6.1"/>
<path stroke="#e5ff1a" stroke-width="6.1" d="M1251.7 2261.3h6.1m4.9 0h6.1m10.4 5.5h6.1m-.6 5.5h6.1m-6.1 38.5h6.1m-11.6 5.5h6.1m-33.6 5.5h17.1"/>
<path stroke="#f2ff0d" stroke-width="6.1" d="M1268.2 2261.3h6.1m-44.6 16.5h6.1m54.4 0h6.1m-66.6 27.5h6.1m54.4 0h6.1m-28.1 16.5h6.1"/>
<path stroke="#ffff00" stroke-width="6.1" d="M1246.2 2261.3h6.1m21.4 0h6.1m4.9 5.5h6.1m-.6 5.5h6.1m-.6 11h6.1m-6.1 5.5h6.1m-6.1 5.5h6.1m-6.1 5.5h6.1m-11.6 11h6.1m-11.6 5.5h6.1m-44.6 5.5h6.1m21.4 0h6.1"/>
<path stroke="#fff200" stroke-width="6.1" d="M1279.2 2261.3h6.1m-50.1 5.5h6.1m54.4 11h6.1m-.6 11h6.1m-6.1 5.5h6.1m-11.6 11h6.1m-66.6 11h6.1m37.9 5.5h6.1"/>
<path stroke="#ffe500" stroke-width="6.1" d="M1257.2 2255.8h17.1m-33.6 5.5h6.1m37.9 0h6.1m-.6 5.5h6.1m-66.6 5.5h6.1m59.9 0h6.1m-.6 5.5h6.1m-6.1 5.5h11.6m-88.6 5.5h6.1m76.4 0h6.1m-88.6 5.5h6.1m76.4 0h6.1m-11.6 5.5h11.6m-11.6 5.5h6.1m-77.6 5.5h6.1m59.9 0h6.1m-11.6 5.5h6.1m-55.6 5.5h6.1m37.9 0h6.1m-33.6 5.5h11.6"/>
<path stroke="#ffd900" stroke-width="6.1" d="M1251.7 2255.8h6.1m15.9 0h11.6m4.9 5.5h6.1m-.6 5.5h11.6m-6.1 5.5h17.1m-11.6 5.5h17.1m-99.6 5.5h6.1m81.9 0h17.1m-17.1 5.5h17.1m-17.1 5.5h17.1m-105.1 5.5h6.1m81.9 0h17.1m-22.6 5.5h17.1m-22.6 5.5h17.1m-22.6 5.5h11.6m-17.1 5.5h6.1m-44.6 5.5h6.1m10.4 0h11.6"/>
<path stroke="#ffcc00" stroke-width="6.1" d="M1246.2 2255.8h6.1m32.4 0h22.6m-11.6 5.5h33.6m-22.6 5.5h33.6m-22.6 5.5h28.1m-22.6 5.5h22.6m-17.1 5.5h22.6m-22.6 5.5h22.6m-22.6 5.5h22.6m-22.6 5.5h22.6m-28.1 5.5h22.6m-28.1 5.5h28.1m-39.1 5.5h33.6m-44.6 5.5h33.6m-83.1 5.5h6.1m26.9 0h22.6"/>
<path stroke="#ffbf00" stroke-width="6.1" d="M1306.7 2244.8h22.6m-72.1 5.5h88.6m-39.1 5.5h44.6m-116.1 5.5h6.1m87.4 0h22.6m-121.6 5.5h6.1m103.9 0h11.6m-6.1 5.5h6.1m-127.1 5.5h6.1m114.9 0h6.1m-127.1 27.5h6.1m114.9 0h6.1m-6.1 5.5h6.1m-11.6 5.5h11.6m-116.1 5.5h6.1m87.4 0h22.6m-50.1 5.5h50.1m-94.1 5.5h88.6"/>
<path stroke="#ffbf00" stroke-width="11.6" d="M1350.7 2264.1h11.6m-11.6 11h22.6m-22.6 11h22.6m-22.6 11h22.6m-22.6 11h22.6m-22.6 11h11.6"/>
<path stroke="#ffa600" stroke-width="6.1" d="M1141.7 2173.3h50.1m92.9 0h66.6m-209.6 5.5h39.1m114.9 0h55.6m-209.6 5.5h33.6m125.9 0h50.1m-209.6 5.5h22.6m136.9 0h50.1m-209.6 5.5h17.1m147.9 0h44.6m-209.6 5.5h11.6m153.4 0h44.6m-209.6 5.5h6.1m158.9 0h44.6m-50.1 5.5h50.1m-50.1 5.5h50.1m-55.6 5.5h55.6m-61.1 5.5h28.1m-39.1 5.5h22.6m-33.6 5.5h17.1m-28.1 5.5h11.6m-22.6 5.5h6.1m-28.1 22h6.1m-6.1 38.5h6.1m15.9 22h6.1m4.9 5.5h11.6m-.6 5.5h22.6m-11.6 5.5h28.1m-17.1 5.5h33.6m-28.1 5.5h55.6m-50.1 5.5h50.1m-44.6 5.5h44.6m-209.6 5.5h6.1m158.9 0h44.6m-209.6 5.5h11.6m153.4 0h44.6m-209.6 5.5h17.1m147.9 0h44.6m-209.6 5.5h22.6m136.9 0h50.1m-209.6 5.5h33.6m125.9 0h50.1"/>
<path stroke="#ffa600" stroke-width="11.6" d="M1218.7 2011.1h77.6m-121.6 11h165.6m-198.6 11h231.6m-253.6 11h275.6m-297.6 11h319.6m-330.6 11h341.6m-352.6 11h363.6m-374.6 11h385.6m-396.6 11h407.6m-418.6 11h429.6m-440.6 11h451.6m-462.6 11h473.6m-473.6 11h473.6m-484.6 11h495.6m-495.6 11h209.6m43.4 0h253.6m-517.6 11h143.6m208.4 0h165.6m-517.6 11h143.6m208.4 0h165.6m-528.6 11h154.6m208.4 0h176.6m-539.6 11h154.6m208.4 0h176.6m-539.6 11h154.6m208.4 0h176.6m-550.6 11h154.6m241.4 0h165.6m-561.6 11h154.6m252.4 0h154.6m-561.6 11h143.6m274.4 0h143.6m-561.6 11h143.6m274.4 0h143.6m-561.6 11h143.6m285.4 0h132.6m-561.6 11h143.6m285.4 0h132.6m-561.6 11h143.6m285.4 0h132.6m-561.6 11h143.6m285.4 0h132.6m-561.6 11h143.6m274.4 0h143.6m-561.6 11h143.6m274.4 0h143.6m-561.6 11h154.6m252.4 0h154.6m-561.6 11h154.6m230.4 0h176.6m-550.6 11h154.6m208.4 0h176.6m-539.6 11h154.6m208.4 0h176.6m-539.6 11h154.6m208.4 0h176.6m-528.6 11h143.6m208.4 0h165.6m-517.6 11h187.6m109.4 0h220.6m-506.6 11h209.6m43.4 0h253.6m-506.6 11h495.6m-484.6 11h473.6m-473.6 11h473.6m-462.6 11h451.6m-440.6 11h429.6m-418.6 11h407.6m-396.6 11h385.6m-374.6 11h363.6m-352.6 11h341.6m-319.6 11h308.6m-297.6 11h275.6m-253.6 11h231.6m-198.6 11h165.6m-110.6 11h55.6"/>
<path stroke="#ff9900" stroke-width="6.1" d="M1191.2 2173.3h94.1m-105.1 5.5h116.1m-121.6 5.5h33.6m48.9 0h44.6m-138.1 5.5h33.6m70.9 0h33.6m-143.6 5.5h28.1m87.4 0h33.6m-154.6 5.5h22.6m103.9 0h28.1m-160.1 5.5h22.6m109.4 0h28.1m-165.6 5.5h22.6m114.9 0h22.6m-160.1 5.5h17.1m120.4 0h22.6m-160.1 5.5h11.6m125.9 0h17.1m-154.6 5.5h11.6m120.4 0h17.1m-149.1 5.5h6.1m120.4 0h11.6m-22.6 5.5h11.6m-17.1 5.5h6.1m-17.1 5.5h6.1m-11.6 5.5h6.1m-11.6 5.5h6.1m-17.1 27.5h6.1m-6.1 5.5h6.1m4.9 27.5h6.1m-.6 5.5h6.1m-.6 5.5h6.1m4.9 5.5h6.1m4.9 5.5h6.1m-127.1 5.5h6.1m120.4 0h11.6m-138.1 5.5h11.6m120.4 0h17.1m-149.1 5.5h11.6m125.9 0h17.1m-154.6 5.5h17.1m120.4 0h22.6m-160.1 5.5h22.6m120.4 0h22.6m-160.1 5.5h22.6m109.4 0h28.1m-154.6 5.5h22.6m103.9 0h28.1m-149.1 5.5h28.1m87.4 0h33.6m-143.6 5.5h33.6m70.9 0h33.6m-127.1 5.5h39.1m43.4 0h44.6"/>
<path stroke="#ff9900" stroke-width="11.6" d="M1218.7 2165.1h44.6m-132.6 66h11.6m-11.6 11h11.6m-22.6 11h22.6m-22.6 11h11.6m-11.6 11h11.6m-11.6 11h11.6m-11.6 11h11.6m-11.6 11h11.6m-11.6 11h11.6m-11.6 11h22.6m-11.6 11h11.6m-11.6 11h11.6m43.4 55h110.6m-77.6 11h44.6"/>
<path stroke="#ff8c00" stroke-width="6.1" d="M1207.7 2184.3h50.1m-61.1 5.5h72.1m-83.1 5.5h22.6m37.9 0h28.1m-99.6 5.5h22.6m59.9 0h22.6m-110.6 5.5h17.1m76.4 0h17.1m-116.1 5.5h11.6m92.9 0h11.6m-121.6 5.5h11.6m98.4 0h11.6m-127.1 5.5h11.6m103.9 0h11.6m-127.1 5.5h11.6m98.4 0h11.6m-127.1 5.5h11.6m98.4 0h11.6m-127.1 5.5h11.6m98.4 0h6.1m-116.1 5.5h11.6m92.9 0h6.1m-110.6 5.5h6.1m-6.1 5.5h6.1m76.4 11h6.1m-11.6 16.5h6.1m-6.1 16.5h6.1m-.6 16.5h6.1m-88.6 11h6.1m-6.1 5.5h6.1m-6.1 5.5h11.6m92.9 0h6.1m-110.6 5.5h11.6m98.4 0h11.6m-116.1 5.5h11.6m98.4 0h11.6m-116.1 5.5h11.6m98.4 0h11.6m-121.6 5.5h11.6m103.9 0h11.6m-121.6 5.5h11.6m98.4 0h11.6m-116.1 5.5h17.1m87.4 0h17.1m-116.1 5.5h17.1m76.4 0h17.1m-105.1 5.5h22.6m59.9 0h22.6m-94.1 5.5h22.6m37.9 0h28.1m-77.6 5.5h72.1m-55.6 5.5h44.6"/>
<path stroke="#ff8c00" stroke-width="11.6" d="M1130.7 2264.1h11.6m-11.6 11h11.6m-11.6 11h11.6m-11.6 11h11.6m-11.6 11h11.6m-11.6 11h11.6"/>
<path stroke="#ff8000" stroke-width="6.1" d="M1207.7 2195.3h39.1m-50.1 5.5h61.1m-72.1 5.5h17.1m43.4 0h17.1m-88.6 5.5h17.1m65.4 0h11.6m-99.6 5.5h11.6m76.4 0h11.6m-105.1 5.5h11.6m81.9 0h11.6m-105.1 5.5h6.1m87.4 0h6.1m-105.1 5.5h6.1m87.4 0h6.1m-105.1 5.5h11.6m81.9 0h6.1m-99.6 5.5h6.1m81.9 0h6.1m-99.6 5.5h6.1m81.9 0h6.1m-94.1 5.5h6.1m76.4 0h6.1m-94.1 5.5h11.6m-11.6 5.5h6.1m-6.1 5.5h6.1m-6.1 5.5h6.1m70.9 0h6.1m-83.1 5.5h6.1m-6.1 5.5h6.1m-6.1 5.5h6.1m-6.1 5.5h6.1m-6.1 5.5h6.1m70.9 0h6.1m-83.1 5.5h6.1m-6.1 5.5h6.1m-6.1 5.5h11.6m-6.1 5.5h6.1m76.4 0h6.1m-88.6 5.5h11.6m76.4 0h6.1m-88.6 5.5h6.1m81.9 0h6.1m-94.1 5.5h11.6m81.9 0h6.1m-94.1 5.5h6.1m87.4 0h6.1m-94.1 5.5h6.1m87.4 0h6.1m-99.6 5.5h11.6m81.9 0h11.6m-99.6 5.5h11.6m76.4 0h11.6m-88.6 5.5h11.6m65.4 0h11.6m-83.1 5.5h17.1m43.4 0h17.1m-66.6 5.5h61.1m-50.1 5.5h39.1"/>
<path stroke="#ff7300" stroke-width="6.1" d="M1202.2 2206.3h44.6m-55.6 5.5h11.6m37.9 0h17.1m-77.6 5.5h11.6m59.9 0h6.1m-83.1 5.5h11.6m65.4 0h6.1m-88.6 5.5h11.6m70.9 0h6.1m-94.1 5.5h11.6m70.9 0h6.1m-88.6 5.5h6.1m70.9 0h6.1m-88.6 5.5h6.1m-11.6 5.5h11.6m-11.6 5.5h6.1m-6.1 5.5h6.1m65.4 0h6.1m-83.1 5.5h6.1m-6.1 5.5h6.1m65.4 0h6.1m-77.6 5.5h6.1m-6.1 5.5h6.1m-6.1 5.5h6.1m-6.1 5.5h6.1m-6.1 5.5h6.1m-6.1 5.5h6.1m-6.1 5.5h6.1m65.4 0h6.1m-77.6 5.5h6.1m-.6 5.5h6.1m65.4 0h6.1m-77.6 5.5h6.1m-.6 5.5h6.1m-6.1 5.5h6.1m-.6 5.5h6.1m70.9 0h6.1m-83.1 5.5h11.6m70.9 0h6.1m-83.1 5.5h11.6m70.9 0h6.1m-83.1 5.5h11.6m65.4 0h6.1m-77.6 5.5h11.6m59.9 0h6.1m-66.6 5.5h11.6m37.9 0h17.1m-55.6 5.5h44.6"/>
<path stroke="#ff6600" stroke-width="6.1" d="M1202.2 2211.8h39.1m-50.1 5.5h11.6m37.9 0h11.6m-66.6 5.5h6.1m54.4 0h6.1m-72.1 5.5h6.1m59.9 0h6.1m-77.6 5.5h6.1m59.9 0h6.1m-77.6 5.5h6.1m-11.6 5.5h6.1m65.4 0h6.1m-11.6 5.5h6.1m-77.6 5.5h6.1m-6.1 5.5h6.1m-11.6 5.5h6.1m-6.1 5.5h6.1m-6.1 5.5h6.1m-6.1 5.5h6.1m-6.1 5.5h6.1m-6.1 5.5h6.1m-6.1 5.5h6.1m-6.1 5.5h6.1m-6.1 5.5h6.1m-6.1 5.5h6.1m-.6 5.5h6.1m-6.1 5.5h6.1m65.4 5.5h6.1m-72.1 5.5h6.1m65.4 0h6.1m-72.1 5.5h6.1m-.6 5.5h6.1m59.9 0h6.1m-66.6 5.5h6.1m59.9 0h6.1m-66.6 5.5h6.1m54.4 0h6.1m-61.1 5.5h11.6m37.9 0h11.6m-50.1 5.5h39.1"/>
<path stroke="#ff5900" stroke-width="6.1" d="M1202.2 2217.3h17.1m4.9 0h17.1m-50.1 5.5h6.1m37.9 0h11.6m-61.1 5.5h6.1m48.9 0h6.1m-66.6 5.5h6.1m-11.6 5.5h6.1m54.4 0h6.1m-72.1 5.5h6.1m-11.6 5.5h6.1m-6.1 5.5h6.1m54.4 0h6.1m-72.1 11h6.1m54.4 0h6.1m-66.6 5.5h6.1m48.9 16.5h6.1m-6.1 5.5h6.1m-61.1 16.5h6.1m-6.1 5.5h6.1m54.4 0h6.1m-61.1 11h6.1m54.4 0h6.1m-66.6 5.5h6.1m-.6 5.5h6.1m-.6 5.5h6.1m54.4 0h6.1m-61.1 5.5h6.1m-.6 5.5h6.1m48.9 0h6.1m-55.6 5.5h11.6m32.4 0h11.6m-44.6 5.5h17.1m4.9 0h17.1"/>
<path stroke="#ff4c00" stroke-width="6.1" d="M1218.7 2217.3h6.1m-28.1 5.5h11.6m21.4 0h6.1m-44.6 5.5h6.1m37.9 0h6.1m-6.1 5.5h6.1m-66.6 11h6.1m48.9 0h6.1m-66.6 5.5h6.1m-11.6 11h6.1m-11.6 16.5h6.1m-6.1 5.5h6.1m48.9 0h6.1m-61.1 5.5h6.1m-6.1 5.5h6.1m-6.1 5.5h6.1m48.9 0h6.1m-61.1 5.5h6.1m-.6 16.5h6.1m-.6 11h6.1m-.6 5.5h6.1m48.9 0h6.1m-50.1 11h6.1m43.4 0h6.1m-50.1 5.5h6.1m37.9 0h6.1m-39.1 5.5h6.1m21.4 0h6.1m-17.1 5.5h6.1"/>
<path stroke="#ff4000" stroke-width="6.1" d="M1207.7 2222.8h22.6m-33.6 5.5h6.1m26.9 0h6.1m-50.1 5.5h6.1m37.9 0h6.1m-55.6 5.5h6.1m43.4 0h6.1m-11.6 11h6.1m-61.1 5.5h6.1m43.4 5.5h6.1m-61.1 5.5h6.1m-6.1 5.5h6.1m43.4 5.5h6.1m-6.1 27.5h6.1m-55.6 5.5h6.1m-6.1 5.5h6.1m48.9 5.5h6.1m-55.6 5.5h6.1m48.9 5.5h6.1m-50.1 11h6.1m43.4 0h6.1m-6.1 5.5h6.1m-39.1 5.5h6.1m26.9 0h6.1m-28.1 5.5h22.6"/>
<path stroke="#ff3300" stroke-width="6.1" d="M1202.2 2228.3h6.1m10.4 0h11.6m-39.1 5.5h6.1m26.9 0h6.1m-44.6 5.5h6.1m32.4 0h6.1m-50.1 5.5h6.1m37.9 0h6.1m-55.6 5.5h6.1m37.9 5.5h6.1m-55.6 5.5h6.1m37.9 11h6.1m-55.6 5.5h6.1m-6.1 5.5h6.1m-6.1 5.5h6.1m-6.1 5.5h6.1m-6.1 5.5h6.1m-6.1 5.5h6.1m43.4 5.5h6.1m-50.1 11h6.1m43.4 5.5h6.1m-50.1 5.5h6.1m-.6 5.5h6.1m37.9 0h6.1m-44.6 5.5h6.1m32.4 0h6.1m-39.1 5.5h6.1m26.9 0h6.1m-28.1 5.5h11.6m4.9 0h11.6"/>
<path stroke="#ff2600" stroke-width="6.1" d="M1207.7 2228.3h11.6m-22.6 5.5h6.1m15.9 16.5h6.1m-50.1 5.5h6.1m-11.6 11h6.1m37.9 0h6.1m-50.1 49.5h6.1m37.9 0h6.1m-44.6 11h6.1m37.9 5.5h6.1m-28.1 16.5h6.1m10.4 5.5h6.1"/>
<path stroke="#ff1a00" stroke-width="6.1" d="M1202.2 2233.8h22.6m-33.6 5.5h6.1m21.4 0h6.1m-39.1 5.5h6.1m26.9 0h6.1m-44.6 5.5h6.1m-11.6 11h6.1m32.4 0h6.1m-50.1 11h6.1m-6.1 5.5h6.1m-6.1 27.5h6.1m-6.1 5.5h6.1m-.6 11h6.1m32.4 0h6.1m-39.1 11h6.1m-.6 5.5h6.1m26.9 0h6.1m-33.6 5.5h6.1m21.4 0h6.1m-22.6 5.5h22.6"/>
<path stroke="#ff0d00" stroke-width="6.1" d="M1196.7 2239.3h6.1m10.4 16.5h6.1m-50.1 27.5h6.1m32.4 0h6.1m-44.6 5.5h6.1m32.4 0h6.1m-44.6 5.5h6.1m32.4 0h6.1m-44.6 5.5h6.1m32.4 0h6.1m-33.6 27.5h6.1m26.9 0h6.1m-22.6 16.5h6.1m10.4 0h6.1"/>
<path stroke="#ff0000" stroke-width="6.1" d="M1202.2 2239.3h17.1m-28.1 5.5h6.1m15.9 0h6.1m-33.6 5.5h6.1m21.4 0h6.1m-39.1 5.5h6.1m-11.6 11h6.1m26.9 5.5h6.1m-6.1 5.5h6.1m-6.1 27.5h6.1m-6.1 5.5h6.1m-39.1 5.5h6.1m4.9 16.5h6.1m21.4 0h6.1m-28.1 5.5h6.1m15.9 0h6.1m-17.1 5.5h11.6"/>
<path stroke="#f20000" stroke-width="6.1" d="M1196.7 2244.8h6.1m-22.6 16.5h6.1m21.4 5.5h6.1m-39.1 5.5h6.1m-6.1 38.5h6.1m26.9 5.5h6.1m-33.6 5.5h6.1m10.4 16.5h6.1m4.9 0h6.1"/>
<path stroke="#e50000" stroke-width="6.1" d="M1202.2 2244.8h11.6m-22.6 5.5h6.1m10.4 0h6.1m-28.1 5.5h6.1m15.9 0h6.1m-6.1 5.5h6.1m-39.1 16.5h6.1m-6.1 27.5h6.1m26.9 16.5h6.1m-28.1 5.5h6.1m15.9 0h6.1m-22.6 5.5h6.1m10.4 0h6.1m-11.6 5.5h6.1"/>
<path stroke="#d90000" stroke-width="6.1" d="M1196.7 2250.3h11.6m-28.1 16.5h6.1m-11.6 16.5h6.1m-6.1 5.5h6.1m-6.1 5.5h6.1m-6.1 5.5h6.1m-.6 16.5h6.1m10.4 16.5h11.6"/>
<path stroke="#cc0000" stroke-width="6.1" d="M1191.2 2255.8h6.1m4.9 0h6.1m-22.6 5.5h6.1m-11.6 11h6.1m15.9 5.5h6.1m-6.1 5.5h6.1m-6.1 5.5h6.1m-6.1 5.5h6.1m-6.1 5.5h6.1m-6.1 5.5h6.1m-28.1 5.5h6.1m-.6 11h6.1m-.6 5.5h6.1m4.9 0h6.1"/>
<path stroke="#bf0000" stroke-width="6.1" d="M1196.7 2255.8h6.1m-.6 5.5h6.1m-6.1 5.5h6.1m-6.1 5.5h6.1m-28.1 33h6.1m15.9 5.5h6.1m-6.1 5.5h6.1m-6.1 5.5h6.1m-11.6 5.5h6.1"/>
<path stroke="#b30000" stroke-width="6.1" d="M1191.2 2261.3h11.6m-17.1 5.5h6.1m-11.6 11h6.1m-6.1 5.5h6.1m-6.1 16.5h6.1m-.6 16.5h6.1m-.6 5.5h11.6"/>
<path stroke="#a60000" stroke-width="6.1" d="M1191.2 2266.8h11.6m-17.1 5.5h6.1m-11.6 16.5h6.1m-6.1 5.5h6.1m-.6 16.5h6.1m-.6 5.5h11.6"/>
<path stroke="#990000" stroke-width="6.1" d="M1196.7 2272.3h6.1m-17.1 5.5h6.1m4.9 0h6.1m-6.1 5.5h6.1m-6.1 5.5h6.1m-6.1 5.5h6.1m-6.1 5.5h6.1m-17.1 5.5h6.1m4.9 0h6.1m-6.1 5.5h6.1"/>
<path stroke="#8c0000" stroke-width="6.1" d="M1191.2 2272.3h6.1m-6.1 5.5h6.1m-11.6 5.5h6.1m-6.1 5.5h6.1m-6.1 5.5h6.1m-6.1 5.5h6.1m-.6 5.5h6.1m-6.1 5.5h6.1"/>
<path stroke="#800000" stroke-width="6.1" d="M1191.2 2283.3h6.1m-6.1 5.5h6.1m-6.1 5.5h6.1m-6.1 5.5h6.1"/>
</g>
<path fill="url(#pt1)" d="M920.7 1960.6h670.2v11h-670.2zM920.7 1971.6h670.2v11.2h-670.2zM920.7 1982.8h670.2v11.2h-670.2zM920.7 1994h257.2v11.2h-257.2zM1278.2 1994h312.7v11.2h-312.7zM920.7 2005.2h212.7v11.2h-212.7zM1311.6 2005.2h279.3v11.2h-279.3zM920.7 2016.4h190.4v11.2h-190.4zM1345 2016.4h245.9v11.2h-245.9zM920.7 2027.6h168.1v11.2h-168.1zM1367.3 2027.6h223.6v11.2h-223.6zM920.7 2038.8h145.8v11.2h-145.8zM1378.5 2038.8h212.4v11.2h-212.4zM920.7 2050h134.7v11.2h-134.7zM1389.6 2050h201.3v11.2h-201.3zM920.7 2061.2h123.6v11.2h-123.6zM1411.9 2061.2h179v11.2h-179zM920.7 2072.4h112.4v11.2h-112.4zM1423 2072.4h167.9v11.2h-167.9zM920.7 2083.6h101.3v11.2h-101.3zM1423 2083.6h167.9v11.2h-167.9zM920.7 2094.8h90.1v11.2h-90.1zM1434.2 2094.8h156.7v11.2h-156.7zM920.7 2106h90.1v11.2h-90.1zM1445.3 2106h145.6v11.2h-145.6zM920.7 2117.2h79v11.2h-79zM1445.3 2117.2h145.6v11.2h-145.6zM920.7 2128.4h79v11.2h-79zM1456.4 2128.4h134.5v11.2h-134.5zM920.7 2139.6h67.9v11.2h-67.9zM1456.4 2139.6h134.5v11.2h-134.5zM920.7 2150.8h67.9v11.2h-67.9zM1467.6 2150.8h123.3v11.2h-123.3zM920.7 2162h67.9v11.2h-67.9zM1467.6 2162h123.3v11.2h-123.3zM920.7 2173.2h56.7v11.2h-56.7zM1467.6 2173.2h123.3v11.2h-123.3zM920.7 2184.4h56.7v11.2h-56.7zM1467.6 2184.4h123.3v11.2h-123.3zM920.7 2195.6h56.7v11.2h-56.7zM1467.6 2195.6h123.3v11.2h-123.3zM920.7 2206.8h56.7v11.2h-56.7zM1467.6 2206.8h123.3v11.2h-123.3zM920.7 2218h67.9v11.2h-67.9zM1467.6 2218h123.3v11.2h-123.3zM920.7 2229.2h67.9v11.2h-67.9zM1467.6 2229.2h123.3v11.2h-123.3zM920.7 2240.4h79v11.2h-79zM1456.4 2240.4h134.5v11.2h-134.5zM920.7 2251.6h90.1v11.2h-90.1zM1445.3 2251.6h145.6v11.2h-145.6zM920.7 2262.8h112.4v11.2h-112.4zM1434.2 2262.8h156.7v11.2h-156.7zM920.7 2274h157v11.2h-157zM1400.8 2274h190.2v11.2h-190.2zM920.7 2285.2h246.1v11.2h-246.1zM1267.1 2285.2h323.8v11.2h-323.8zM920.7 2296.4h134.7v11.2h-134.7zM1367.3 2296.4h223.6v11.2h-223.6zM920.7 2307.6h90.1v11.2h-90.1zM1423 2307.6h167.9v11.2h-167.9zM920.7 2318.8h79v11.2h-79zM1445.3 2318.8h145.6v11.2h-145.6zM920.7 2330h67.9v11.2h-67.9zM1456.4 2330h134.5v11.2h-134.5zM920.7 2341.2h67.9v11.2h-67.9zM1456.4 2341.2h134.5v11.2h-134.5zM920.7 2352.4h56.7v11.2h-56.7zM1467.6 2352.4h123.3v11.2h-123.3zM920.7 2363.6h56.7v11.2h-56.7zM1467.6 2363.6h123.3v11.2h-123.3zM920.7 2374.8h56.7v11.2h-56.7zM1467.6 2374.8h123.3v11.2h-123.3zM920.7 2386h56.7v11.2h-56.7zM1467.6 2386h123.3v11.2h-123.3zM920.7 2397.2h56.7v11.2h-56.7zM1467.6 2397.2h123.3v11.2h-123.3zM920.7 2408.4h56.7v11.2h-56.7zM1467.6 2408.4h123.3v11.2h-123.3zM920.7 2419.6h67.9v11.2h-67.9zM1467.6 2419.6h123.3v11.2h-123.3zM920.7 2430.8h67.9v11.2h-67.9zM1456.4 2430.8h134.5v11.2h-134.5zM920.7 2442h67.9v11.2h-67.9zM1456.4 2442h134.5v11.2h-134.5zM920.7 2453.2h79v11.2h-79zM1445.3 2453.2h145.6v11.2h-145.6zM920.7 2464.4h90.1v11.2h-90.1zM1445.3 2464.4h145.6v11.2h-145.6zM920.7 2475.6h90.1v11.2h-90.1zM1434.2 2475.6h156.7v11.2h-156.7zM920.7 2486.8h101.3v11.2h-101.3zM1423 2486.8h167.9v11.2h-167.9zM920.7 2498h112.4v11.2h-112.4zM1423 2498h167.9v11.2h-167.9zM920.7 2509.2h123.6v11.2h-123.6zM1411.9 2509.2h179v11.2h-179zM920.7 2520.4h134.7v11.2h-134.7zM1389.6 2520.4h201.3v11.2h-201.3zM920.7 2531.6h145.8v11.2h-145.8zM1378.5 2531.6h212.4v11.2h-212.4zM920.7 2542.8h168.1v11.2h-168.1zM1367.3 2542.8h223.6v11.2h-223.6zM920.7 2554h190.4v11.2h-190.4zM1345 2554h245.9v11.2h-245.9zM920.7 2565.2h212.7v11.2h-212.7zM1311.6 2565.2h279.3v11.2h-279.3zM920.7 2576.4h257.2v11.2h-257.2zM1278.2 2576.4h312.7v11.2h-312.7zM920.7 2587.6h670.2v11.2h-670.2zM920.7 2598.8h670.2v11.2h-670.2zM920.7 2610h670.2v11.2h-670.2z"/>
<use href="#ar1" stroke="#000" stroke-width="3" fill="none"/>
<use href="#ar1" stroke="#000" fill="none" stroke-width="6.2" stroke-linecap="round" stroke-dasharray="4 199" stroke-dashoffset="-2.6"/>
</g>
<rect x="1606.4" y="1961.6" width="664" height="658.6" fill="#cc0000"/>
<g clip-path="url(#cp2)"><g filter="url(#bl2)" fill="none">
<path stroke="#000099" stroke-width="6.1" d="M1936.4 2288.8h11.6m-11.6 5.5h11.6"/>
<path stroke="#000dff" stroke-width="6.1" d="M1936.4 2283.3h11.6m-17.1 5.5h6.1m10.4 0h6.1m-22.6 5.5h6.1m10.4 0h6.1m-17.1 5.5h11.6"/>
<path stroke="#0066ff" stroke-width="6.1" d="M1930.9 2283.3h6.1m-6.1 16.5h6.1m10.4 0h6.1"/>
<path stroke="#0073ff" stroke-width="6.1" d="M1947.4 2283.3h6.1"/>
<path stroke="#00b2ff" stroke-width="6.1" d="M1925.4 2294.3h6.1m4.9 11h6.1"/>
<path stroke="#00bfff" stroke-width="6.1" d="M1936.4 2277.8h11.6m-22.6 11h6.1m21.4 0h6.1m-6.1 5.5h6.1m-17.1 11h6.1"/>
<path stroke="#00ffff" stroke-width="6.1" d="M1925.4 2283.3h6.1m-6.1 16.5h6.1m-.6 5.5h6.1m10.4 0h6.1"/>
<path stroke="#0dfff2" stroke-width="6.1" d="M1930.9 2277.8h6.1m10.4 0h6.1m-.6 5.5h6.1m-6.1 16.5h6.1"/>
<path stroke="#73ff8c" stroke-width="6.1" d="M1925.4 2305.3h6.1m4.9 5.5h11.6"/>
<path stroke="#80ff80" stroke-width="6.1" d="M1936.4 2272.3h11.6m-22.6 5.5h6.1m21.4 0h6.1m-39.1 11h6.1m32.4 0h6.1m-44.6 5.5h6.1m32.4 0h6.1m-11.6 11h6.1"/>
<path stroke="#a6ff59" stroke-width="6.1" d="M1919.9 2283.3h6.1m-6.1 16.5h6.1m4.9 11h6.1m10.4 0h6.1"/>
<path stroke="#b3ff4c" stroke-width="6.1" d="M1930.9 2272.3h6.1m10.4 0h6.1m4.9 11h6.1m-6.1 16.5h6.1"/>
<path stroke="#f2ff0d" stroke-width="6.1" d="M1919.9 2305.3h6.1m-.6 5.5h6.1"/>
<path stroke="#ffff00" stroke-width="6.1" d="M1925.4 2272.3h6.1m21.4 0h6.1m-39.1 5.5h6.1m32.4 0h6.1m-6.1 27.5h6.1m-11.6 5.5h6.1"/>
<path stroke="#ffe500" stroke-width="6.1" d="M1936.4 2266.8h11.6m-33.6 22h6.1m43.4 0h6.1m-55.6 5.5h6.1m43.4 0h6.1m-33.6 22h11.6"/>
<path stroke="#ffcc00" stroke-width="6.1" d="M1930.9 2266.8h6.1m-22.6 16.5h6.1m43.4 0h6.1m-55.6 16.5h6.1m43.4 0h6.1m-39.1 16.5h6.1m10.4 0h6.1"/>
<path stroke="#ffbf00" stroke-width="6.1" d="M1947.4 2266.8h6.1"/>
<path stroke="#ffb300" stroke-width="6.1" d="M1919.9 2272.3h6.1m32.4 0h6.1m-44.6 38.5h6.1m32.4 0h6.1"/>
<path stroke="#ff9900" stroke-width="6.1" d="M1925.4 2266.8h6.1m21.4 0h6.1m-44.6 11h6.1m43.4 0h6.1m-55.6 27.5h6.1m43.4 0h6.1m-44.6 11h6.1m21.4 0h6.1"/>
<path stroke="#ff7300" stroke-width="6.1" d="M1936.4 2261.3h11.6m-39.1 27.5h6.1m54.4 0h6.1m-66.6 5.5h6.1m54.4 0h6.1m-39.1 27.5h11.6"/>
<path stroke="#ff6600" stroke-width="6.1" d="M1930.9 2261.3h6.1m10.4 0h6.1m-33.6 5.5h6.1m32.4 0h6.1m-50.1 5.5h6.1m43.4 0h6.1m-61.1 11h6.1m54.4 0h6.1m-66.6 16.5h6.1m54.4 0h6.1m-61.1 11h6.1m43.4 0h6.1m-50.1 5.5h6.1m32.4 0h6.1m-33.6 5.5h6.1m10.4 0h6.1"/>
<path stroke="#ff5900" stroke-width="6.1" d="M1969.4 2305.3h6.1"/>
<path stroke="#ff4c00" stroke-width="6.1" d="M1925.4 2261.3h6.1m21.4 0h6.1m-50.1 16.5h6.1m54.4 0h6.1m-66.6 27.5h6.1m10.4 16.5h6.1m21.4 0h6.1"/>
<path stroke="#ff4000" stroke-width="6.1" d="M1914.4 2266.8h6.1m43.4 0h6.1m-.6 5.5h6.1m-.6 16.5h6.1m-6.1 5.5h6.1m-11.6 16.5h6.1m-61.1 5.5h6.1m43.4 0h6.1m-11.6 5.5h6.1"/>
<path stroke="#ff3300" stroke-width="6.1" d="M1930.9 2255.8h22.6m-33.6 5.5h6.1m32.4 0h6.1m-55.6 11h6.1m-11.6 11h6.1m65.4 0h6.1m-77.6 5.5h6.1m-6.1 5.5h6.1m-6.1 5.5h6.1m65.4 0h6.1m-72.1 11h6.1m4.9 11h6.1m4.9 5.5h22.6"/>
<path stroke="#ff2600" stroke-width="6.1" d="M1925.4 2255.8h6.1m21.4 0h6.1m-44.6 5.5h6.1m43.4 0h6.1m-61.1 5.5h6.1m54.4 0h6.1m-72.1 11h6.1m65.4 0h6.1m-77.6 27.5h6.1m65.4 0h6.1m-72.1 11h6.1m54.4 0h6.1m-61.1 5.5h6.1m43.4 0h6.1m-44.6 5.5h6.1m21.4 0h6.1"/>
<path stroke="#ff1a00" stroke-width="6.1" d="M1930.9 2250.3h22.6m-33.6 5.5h6.1m32.4 0h11.6m-.6 5.5h6.1m-.6 5.5h6.1m-77.6 5.5h6.1m65.4 0h6.1m-.6 5.5h6.1m-88.6 5.5h6.1m76.4 0h6.1m-88.6 5.5h6.1m76.4 0h6.1m-88.6 5.5h6.1m76.4 0h6.1m-88.6 5.5h6.1m76.4 0h6.1m-6.1 5.5h6.1m-83.1 5.5h6.1m65.4 0h6.1m-6.1 5.5h6.1m-11.6 5.5h6.1m-55.6 5.5h6.1m32.4 0h11.6m-39.1 5.5h22.6"/>
<path stroke="#ff0d00" stroke-width="6.1" d="M1925.4 2244.8h39.1m-50.1 5.5h17.1m21.4 0h22.6m-66.6 5.5h11.6m48.9 0h11.6m-77.6 5.5h11.6m59.9 0h11.6m-83.1 5.5h6.1m70.9 0h6.1m-88.6 5.5h6.1m76.4 0h11.6m-94.1 5.5h6.1m81.9 0h6.1m-6.1 5.5h11.6m-105.1 5.5h6.1m87.4 0h11.6m-105.1 5.5h6.1m87.4 0h11.6m-11.6 5.5h11.6m-99.6 5.5h6.1m81.9 0h6.1m-94.1 5.5h6.1m76.4 0h11.6m-88.6 5.5h6.1m70.9 0h6.1m-83.1 5.5h11.6m59.9 0h11.6m-77.6 5.5h11.6m48.9 0h11.6m-61.1 5.5h11.6m21.4 0h22.6m-44.6 5.5h28.1"/>
<path stroke="#ff0000" stroke-width="6.1" d="M1903.4 2239.3h94.1m-99.6 5.5h28.1m37.9 0h39.1m-110.6 5.5h22.6m59.9 0h28.1m-110.6 5.5h17.1m70.9 0h22.6m-116.1 5.5h17.1m81.9 0h17.1m-116.1 5.5h17.1m81.9 0h17.1m-121.6 5.5h17.1m92.9 0h11.6m-121.6 5.5h17.1m92.9 0h11.6m-121.6 5.5h17.1m98.4 0h6.1m-121.6 5.5h11.6m103.9 0h6.1m-121.6 5.5h11.6m103.9 0h6.1m-121.6 5.5h17.1m98.4 0h6.1m-121.6 5.5h17.1m92.9 0h11.6m-121.6 5.5h17.1m92.9 0h11.6m-116.1 5.5h17.1m81.9 0h17.1m-116.1 5.5h17.1m81.9 0h17.1m-110.6 5.5h17.1m70.9 0h22.6m-110.6 5.5h28.1m54.4 0h28.1m-105.1 5.5h33.6m26.9 0h44.6m-99.6 5.5h94.1"/>
<path stroke="#ff0000" stroke-width="11.6" d="M1914.4 2231.1h66.6m21.4 33h11.6m-11.6 11h11.6m-11.6 11h22.6m-22.6 11h22.6m-22.6 11h11.6m-11.6 11h11.6m-99.6 33h66.6"/>
<path stroke="#f20000" stroke-width="6.1" d="M1881.4 2239.3h22.6m92.9 0h6.1m-121.6 5.5h17.1m-17.1 5.5h11.6m-11.6 5.5h11.6m-11.6 5.5h6.1m-6.1 5.5h6.1m-6.1 49.5h6.1m-6.1 5.5h6.1m-6.1 5.5h11.6m-11.6 5.5h11.6m-11.6 5.5h17.1m-17.1 5.5h22.6m92.9 0h6.1"/>
<path stroke="#f20000" stroke-width="11.6" d="M1947.4 2198.1h11.6m-55.6 11h88.6m-99.6 11h121.6m-132.6 11h33.6m65.4 0h44.6m-154.6 11h11.6m120.4 0h33.6m-165.6 11h11.6m120.4 0h33.6m-176.6 11h22.6m131.4 0h22.6m-176.6 11h22.6m131.4 0h33.6m-187.6 11h22.6m142.4 0h22.6m-187.6 11h22.6m142.4 0h22.6m-187.6 11h22.6m131.4 0h33.6m-187.6 11h22.6m131.4 0h22.6m-165.6 11h11.6m120.4 0h33.6m-165.6 11h11.6m120.4 0h22.6m-143.6 11h33.6m65.4 0h44.6m-132.6 11h121.6m-99.6 11h77.6"/>
<path stroke="#e50000" stroke-width="11.6" d="M1936.4 2176.1h44.6m-77.6 11h110.6m-121.6 11h55.6m10.4 0h66.6m-154.6 11h33.6m87.4 0h44.6m-165.6 11h22.6m120.4 0h33.6m-187.6 11h22.6m142.4 0h33.6m-209.6 11h22.6m164.4 0h22.6m-209.6 11h22.6m164.4 0h33.6m-220.6 11h11.6m175.4 0h33.6m-220.6 11h11.6m186.4 0h22.6m-231.6 11h22.6m186.4 0h22.6m-231.6 11h22.6m186.4 0h22.6m-220.6 11h11.6m186.4 0h22.6m-220.6 11h11.6m175.4 0h33.6m-220.6 11h22.6m164.4 0h33.6m-220.6 11h22.6m153.4 0h33.6m-198.6 11h22.6m142.4 0h33.6m-187.6 11h22.6m120.4 0h33.6m-165.6 11h33.6m76.4 0h44.6m-143.6 11h132.6m-121.6 11h110.6m-77.6 11h44.6"/>
<path stroke="#d90000" stroke-width="11.6" d="M1958.4 2143.1h44.6m-77.6 11h110.6m-132.6 11h154.6m-176.6 11h55.6m43.4 0h88.6m-198.6 11h33.6m109.4 0h66.6m-220.6 11h33.6m131.4 0h66.6m-231.6 11h11.6m164.4 0h55.6m-242.6 11h22.6m175.4 0h55.6m-264.6 11h22.6m197.4 0h44.6m-264.6 11h11.6m208.4 0h55.6m-275.6 11h11.6m219.4 0h44.6m-286.6 11h22.6m219.4 0h44.6m-286.6 11h22.6m219.4 0h44.6m-286.6 11h11.6m230.4 0h55.6m-297.6 11h11.6m230.4 0h55.6m-297.6 11h22.6m219.4 0h44.6m-286.6 11h22.6m219.4 0h44.6m-275.6 11h11.6m219.4 0h44.6m-275.6 11h11.6m208.4 0h55.6m-275.6 11h22.6m197.4 0h44.6m-253.6 11h22.6m175.4 0h55.6m-242.6 11h22.6m153.4 0h55.6m-231.6 11h33.6m131.4 0h66.6m-220.6 11h33.6m109.4 0h66.6m-198.6 11h55.6m43.4 0h88.6m-165.6 11h154.6m-132.6 11h110.6m-66.6 11h22.6"/>
<path stroke="#bf0000" stroke-width="11.6" d="M1826.4 2121.1h66.6m-88.6 11h88.6m-110.6 11h99.6m-110.6 11h99.6m-110.6 11h110.6m-110.6 11h33.6m32.4 0h33.6m-110.6 11h33.6m43.4 0h22.6m-110.6 11h33.6m54.4 0h22.6m-110.6 11h22.6m54.4 0h22.6m-110.6 11h33.6m54.4 0h11.6m-99.6 11h22.6m65.4 0h11.6m-99.6 11h22.6m54.4 0h22.6m-99.6 11h22.6m54.4 0h11.6m-99.6 11h22.6m65.4 0h11.6m-99.6 11h22.6m65.4 0h11.6m-99.6 11h22.6m65.4 0h11.6m-99.6 11h22.6m65.4 0h11.6m-99.6 11h22.6m65.4 0h11.6m-99.6 11h22.6m65.4 0h11.6m-88.6 11h22.6m54.4 0h11.6m-88.6 11h22.6m54.4 0h22.6m-99.6 11h22.6m65.4 0h11.6m-99.6 11h33.6m54.4 0h11.6m-88.6 11h22.6m54.4 0h22.6m-99.6 11h33.6m54.4 0h22.6m-99.6 11h33.6m43.4 0h22.6m-88.6 11h33.6m32.4 0h33.6m-99.6 11h55.6m10.4 0h44.6m-99.6 11h110.6m-99.6 11h99.6m-77.6 11h88.6m-66.6 11h66.6"/>
<path stroke="#b30000" stroke-width="11.6" d="M1793.4 2176.1h33.6m-44.6 11h44.6m-55.6 11h55.6m-66.6 11h55.6m-55.6 11h55.6m-66.6 11h66.6m-66.6 11h22.6m21.4 0h11.6m-55.6 11h22.6m21.4 0h11.6m-66.6 11h22.6m32.4 0h11.6m-66.6 11h22.6m32.4 0h11.6m-66.6 11h22.6m32.4 0h11.6m-66.6 11h22.6m32.4 0h11.6m-66.6 11h22.6m32.4 0h11.6m-66.6 11h22.6m32.4 0h11.6m-55.6 11h22.6m21.4 0h11.6m-55.6 11h22.6m21.4 0h11.6m-55.6 11h66.6m-55.6 11h55.6m-55.6 11h55.6m-44.6 11h55.6m-44.6 11h44.6m-33.6 11h33.6m-11.6 11h11.6"/>
<path stroke="#a60000" stroke-width="11.6" d="M1771.4 2242.1h22.6m-22.6 11h22.6m-33.6 11h33.6m-33.6 11h33.6m-33.6 11h33.6m-33.6 11h33.6m-33.6 11h33.6m-33.6 11h33.6m-22.6 11h22.6m-22.6 11h22.6"/>
</g>
<path fill="url(#pt2)" d="M1605.4 1960.6h91.8v11h-91.8zM2029.3 1960.6h242.1v11h-242.1zM1605.4 1971.6h80.8v11.2h-80.8zM2051.5 1971.6h219.9v11.2h-219.9zM1605.4 1982.8h58.6v11.2h-58.6zM2062.5 1982.8h208.9v11.2h-208.9zM1605.4 1994h47.5v11.2h-47.5zM2073.6 1994h197.8v11.2h-197.8zM1605.4 2005.2h36.5v11.2h-36.5zM2095.7 2005.2h175.7v11.2h-175.7zM1605.4 2016.4h25.4v11.2h-25.4zM2106.8 2016.4h164.6v11.2h-164.6zM1605.4 2027.6h14.3v11.2h-14.3zM2106.8 2027.6h164.6v11.2h-164.6zM2117.9 2038.8h153.5v11.2h-153.5zM2129 2050h142.4v11.2h-142.4zM2140 2061.2h131.4v11.2h-131.4zM2140 2072.4h131.4v11.2h-131.4zM2151.1 2083.6h120.3v11.2h-120.3zM2151.1 2094.8h120.3v11.2h-120.3zM2162.2 2106h109.2v11.2h-109.2zM2162.2 2117.2h109.2v11.2h-109.2zM2162.2 2128.4h109.2v11.2h-109.2zM2162.2 2139.6h109.2v11.2h-109.2zM2162.2 2150.8h109.2v11.2h-109.2zM2162.2 2162h109.2v11.2h-109.2zM2162.2 2173.2h109.2v11.2h-109.2zM2162.2 2184.4h109.2v11.2h-109.2zM2162.2 2195.6h109.2v11.2h-109.2zM2162.2 2206.8h109.2v11.2h-109.2zM2151.1 2218h120.3v11.2h-120.3zM2151.1 2229.2h120.3v11.2h-120.3zM2140 2240.4h131.4v11.2h-131.4zM2129 2251.6h142.4v11.2h-142.4zM1605.4 2262.8h25.4v11.2h-25.4zM2106.8 2262.8h164.6v11.2h-164.6zM1605.4 2274h58.6v11.2h-58.6zM2062.5 2274h208.9v11.2h-208.9zM1605.4 2285.2h147.2v11.2h-147.2zM2040.4 2285.2h231v11.2h-231zM1605.4 2296.4h69.7v11.2h-69.7zM2062.5 2296.4h208.9v11.2h-208.9zM1605.4 2307.6h25.4v11.2h-25.4zM2106.8 2307.6h164.6v11.2h-164.6zM2129 2318.8h142.4v11.2h-142.4zM2140 2330h131.4v11.2h-131.4zM2151.1 2341.2h120.3v11.2h-120.3zM2151.1 2352.4h120.3v11.2h-120.3zM2162.2 2363.6h109.2v11.2h-109.2zM2162.2 2374.8h109.2v11.2h-109.2zM2162.2 2386h109.2v11.2h-109.2zM2162.2 2397.2h109.2v11.2h-109.2zM2162.2 2408.4h109.2v11.2h-109.2zM2162.2 2419.6h109.2v11.2h-109.2zM2162.2 2430.8h109.2v11.2h-109.2zM2162.2 2442h109.2v11.2h-109.2zM2162.2 2453.2h109.2v11.2h-109.2zM2162.2 2464.4h109.2v11.2h-109.2zM2151.1 2475.6h120.3v11.2h-120.3zM2151.1 2486.8h120.3v11.2h-120.3zM2140 2498h131.4v11.2h-131.4zM2140 2509.2h131.4v11.2h-131.4zM2129 2520.4h142.4v11.2h-142.4zM2117.9 2531.6h153.5v11.2h-153.5zM1605.4 2542.8h14.3v11.2h-14.3zM2117.9 2542.8h153.5v11.2h-153.5zM1605.4 2554h25.4v11.2h-25.4zM2106.8 2554h164.6v11.2h-164.6zM1605.4 2565.2h36.5v11.2h-36.5zM2095.7 2565.2h175.7v11.2h-175.7zM1605.4 2576.4h47.5v11.2h-47.5zM2084.7 2576.4h186.7v11.2h-186.7zM1605.4 2587.6h58.6v11.2h-58.6zM2062.5 2587.6h208.9v11.2h-208.9zM1605.4 2598.8h69.7v11.2h-69.7zM2051.5 2598.8h219.9v11.2h-219.9zM1605.4 2610h91.8v11.2h-91.8zM2040.4 2610h231v11.2h-231z"/>
<use href="#ar2" stroke="#000" stroke-width="2.6" fill="none"/>
<use href="#ar2" stroke="#000" fill="none" stroke-width="5.4" stroke-linecap="round" stroke-dasharray="3.6 199" stroke-dashoffset="-2.2"/>
</g>
<rect x="234.9" y="2779.1" width="666.3" height="657" fill="#7aff85"/>
<g clip-path="url(#cp3)"><g filter="url(#bl3)" fill="none">
<path stroke="#000080" stroke-width="5.6" d="M564.9 3111.6h5.6"/>
<path stroke="#00008c" stroke-width="5.6" d="M569.9 3111.6h5.6"/>
<path stroke="#000099" stroke-width="5.6" d="M564.9 3106.6h5.6"/>
<path stroke="#0000a6" stroke-width="5.6" d="M569.9 3106.6h5.6m-10.6 10h5.6"/>
<path stroke="#0000b2" stroke-width="5.6" d="M569.9 3116.6h5.6"/>
<path stroke="#0000bf" stroke-width="5.6" d="M559.9 3111.6h5.6m9.4 0h5.6"/>
<path stroke="#0000d9" stroke-width="5.6" d="M559.9 3106.6h5.6m9.4 0h5.6m-20.6 10h5.6m9.4 0h5.6"/>
<path stroke="#0000f2" stroke-width="5.6" d="M564.9 3101.6h10.6"/>
<path stroke="#0000ff" stroke-width="5.6" d="M579.9 3111.6h5.6m-20.6 10h10.6"/>
<path stroke="#001aff" stroke-width="5.6" d="M574.9 3101.6h5.6m-.6 5h5.6m-5.6 10h5.6"/>
<path stroke="#0026ff" stroke-width="5.6" d="M559.9 3101.6h5.6m9.4 20h5.6"/>
<path stroke="#0033ff" stroke-width="5.6" d="M559.9 3121.6h5.6"/>
<path stroke="#0040ff" stroke-width="5.6" d="M554.9 3111.6h5.6"/>
<path stroke="#004dff" stroke-width="5.6" d="M579.9 3101.6h5.6m-30.6 5h5.6m24.4 5h5.6"/>
<path stroke="#0059ff" stroke-width="5.6" d="M584.9 3106.6h5.6m-35.6 10h5.6m24.4 0h5.6m-10.6 5h5.6"/>
<path stroke="#0066ff" stroke-width="5.6" d="M564.9 3096.6h10.6"/>
<path stroke="#0073ff" stroke-width="5.6" d="M574.9 3096.6h5.6m-15.6 30h10.6"/>
<path stroke="#0080ff" stroke-width="5.6" d="M584.9 3101.6h5.6m-.6 10h5.6m-20.6 15h5.6"/>
<path stroke="#008cff" stroke-width="5.6" d="M559.9 3096.6h5.6m-10.6 5h5.6m29.4 5h5.6m-10.6 15h5.6"/>
<path stroke="#0099ff" stroke-width="5.6" d="M579.9 3096.6h5.6m4.4 20h5.6m-40.6 5h5.6m-.6 5h5.6"/>
<path stroke="#00a6ff" stroke-width="5.6" d="M579.9 3126.6h5.6"/>
<path stroke="#00b2ff" stroke-width="5.6" d="M589.9 3101.6h5.6m-.6 5h5.6m-5.6 5h5.6m-10.6 10h5.6"/>
<path stroke="#00bfff" stroke-width="5.6" d="M584.9 3096.6h5.6m4.4 20h5.6"/>
<path stroke="#00ccff" stroke-width="5.6" d="M564.9 3091.6h10.6m19.4 10h5.6m-.6 5h5.6m-5.6 5h5.6m-5.6 5h5.6m-20.6 10h5.6"/>
<path stroke="#00d9ff" stroke-width="5.6" d="M574.9 3091.6h5.6m-25.6 5h5.6m29.4 0h5.6m9.4 10h5.6m-5.6 5h10.6m-10.6 5h5.6m-15.6 5h5.6m-35.6 10h15.6"/>
<path stroke="#00e5ff" stroke-width="5.6" d="M579.9 3091.6h5.6m14.4 10h5.6m4.4 5h10.6m-70.6 5h5.6m59.4 0h10.6m-15.6 5h10.6m-20.6 5h5.6m-50.6 5h5.6m29.4 0h5.6"/>
<path stroke="#00f2ff" stroke-width="5.6" d="M559.9 3091.6h5.6m29.4 5h5.6m4.4 5h15.6m-70.6 5h5.6m64.4 0h10.6m-5.6 5h5.6m-10.6 5h5.6m-20.6 5h10.6m-55.6 10h5.6m14.4 0h5.6"/>
<path stroke="#00ffff" stroke-width="5.6" d="M584.9 3091.6h5.6m9.4 5h5.6m14.4 5h10.6m-.6 5h5.6m-5.6 5h5.6m-85.6 5h5.6m69.4 0h10.6m-20.6 5h10.6m-30.6 5h5.6m-15.6 5h5.6"/>
<path stroke="#0dfff2" stroke-width="5.6" d="M589.9 3091.6h5.6m9.4 5h15.6m9.4 5h5.6m-.6 5h5.6m-5.6 5h5.6m-5.6 5h5.6m-15.6 5h10.6m-35.6 5h15.6"/>
<path stroke="#1affe5" stroke-width="5.6" d="M564.9 3086.6h15.6m14.4 5h5.6m19.4 5h10.6m-80.6 5h5.6m79.4 0h5.6m-.6 5h5.6m-5.6 5h5.6m-5.6 5h5.6m-10.6 5h5.6m-25.6 5h15.6m-40.6 5h10.6"/>
<path stroke="#26ffd9" stroke-width="5.6" d="M579.9 3086.6h10.6m-35.6 5h5.6m39.4 0h25.6m4.4 5h10.6m-.6 5h5.6m-95.6 20h5.6m84.4 0h5.6m-15.6 5h10.6m-40.6 5h15.6m-50.6 5h20.6"/>
<path stroke="#26ffd9" stroke-width="10.6" d="M644.9 3104.1h10.6m-10.6 10h10.6"/>
<path stroke="#33ffcc" stroke-width="5.6" d="M559.9 3086.6h5.6m24.4 0h10.6m24.4 5h10.6m4.4 5h5.6m-5.6 30h5.6m-90.6 5h5.6m54.4 0h20.6m-50.6 5h10.6"/>
<path stroke="#33ffcc" stroke-width="10.6" d="M644.9 3124.1h10.6"/>
<path stroke="#40ffbf" stroke-width="5.6" d="M599.9 3086.6h35.6m-.6 5h10.6m-10.6 40h10.6m-85.6 5h5.6m29.4 0h30.6"/>
<path stroke="#40ffbf" stroke-width="10.6" d="M644.9 3094.1h10.6m-.6 10h10.6m-10.6 10h10.6"/>
<path stroke="#4dffb2" stroke-width="5.6" d="M564.9 3081.6h65.6m4.4 5h10.6m-95.6 10h5.6m69.4 40h20.6m-75.6 5h50.6"/>
<path stroke="#4dffb2" stroke-width="10.6" d="M654.9 3094.1h10.6m-.6 10h10.6m-10.6 10h10.6m-20.6 10h10.6m-20.6 10h10.6"/>
<path stroke="#59ffa6" stroke-width="5.6" d="M579.9 3076.6h65.6m-15.6 5h15.6m-95.6 45h5.6m9.4 15h5.6m49.4 0h25.6m-60.6 5h60.6"/>
<path stroke="#59ffa6" stroke-width="10.6" d="M644.9 3084.1h30.6m-10.6 10h20.6m-10.6 10h10.6m-10.6 10h10.6m-20.6 10h20.6m-30.6 10h20.6m-30.6 10h10.6"/>
<path stroke="#66ff99" stroke-width="5.6" d="M574.9 3071.6h70.6m-80.6 5h15.6m-20.6 5h5.6m-10.6 5h5.6m-5.6 50h5.6m-.6 5h5.6m4.4 5h15.6m-10.6 5h70.6m-60.6 5h60.6"/>
<path stroke="#66ff99" stroke-width="10.6" d="M614.9 3044.1h50.6m-70.6 10h100.6m-110.6 10h120.6m-60.6 10h70.6m-40.6 10h50.6m-40.6 10h50.6m-50.6 10h50.6m-50.6 10h50.6m-50.6 10h50.6m-60.6 10h50.6m-70.6 10h70.6m-80.6 10h70.6m-130.6 10h120.6m-100.6 10h70.6"/>
<path stroke="#73ff8c" stroke-width="5.6" d="M494.9 3071.6h15.6m54.4 0h10.6m-80.6 5h10.6m54.4 0h5.6m-70.6 5h10.6m-10.6 5h5.6m-5.6 5h5.6m-5.6 5h5.6m-5.6 30h5.6m-5.6 5h5.6m-5.6 5h5.6m-5.6 5h10.6m-10.6 5h15.6m54.4 0h5.6m-75.6 5h15.6m54.4 0h10.6m-80.6 5h20.6m49.4 0h20.6"/>
<path stroke="#73ff8c" stroke-width="10.6" d="M574.9 2964.1h130.6m-160.6 10h190.6m-220.6 10h250.6m-260.6 10h270.6m-290.6 10h310.6m-320.6 10h330.6m-340.6 10h350.6m-360.6 10h370.6m-370.6 10h160.6m49.4 0h160.6m-380.6 10h150.6m99.4 0h140.6m-390.6 10h70.6m49.4 0h20.6m119.4 0h130.6m-400.6 10h60.6m219.4 0h130.6m-410.6 10h60.6m229.4 0h120.6m-410.6 10h60.6m239.4 0h110.6m-410.6 10h60.6m239.4 0h110.6m-410.6 10h60.6m239.4 0h110.6m-410.6 10h60.6m239.4 0h110.6m-410.6 10h60.6m229.4 0h120.6m-410.6 10h60.6m229.4 0h120.6m-400.6 10h50.6m219.4 0h120.6m-390.6 10h80.6m29.4 0h30.6m119.4 0h130.6m-380.6 10h150.6m69.4 0h150.6m-370.6 10h370.6m-360.6 10h350.6m-340.6 10h330.6m-320.6 10h310.6m-300.6 10h290.6m-270.6 10h250.6m-230.6 10h210.6m-190.6 10h170.6m-120.6 10h70.6"/>
<path stroke="#8cff73" stroke-width="5.6" d="M524.9 3071.6h5.6m19.4 0h10.6m-40.6 5h5.6m29.4 0h5.6m-45.6 5h5.6m-10.6 5h5.6m-10.6 10h5.6m-5.6 5h5.6m-5.6 5h5.6m-5.6 5h5.6m-5.6 5h5.6m-5.6 5h5.6m-5.6 5h5.6m-.6 5h5.6m-5.6 5h5.6m-.6 5h5.6m-.6 5h5.6m29.4 0h5.6m-35.6 5h10.6m14.4 0h10.6m-25.6 5h20.6"/>
<path stroke="#99ff66" stroke-width="5.6" d="M529.9 3071.6h20.6m-25.6 5h5.6m19.4 0h5.6m-35.6 5h5.6m24.4 0h5.6m-40.6 5h5.6m29.4 0h5.6m-45.6 5h5.6m-5.6 5h5.6m-5.6 30h5.6m-.6 10h5.6m29.4 0h5.6m-35.6 5h5.6m24.4 0h5.6m-30.6 5h5.6m19.4 0h5.6m-20.6 5h15.6"/>
<path stroke="#a6ff59" stroke-width="5.6" d="M529.9 3076.6h5.6m9.4 0h5.6m-35.6 15h5.6m-10.6 10h5.6m-5.6 5h5.6m-5.6 5h5.6m-5.6 5h5.6m-5.6 5h5.6m-.6 10h5.6m9.4 15h20.6"/>
<path stroke="#b3ff4c" stroke-width="5.6" d="M534.9 3076.6h10.6m-20.6 5h5.6m-10.6 5h5.6m-10.6 10h5.6m-5.6 30h5.6m-.6 10h5.6m-.6 5h5.6m14.4 0h5.6"/>
<path stroke="#bfff40" stroke-width="5.6" d="M529.9 3081.6h5.6m9.4 0h5.6m-30.6 10h5.6m-10.6 10h5.6m-5.6 20h5.6m-.6 10h5.6m-.6 5h5.6m-.6 5h15.6"/>
<path stroke="#ccff33" stroke-width="5.6" d="M534.9 3081.6h10.6m-20.6 5h5.6m14.4 0h5.6m-35.6 20h5.6m24.4 0h5.6m-35.6 5h5.6m24.4 0h5.6m-35.6 5h5.6m24.4 0h5.6m-5.6 20h5.6"/>
<path stroke="#d9ff26" stroke-width="5.6" d="M529.9 3086.6h5.6m-15.6 10h5.6m19.4 5h5.6m-30.6 25h5.6m-.6 5h5.6m-.6 5h5.6"/>
<path stroke="#e5ff1a" stroke-width="5.6" d="M524.9 3091.6h5.6m14.4 0h5.6m-5.6 5h5.6m-30.6 5h5.6m-5.6 20h5.6m19.4 0h5.6m-5.6 5h5.6m-5.6 5h5.6m-15.6 5h10.6"/>
<path stroke="#f2ff0d" stroke-width="5.6" d="M534.9 3086.6h10.6m-25.6 20h5.6m-5.6 5h5.6m-5.6 5h5.6"/>
<path stroke="#ffff00" stroke-width="5.6" d="M524.9 3096.6h5.6m-5.6 30h5.6m-.6 5h5.6"/>
<path stroke="#fff200" stroke-width="5.6" d="M529.9 3091.6h5.6"/>
<path stroke="#ffe500" stroke-width="5.6" d="M524.9 3121.6h5.6"/>
<path stroke="#ffd900" stroke-width="5.6" d="M524.9 3101.6h5.6m4.4 30h10.6"/>
<path stroke="#ffcc00" stroke-width="5.6" d="M534.9 3091.6h10.6"/>
<path stroke="#ffbf00" stroke-width="5.6" d="M529.9 3096.6h5.6m-10.6 10h5.6m-5.6 10h5.6m-.6 10h5.6"/>
<path stroke="#ffb300" stroke-width="5.6" d="M524.9 3111.6h5.6"/>
<path stroke="#ff8c00" stroke-width="5.6" d="M539.9 3096.6h5.6m-5.6 30h5.6"/>
<path stroke="#ff8000" stroke-width="5.6" d="M534.9 3126.6h5.6"/>
<path stroke="#ff7300" stroke-width="5.6" d="M534.9 3096.6h5.6m-10.6 5h5.6m-5.6 20h5.6"/>
<path stroke="#ff4c00" stroke-width="5.6" d="M539.9 3101.6h5.6m-5.6 20h5.6"/>
<path stroke="#ff3300" stroke-width="5.6" d="M529.9 3106.6h5.6m-5.6 10h5.6"/>
<path stroke="#ff2600" stroke-width="5.6" d="M539.9 3106.6h5.6m-5.6 10h5.6"/>
<path stroke="#ff1a00" stroke-width="5.6" d="M529.9 3111.6h5.6m4.4 0h5.6m-10.6 10h5.6"/>
<path stroke="#ff0d00" stroke-width="5.6" d="M534.9 3101.6h5.6"/>
<path stroke="#bf0000" stroke-width="5.6" d="M534.9 3116.6h5.6"/>
<path stroke="#b30000" stroke-width="5.6" d="M534.9 3106.6h5.6"/>
<path stroke="#990000" stroke-width="5.6" d="M534.9 3111.6h5.6"/>
</g>
<path fill="url(#pt3)" d="M233.9 2778.1h668.3v6.8h-668.3zM233.9 2784.9h668.3v10h-668.3zM233.9 2795h668.3v10h-668.3zM233.9 2805h668.3v10h-668.3zM233.9 2815h668.3v10h-668.3zM233.9 2825.1h668.3v10h-668.3zM233.9 2835.1h668.3v10h-668.3zM233.9 2845.2h668.3v10h-668.3zM233.9 2855.2h668.3v10h-668.3zM233.9 2865.2h668.3v10h-668.3zM233.9 2875.3h668.3v10h-668.3zM233.9 2885.3h668.3v10h-668.3zM233.9 2895.4h668.3v10h-668.3zM233.9 2905.4h668.3v10h-668.3zM233.9 2915.4h668.3v10h-668.3zM233.9 2925.5h668.3v10h-668.3zM233.9 2935.5h310.9v10h-310.9zM564.9 2935.5h337.3v10h-337.3zM233.9 2945.6h260.7v10h-260.7zM605.1 2945.6h297.1v10h-297.1zM233.9 2955.6h240.7v10h-240.7zM625.1 2955.6h277.1v10h-277.1zM233.9 2965.6h230.6v10h-230.6zM645.2 2965.6h257v10h-257zM233.9 2975.7h220.6v10h-220.6zM655.2 2975.7h247v10h-247zM233.9 2985.7h210.6v10h-210.6zM665.3 2985.7h236.9v10h-236.9zM233.9 2995.8h200.5v10h-200.5zM675.3 2995.8h226.9v10h-226.9zM233.9 3005.8h190.5v10h-190.5zM675.3 3005.8h226.9v10h-226.9zM233.9 3015.8h190.5v10h-190.5zM685.3 3015.8h216.9v10h-216.9zM233.9 3025.9h190.5v10h-190.5zM685.3 3025.9h216.9v10h-216.9zM233.9 3035.9h180.4v10h-180.4zM685.3 3035.9h216.9v10h-216.9zM233.9 3046h180.4v10h-180.4zM685.3 3046h216.9v10h-216.9zM233.9 3056h180.4v10h-180.4zM685.3 3056h216.9v10h-216.9zM233.9 3066h190.5v10h-190.5zM685.3 3066h216.9v10h-216.9zM233.9 3076.1h190.5v10h-190.5zM675.3 3076.1h226.9v10h-226.9zM233.9 3086.1h200.5v10h-200.5zM675.3 3086.1h226.9v10h-226.9zM233.9 3096.2h220.6v10h-220.6zM645.2 3096.2h257v10h-257zM233.9 3106.2h300.9v10h-300.9zM585 3106.2h317.2v10h-317.2zM233.9 3116.2h220.6v10h-220.6zM645.2 3116.2h257v10h-257zM233.9 3126.3h200.5v10h-200.5zM665.3 3126.3h236.9v10h-236.9zM233.9 3136.3h190.5v10h-190.5zM675.3 3136.3h226.9v10h-226.9zM233.9 3146.4h190.5v10h-190.5zM685.3 3146.4h216.9v10h-216.9zM233.9 3156.4h180.4v10h-180.4zM685.3 3156.4h216.9v10h-216.9zM233.9 3166.4h180.4v10h-180.4zM685.3 3166.4h216.9v10h-216.9zM233.9 3176.5h180.4v10h-180.4zM685.3 3176.5h216.9v10h-216.9zM233.9 3186.5h190.5v10h-190.5zM685.3 3186.5h216.9v10h-216.9zM233.9 3196.6h190.5v10h-190.5zM685.3 3196.6h216.9v10h-216.9zM233.9 3206.6h190.5v10h-190.5zM675.3 3206.6h226.9v10h-226.9zM233.9 3216.6h200.5v10h-200.5zM675.3 3216.6h226.9v10h-226.9zM233.9 3226.7h210.6v10h-210.6zM665.3 3226.7h236.9v10h-236.9zM233.9 3236.7h220.6v10h-220.6zM655.2 3236.7h247v10h-247zM233.9 3246.8h230.6v10h-230.6zM645.2 3246.8h257v10h-257zM233.9 3256.8h240.7v10h-240.7zM625.1 3256.8h277.1v10h-277.1zM233.9 3266.8h260.7v10h-260.7zM605.1 3266.8h297.1v10h-297.1zM233.9 3276.9h310.9v10h-310.9zM564.9 3276.9h337.3v10h-337.3zM233.9 3286.9h668.3v10h-668.3zM233.9 3297h668.3v10h-668.3zM233.9 3307h668.3v10h-668.3zM233.9 3317h668.3v10h-668.3zM233.9 3327.1h668.3v10h-668.3zM233.9 3337.1h668.3v10h-668.3zM233.9 3347.2h668.3v10h-668.3zM233.9 3357.2h668.3v10h-668.3zM233.9 3367.2h668.3v10h-668.3zM233.9 3377.3h668.3v10h-668.3zM233.9 3387.3h668.3v10h-668.3zM233.9 3397.4h668.3v10h-668.3zM233.9 3407.4h668.3v10h-668.3zM233.9 3417.4h668.3v10h-668.3zM233.9 3427.5h668.3v9.6h-668.3z"/>
<use href="#ar3" stroke="#000" stroke-width="3" fill="none"/>
<use href="#ar3" stroke="#000" fill="none" stroke-width="6.2" stroke-linecap="round" stroke-dasharray="4 199" stroke-dashoffset="-2.6"/>
</g>
<rect x="916" y="2779.1" width="670.8" height="657" fill="#7aff85"/>
<g clip-path="url(#cp4)"><g filter="url(#bl4)" fill="none">
<path stroke="#000080" stroke-width="5.6" d="M1251 3106.6h5.6m-5.6 5h5.6"/>
<path stroke="#00008c" stroke-width="5.6" d="M1256 3106.6h5.6m-15.6 5h5.6m4.4 0h5.6m-10.6 5h10.6"/>
<path stroke="#000099" stroke-width="5.6" d="M1251 3101.6h5.6m-10.6 5h5.6m9.4 5h5.6m-20.6 5h5.6"/>
<path stroke="#0000a6" stroke-width="5.6" d="M1246 3101.6h5.6m4.4 0h5.6m-.6 5h5.6m-5.6 10h5.6m-15.6 5h10.6"/>
<path stroke="#0000b2" stroke-width="5.6" d="M1261 3101.6h5.6m-25.6 10h5.6m-.6 10h5.6"/>
<path stroke="#0000bf" stroke-width="5.6" d="M1251 3096.6h10.6m-20.6 10h5.6m19.4 0h5.6m-5.6 5h5.6m-30.6 5h5.6m19.4 0h5.6m-10.6 5h5.6"/>
<path stroke="#0000cc" stroke-width="5.6" d="M1246 3096.6h5.6m-10.6 5h5.6m4.4 25h10.6"/>
<path stroke="#0000d9" stroke-width="5.6" d="M1261 3096.6h5.6m-.6 5h5.6m-30.6 20h5.6m19.4 0h5.6m-25.6 5h5.6"/>
<path stroke="#0000e6" stroke-width="5.6" d="M1271 3106.6h5.6m-5.6 5h5.6m-5.6 5h5.6m-15.6 10h5.6"/>
<path stroke="#0000f2" stroke-width="5.6" d="M1251 3091.6h10.6m-20.6 5h5.6m19.4 0h5.6m-.6 5h5.6m-40.6 10h5.6"/>
<path stroke="#0000ff" stroke-width="5.6" d="M1246 3091.6h5.6m9.4 0h5.6m-30.6 15h5.6m-5.6 10h5.6m29.4 5h5.6m-35.6 5h5.6m19.4 0h5.6m-20.6 5h10.6"/>
<path stroke="#000dff" stroke-width="5.6" d="M1271 3096.6h5.6m-40.6 5h5.6m34.4 5h5.6m-5.6 5h5.6m-35.6 20h5.6m9.4 0h5.6"/>
<path stroke="#001aff" stroke-width="5.6" d="M1241 3091.6h5.6m19.4 0h5.6m4.4 25h5.6m-45.6 5h5.6m29.4 5h5.6"/>
<path stroke="#0026ff" stroke-width="5.6" d="M1251 3086.6h10.6m-25.6 10h5.6m34.4 5h5.6m-5.6 20h5.6m-40.6 10h5.6m19.4 0h5.6"/>
<path stroke="#0033ff" stroke-width="5.6" d="M1246 3086.6h5.6m9.4 0h5.6m4.4 5h5.6m-.6 5h5.6m-.6 15h5.6m-50.6 15h5.6m9.4 10h10.6"/>
<path stroke="#0040ff" stroke-width="5.6" d="M1266 3086.6h5.6m-40.6 20h5.6m44.4 0h5.6m-55.6 5h5.6m44.4 5h5.6m-10.6 10h5.6m-10.6 5h5.6m-30.6 5h5.6m9.4 0h5.6"/>
<path stroke="#004dff" stroke-width="5.6" d="M1241 3086.6h5.6m-10.6 5h5.6m39.4 10h5.6m-55.6 15h5.6m44.4 5h5.6m-20.6 15h5.6"/>
<path stroke="#0059ff" stroke-width="5.6" d="M1251 3081.6h10.6m9.4 5h5.6m-.6 5h5.6m-.6 5h5.6m-55.6 5h5.6m49.4 5h5.6m-5.6 5h5.6m-60.6 10h5.6m-.6 10h5.6m34.4 0h5.6m-40.6 5h5.6"/>
<path stroke="#0066ff" stroke-width="5.6" d="M1246 3081.6h5.6m9.4 0h5.6m19.4 20h5.6m-5.6 15h5.6m-10.6 10h5.6m-15.6 10h5.6m-25.6 5h10.6"/>
<path stroke="#0073ff" stroke-width="5.6" d="M1266 3081.6h5.6m4.4 5h5.6m-.6 5h5.6m-55.6 5h5.6m49.4 25h5.6m-60.6 5h5.6m9.4 15h5.6m9.4 0h5.6"/>
<path stroke="#0080ff" stroke-width="5.6" d="M1241 3081.6h5.6m-10.6 5h5.6m44.4 10h5.6m-.6 10h5.6m-5.6 5h5.6m-5.6 5h5.6m-10.6 10h5.6m-10.6 5h5.6m-10.6 5h5.6m-15.6 5h5.6"/>
<path stroke="#008cff" stroke-width="5.6" d="M1271 3081.6h5.6m-45.6 10h5.6m49.4 0h5.6m-.6 10h5.6m-5.6 20h5.6m-60.6 15h5.6"/>
<path stroke="#0099ff" stroke-width="5.6" d="M1251 3076.6h15.6m9.4 5h5.6m-.6 5h5.6m4.4 10h5.6m-70.6 10h5.6m64.4 0h5.6m-75.6 5h5.6m64.4 0h5.6m-75.6 5h5.6m64.4 0h5.6m-10.6 10h5.6m-65.6 5h5.6m49.4 0h5.6m-10.6 5h5.6m-45.6 5h5.6m24.4 0h5.6"/>
<path stroke="#00a6ff" stroke-width="5.6" d="M1246 3076.6h5.6m14.4 0h5.6m19.4 15h5.6m-70.6 10h5.6m64.4 0h5.6m-.6 5h5.6m-5.6 5h5.6m-80.6 10h5.6m64.4 0h5.6m-25.6 20h5.6m-30.6 5h15.6"/>
<path stroke="#00b2ff" stroke-width="5.6" d="M1241 3076.6h5.6m24.4 0h5.6m-40.6 5h5.6m39.4 0h5.6m-55.6 5h5.6m49.4 0h5.6m-65.6 10h5.6m64.4 0h5.6m-.6 5h5.6m-.6 10h5.6m-10.6 5h5.6m-5.6 5h5.6m-10.6 5h5.6m-10.6 5h5.6m-10.6 5h5.6m-45.6 10h5.6m14.4 0h5.6"/>
<path stroke="#00bfff" stroke-width="5.6" d="M1276 3076.6h5.6m9.4 10h5.6m-.6 5h5.6m-.6 5h5.6m-.6 5h5.6m-5.6 5h10.6m-5.6 5h5.6m-10.6 5h10.6m-10.6 5h5.6m-85.6 5h5.6m69.4 0h5.6m-10.6 5h5.6m-70.6 5h5.6m-.6 5h5.6m39.4 0h5.6m-15.6 5h5.6"/>
<path stroke="#00ccff" stroke-width="5.6" d="M1251 3071.6h20.6m14.4 10h5.6m9.4 10h5.6m-.6 5h5.6m-.6 5h5.6m-.6 5h5.6m-5.6 5h10.6m-10.6 5h5.6m-10.6 5h5.6m-10.6 5h5.6m-20.6 10h5.6m-10.6 5h5.6m-50.6 5h5.6m29.4 0h5.6"/>
<path stroke="#00d9ff" stroke-width="5.6" d="M1246 3071.6h5.6m19.4 0h5.6m-40.6 5h5.6m39.4 0h5.6m-55.6 5h5.6m54.4 0h5.6m-.6 5h5.6m-75.6 5h5.6m74.4 0h5.6m-.6 5h10.6m-5.6 5h15.6m-10.6 5h15.6m-10.6 5h10.6m-15.6 5h10.6m-15.6 5h10.6m-15.6 5h5.6m-90.6 5h5.6m69.4 0h10.6m-15.6 5h5.6m-20.6 10h5.6m-35.6 5h20.6"/>
<path stroke="#00e5ff" stroke-width="5.6" d="M1241 3071.6h5.6m29.4 0h5.6m4.4 5h5.6m4.4 5h5.6m-.6 5h10.6m-.6 5h10.6m-.6 5h10.6m-.6 5h5.6m-115.6 5h5.6m-5.6 5h5.6m-5.6 5h5.6m104.4 0h5.6m-10.6 5h10.6m-20.6 5h15.6m-20.6 5h5.6m-15.6 5h5.6m-75.6 5h5.6m54.4 0h5.6m-60.6 5h5.6m4.4 5h5.6m19.4 0h5.6"/>
<path stroke="#00e5ff" stroke-width="10.6" d="M1336 3104.1h10.6m-10.6 10h10.6"/>
<path stroke="#00f2ff" stroke-width="5.6" d="M1251 3066.6h15.6m14.4 5h5.6m4.4 5h5.6m4.4 5h5.6m-80.6 5h5.6m79.4 0h10.6m-.6 5h15.6m-5.6 5h5.6m-115.6 5h5.6m-5.6 20h5.6m104.4 5h5.6m-20.6 5h15.6m-25.6 5h10.6m-20.6 5h5.6m-15.6 5h5.6m-50.6 5h5.6m29.4 0h5.6"/>
<path stroke="#00f2ff" stroke-width="10.6" d="M1346 3104.1h10.6m-10.6 10h10.6m-20.6 10h10.6"/>
<path stroke="#00ffff" stroke-width="5.6" d="M1246 3066.6h5.6m14.4 0h10.6m9.4 5h5.6m-60.6 5h5.6m59.4 0h5.6m4.4 5h10.6m4.4 5h15.6m-115.6 10h5.6m104.4 35h5.6m-110.6 5h5.6m84.4 0h15.6m-30.6 5h10.6m-20.6 5h10.6m-20.6 5h5.6m-35.6 5h20.6"/>
<path stroke="#00ffff" stroke-width="10.6" d="M1336 3094.1h20.6m-.6 20h10.6m-20.6 10h10.6"/>
<path stroke="#0dfff2" stroke-width="5.6" d="M1276 3066.6h10.6m-50.6 5h5.6m49.4 0h5.6m4.4 5h10.6m4.4 5h20.6m-115.6 45h5.6m104.4 10h5.6m-25.6 5h15.6m-95.6 5h5.6m64.4 0h5.6m-20.6 5h10.6m-50.6 5h5.6m19.4 0h10.6"/>
<path stroke="#0dfff2" stroke-width="10.6" d="M1336 3084.1h10.6m9.4 10h10.6m-10.6 10h10.6m-10.6 20h10.6m-30.6 10h20.6"/>
<path stroke="#1affe5" stroke-width="5.6" d="M1256 3061.6h15.6m-30.6 5h5.6m39.4 0h5.6m4.4 5h10.6m4.4 5h20.6m-105.6 5h5.6m-10.6 10h5.6m-5.6 40h5.6m-.6 10h5.6m94.4 0h10.6m-30.6 5h20.6m-90.6 5h5.6m54.4 0h5.6m-20.6 5h5.6"/>
<path stroke="#1affe5" stroke-width="10.6" d="M1346 3084.1h10.6m9.4 10h10.6m-10.6 10h10.6m-10.6 10h10.6m-10.6 10h10.6m-20.6 10h10.6"/>
<path stroke="#26ffd9" stroke-width="5.6" d="M1246 3061.6h10.6m14.4 0h15.6m4.4 5h15.6m-75.6 5h5.6m69.4 0h25.6m-.6 5h5.6m-10.6 70h10.6m-35.6 5h25.6m-85.6 5h5.6m39.4 0h15.6m-50.6 5h30.6"/>
<path stroke="#26ffd9" stroke-width="10.6" d="M1336 3074.1h10.6m9.4 10h10.6m9.4 10h10.6m-10.6 10h10.6m-10.6 10h10.6m-10.6 10h10.6m-20.6 10h10.6m-40.6 10h20.6"/>
<path stroke="#33ffcc" stroke-width="5.6" d="M1261 3056.6h15.6m9.4 5h15.6m-65.6 5h5.6m64.4 0h30.6m-5.6 5h5.6m-110.6 5h5.6m-10.6 10h5.6m-10.6 20h5.6m-5.6 5h5.6m-5.6 5h5.6m-.6 20h5.6m4.4 15h5.6m89.4 0h10.6m-100.6 5h5.6m59.4 0h25.6m-80.6 5h5.6m29.4 0h15.6"/>
<path stroke="#33ffcc" stroke-width="10.6" d="M1346 3074.1h20.6m-.6 10h20.6m-.6 10h10.6m-10.6 10h10.6m-10.6 10h10.6m-10.6 10h10.6m-20.6 10h10.6m-30.6 10h20.6m-40.6 10h10.6"/>
<path stroke="#40ffbf" stroke-width="5.6" d="M1251 3056.6h10.6m14.4 0h25.6m-60.6 5h5.6m54.4 0h35.6m-120.6 40h5.6m-5.6 20h5.6m4.4 25h5.6m94.4 10h10.6m-95.6 5h5.6m49.4 0h40.6m-80.6 5h35.6"/>
<path stroke="#40ffbf" stroke-width="10.6" d="M1336 3064.1h30.6m-.6 10h20.6m-.6 10h10.6m-.6 10h10.6m-10.6 10h20.6m-20.6 10h20.6m-20.6 10h10.6m-20.6 10h20.6m-30.6 10h20.6m-50.6 10h30.6"/>
<path stroke="#4dffb2" stroke-width="5.6" d="M1256 3051.6h80.6m-90.6 5h5.6m49.4 0h35.6m-100.6 5h5.6m-10.6 5h5.6m-10.6 5h5.6m-10.6 10h5.6m-10.6 15h5.6m-5.6 30h5.6m-.6 15h5.6m19.4 25h10.6m34.4 0h45.6m-70.6 5h70.6"/>
<path stroke="#4dffb2" stroke-width="10.6" d="M1336 3054.1h40.6m-10.6 10h30.6m-10.6 10h30.6m-20.6 10h30.6m-20.6 10h20.6m-10.6 10h20.6m-20.6 10h20.6m-30.6 10h20.6m-20.6 10h20.6m-30.6 10h20.6m-40.6 10h30.6m-70.6 10h50.6"/>
<path stroke="#59ffa6" stroke-width="5.6" d="M1286 3041.6h50.6m-75.6 5h75.6m-85.6 5h5.6m-15.6 5h5.6m-30.6 35h5.6m-5.6 40h5.6m4.4 20h5.6m-.6 5h5.6m-.6 5h5.6m-.6 5h5.6m4.4 5h15.6m-.6 5h70.6m-40.6 5h40.6m-25.6 5h25.6"/>
<path stroke="#59ffa6" stroke-width="10.6" d="M1346 3024.1h50.6m-80.6 10h110.6m-90.6 10h110.6m-70.6 10h80.6m-60.6 10h70.6m-50.6 10h60.6m-50.6 10h50.6m-50.6 10h50.6m-40.6 10h50.6m-50.6 10h50.6m-60.6 10h50.6m-50.6 10h50.6m-60.6 10h60.6m-70.6 10h60.6m-80.6 10h70.6m-120.6 10h110.6m-110.6 10h100.6m-100.6 10h80.6"/>
<path stroke="#66ff99" stroke-width="5.6" d="M1261 3041.6h25.6m-35.6 5h10.6m-15.6 5h5.6m-15.6 5h5.6m-10.6 5h5.6m-15.6 15h5.6m-5.6 70h5.6m19.4 25h5.6m4.4 5h10.6m-.6 5h30.6m-25.6 5h40.6"/>
<path stroke="#66ff99" stroke-width="10.6" d="M1316 2954.1h110.6m-130.6 10h160.6m-170.6 10h190.6m-190.6 10h210.6m-210.6 10h220.6m-220.6 10h240.6m-240.6 10h250.6m-250.6 10h60.6m49.4 0h140.6m-260.6 10h40.6m109.4 0h120.6m-100.6 10h110.6m-100.6 10h100.6m-90.6 10h100.6m-90.6 10h90.6m-90.6 10h90.6m-90.6 10h100.6m-90.6 10h90.6m-90.6 10h90.6m-100.6 10h100.6m-100.6 10h90.6m-90.6 10h90.6m-100.6 10h100.6m-110.6 10h110.6m-120.6 10h110.6m-120.6 10h110.6m-270.6 10h60.6m79.4 0h130.6m-260.6 10h250.6m-250.6 10h240.6m-240.6 10h230.6m-230.6 10h210.6m-210.6 10h200.6m-200.6 10h180.6m-160.6 10h130.6m-100.6 10h50.6"/>
<path stroke="#73ff8c" stroke-width="5.6" d="M1251 3041.6h10.6m-15.6 5h5.6m-10.6 5h5.6m-20.6 15h5.6m-15.6 20h5.6m-5.6 50h5.6m4.4 20h5.6m-.6 5h5.6m-.6 5h5.6m-.6 5h5.6m-.6 5h10.6m-5.6 5h15.6m-10.6 5h15.6"/>
<path stroke="#73ff8c" stroke-width="10.6" d="M1296 2804.1h120.6m-170.6 10h230.6m-270.6 10h310.6m-340.6 10h370.6m-390.6 10h410.6m-430.6 10h450.6m-470.6 10h490.6m-510.6 10h520.6m-530.6 10h530.6m-540.6 10h540.6m-560.6 10h560.6m-570.6 10h570.6m-580.6 10h580.6m-590.6 10h590.6m-590.6 10h590.6m-600.6 10h300.6m109.4 0h190.6m-610.6 10h290.6m159.4 0h160.6m-620.6 10h290.6m189.4 0h140.6m-620.6 10h290.6m209.4 0h120.6m-630.6 10h200.6m39.4 0h60.6m219.4 0h110.6m-630.6 10h170.6m89.4 0h40.6m239.4 0h90.6m-640.6 10h170.6m109.4 0h30.6m249.4 0h80.6m-640.6 10h160.6m119.4 0h30.6m249.4 0h80.6m-650.6 10h160.6m129.4 0h20.6m269.4 0h70.6m-650.6 10h150.6m439.4 0h60.6m-650.6 10h150.6m439.4 0h60.6m-650.6 10h140.6m459.4 0h50.6m-650.6 10h140.6m459.4 0h50.6m-660.6 10h150.6m459.4 0h50.6m-660.6 10h150.6m469.4 0h40.6m-660.6 10h150.6m469.4 0h40.6m-660.6 10h150.6m469.4 0h40.6m-660.6 10h150.6m469.4 0h40.6m-660.6 10h150.6m459.4 0h50.6m-660.6 10h150.6m459.4 0h50.6m-650.6 10h140.6m459.4 0h50.6m-650.6 10h150.6m449.4 0h50.6m-650.6 10h150.6m439.4 0h60.6m-650.6 10h160.6m419.4 0h70.6m-640.6 10h160.6m119.4 0h20.6m269.4 0h70.6m-640.6 10h160.6m119.4 0h30.6m249.4 0h80.6m-630.6 10h170.6m89.4 0h40.6m239.4 0h90.6m-630.6 10h190.6m59.4 0h50.6m229.4 0h100.6m-620.6 10h290.6m209.4 0h120.6m-620.6 10h290.6m199.4 0h130.6m-610.6 10h280.6m179.4 0h150.6m-610.6 10h300.6m129.4 0h180.6m-600.6 10h320.6m49.4 0h230.6m-590.6 10h590.6m-580.6 10h580.6m-570.6 10h570.6m-560.6 10h560.6m-550.6 10h550.6m-540.6 10h540.6m-520.6 10h520.6m-510.6 10h500.6m-480.6 10h470.6m-450.6 10h430.6m-410.6 10h380.6m-350.6 10h330.6m-300.6 10h270.6m-220.6 10h170.6"/>
<path stroke="#8cff73" stroke-width="5.6" d="M1156 3041.6h5.6m74.4 0h5.6m-5.6 5h5.6m-10.6 5h5.6m-10.6 5h5.6m-10.6 10h5.6m-15.6 30h5.6m-5.6 25h5.6m-5.6 5h5.6m9.4 35h5.6m-.6 10h5.6m-80.6 5h5.6m74.4 0h5.6m-85.6 5h10.6m69.4 0h5.6m-85.6 5h15.6m64.4 0h10.6"/>
<path stroke="#8cff73" stroke-width="10.6" d="M1186 3014.1h40.6m-60.6 10h30.6m29.4 0h20.6m-90.6 10h20.6m59.4 0h10.6m-100.6 10h10.6m-20.6 10h20.6m-20.6 10h10.6m-20.6 10h10.6m-10.6 10h10.6m-10.6 10h10.6m-10.6 10h10.6m-10.6 10h10.6m-10.6 10h10.6m-10.6 10h10.6m-10.6 10h10.6m-.6 10h10.6m-10.6 10h10.6m-.6 10h10.6m9.4 20h20.6m39.4 0h20.6m-70.6 10h60.6"/>
<path stroke="#99ff66" stroke-width="5.6" d="M1161 3041.6h15.6m54.4 0h5.6m-80.6 5h10.6m64.4 0h5.6m-80.6 5h5.6m64.4 0h5.6m-75.6 5h5.6m59.4 5h5.6m-10.6 15h5.6m-10.6 15h5.6m-5.6 40h5.6m-.6 15h5.6m-.6 10h5.6m-70.6 10h5.6m64.4 0h5.6m-75.6 5h10.6m59.4 0h5.6m-70.6 5h10.6m59.4 0h5.6m-70.6 5h10.6m54.4 0h5.6m-65.6 5h15.6m39.4 0h10.6"/>
<path stroke="#99ff66" stroke-width="10.6" d="M1196 3024.1h30.6m-50.6 10h10.6m39.4 0h10.6m-90.6 30h10.6m-20.6 10h10.6m-10.6 10h10.6m-10.6 10h10.6m-10.6 30h10.6m-10.6 10h10.6m-10.6 10h10.6m-.6 10h10.6m-10.6 10h10.6m29.4 30h40.6"/>
<path stroke="#a6ff59" stroke-width="5.6" d="M1176 3041.6h10.6m34.4 0h10.6m-65.6 5h10.6m49.4 0h5.6m-70.6 5h10.6m-10.6 5h5.6m54.4 0h5.6m-70.6 5h5.6m54.4 10h5.6m-10.6 15h5.6m-.6 65h5.6m-65.6 5h5.6m-5.6 5h5.6m59.4 0h5.6m-65.6 5h5.6m54.4 0h5.6m-60.6 5h5.6m-.6 5h5.6m44.4 0h10.6m-55.6 5h10.6m34.4 0h10.6m-45.6 5h40.6"/>
<path stroke="#a6ff59" stroke-width="10.6" d="M1186 3034.1h40.6m-80.6 40h10.6m-20.6 30h10.6m-10.6 10h10.6m-.6 30h10.6"/>
<path stroke="#b3ff4c" stroke-width="5.6" d="M1186 3041.6h10.6m14.4 0h10.6m-45.6 5h10.6m29.4 0h10.6m-55.6 5h5.6m44.4 0h5.6m-60.6 5h5.6m-10.6 5h5.6m49.4 0h5.6m-65.6 5h5.6m54.4 0h5.6m-65.6 5h5.6m49.4 10h5.6m-5.6 55h5.6m-60.6 15h5.6m-.6 5h5.6m49.4 0h5.6m-60.6 5h5.6m-.6 5h5.6m-.6 5h10.6m39.4 0h5.6m-50.6 5h10.6m29.4 0h5.6m-35.6 5h35.6"/>
<path stroke="#b3ff4c" stroke-width="10.6" d="M1146 3084.1h10.6m-10.6 10h10.6m-10.6 40h10.6"/>
<path stroke="#bfff40" stroke-width="5.6" d="M1196 3041.6h15.6m-25.6 5h10.6m9.4 0h10.6m-40.6 5h10.6m29.4 0h5.6m-50.6 5h5.6m39.4 0h5.6m-55.6 5h5.6m-10.6 5h5.6m-5.6 5h5.6m-10.6 5h5.6m49.4 0h5.6m-60.6 5h5.6m-5.6 60h5.6m49.4 0h5.6m-60.6 5h5.6m49.4 0h5.6m-55.6 5h5.6m-.6 5h5.6m-5.6 5h5.6m44.4 0h5.6m-50.6 5h10.6m34.4 0h5.6m-40.6 5h5.6m24.4 0h10.6m-35.6 5h30.6"/>
<path stroke="#bfff40" stroke-width="10.6" d="M1146 3104.1h10.6m-10.6 10h10.6m-10.6 10h10.6"/>
<path stroke="#ccff33" stroke-width="5.6" d="M1196 3046.6h10.6m-20.6 5h10.6m9.4 0h10.6m-40.6 5h5.6m29.4 0h5.6m-45.6 5h5.6m34.4 0h5.6m-50.6 5h5.6m39.4 0h5.6m-5.6 5h5.6m-55.6 5h5.6m-10.6 10h5.6m-5.6 5h5.6m44.4 15h5.6m-5.6 5h5.6m-5.6 5h5.6m-55.6 15h5.6m-5.6 5h5.6m-.6 10h5.6m-.6 5h5.6m39.4 0h5.6m-5.6 5h5.6m-45.6 5h5.6m34.4 0h5.6m-35.6 5h5.6m24.4 0h5.6m-30.6 5h25.6"/>
<path stroke="#d9ff26" stroke-width="5.6" d="M1196 3051.6h10.6m-25.6 5h10.6m14.4 0h5.6m-35.6 5h5.6m-10.6 5h5.6m-10.6 5h5.6m-5.6 5h5.6m-10.6 5h5.6m-5.6 5h5.6m-10.6 10h5.6m44.4 0h5.6m-55.6 5h5.6m44.4 0h5.6m-55.6 5h5.6m-5.6 5h5.6m-5.6 5h5.6m-5.6 5h5.6m44.4 0h5.6m-55.6 5h5.6m44.4 0h5.6m-50.6 10h5.6m-5.6 5h5.6m-.6 5h5.6m-.6 10h5.6m-.6 5h10.6m-.6 5h10.6m4.4 0h10.6"/>
<path stroke="#e5ff1a" stroke-width="5.6" d="M1191 3056.6h15.6m-25.6 5h5.6m19.4 0h5.6m-35.6 5h5.6m24.4 0h5.6m-40.6 5h5.6m-10.6 10h5.6m-10.6 10h5.6m39.4 0h5.6m-50.6 35h5.6m-5.6 5h5.6m39.4 0h5.6m-45.6 10h5.6m-.6 10h5.6m-.6 5h5.6m24.4 0h5.6m-25.6 5h5.6m9.4 0h10.6m-15.6 5h5.6"/>
<path stroke="#f2ff0d" stroke-width="5.6" d="M1186 3061.6h20.6m-25.6 5h5.6m-10.6 5h5.6m24.4 0h5.6m-40.6 5h5.6m29.4 0h5.6m-5.6 5h5.6m-45.6 5h5.6m34.4 0h5.6m-50.6 10h5.6m-5.6 5h5.6m-5.6 5h5.6m-5.6 5h5.6m-5.6 5h5.6m-5.6 5h5.6m-.6 15h5.6m34.4 0h5.6m-5.6 5h5.6m-40.6 5h5.6m29.4 0h5.6m-35.6 5h5.6m24.4 0h5.6m-30.6 5h5.6m4.4 5h10.6"/>
<path stroke="#ffff00" stroke-width="5.6" d="M1186 3066.6h10.6m4.4 0h5.6m-25.6 5h5.6m-10.6 5h5.6m-10.6 5h5.6m-10.6 10h5.6m-5.6 35h5.6m-5.6 5h5.6m-.6 10h5.6m-.6 5h5.6m-.6 5h5.6m-.6 5h20.6"/>
<path stroke="#fff200" stroke-width="5.6" d="M1196 3066.6h5.6m-.6 5h5.6m-35.6 15h5.6m-10.6 10h5.6m-5.6 5h5.6m-5.6 5h5.6m-5.6 5h5.6m-5.6 5h5.6m-5.6 5h5.6m-.6 15h5.6m-.6 5h5.6m-.6 5h5.6m-.6 5h5.6m9.4 0h5.6"/>
<path stroke="#ffe500" stroke-width="5.6" d="M1186 3071.6h15.6m-20.6 5h5.6m-10.6 5h5.6m-10.6 10h5.6m-5.6 40h5.6m24.4 15h5.6m-15.6 5h10.6"/>
<path stroke="#ffd900" stroke-width="5.6" d="M1201 3076.6h5.6m-30.6 10h5.6m-10.6 10h5.6m-5.6 5h5.6m-5.6 20h5.6m-5.6 5h5.6m-.6 10h5.6m-.6 5h5.6m-.6 5h5.6"/>
<path stroke="#ffcc00" stroke-width="5.6" d="M1186 3076.6h5.6m-10.6 5h5.6m14.4 0h5.6m-35.6 25h5.6m-5.6 5h5.6m-5.6 5h5.6m-.6 15h5.6m19.4 10h5.6m-15.6 5h10.6"/>
<path stroke="#ffbf00" stroke-width="5.6" d="M1191 3076.6h10.6m-.6 10h5.6m-30.6 5h5.6m19.4 0h5.6m-5.6 40h5.6m-5.6 5h5.6"/>
<path stroke="#ffb300" stroke-width="5.6" d="M1186 3081.6h5.6m-10.6 5h5.6m-10.6 10h5.6m19.4 0h5.6m-5.6 5h5.6m-5.6 5h5.6m-5.6 5h5.6m-5.6 5h5.6m-5.6 5h5.6m-30.6 5h5.6m19.4 0h5.6m-25.6 10h5.6m-.6 5h5.6"/>
<path stroke="#ffa600" stroke-width="5.6" d="M1176 3121.6h5.6m9.4 20h10.6"/>
<path stroke="#ff9900" stroke-width="5.6" d="M1191 3081.6h10.6m-25.6 20h5.6m-5.6 15h5.6m-.6 15h5.6"/>
<path stroke="#ff8c00" stroke-width="5.6" d="M1181 3091.6h5.6m-10.6 15h5.6m-5.6 5h5.6m4.4 25h5.6"/>
<path stroke="#ff8000" stroke-width="5.6" d="M1186 3086.6h5.6m4.4 50h5.6"/>
<path stroke="#ff7300" stroke-width="5.6" d="M1196 3086.6h5.6m-20.6 40h5.6"/>
<path stroke="#ff6600" stroke-width="5.6" d="M1181 3096.6h5.6m4.4 40h5.6"/>
<path stroke="#ff5900" stroke-width="5.6" d="M1191 3086.6h5.6m-.6 45h5.6"/>
<path stroke="#ff4c00" stroke-width="5.6" d="M1196 3091.6h5.6m-15.6 40h5.6"/>
<path stroke="#ff4000" stroke-width="5.6" d="M1186 3091.6h5.6m-10.6 10h5.6m-5.6 20h5.6m9.4 5h5.6"/>
<path stroke="#ff3300" stroke-width="5.6" d="M1196 3096.6h5.6m-10.6 35h5.6"/>
<path stroke="#ff2600" stroke-width="5.6" d="M1196 3101.6h5.6m-20.6 5h5.6m-5.6 10h5.6m9.4 5h5.6"/>
<path stroke="#ff1a00" stroke-width="5.6" d="M1191 3091.6h5.6m-.6 15h5.6m-20.6 5h5.6m9.4 5h5.6m-15.6 10h5.6"/>
<path stroke="#ff0d00" stroke-width="5.6" d="M1196 3111.6h5.6"/>
<path stroke="#ff0000" stroke-width="5.6" d="M1186 3096.6h5.6"/>
<path stroke="#f20000" stroke-width="5.6" d="M1191 3126.6h5.6"/>
<path stroke="#e50000" stroke-width="5.6" d="M1191 3096.6h5.6"/>
<path stroke="#d90000" stroke-width="5.6" d="M1186 3121.6h5.6"/>
<path stroke="#cc0000" stroke-width="5.6" d="M1186 3101.6h5.6"/>
<path stroke="#bf0000" stroke-width="5.6" d="M1191 3121.6h5.6"/>
<path stroke="#b30000" stroke-width="5.6" d="M1191 3101.6h5.6m-10.6 5h5.6m-5.6 10h5.6"/>
<path stroke="#a60000" stroke-width="5.6" d="M1186 3111.6h5.6m-.6 5h5.6"/>
<path stroke="#990000" stroke-width="5.6" d="M1191 3106.6h5.6m-5.6 5h5.6"/>
</g>
<path fill="url(#pt4)" d="M915 2778.1h672.8v6.8h-672.8zM915 2784.9h672.8v10h-672.8zM915 2795h249.7v10h-249.7zM1287.1 2795h300.7v10h-300.7zM915 2805h208.9v10h-208.9zM1317.7 2805h270.1v10h-270.1zM915 2815h188.5v10h-188.5zM1348.3 2815h239.5v10h-239.5zM915 2825.1h168.1v10h-168.1zM1358.5 2825.1h229.3v10h-229.3zM915 2835.1h147.7v10h-147.7zM1378.9 2835.1h208.9v10h-208.9zM915 2845.2h137.5v10h-137.5zM1389.1 2845.2h198.7v10h-198.7zM915 2855.2h127.3v10h-127.3zM1409.5 2855.2h178.3v10h-178.3zM915 2865.2h117.1v10h-117.1zM1419.7 2865.2h168.1v10h-168.1zM915 2875.3h106.9v10h-106.9zM1429.9 2875.3h157.9v10h-157.9zM915 2885.3h96.7v10h-96.7zM1429.9 2885.3h157.9v10h-157.9zM915 2895.4h86.5v10h-86.5zM1440.1 2895.4h147.7v10h-147.7zM915 2905.4h76.3v10h-76.3zM1450.3 2905.4h137.5v10h-137.5zM915 2915.4h76.3v10h-76.3zM1460.5 2915.4h127.3v10h-127.3zM915 2925.5h66.1v10h-66.1zM1460.5 2925.5h127.3v10h-127.3zM915 2935.5h66.1v10h-66.1zM1470.7 2935.5h117.1v10h-117.1zM915 2945.6h55.9v10h-55.9zM1470.7 2945.6h117.1v10h-117.1zM915 2955.6h55.9v10h-55.9zM1470.7 2955.6h117.1v10h-117.1zM915 2965.6h55.9v10h-55.9zM1480.9 2965.6h106.9v10h-106.9zM915 2975.7h55.9v10h-55.9zM1480.9 2975.7h106.9v10h-106.9zM915 2985.7h45.7v10h-45.7zM1480.9 2985.7h106.9v10h-106.9zM915 2995.8h45.7v10h-45.7zM1480.9 2995.8h106.9v10h-106.9zM915 3005.8h45.7v10h-45.7zM1480.9 3005.8h106.9v10h-106.9zM915 3015.8h45.7v10h-45.7zM1480.9 3015.8h106.9v10h-106.9zM915 3025.9h55.9v10h-55.9zM1480.9 3025.9h106.9v10h-106.9zM915 3035.9h55.9v10h-55.9zM1470.7 3035.9h117.1v10h-117.1zM915 3046h55.9v10h-55.9zM1470.7 3046h117.1v10h-117.1zM915 3056h66.1v10h-66.1zM1460.5 3056h127.3v10h-127.3zM915 3066h76.3v10h-76.3zM1450.3 3066h137.5v10h-137.5zM915 3076.1h86.5v10h-86.5zM1440.1 3076.1h147.7v10h-147.7zM915 3086.1h117.1v10h-117.1zM1419.7 3086.1h168.1v10h-168.1zM915 3096.2h168.1v10h-168.1zM1358.5 3096.2h229.3v10h-229.3zM915 3106.2h270.1v10h-270.1zM1287.1 3106.2h300.7v10h-300.7zM915 3116.2h168.1v10h-168.1zM1368.7 3116.2h219.1v10h-219.1zM915 3126.3h117.1v10h-117.1zM1419.7 3126.3h168.1v10h-168.1zM915 3136.3h86.5v10h-86.5zM1440.1 3136.3h147.7v10h-147.7zM915 3146.4h76.3v10h-76.3zM1460.5 3146.4h127.3v10h-127.3zM915 3156.4h66.1v10h-66.1zM1460.5 3156.4h127.3v10h-127.3zM915 3166.4h55.9v10h-55.9zM1470.7 3166.4h117.1v10h-117.1zM915 3176.5h55.9v10h-55.9zM1470.7 3176.5h117.1v10h-117.1zM915 3186.5h55.9v10h-55.9zM1480.9 3186.5h106.9v10h-106.9zM915 3196.6h45.7v10h-45.7zM1480.9 3196.6h106.9v10h-106.9zM915 3206.6h45.7v10h-45.7zM1480.9 3206.6h106.9v10h-106.9zM915 3216.6h45.7v10h-45.7zM1480.9 3216.6h106.9v10h-106.9zM915 3226.7h45.7v10h-45.7zM1480.9 3226.7h106.9v10h-106.9zM915 3236.7h55.9v10h-55.9zM1480.9 3236.7h106.9v10h-106.9zM915 3246.8h55.9v10h-55.9zM1480.9 3246.8h106.9v10h-106.9zM915 3256.8h55.9v10h-55.9zM1470.7 3256.8h117.1v10h-117.1zM915 3266.8h55.9v10h-55.9zM1470.7 3266.8h117.1v10h-117.1zM915 3276.9h66.1v10h-66.1zM1470.7 3276.9h117.1v10h-117.1zM915 3286.9h66.1v10h-66.1zM1460.5 3286.9h127.3v10h-127.3zM915 3297h76.3v10h-76.3zM1450.3 3297h137.5v10h-137.5zM915 3307h86.5v10h-86.5zM1450.3 3307h137.5v10h-137.5zM915 3317h86.5v10h-86.5zM1440.1 3317h147.7v10h-147.7zM915 3327.1h96.7v10h-96.7zM1429.9 3327.1h157.9v10h-157.9zM915 3337.1h106.9v10h-106.9zM1429.9 3337.1h157.9v10h-157.9zM915 3347.2h117.1v10h-117.1zM1419.7 3347.2h168.1v10h-168.1zM915 3357.2h127.3v10h-127.3zM1409.5 3357.2h178.3v10h-178.3zM915 3367.2h137.5v10h-137.5zM1389.1 3367.2h198.7v10h-198.7zM915 3377.3h147.7v10h-147.7zM1378.9 3377.3h208.9v10h-208.9zM915 3387.3h168.1v10h-168.1zM1358.5 3387.3h229.3v10h-229.3zM915 3397.4h188.5v10h-188.5zM1338.1 3397.4h249.7v10h-249.7zM915 3407.4h208.9v10h-208.9zM1317.7 3407.4h270.1v10h-270.1zM915 3417.4h249.7v10h-249.7zM1287.1 3417.4h300.7v10h-300.7zM915 3427.5h672.8v9.6h-672.8z"/>
<use href="#ar4" stroke="#000" stroke-width="3" fill="none"/>
<use href="#ar4" stroke="#000" fill="none" stroke-width="6.2" stroke-linecap="round" stroke-dasharray="4 199" stroke-dashoffset="-2.6"/>
</g>
<rect x="1601.6" y="2779.1" width="662.5" height="657" fill="#b4ff4b"/>
<g clip-path="url(#cp5)"><g filter="url(#bl5)" fill="none">
<path stroke="#000080" stroke-width="12.6" d="M1937.6 3109.1h12.6m-12.6 12h12.6"/>
<path stroke="#00008c" stroke-width="12.6" d="M1925.6 3109.1h12.6m11.4 0h12.6m-36.6 12h12.6m11.4 0h12.6"/>
<path stroke="#000099" stroke-width="12.6" d="M1925.6 3097.1h36.6m-48.6 12h12.6m-12.6 12h12.6m-.6 12h36.6"/>
<path stroke="#0000a6" stroke-width="12.6" d="M1913.6 3097.1h12.6m35.4 12h12.6m-12.6 12h12.6m-60.6 12h12.6"/>
<path stroke="#0000b2" stroke-width="12.6" d="M1925.6 3085.1h36.6m-.6 12h12.6m-12.6 36h12.6m-48.6 12h36.6"/>
<path stroke="#0000bf" stroke-width="12.6" d="M1913.6 3085.1h12.6m35.4 0h12.6m-72.6 12h12.6m-12.6 12h12.6m59.4 0h12.6m-84.6 12h12.6m59.4 0h12.6m-84.6 12h12.6m-.6 12h12.6m35.4 0h12.6"/>
<path stroke="#0000cc" stroke-width="12.6" d="M1925.6 3073.1h24.6m23.4 24h12.6m-12.6 36h12.6m-60.6 24h24.6"/>
<path stroke="#0000d9" stroke-width="12.6" d="M1913.6 3073.1h12.6m23.4 0h24.6m-72.6 12h12.6m59.4 0h12.6m-96.6 24h12.6m83.4 0h12.6m-108.6 12h12.6m83.4 0h12.6m-96.6 24h12.6m59.4 0h12.6m-72.6 12h12.6m23.4 0h12.6"/>
<path stroke="#0000e6" stroke-width="12.6" d="M1889.6 3097.1h12.6m83.4 0h12.6m-108.6 36h12.6m83.4 0h12.6m-36.6 24h12.6"/>
<path stroke="#0000f2" stroke-width="12.6" d="M1925.6 3061.1h36.6m-60.6 12h12.6m59.4 0h12.6m-96.6 12h12.6m83.4 0h12.6m-108.6 60h12.6m83.4 0h12.6m-96.6 12h12.6m59.4 0h12.6m-60.6 12h36.6"/>
<path stroke="#0000ff" stroke-width="12.6" d="M1913.6 3061.1h12.6m35.4 0h12.6m23.4 36h12.6m-132.6 12h12.6m107.4 0h12.6m-132.6 12h12.6m107.4 0h12.6m-12.6 12h12.6m-96.6 36h12.6m35.4 0h12.6"/>
<path stroke="#000dff" stroke-width="12.6" d="M1937.6 3049.1h12.6m-48.6 12h12.6m59.4 0h12.6m-96.6 12h12.6m83.4 0h12.6m-.6 12h12.6m-132.6 12h12.6m-12.6 36h12.6m107.4 12h12.6m-120.6 12h12.6m83.4 0h12.6m-96.6 12h12.6m59.4 0h12.6m-48.6 12h12.6"/>
<path stroke="#001aff" stroke-width="12.6" d="M1913.6 3049.1h24.6m11.4 0h24.6m-96.6 36h12.6m119.4 12h12.6m-12.6 12h12.6m-12.6 12h12.6m-12.6 12h12.6m-144.6 12h12.6m23.4 36h24.6m11.4 0h24.6"/>
<path stroke="#0026ff" stroke-width="12.6" d="M1973.6 3049.1h12.6m-96.6 12h12.6m83.4 0h12.6m-.6 12h12.6m-.6 12h12.6m-12.6 60h12.6m-24.6 12h12.6m-120.6 12h12.6m83.4 0h12.6m-24.6 12h12.6"/>
<path stroke="#0033ff" stroke-width="12.6" d="M1925.6 3037.1h36.6m-60.6 12h12.6m83.4 12h12.6m-132.6 12h12.6m-24.6 24h12.6m-12.6 12h12.6m143.4 0h12.6m-168.6 12h12.6m143.4 0h12.6m-168.6 12h12.6m-.6 24h12.6m107.4 12h12.6m-108.6 12h12.6m11.4 12h36.6"/>
<path stroke="#0040ff" stroke-width="12.6" d="M1913.6 3037.1h12.6m35.4 0h12.6m-84.6 12h12.6m83.4 0h12.6m-120.6 12h12.6m119.4 12h12.6m-156.6 12h12.6m143.4 12h12.6m-12.6 36h12.6m-168.6 12h12.6m131.4 12h12.6m-144.6 12h12.6m-.6 12h12.6m83.4 0h12.6m-84.6 12h12.6m35.4 0h12.6"/>
<path stroke="#004dff" stroke-width="12.6" d="M1901.6 3037.1h12.6m59.4 0h12.6m11.4 12h12.6m-.6 12h12.6m-156.6 12h12.6m143.4 12h12.6m-12.6 60h12.6m-168.6 12h12.6m131.4 12h12.6m-24.6 12h12.6m-108.6 12h12.6m59.4 0h12.6"/>
<path stroke="#0059ff" stroke-width="12.6" d="M1925.6 3025.1h48.6m11.4 12h12.6m-120.6 12h12.6m131.4 24h12.6m-.6 24h12.6m-192.6 12h12.6m167.4 0h12.6m-192.6 12h12.6m167.4 0h12.6m-12.6 12h12.6m-24.6 24h12.6m-156.6 24h12.6m95.4 12h12.6m-72.6 12h48.6"/>
<path stroke="#0066ff" stroke-width="12.6" d="M1913.6 3025.1h12.6m47.4 0h12.6m-96.6 12h12.6m95.4 0h12.6m-.6 12h12.6m-156.6 12h12.6m143.4 0h12.6m-180.6 24h12.6m167.4 0h12.6m-192.6 12h12.6m-12.6 36h12.6m-12.6 12h12.6m167.4 0h12.6m-180.6 24h12.6m143.4 0h12.6m-24.6 12h12.6m-132.6 12h12.6m95.4 0h12.6m-96.6 12h12.6m47.4 0h12.6"/>
<path stroke="#0073ff" stroke-width="12.6" d="M1937.6 3013.1h24.6m-60.6 12h12.6m71.4 0h12.6m11.4 12h12.6m-.6 12h12.6m-.6 24h12.6m-.6 24h12.6m-12.6 12h12.6m-12.6 12h12.6m-12.6 12h12.6m-24.6 24h12.6m-24.6 24h12.6m-24.6 12h12.6m-120.6 12h12.6m71.4 0h12.6m-60.6 12h12.6"/>
<path stroke="#0080ff" stroke-width="12.6" d="M1913.6 3013.1h24.6m23.4 0h24.6m-96.6 12h12.6m95.4 0h12.6m-132.6 12h12.6m-24.6 12h12.6m155.4 12h12.6m-192.6 12h12.6m179.4 0h12.6m-12.6 12h12.6m-12.6 60h12.6m-204.6 12h12.6m179.4 0h12.6m-24.6 12h12.6m-180.6 12h12.6m-.6 12h12.6m-.6 12h12.6m95.4 0h12.6m-96.6 12h24.6m11.4 0h36.6"/>
<path stroke="#008cff" stroke-width="12.6" d="M1901.6 3013.1h12.6m71.4 0h12.6m11.4 12h12.6m-.6 12h12.6m-.6 12h12.6m-192.6 12h12.6m179.4 0h12.6m-216.6 36h12.6m203.4 0h12.6m-228.6 12h12.6m203.4 0h12.6m-228.6 12h12.6m203.4 0h12.6m-228.6 12h12.6m203.4 0h12.6m-216.6 36h12.6m179.4 0h12.6m-24.6 12h12.6m-24.6 12h12.6m-24.6 12h12.6m-120.6 12h12.6m71.4 0h12.6"/>
<path stroke="#0099ff" stroke-width="12.6" d="M1925.6 3001.1h48.6m-84.6 12h12.6m95.4 0h12.6m-132.6 12h12.6m131.4 0h12.6m-168.6 12h12.6m155.4 0h12.6m-.6 12h12.6m-.6 24h12.6m-228.6 12h12.6m203.4 0h12.6m-228.6 60h12.6m203.4 0h12.6m-12.6 12h12.6m-204.6 36h12.6m155.4 0h12.6m-168.6 12h12.6m131.4 0h12.6m-144.6 12h12.6m95.4 0h12.6m-84.6 12h48.6"/>
<path stroke="#00a6ff" stroke-width="12.6" d="M1913.6 3001.1h12.6m47.4 0h24.6m11.4 12h12.6m-168.6 36h12.6m191.4 12h12.6m-228.6 12h12.6m215.4 12h12.6m-12.6 12h12.6m-12.6 12h12.6m-12.6 12h12.6m-12.6 12h12.6m-12.6 12h12.6m-240.6 12h12.6m203.4 12h12.6m-216.6 12h12.6m179.4 0h12.6m-48.6 36h12.6m-108.6 12h12.6m47.4 0h24.6"/>
<path stroke="#00b2ff" stroke-width="6.6" d="M1835.6 3100.1h6.6m-6.6 6h6.6m-6.6 6h6.6m-6.6 6h6.6m-6.6 6h6.6m-6.6 6h6.6"/>
<path stroke="#00b2ff" stroke-width="12.6" d="M1925.6 2989.1h48.6m-72.6 12h12.6m83.4 0h12.6m-132.6 12h12.6m131.4 0h12.6m-168.6 12h12.6m155.4 0h12.6m-.6 12h12.6m-.6 12h12.6m-228.6 12h12.6m215.4 12h12.6m-12.6 84h12.6m-240.6 12h12.6m203.4 12h12.6m-24.6 12h12.6m-192.6 12h12.6m155.4 0h12.6m-168.6 12h12.6m131.4 0h12.6m-132.6 12h12.6m83.4 0h12.6m-84.6 12h48.6"/>
<path stroke="#00bfff" stroke-width="6.6" d="M1835.6 3082.1h6.6m-6.6 6h6.6m-6.6 6h6.6m-6.6 42h6.6m-6.6 6h6.6m-6.6 6h6.6"/>
<path stroke="#00bfff" stroke-width="12.6" d="M1913.6 2989.1h12.6m47.4 0h24.6m-108.6 12h12.6m107.4 0h24.6m-.6 12h12.6m-.6 12h12.6m-204.6 12h12.6m191.4 0h12.6m-.6 12h12.6m-12.6 12h12.6m-.6 24h12.6m-12.6 12h12.6m-12.6 12h12.6m-12.6 12h12.6m-12.6 12h12.6m-12.6 12h12.6m-24.6 24h12.6m-12.6 12h12.6m-228.6 12h12.6m191.4 0h12.6m-24.6 12h12.6m-24.6 12h12.6m-156.6 12h12.6m107.4 0h24.6m-120.6 12h12.6m47.4 0h24.6"/>
<path stroke="#00ccff" stroke-width="6.6" d="M1835.6 3070.1h6.6m-6.6 6h6.6m-12.6 30h6.6m-6.6 6h6.6m-6.6 6h6.6m-6.6 6h6.6m-.6 30h6.6"/>
<path stroke="#00ccff" stroke-width="12.6" d="M1937.6 2977.1h48.6m-84.6 12h12.6m83.4 0h24.6m-144.6 12h12.6m143.4 0h12.6m-180.6 12h12.6m167.4 0h12.6m-.6 12h12.6m-.6 12h12.6m-240.6 12h12.6m227.4 12h12.6m-12.6 12h12.6m-.6 24h12.6m-12.6 12h12.6m-12.6 12h12.6m-12.6 12h12.6m-24.6 24h12.6m-12.6 12h12.6m-252.6 12h12.6m215.4 12h12.6m-24.6 12h12.6m-204.6 12h12.6m167.4 0h12.6m-180.6 12h12.6m143.4 0h12.6m-144.6 12h12.6m83.4 0h24.6m-84.6 12h48.6"/>
<path stroke="#00d9ff" stroke-width="6.6" d="M1835.6 3064.1h6.6m-12.6 24h6.6m-6.6 6h6.6m-6.6 6h6.6m-6.6 30h6.6m-6.6 6h6.6m-6.6 6h6.6m-.6 18h6.6m-6.6 6h6.6"/>
<path stroke="#00d9ff" stroke-width="12.6" d="M1913.6 2977.1h24.6m47.4 0h24.6m-120.6 12h12.6m119.4 0h12.6m11.4 12h12.6m-.6 12h12.6m-216.6 12h12.6m203.4 0h12.6m-.6 24h12.6m-.6 12h12.6m-12.6 12h12.6m-12.6 12h12.6m-12.6 60h12.6m-12.6 12h12.6m-12.6 12h12.6m-24.6 12h12.6m-240.6 24h12.6m203.4 0h12.6m-24.6 12h12.6m-24.6 12h12.6m-168.6 12h12.6m119.4 0h12.6m-120.6 12h24.6m47.4 0h24.6"/>
<path stroke="#00e5ff" stroke-width="6.6" d="M1835.6 3058.1h6.6m-12.6 18h6.6m-6.6 6h6.6m-6.6 66h6.6m-6.6 6h6.6m-.6 18h6.6"/>
<path stroke="#00e5ff" stroke-width="12.6" d="M1937.6 2965.1h60.6m-96.6 12h12.6m95.4 0h24.6m-.6 12h24.6m-.6 12h12.6m-.6 12h12.6m-.6 12h12.6m-252.6 12h12.6m227.4 0h12.6m-.6 12h12.6m-.6 24h12.6m-12.6 12h12.6m-12.6 12h12.6m-12.6 12h12.6m-12.6 12h12.6m-12.6 12h12.6m-12.6 12h12.6m-12.6 12h12.6m-24.6 24h12.6m-264.6 12h12.6m227.4 0h12.6m-12.6 12h12.6m-24.6 12h12.6m-24.6 12h12.6m-36.6 12h24.6m-156.6 12h12.6m95.4 0h24.6m-96.6 12h60.6"/>
<path stroke="#00f2ff" stroke-width="6.6" d="M1835.6 3052.1h6.6m-12.6 18h6.6m-12.6 30h6.6m-6.6 6h6.6m-6.6 6h6.6m-6.6 6h6.6m-6.6 6h6.6m-6.6 6h6.6m-.6 30h6.6m-.6 18h6.6"/>
<path stroke="#00f2ff" stroke-width="12.6" d="M1913.6 2965.1h24.6m59.4 0h36.6m-144.6 12h12.6m131.4 0h24.6m-180.6 12h12.6m167.4 0h12.6m-204.6 12h12.6m191.4 0h12.6m-228.6 12h12.6m215.4 0h12.6m-.6 12h12.6m-12.6 12h12.6m-.6 12h12.6m-12.6 12h12.6m-.6 12h12.6m-12.6 12h12.6m-12.6 12h12.6m-12.6 12h12.6m-12.6 12h12.6m-12.6 12h12.6m-12.6 12h12.6m-12.6 12h12.6m-24.6 12h12.6m-12.6 12h12.6m-24.6 12h12.6m-12.6 12h12.6m-252.6 12h12.6m215.4 0h12.6m-228.6 12h12.6m191.4 0h12.6m-204.6 12h12.6m167.4 0h12.6m-180.6 12h12.6m131.4 0h24.6m-144.6 12h24.6m59.4 0h36.6"/>
<path stroke="#00ffff" stroke-width="6.6" d="M1835.6 3046.1h6.6m-12.6 12h6.6m-6.6 6h6.6m-12.6 18h6.6m-6.6 6h6.6m-6.6 6h6.6m-6.6 42h6.6m-6.6 6h6.6m-6.6 6h6.6m-.6 18h6.6m-6.6 6h6.6m-.6 12h6.6"/>
<path stroke="#00ffff" stroke-width="12.6" d="M1925.6 2953.1h96.6m-120.6 12h12.6m119.4 0h24.6m-.6 12h12.6m-.6 12h12.6m-.6 12h12.6m-.6 12h12.6m-264.6 12h12.6m251.4 0h12.6m-12.6 12h12.6m-.6 12h12.6m-12.6 12h12.6m-.6 12h12.6m-12.6 12h12.6m-12.6 12h12.6m-12.6 12h12.6m-12.6 12h12.6m-12.6 12h12.6m-12.6 12h12.6m-12.6 12h12.6m-24.6 12h12.6m-12.6 12h12.6m-24.6 12h12.6m-276.6 12h12.6m251.4 0h12.6m-24.6 12h12.6m-24.6 12h12.6m-24.6 12h12.6m-24.6 12h12.6m-168.6 12h12.6m119.4 0h24.6m-132.6 12h96.6"/>
<path stroke="#0dfff2" stroke-width="6.6" d="M1835.6 3040.1h6.6m-12.6 12h6.6m-12.6 24h6.6m-6.6 78h6.6m-.6 24h6.6m-.6 12h6.6"/>
<path stroke="#0dfff2" stroke-width="12.6" d="M1937.6 2941.1h96.6m-120.6 12h12.6m95.4 0h36.6m-168.6 12h12.6m155.4 0h24.6m-204.6 12h12.6m179.4 0h24.6m-228.6 12h12.6m203.4 0h24.6m-252.6 12h12.6m227.4 0h24.6m-12.6 12h24.6m-12.6 12h12.6m-12.6 12h24.6m-12.6 12h12.6m-12.6 12h24.6m-12.6 12h12.6m-12.6 12h12.6m-12.6 12h12.6m-12.6 12h12.6m-12.6 12h12.6m-12.6 12h12.6m-12.6 12h12.6m-12.6 12h12.6m-24.6 12h24.6m-24.6 12h12.6m-24.6 12h24.6m-24.6 12h12.6m-24.6 12h24.6m-276.6 12h12.6m227.4 0h24.6m-252.6 12h12.6m203.4 0h24.6m-228.6 12h12.6m179.4 0h24.6m-204.6 12h12.6m155.4 0h24.6m-168.6 12h12.6m95.4 0h36.6m-120.6 12h96.6"/>
<path stroke="#1affe5" stroke-width="6.6" d="M1835.6 3034.1h6.6m-12.6 12h6.6m-12.6 18h6.6m-6.6 6h6.6m-12.6 30h6.6m-6.6 6h6.6m-6.6 6h6.6m-6.6 6h6.6m-6.6 6h6.6m-6.6 6h6.6m-.6 30h6.6m-6.6 6h6.6m-.6 18h6.6m-.6 12h6.6"/>
<path stroke="#1affe5" stroke-width="12.6" d="M1937.6 2929.1h96.6m-120.6 12h24.6m95.4 0h36.6m-168.6 12h12.6m143.4 0h36.6m-12.6 12h24.6m-12.6 12h24.6m-12.6 12h24.6m-12.6 12h24.6m-12.6 12h12.6m-12.6 12h24.6m-12.6 12h12.6m-12.6 12h24.6m-12.6 12h12.6m-12.6 12h12.6m-12.6 12h12.6m-12.6 12h24.6m-24.6 12h24.6m-24.6 12h24.6m-24.6 12h24.6m-24.6 12h12.6m-12.6 12h12.6m-12.6 12h12.6m-24.6 12h24.6m-24.6 12h12.6m-24.6 12h24.6m-24.6 12h12.6m-24.6 12h24.6m-36.6 12h24.6m-36.6 12h24.6m-36.6 12h24.6m-204.6 12h12.6m143.4 0h36.6m-180.6 12h24.6m95.4 0h36.6m-132.6 12h96.6"/>
<path stroke="#26ffd9" stroke-width="6.6" d="M1835.6 3028.1h6.6m-12.6 12h6.6m-12.6 18h6.6m-12.6 24h6.6m-6.6 6h6.6m-6.6 6h6.6m-6.6 42h6.6m-6.6 6h6.6m-6.6 6h6.6m-.6 24h6.6m-.6 18h6.6m-.6 12h6.6"/>
<path stroke="#26ffd9" stroke-width="12.6" d="M1937.6 2917.1h120.6m-144.6 12h24.6m95.4 0h48.6m-180.6 12h12.6m155.4 0h36.6m-216.6 12h12.6m191.4 0h24.6m-240.6 12h12.6m215.4 0h24.6m-264.6 12h12.6m239.4 0h24.6m-12.6 12h24.6m-12.6 12h24.6m-324.6 12h12.6m287.4 0h24.6m-12.6 12h24.6m-24.6 12h24.6m-12.6 12h24.6m-24.6 12h24.6m-24.6 12h24.6m-24.6 12h24.6m-12.6 12h12.6m-12.6 12h24.6m-24.6 12h24.6m-24.6 12h12.6m-24.6 12h24.6m-24.6 12h24.6m-24.6 12h24.6m-24.6 12h24.6m-36.6 12h24.6m-24.6 12h24.6m-336.6 12h12.6m287.4 0h24.6m-24.6 12h24.6m-36.6 12h24.6m-288.6 12h12.6m239.4 0h24.6m-264.6 12h12.6m215.4 0h24.6m-240.6 12h12.6m191.4 0h24.6m-216.6 12h12.6m155.4 0h36.6m-192.6 12h24.6m95.4 0h48.6m-144.6 12h120.6"/>
<path stroke="#33ffcc" stroke-width="6.6" d="M1835.6 3022.1h6.6m-18.6 30h6.6m-12.6 24h6.6m-6.6 78h6.6m-.6 24h6.6m5.4 30h6.6"/>
<path stroke="#33ffcc" stroke-width="12.6" d="M1961.6 2893.1h120.6m-156.6 12h180.6m-204.6 12h36.6m119.4 0h72.6m-240.6 12h24.6m167.4 0h60.6m-252.6 12h12.6m203.4 0h48.6m-276.6 12h12.6m227.4 0h48.6m-300.6 12h12.6m251.4 0h48.6m-36.6 12h48.6m-336.6 12h12.6m287.4 0h48.6m-36.6 12h36.6m-36.6 12h48.6m-36.6 12h36.6m-36.6 12h36.6m-24.6 12h36.6m-36.6 12h36.6m-36.6 12h36.6m-36.6 12h36.6m-36.6 12h36.6m-24.6 12h24.6m-24.6 12h24.6m-36.6 12h36.6m-36.6 12h36.6m-36.6 12h36.6m-36.6 12h36.6m-36.6 12h36.6m-48.6 12h36.6m-36.6 12h36.6m-48.6 12h48.6m-48.6 12h36.6m-348.6 12h12.6m287.4 0h48.6m-60.6 12h48.6m-324.6 12h12.6m251.4 0h48.6m-300.6 12h12.6m227.4 0h48.6m-276.6 12h12.6m203.4 0h48.6m-264.6 12h24.6m167.4 0h60.6m-240.6 12h36.6m119.4 0h72.6m-204.6 12h180.6m-144.6 12h120.6"/>
<path stroke="#40ffbf" stroke-width="6.6" d="M1829.6 3034.1h6.6m-12.6 12h6.6m-12.6 24h6.6m-12.6 42h6.6m-6.6 6h6.6m-.6 42h6.6m-.6 24h6.6m-.6 12h6.6"/>
<path stroke="#40ffbf" stroke-width="12.6" d="M2033.6 2845.1h132.6m-168.6 12h192.6m-228.6 12h252.6m-276.6 12h300.6m-324.6 12h48.6m119.4 0h168.6m-348.6 12h24.6m179.4 0h156.6m-372.6 12h12.6m227.4 0h144.6m-396.6 12h12.6m251.4 0h144.6m-408.6 12h12.6m263.4 0h132.6m-420.6 12h12.6m287.4 0h132.6m-120.6 12h120.6m-444.6 12h12.6m323.4 0h108.6m-96.6 12h96.6m-456.6 12h12.6m347.4 0h96.6m-84.6 12h84.6m-84.6 12h84.6m-84.6 12h84.6m-72.6 12h72.6m-72.6 12h72.6m-72.6 12h72.6m-72.6 12h72.6m-72.6 12h72.6m-72.6 12h72.6m-72.6 12h72.6m-72.6 12h72.6m-72.6 12h72.6m-72.6 12h72.6m-72.6 12h72.6m-72.6 12h72.6m-84.6 12h84.6m-84.6 12h84.6m-84.6 12h84.6m-456.6 12h12.6m347.4 0h96.6m-96.6 12h96.6m-444.6 12h12.6m323.4 0h108.6m-120.6 12h120.6m-432.6 12h12.6m287.4 0h132.6m-420.6 12h12.6m263.4 0h132.6m-408.6 12h12.6m251.4 0h144.6m-396.6 12h12.6m227.4 0h144.6m-372.6 12h24.6m179.4 0h156.6m-348.6 12h48.6m119.4 0h168.6m-312.6 12h300.6m-276.6 12h252.6m-216.6 12h192.6m-156.6 12h132.6"/>
<path stroke="#4dffb2" stroke-width="6.6" d="M1829.6 3028.1h6.6m-18.6 36h6.6m-12.6 30h6.6m-6.6 6h6.6m-6.6 6h6.6m-6.6 18h6.6m-6.6 6h6.6m-6.6 6h6.6m-.6 30h6.6m5.4 36h6.6"/>
<path stroke="#4dffb2" stroke-width="12.6" d="M2009.6 2761.1h288.6m-288.6 12h288.6m-300.6 12h300.6m-300.6 12h300.6m-312.6 12h312.6m-324.6 12h324.6m-336.6 12h336.6m-348.6 12h84.6m131.4 0h132.6m-372.6 12h72.6m191.4 0h108.6m-384.6 12h48.6m251.4 0h84.6m-396.6 12h36.6m299.4 0h60.6m-408.6 12h24.6m335.4 0h48.6m-420.6 12h24.6m359.4 0h36.6m-432.6 12h24.6m383.4 0h24.6m-432.6 12h12.6m407.4 0h12.6m-432.6 12h12.6m407.4 0h12.6m-444.6 24h12.6m-12.6 300h12.6m-.6 24h12.6m407.4 0h12.6m-432.6 12h12.6m407.4 0h12.6m-432.6 12h24.6m383.4 0h24.6m-420.6 12h24.6m359.4 0h36.6m-408.6 12h24.6m335.4 0h48.6m-396.6 12h36.6m299.4 0h60.6m-384.6 12h48.6m251.4 0h84.6m-372.6 12h72.6m191.4 0h108.6m-348.6 12h84.6m131.4 0h132.6m-336.6 12h336.6m-324.6 12h324.6m-312.6 12h312.6m-300.6 12h300.6m-300.6 12h300.6m-288.6 12h288.6"/>
<path stroke="#59ffa6" stroke-width="6.6" d="M1829.6 3022.1h6.6m-12.6 18h6.6m-12.6 18h6.6m-12.6 24h6.6m-6.6 6h6.6m-6.6 54h6.6m-6.6 6h6.6m-.6 24h6.6m-.6 18h6.6m-.6 18h6.6"/>
<path stroke="#59ffa6" stroke-width="12.6" d="M1949.6 2761.1h60.6m-60.6 12h60.6m-72.6 12h60.6m-60.6 12h60.6m-72.6 12h60.6m-60.6 12h48.6m-60.6 12h48.6m-60.6 12h48.6m-48.6 12h24.6m-36.6 12h24.6m-36.6 12h24.6m-24.6 12h12.6m-24.6 12h12.6m-24.6 12h12.6m-12.6 12h12.6m-12.6 12h12.6m-12.6 12h12.6m-24.6 36h12.6m-24.6 24h12.6m-12.6 204h12.6m-.6 24h12.6m-.6 36h12.6m-12.6 12h12.6m-12.6 12h12.6m-12.6 12h12.6m-.6 12h12.6m-.6 12h12.6m-12.6 12h24.6m-12.6 12h24.6m-12.6 12h24.6m-24.6 12h48.6m-36.6 12h48.6m-36.6 12h48.6m-48.6 12h60.6m-48.6 12h60.6m-60.6 12h60.6m-48.6 12h60.6"/>
<path stroke="#66ff99" stroke-width="6.6" d="M1823.6 3034.1h6.6m-12.6 18h6.6m-12.6 24h6.6m-6.6 78h6.6m-.6 24h6.6m-.6 18h6.6"/>
<path stroke="#66ff99" stroke-width="12.6" d="M1901.6 2761.1h48.6m-48.6 12h48.6m-48.6 12h36.6m-36.6 12h36.6m-48.6 12h36.6m-36.6 12h36.6m-36.6 12h24.6m-36.6 12h24.6m-24.6 12h24.6m-36.6 12h24.6m-24.6 12h12.6m-24.6 12h24.6m-24.6 12h12.6m-24.6 24h12.6m-12.6 12h12.6m-12.6 12h12.6m-12.6 12h12.6m-12.6 12h12.6m-12.6 276h12.6m-12.6 12h12.6m-12.6 12h12.6m-12.6 12h12.6m-12.6 12h12.6m-.6 24h12.6m-12.6 12h24.6m-12.6 12h12.6m-12.6 12h24.6m-12.6 12h24.6m-24.6 12h24.6m-12.6 12h24.6m-24.6 12h36.6m-24.6 12h24.6m-24.6 12h36.6m-36.6 12h36.6m-36.6 12h48.6"/>
<path stroke="#73ff8c" stroke-width="6.6" d="M1823.6 3028.1h6.6m-12.6 18h6.6m-12.6 24h6.6m-6.6 90h6.6m-.6 24h6.6m-.6 18h6.6"/>
<path stroke="#73ff8c" stroke-width="12.6" d="M1877.6 2761.1h24.6m-24.6 12h24.6m-24.6 12h24.6m-24.6 12h24.6m-36.6 12h24.6m-24.6 12h24.6m-24.6 12h24.6m-24.6 12h12.6m-12.6 12h12.6m-24.6 12h12.6m-12.6 12h12.6m-24.6 24h12.6m-12.6 12h12.6m-24.6 84h12.6m-12.6 228h12.6m-.6 84h12.6m-12.6 12h12.6m-.6 24h12.6m-12.6 12h12.6m-.6 12h12.6m-12.6 12h12.6m-12.6 12h24.6m-24.6 12h24.6m-24.6 12h36.6m-24.6 12h24.6m-24.6 12h24.6m-24.6 12h24.6"/>
<path stroke="#80ff80" stroke-width="6.6" d="M1823.6 3022.1h6.6m-12.6 18h6.6m-12.6 24h6.6m-12.6 36h6.6m-6.6 6h6.6m-6.6 6h6.6m-6.6 6h6.6m-6.6 6h6.6m-6.6 6h6.6m-.6 36h6.6m-.6 24h6.6m-.6 18h6.6"/>
<path stroke="#80ff80" stroke-width="12.6" d="M1853.6 2761.1h24.6m-24.6 12h24.6m-24.6 12h24.6m-24.6 12h24.6m-24.6 12h12.6m-12.6 12h12.6m-12.6 12h12.6m-12.6 12h12.6m-24.6 12h24.6m-24.6 12h12.6m-12.6 12h12.6m-12.6 12h12.6m-24.6 24h12.6m-12.6 12h12.6m-12.6 12h12.6m-12.6 12h12.6m-12.6 12h12.6m-12.6 12h12.6m-12.6 12h12.6m-12.6 252h12.6m-12.6 12h12.6m-12.6 12h12.6m-12.6 12h12.6m-12.6 12h12.6m-12.6 12h12.6m-12.6 12h12.6m-.6 24h12.6m-12.6 12h12.6m-12.6 12h12.6m-12.6 12h24.6m-12.6 12h12.6m-12.6 12h12.6m-12.6 12h12.6m-12.6 12h12.6m-12.6 12h24.6m-24.6 12h24.6m-24.6 12h24.6"/>
<path stroke="#8cff73" stroke-width="6.6" d="M1817.6 3034.1h6.6m-12.6 24h6.6m-12.6 30h6.6m-6.6 6h6.6m-6.6 42h6.6m-6.6 6h6.6m-.6 30h6.6m-.6 24h6.6"/>
<path stroke="#8cff73" stroke-width="12.6" d="M1841.6 2761.1h12.6m-12.6 12h12.6m-12.6 12h12.6m-12.6 12h12.6m-12.6 12h12.6m-12.6 12h12.6m-12.6 12h12.6m-12.6 12h12.6m-24.6 24h12.6m-12.6 12h12.6m-12.6 12h12.6m-12.6 12h12.6m-24.6 48h12.6m-12.6 324h12.6m-.6 48h12.6m-12.6 12h12.6m-12.6 12h12.6m-12.6 12h12.6m-.6 24h12.6m-12.6 12h12.6m-12.6 12h12.6m-12.6 12h12.6m-12.6 12h12.6m-12.6 12h12.6m-12.6 12h12.6"/>
<path stroke="#99ff66" stroke-width="6.6" d="M1817.6 3028.1h6.6m-12.6 24h6.6m-12.6 30h6.6m-6.6 66h6.6m-.6 30h6.6m-.6 24h6.6"/>
<path stroke="#99ff66" stroke-width="12.6" d="M1817.6 2761.1h24.6m-12.6 12h12.6m-12.6 12h12.6m-12.6 12h12.6m-12.6 12h12.6m-12.6 12h12.6m-12.6 12h12.6m-12.6 12h12.6m-12.6 12h12.6m-24.6 48h12.6m-12.6 12h12.6m-12.6 12h12.6m-12.6 12h12.6m-12.6 24h12.6m-12.6 12h12.6m-12.6 276h12.6m-12.6 12h12.6m-12.6 24h12.6m-12.6 12h12.6m-12.6 12h12.6m-12.6 12h12.6m-.6 48h12.6m-12.6 12h12.6m-12.6 12h12.6m-12.6 12h12.6m-12.6 12h12.6m-12.6 12h12.6m-12.6 12h12.6m-12.6 12h12.6"/>
<path stroke="#a6ff59" stroke-width="6.6" d="M1817.6 3022.1h6.6m-12.6 24h6.6m-12.6 30h6.6m-6.6 78h6.6m-.6 30h6.6m-.6 24h6.6"/>
<path stroke="#a6ff59" stroke-width="12.6" d="M1805.6 2761.1h12.6m-12.6 12h24.6m-12.6 12h12.6m-12.6 12h12.6m-12.6 12h12.6m-12.6 12h12.6m-12.6 12h12.6m-12.6 12h12.6m-12.6 12h12.6m-12.6 12h12.6m-12.6 12h12.6m-12.6 12h12.6m-24.6 60h12.6m-.6 36h12.6m-12.6 12h12.6m-180.6 12h24.6m143.4 0h12.6m-180.6 12h24.6m-24.6 12h36.6m-48.6 12h48.6m-48.6 12h48.6m-48.6 12h48.6m-48.6 12h48.6m-48.6 12h60.6m-60.6 12h60.6m-60.6 12h60.6m-60.6 12h60.6m-60.6 12h48.6m-48.6 12h48.6m-48.6 12h48.6m-48.6 12h48.6m-36.6 12h36.6m-36.6 12h24.6m-24.6 12h24.6m143.4 0h12.6m-12.6 12h12.6m-12.6 12h12.6m-24.6 36h12.6m-.6 60h12.6m-12.6 12h12.6m-12.6 12h12.6m-12.6 12h12.6m-12.6 12h12.6m-12.6 12h12.6m-12.6 12h12.6m-12.6 12h12.6m-12.6 12h12.6m-12.6 12h12.6m-24.6 12h24.6"/>
<path stroke="#bfff40" stroke-width="6.6" d="M1811.6 3034.1h6.6m-12.6 30h6.6m-12.6 42h6.6m-6.6 6h6.6m-6.6 6h6.6m-6.6 6h6.6m-.6 42h6.6m-.6 30h6.6"/>
<path stroke="#bfff40" stroke-width="12.6" d="M1721.6 2761.1h72.6m-72.6 12h36.6m11.4 0h24.6m-84.6 12h36.6m35.4 0h24.6m-96.6 12h24.6m47.4 0h24.6m-96.6 12h24.6m59.4 0h12.6m-96.6 12h24.6m59.4 0h12.6m-96.6 12h12.6m71.4 0h12.6m-108.6 12h24.6m-24.6 12h24.6m-24.6 12h24.6m-24.6 12h24.6m-24.6 12h24.6m-24.6 12h24.6m-24.6 12h24.6m-24.6 12h12.6m-12.6 12h12.6m83.4 0h12.6m-108.6 12h12.6m83.4 0h12.6m-108.6 12h24.6m71.4 0h12.6m-108.6 12h24.6m-24.6 12h24.6m83.4 0h12.6m-108.6 12h12.6m-12.6 12h12.6m-12.6 12h12.6m-12.6 12h12.6m-12.6 12h12.6m-12.6 12h12.6m-12.6 12h12.6m-12.6 12h12.6m-12.6 12h12.6m-12.6 12h12.6m-12.6 12h12.6m-12.6 12h12.6m-12.6 12h12.6m-12.6 12h12.6m-12.6 12h12.6m-12.6 12h12.6m-12.6 12h12.6m-12.6 12h12.6m-12.6 12h12.6m-24.6 12h24.6m-24.6 12h24.6m83.4 0h12.6m-120.6 12h24.6m-24.6 12h24.6m71.4 0h12.6m-108.6 12h12.6m83.4 0h12.6m-108.6 12h12.6m83.4 0h12.6m-108.6 12h12.6m-12.6 12h24.6m-24.6 12h24.6m-24.6 12h24.6m-24.6 12h24.6m-24.6 12h24.6m-24.6 12h24.6m-24.6 12h24.6m-12.6 12h12.6m71.4 0h12.6m-96.6 12h24.6m59.4 0h12.6m-96.6 12h24.6m59.4 0h12.6m-96.6 12h24.6m47.4 0h24.6m-96.6 12h36.6m35.4 0h24.6m-84.6 12h36.6m11.4 0h24.6"/>
<path stroke="#ccff33" stroke-width="6.6" d="M1811.6 3022.1h6.6m-6.6 6h6.6m-12.6 24h6.6m-6.6 6h6.6m-12.6 36h6.6m-6.6 6h6.6m-6.6 30h6.6m-6.6 6h6.6m-.6 36h6.6m-6.6 6h6.6m-.6 24h6.6m-6.6 6h6.6"/>
<path stroke="#ccff33" stroke-width="12.6" d="M1757.6 2773.1h12.6m-24.6 12h36.6m-48.6 12h48.6m-48.6 12h60.6m-60.6 12h24.6m23.4 0h12.6m-72.6 12h24.6m35.4 0h12.6m-72.6 12h24.6m35.4 0h24.6m-84.6 12h12.6m59.4 0h12.6m-84.6 12h12.6m59.4 0h12.6m-84.6 12h12.6m59.4 0h12.6m-84.6 12h12.6m59.4 0h12.6m-84.6 12h12.6m59.4 0h12.6m-84.6 12h12.6m59.4 0h12.6m-96.6 12h24.6m59.4 0h12.6m-96.6 12h24.6m-24.6 12h24.6m-12.6 12h12.6m-12.6 12h12.6m59.4 0h12.6m-84.6 12h12.6m59.4 0h12.6m-84.6 12h12.6m71.4 0h12.6m-96.6 12h12.6m-12.6 12h12.6m-12.6 12h12.6m-12.6 12h12.6m-12.6 12h12.6m-12.6 12h12.6m-12.6 12h12.6m-12.6 60h12.6m-12.6 12h12.6m-12.6 12h12.6m-12.6 12h12.6m-12.6 12h12.6m-12.6 12h12.6m-12.6 12h12.6m-12.6 12h12.6m71.4 0h12.6m-96.6 12h12.6m59.4 0h12.6m-84.6 12h12.6m59.4 0h12.6m-84.6 12h12.6m-24.6 12h24.6m-24.6 12h24.6m-24.6 12h24.6m59.4 0h12.6m-84.6 12h12.6m59.4 0h12.6m-84.6 12h12.6m59.4 0h12.6m-84.6 12h12.6m59.4 0h12.6m-84.6 12h12.6m59.4 0h12.6m-84.6 12h12.6m59.4 0h12.6m-84.6 12h12.6m59.4 0h12.6m-84.6 12h24.6m35.4 0h24.6m-84.6 12h24.6m35.4 0h12.6m-60.6 12h24.6m23.4 0h12.6m-60.6 12h60.6m-60.6 12h48.6m-36.6 12h36.6m-24.6 12h12.6"/>
<path stroke="#d9ff26" stroke-width="6.6" d="M1733.6 3022.1h6.6m-6.6 6h6.6m-6.6 6h6.6m-6.6 6h6.6m-6.6 6h6.6m65.4 0h6.6m-78.6 6h6.6m-6.6 6h6.6m59.4 24h6.6m-6.6 6h6.6m-6.6 54h6.6m-6.6 6h6.6m-72.6 24h6.6m-6.6 6h6.6m-6.6 6h6.6m65.4 0h6.6m-78.6 6h6.6m-6.6 6h6.6m-6.6 6h6.6m-6.6 6h6.6"/>
<path stroke="#d9ff26" stroke-width="12.6" d="M1757.6 2821.1h24.6m-36.6 12h36.6m-36.6 12h36.6m-48.6 12h60.6m-60.6 12h24.6m23.4 0h12.6m-60.6 12h12.6m35.4 0h12.6m-60.6 12h12.6m35.4 0h12.6m-60.6 12h12.6m35.4 0h12.6m-60.6 12h12.6m35.4 0h12.6m-60.6 12h12.6m35.4 0h12.6m-60.6 12h12.6m35.4 0h12.6m-60.6 12h12.6m35.4 0h12.6m-60.6 12h12.6m35.4 0h12.6m-60.6 12h12.6m35.4 0h12.6m-60.6 12h12.6m35.4 0h12.6m-60.6 12h12.6m-12.6 12h12.6m59.4 0h12.6m-96.6 84h12.6m-12.6 12h12.6m-12.6 12h12.6m-12.6 12h12.6m-.6 84h12.6m59.4 0h12.6m-84.6 12h12.6m47.4 0h12.6m-72.6 12h12.6m35.4 0h12.6m-60.6 12h12.6m35.4 0h12.6m-60.6 12h12.6m35.4 0h12.6m-60.6 12h12.6m35.4 0h12.6m-60.6 12h12.6m35.4 0h12.6m-60.6 12h12.6m35.4 0h12.6m-60.6 12h12.6m35.4 0h12.6m-60.6 12h12.6m35.4 0h12.6m-60.6 12h12.6m35.4 0h12.6m-60.6 12h12.6m35.4 0h12.6m-60.6 12h24.6m23.4 0h12.6m-60.6 12h60.6m-48.6 12h36.6m-36.6 12h36.6m-24.6 12h24.6"/>
<path stroke="#e5ff1a" stroke-width="6.6" d="M1739.6 3022.1h12.6m-12.6 6h12.6m-12.6 6h12.6m53.4 0h6.6m-72.6 6h6.6m59.4 0h6.6m-72.6 6h6.6m-6.6 6h6.6m-6.6 6h6.6m-12.6 6h6.6m-6.6 6h6.6m-6.6 6h6.6m59.4 0h6.6m-72.6 6h6.6m-6.6 6h6.6m-6.6 6h6.6m-6.6 6h6.6m-6.6 6h6.6m-6.6 6h6.6m-6.6 6h6.6m-6.6 6h6.6m-6.6 6h6.6m-6.6 6h6.6m-6.6 6h6.6m-6.6 6h6.6m-6.6 6h6.6m59.4 0h6.6m-72.6 6h6.6m-6.6 6h6.6m-.6 6h6.6m-6.6 6h6.6m-6.6 6h6.6m-6.6 6h6.6m59.4 0h6.6m-72.6 6h12.6m53.4 0h6.6m-72.6 6h12.6m-12.6 6h12.6"/>
<path stroke="#e5ff1a" stroke-width="12.6" d="M1757.6 2869.1h24.6m-36.6 12h36.6m-36.6 12h36.6m-36.6 12h36.6m-36.6 12h36.6m-36.6 12h36.6m-36.6 12h36.6m-36.6 12h36.6m-36.6 12h36.6m-36.6 12h36.6m-36.6 12h36.6m-36.6 12h12.6m23.4 0h24.6m-60.6 12h12.6m-12.6 204h12.6m-12.6 12h12.6m23.4 0h12.6m-48.6 12h36.6m-36.6 12h36.6m-36.6 12h36.6m-36.6 12h36.6m-36.6 12h36.6m-36.6 12h36.6m-36.6 12h36.6m-36.6 12h36.6m-36.6 12h36.6m-36.6 12h36.6m-24.6 12h24.6"/>
<path stroke="#f2ff0d" stroke-width="6.6" d="M1751.6 3022.1h12.6m41.4 0h6.6m-60.6 6h12.6m41.4 0h6.6m-60.6 6h6.6m-12.6 6h12.6m-12.6 6h6.6m-6.6 6h6.6m-6.6 6h6.6m-12.6 6h6.6m-6.6 6h6.6m53.4 0h6.6m-66.6 6h6.6m-6.6 6h6.6m-6.6 6h6.6m-6.6 54h6.6m-6.6 6h6.6m-6.6 6h6.6m-6.6 6h6.6m53.4 0h6.6m-66.6 6h6.6m-.6 6h6.6m-6.6 6h6.6m-6.6 6h6.6m-6.6 6h12.6m-6.6 6h6.6m-6.6 6h12.6m41.4 0h6.6m-60.6 6h12.6m41.4 0h6.6"/>
<path stroke="#f2ff0d" stroke-width="12.6" d="M1757.6 3001.1h24.6m-24.6 12h24.6m11.4 0h12.6m-48.6 204h24.6m11.4 0h12.6m-48.6 12h24.6"/>
<path stroke="#ffff00" stroke-width="6.6" d="M1763.6 3022.1h18.6m17.4 0h6.6m-42.6 6h6.6m-12.6 6h6.6m-6.6 6h6.6m-12.6 6h6.6m-6.6 6h6.6m41.4 6h6.6m-60.6 6h6.6m47.4 0h6.6m-60.6 6h6.6m-6.6 6h6.6m-12.6 18h6.6m-6.6 6h6.6m-6.6 6h6.6m-6.6 6h6.6m-6.6 6h6.6m-6.6 6h6.6m-6.6 6h6.6m-6.6 6h6.6m-.6 18h6.6m-6.6 6h6.6m-6.6 6h6.6m47.4 0h6.6m-6.6 6h6.6m-54.6 6h6.6m-6.6 6h6.6m-.6 6h6.6m-6.6 6h6.6m-.6 6h6.6m-6.6 6h18.6m17.4 0h6.6"/>
<path stroke="#ffff00" stroke-width="12.6" d="M1781.6 3013.1h12.6m-12.6 204h12.6"/>
<path stroke="#fff200" stroke-width="6.6" d="M1781.6 3022.1h18.6m-30.6 6h12.6m17.4 0h6.6m-42.6 6h6.6m29.4 0h6.6m-42.6 6h6.6m29.4 0h6.6m-48.6 6h6.6m35.4 0h6.6m-6.6 6h6.6m-54.6 6h6.6m-6.6 6h6.6m-12.6 18h6.6m-6.6 6h6.6m-6.6 6h6.6m41.4 12h6.6m-6.6 6h6.6m-6.6 6h6.6m-6.6 6h6.6m-54.6 12h6.6m-6.6 6h6.6m-6.6 6h6.6m-.6 18h6.6m-6.6 6h6.6m41.4 6h6.6m-48.6 6h6.6m35.4 0h6.6m-42.6 6h6.6m29.4 0h6.6m-42.6 6h6.6m29.4 0h6.6m-36.6 6h12.6m17.4 0h6.6m-24.6 6h18.6"/>
<path stroke="#ffe500" stroke-width="6.6" d="M1781.6 3028.1h18.6m-30.6 6h6.6m-12.6 12h6.6m-12.6 6h6.6m-6.6 6h6.6m-12.6 12h6.6m-6.6 6h6.6m35.4 12h6.6m-6.6 6h6.6m-54.6 6h6.6m41.4 0h6.6m-54.6 6h6.6m-6.6 6h6.6m-6.6 6h6.6m-6.6 6h6.6m-6.6 6h6.6m41.4 0h6.6m-6.6 6h6.6m-6.6 6h6.6m-48.6 12h6.6m-6.6 6h6.6m-.6 12h6.6m-6.6 6h6.6m-.6 6h6.6m-.6 12h12.6m-.6 6h18.6"/>
<path stroke="#ffd900" stroke-width="6.6" d="M1775.6 3034.1h12.6m5.4 0h6.6m-30.6 6h6.6m-12.6 12h6.6m-12.6 12h6.6m29.4 12h6.6m-48.6 6h6.6m35.4 0h6.6m-48.6 66h6.6m35.4 0h6.6m-6.6 6h6.6m-42.6 12h6.6m-.6 12h6.6m-.6 12h6.6m5.4 6h18.6"/>
<path stroke="#ffcc00" stroke-width="6.6" d="M1787.6 3034.1h6.6m-18.6 6h6.6m11.4 0h6.6m-30.6 6h6.6m17.4 0h6.6m-6.6 6h6.6m-36.6 6h6.6m23.4 0h6.6m-6.6 6h6.6m-42.6 6h6.6m29.4 0h6.6m-48.6 18h6.6m-6.6 6h6.6m-6.6 6h6.6m-6.6 30h6.6m-6.6 6h6.6m-6.6 6h6.6m-.6 18h6.6m29.4 0h6.6m-6.6 6h6.6m-36.6 6h6.6m23.4 0h6.6m-6.6 6h6.6m-30.6 6h6.6m17.4 0h6.6m-24.6 6h6.6m11.4 0h6.6"/>
<path stroke="#ffbf00" stroke-width="6.6" d="M1781.6 3040.1h12.6m-18.6 6h6.6m-12.6 6h6.6m-12.6 12h6.6m-12.6 12h6.6m-12.6 30h6.6m-6.6 6h6.6m-6.6 6h6.6m-6.6 6h6.6m-.6 30h6.6m-.6 12h6.6m-.6 12h6.6m-.6 6h6.6m-.6 6h12.6"/>
<path stroke="#ffb300" stroke-width="6.6" d="M1781.6 3046.1h12.6m-18.6 6h6.6m5.4 0h6.6m-24.6 6h6.6m-12.6 12h6.6m-12.6 12h6.6m-6.6 6h6.6m-6.6 54h6.6m-6.6 6h6.6m-.6 12h6.6m-.6 12h6.6m-.6 6h6.6m5.4 0h6.6m-12.6 6h12.6"/>
<path stroke="#ffa600" stroke-width="6.6" d="M1781.6 3052.1h6.6m-.6 6h6.6m-36.6 36h6.6m23.4 6h6.6m-6.6 6h6.6m-6.6 6h6.6m-6.6 6h6.6m-6.6 6h6.6m-6.6 6h6.6m-36.6 6h6.6m5.4 30h6.6m11.4 6h6.6m-12.6 6h6.6"/>
<path stroke="#ff9900" stroke-width="6.6" d="M1775.6 3058.1h12.6m-18.6 6h6.6m11.4 0h6.6m-6.6 6h6.6m-30.6 6h6.6m17.4 0h6.6m-6.6 6h6.6m-6.6 6h6.6m-6.6 6h6.6m-36.6 6h6.6m-6.6 6h6.6m-6.6 6h6.6m-6.6 6h6.6m-6.6 6h6.6m-6.6 6h6.6m23.4 6h6.6m-6.6 6h6.6m-6.6 6h6.6m-30.6 6h6.6m17.4 0h6.6m-6.6 6h6.6m-6.6 6h6.6m-18.6 6h12.6"/>
<path stroke="#ff8c00" stroke-width="6.6" d="M1775.6 3064.1h12.6m-18.6 6h6.6m-12.6 12h6.6m-6.6 6h6.6m-6.6 54h6.6m-6.6 6h6.6m-.6 12h6.6m-.6 6h12.6"/>
<path stroke="#ff8000" stroke-width="6.6" d="M1775.6 3070.1h12.6m-18.6 6h6.6m-12.6 18h6.6m-6.6 42h6.6m-.6 18h6.6m5.4 0h6.6m-12.6 6h12.6"/>
<path stroke="#ff7300" stroke-width="6.6" d="M1775.6 3076.1h12.6m-18.6 6h6.6m5.4 0h6.6m-6.6 6h6.6m-6.6 6h6.6m-24.6 6h6.6m-6.6 6h6.6m-6.6 6h6.6m-6.6 6h6.6m-6.6 6h6.6m-6.6 6h6.6m11.4 6h6.6m-6.6 6h6.6m-18.6 6h6.6m5.4 0h6.6m-12.6 6h6.6"/>
<path stroke="#ff6600" stroke-width="6.6" d="M1775.6 3082.1h6.6m-12.6 6h6.6m5.4 12h6.6m-6.6 6h6.6m-6.6 6h6.6m-6.6 6h6.6m-6.6 6h6.6m-6.6 6h6.6m-18.6 12h6.6m-.6 6h6.6"/>
<path stroke="#ff5900" stroke-width="6.6" d="M1775.6 3088.1h6.6m-12.6 6h12.6m-12.6 6h6.6m-6.6 6h6.6m-6.6 18h6.6m-6.6 6h6.6m-6.6 6h12.6m-6.6 6h6.6"/>
<path stroke="#ff4c00" stroke-width="6.6" d="M1775.6 3100.1h6.6m-6.6 6h6.6m-12.6 6h12.6m-12.6 6h12.6m-6.6 6h6.6m-6.6 6h6.6"/>
</g>
<path fill="url(#pt5)" d="M2243.5 3086.1h21.6v10h-21.6zM1600.6 3096.2h50.6v10h-50.6zM2153.2 3096.2h111.9v10h-111.9zM1600.6 3106.2h140.9v10h-140.9zM2042.7 3106.2h222.4v10h-222.4zM1600.6 3116.2h120.9v10h-120.9zM2042.7 3116.2h222.4v10h-222.4zM1600.6 3126.3h40.5v10h-40.5zM2183.3 3126.3h81.8v10h-81.8z"/>
<use href="#ar5" stroke="#000" stroke-width="3" fill="none"/>
<use href="#ar5" stroke="#000" fill="none" stroke-width="6.2" stroke-linecap="round" stroke-dasharray="4 199" stroke-dashoffset="-2.6"/>
</g>
<defs><linearGradient id="jetg" x1="0" y1="0" x2="0" y2="1"><stop offset="0" stop-color="#a00000"/><stop offset=".1" stop-color="#ff0000"/><stop offset=".2" stop-color="#ff8000"/><stop offset=".32" stop-color="#ffff00"/><stop offset=".45" stop-color="#80ff80"/><stop offset=".58" stop-color="#00ffff"/><stop offset=".8" stop-color="#0000ff"/><stop offset="1" stop-color="#00008a"/></linearGradient></defs>
<text x="58.5" y="1962.1" font-size="72" letter-spacing="5">(e)</text>
<text x="1153" y="1923.8" font-size="71" font-style="italic">k</text>
<text x="1185.2" y="1945.1" font-size="51">u</text>
<text transform="translate(1225 1925.1) scale(1.120 1)" font-size="71">=</text>
<text x="1285.2" y="1922.6" font-size="71" letter-spacing="2.5">-1.5</text>
<rect x="483.2" y="1992.2" width="155.8" height="82.4" fill="#fff"/>
<text x="496.7" y="2058" font-size="71" font-style="italic">h</text>
<text transform="translate(548.3 2059.4) scale(1.120 1)" font-size="71">=</text>
<text x="593.3" y="2056.9" font-size="71" letter-spacing="2.5">0</text>
<rect x="1164.1" y="1987.5" width="208.8" height="80.3" fill="#fff"/>
<text x="1176.3" y="2050.8" font-size="71" font-style="italic">h</text>
<text transform="translate(1227.9 2052.2) scale(1.120 1)" font-size="71">=</text>
<text x="1272.9" y="2049.7" font-size="71" letter-spacing="2.5">1.4</text>
<rect x="1894" y="1987.5" width="201.6" height="79" fill="#fff"/>
<text x="1906.4" y="2050.8" font-size="71" font-style="italic">h</text>
<text transform="translate(1958 2052.2) scale(1.120 1)" font-size="71">=</text>
<text x="2003" y="2049.7" font-size="71" letter-spacing="2.5">2.8</text>
<rect x="266.4" y="2287.7" width="99.3" height="250.9" fill="#fff" stroke="#342a28" stroke-width="2.2"/>
<rect x="312.6" y="2337.2" width="36.6" height="183.8" fill="url(#jetg)"/>
<text x="308.1" y="2317.1" font-size="49" font-style="italic">m</text>
<text x="344.7" y="2328.5" font-size="36">z</text>
<text x="283.8" y="2355.6" font-size="53">1</text>
<text x="281.3" y="2442.5" font-size="53">0</text>
<text x="267" y="2536.4" font-size="53">-</text>
<text x="288" y="2534.8" font-size="53">1</text>
<rect x="941.4" y="2300.3" width="99.3" height="250.9" fill="#fff" stroke="#342a28" stroke-width="2.2"/>
<rect x="987.6" y="2349.8" width="36.6" height="183.8" fill="url(#jetg)"/>
<text x="983.1" y="2329.7" font-size="49" font-style="italic">m</text>
<text x="1019.7" y="2341.1" font-size="36">z</text>
<text x="958.8" y="2368.2" font-size="53">1</text>
<text x="956.3" y="2455.1" font-size="53">0</text>
<text x="942" y="2549" font-size="53">-</text>
<text x="963" y="2547.4" font-size="53">1</text>
<rect x="1622.9" y="2294.7" width="99.3" height="250.9" fill="#fff" stroke="#342a28" stroke-width="2.2"/>
<rect x="1669.1" y="2344.2" width="36.6" height="183.8" fill="url(#jetg)"/>
<text x="1664.6" y="2324.1" font-size="49" font-style="italic">m</text>
<text x="1701.2" y="2335.5" font-size="36">z</text>
<text x="1640.3" y="2362.6" font-size="53">1</text>
<text x="1637.8" y="2449.5" font-size="53">0</text>
<text x="1623.5" y="2543.4" font-size="53">-</text>
<text x="1644.5" y="2541.8" font-size="53">1</text>
<rect x="201.8" y="1942.9" width="56.4" height="31.7" fill="#fff" stroke="#8a8282" stroke-width="1.3"/>
<text x="230.5" y="1970.9" font-size="38.8" text-anchor="middle" letter-spacing="1">15</text>
<rect x="228.9" y="2601.8" width="55.9" height="32.8" fill="#fff" stroke="#8a8282" stroke-width="1.3"/>
<text x="257.4" y="2630.9" font-size="38.8" text-anchor="middle" letter-spacing="1">-15</text>
<rect x="857.3" y="2601.8" width="55.7" height="32.8" fill="#fff" stroke="#8a8282" stroke-width="1.3"/>
<text x="885.7" y="2630.9" font-size="38.8" text-anchor="middle" letter-spacing="1">15</text>
<text x="176.8" y="2309.4" font-size="71" font-style="italic">y</text>
<text x="528.9" y="2692.6" font-size="71" font-style="italic">x</text>
<text x="1246.9" y="2683.6" font-size="71" font-style="italic">x</text>
<text x="1965.5" y="2679.6" font-size="71" font-style="italic">x</text>
<text x="70.8" y="2795.7" font-size="72" letter-spacing="5">(f)</text>
<text x="1182.9" y="2754.8" font-size="71" font-style="italic">h</text>
<text transform="translate(1234.5 2756.2) scale(1.120 1)" font-size="71">=</text>
<text x="1297.5" y="2753.7" font-size="71" letter-spacing="2.5">0</text>
<rect x="450.2" y="2804.3" width="267.3" height="95.9" fill="#fff"/>
<text x="467.5" y="2864.1" font-size="66" font-style="italic">k</text>
<text x="497.5" y="2883.9" font-size="47.4">u</text>
<text transform="translate(534.5 2865.3) scale(1.120 1)" font-size="66">=</text>
<text x="590.4" y="2863" font-size="66" letter-spacing="2.3">-2.3</text>
<rect x="1128.5" y="2796.6" width="268.1" height="96.4" fill="#fff"/>
<text x="1145.8" y="2856.4" font-size="66" font-style="italic">k</text>
<text x="1175.8" y="2876.2" font-size="47.4">u</text>
<text transform="translate(1212.8 2857.6) scale(1.120 1)" font-size="66">=</text>
<text x="1268.7" y="2855.3" font-size="66" letter-spacing="2.3">-1.7</text>
<rect x="1831" y="2803" width="257" height="91" fill="#fff"/>
<text x="1848.3" y="2862.8" font-size="66" font-style="italic">k</text>
<text x="1878.3" y="2882.6" font-size="47.4">u</text>
<text transform="translate(1915.3 2864) scale(1.120 1)" font-size="66">=</text>
<text x="1971.2" y="2861.7" font-size="66" letter-spacing="2.3">-1.0</text>
<rect x="257.1" y="3129.7" width="99.3" height="250.9" fill="#fff" stroke="#342a28" stroke-width="2.2"/>
<rect x="303.3" y="3179.2" width="36.6" height="183.8" fill="url(#jetg)"/>
<text x="298.8" y="3159.1" font-size="49" font-style="italic">m</text>
<text x="335.4" y="3170.5" font-size="36">z</text>
<text x="274.5" y="3197.6" font-size="53">1</text>
<text x="272" y="3284.5" font-size="53">0</text>
<text x="257.7" y="3378.4" font-size="53">-</text>
<text x="278.7" y="3376.8" font-size="53">1</text>
<rect x="931.7" y="3142.1" width="99.3" height="250.9" fill="#fff" stroke="#342a28" stroke-width="2.2"/>
<rect x="977.9" y="3191.6" width="36.6" height="183.8" fill="url(#jetg)"/>
<text x="973.4" y="3171.5" font-size="49" font-style="italic">m</text>
<text x="1010" y="3182.9" font-size="36">z</text>
<text x="949.1" y="3210" font-size="53">1</text>
<text x="946.6" y="3296.9" font-size="53">0</text>
<text x="932.3" y="3390.8" font-size="53">-</text>
<text x="953.3" y="3389.2" font-size="53">1</text>
<rect x="1612.6" y="3135.6" width="99.3" height="250.9" fill="#fff" stroke="#342a28" stroke-width="2.2"/>
<rect x="1658.8" y="3185.1" width="36.6" height="183.8" fill="url(#jetg)"/>
<text x="1654.3" y="3165" font-size="49" font-style="italic">m</text>
<text x="1690.9" y="3176.4" font-size="36">z</text>
<text x="1630" y="3203.5" font-size="53">1</text>
<text x="1627.5" y="3290.4" font-size="53">0</text>
<text x="1613.2" y="3384.3" font-size="53">-</text>
<text x="1634.2" y="3382.7" font-size="53">1</text>
<rect x="2228.1" y="2760.2" width="54.3" height="31.2" fill="#fff" stroke="#8a8282" stroke-width="1.3"/>
<text x="2255.8" y="2787.7" font-size="38.8" text-anchor="middle" letter-spacing="1">10</text>
<rect x="1592.6" y="3423.1" width="56.8" height="31.3" fill="#fff" stroke="#8a8282" stroke-width="1.3"/>
<text x="1621.5" y="3450.7" font-size="38.8" text-anchor="middle" letter-spacing="1">-10</text>
<rect x="2221.7" y="3422.1" width="56.4" height="32.3" fill="#fff" stroke="#8a8282" stroke-width="1.3"/>
<text x="2250.4" y="3450.7" font-size="38.8" text-anchor="middle" letter-spacing="1">10</text>
<text x="171.9" y="3088.6" font-size="71" font-style="italic">y</text>
<text x="565.9" y="3498.6" font-size="71" font-style="italic">x</text>
<text x="1246.9" y="3493.6" font-size="71" font-style="italic">x</text>
<text x="1902.5" y="3482.6" font-size="71" font-style="italic">x</text>
</svg></body></html>
